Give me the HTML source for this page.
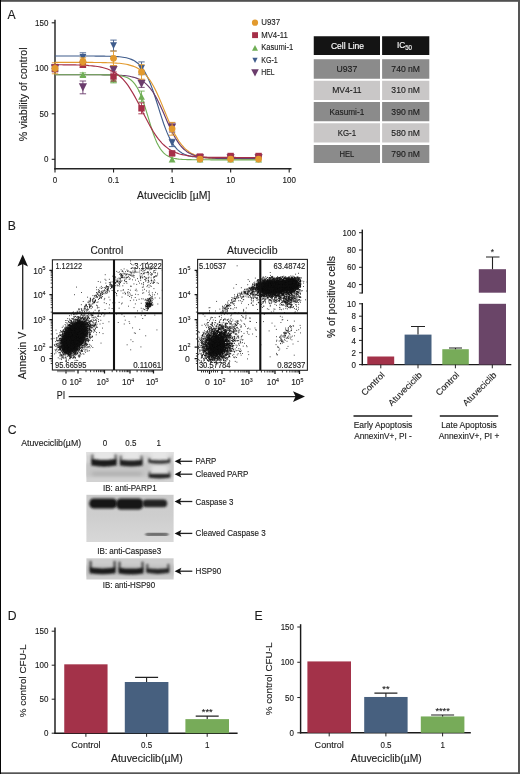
<!DOCTYPE html>
<html><head><meta charset="utf-8"><title>Figure</title>
<style>html,body{margin:0;padding:0;background:#fff;}body{width:520px;height:774px;overflow:hidden;font-family:"Liberation Sans",sans-serif;}svg{display:block;will-change:transform}svg text{stroke:#1c1c1c;stroke-width:0.13px}svg text.wh{stroke:#fff;stroke-width:0.15px}</style>
</head><body>
<svg width="520" height="774" viewBox="0 0 520 774" font-family="'Liberation Sans', sans-serif">
<rect x="0" y="0" width="520" height="774" fill="#fff"/>
<text x="7.6" y="19" font-size="12.2" fill="#1c1c1c">A</text>
<line x1="55.0" y1="19.8" x2="55.0" y2="169.4" stroke="#242424" stroke-width="1.45"/>
<line x1="54.3" y1="168.7" x2="291.5" y2="168.7" stroke="#242424" stroke-width="1.45"/>
<line x1="51.7" y1="22.80000000000001" x2="55.0" y2="22.80000000000001" stroke="#222" stroke-width="1.1"/>
<text x="48.4" y="25.900000000000013" font-size="8.6" text-anchor="end" textLength="13.34" lengthAdjust="spacingAndGlyphs" fill="#1c1c1c">150</text>
<line x1="51.7" y1="68.30000000000001" x2="55.0" y2="68.30000000000001" stroke="#222" stroke-width="1.1"/>
<text x="48.4" y="71.4" font-size="8.6" text-anchor="end" textLength="13.34" lengthAdjust="spacingAndGlyphs" fill="#1c1c1c">100</text>
<line x1="51.7" y1="113.80000000000001" x2="55.0" y2="113.80000000000001" stroke="#222" stroke-width="1.1"/>
<text x="48.4" y="116.9" font-size="8.6" text-anchor="end" textLength="8.90" lengthAdjust="spacingAndGlyphs" fill="#1c1c1c">50</text>
<line x1="51.7" y1="159.3" x2="55.0" y2="159.3" stroke="#222" stroke-width="1.1"/>
<text x="48.4" y="162.4" font-size="8.6" text-anchor="end" textLength="4.45" lengthAdjust="spacingAndGlyphs" fill="#1c1c1c">0</text>
<line x1="55.0" y1="168.7" x2="55.0" y2="172.6" stroke="#222" stroke-width="1.1"/>
<text x="55.0" y="183.2" font-size="8.6" text-anchor="middle" textLength="4.45" lengthAdjust="spacingAndGlyphs" fill="#1c1c1c">0</text>
<line x1="113.55" y1="168.7" x2="113.55" y2="172.6" stroke="#222" stroke-width="1.1"/>
<text x="113.55" y="183.2" font-size="8.6" text-anchor="middle" textLength="11.12" lengthAdjust="spacingAndGlyphs" fill="#1c1c1c">0.1</text>
<line x1="172.1" y1="168.7" x2="172.1" y2="172.6" stroke="#222" stroke-width="1.1"/>
<text x="172.1" y="183.2" font-size="8.6" text-anchor="middle" textLength="4.45" lengthAdjust="spacingAndGlyphs" fill="#1c1c1c">1</text>
<line x1="230.64999999999998" y1="168.7" x2="230.64999999999998" y2="172.6" stroke="#222" stroke-width="1.1"/>
<text x="230.64999999999998" y="183.2" font-size="8.6" text-anchor="middle" textLength="8.90" lengthAdjust="spacingAndGlyphs" fill="#1c1c1c">10</text>
<line x1="289.2" y1="168.7" x2="289.2" y2="172.6" stroke="#222" stroke-width="1.1"/>
<text x="289.2" y="183.2" font-size="8.6" text-anchor="middle" textLength="13.34" lengthAdjust="spacingAndGlyphs" fill="#1c1c1c">100</text>
<text x="26.6" y="94.3" font-size="10.4" text-anchor="middle" transform="rotate(-90 26.6 94.3)" textLength="93.83" lengthAdjust="spacingAndGlyphs" fill="#1c1c1c">% viability of control</text>
<text x="173.7" y="198.7" font-size="10.6" text-anchor="middle" textLength="73.35" lengthAdjust="spacingAndGlyphs" fill="#1c1c1c">Atuveciclib [µM]</text>
<path d="M55.0,56.0 L56.7,56.0 L58.4,56.0 L60.1,56.0 L61.8,56.0 L63.5,56.0 L65.2,56.0 L66.9,56.0 L68.6,56.0 L70.3,56.0 L72.0,56.0 L73.7,56.0 L75.4,56.0 L77.1,56.0 L78.8,56.0 L80.4,56.0 L82.1,56.0 L83.8,56.0 L85.5,56.0 L87.2,56.0 L88.9,56.0 L90.6,56.0 L92.3,56.0 L94.0,56.0 L95.7,56.1 L97.4,56.1 L99.1,56.1 L100.8,56.1 L102.5,56.1 L104.2,56.1 L105.9,56.2 L107.6,56.2 L109.3,56.2 L111.0,56.3 L112.7,56.3 L114.4,56.4 L116.1,56.5 L117.8,56.6 L119.5,56.8 L121.2,57.0 L122.9,57.2 L124.6,57.5 L126.3,57.8 L128.0,58.2 L129.6,58.7 L131.3,59.4 L133.0,60.1 L134.7,61.0 L136.4,62.2 L138.1,63.5 L139.8,65.1 L141.5,67.1 L143.2,69.4 L144.9,72.1 L146.6,75.2 L148.3,78.7 L150.0,82.7 L151.7,87.1 L153.4,91.9 L155.1,97.0 L156.8,102.3 L158.5,107.7 L160.2,113.2 L161.9,118.4 L163.6,123.5 L165.3,128.1 L167.0,132.4 L168.7,136.3 L170.4,139.7 L172.1,142.7 L173.8,145.3 L175.5,147.4 L177.2,149.3 L178.8,150.8 L180.5,152.1 L182.2,153.2 L183.9,154.1 L185.6,154.8 L187.3,155.4 L189.0,155.9 L190.7,156.3 L192.4,156.6 L194.1,156.8 L195.8,157.0 L197.5,157.2 L199.2,157.3 L200.9,157.5 L202.6,157.6 L204.3,157.6 L206.0,157.7 L207.7,157.7 L209.4,157.8 L211.1,157.8 L212.8,157.8 L214.5,157.8 L216.2,157.9 L217.9,157.9 L219.6,157.9 L221.3,157.9 L223.0,157.9 L224.7,157.9 L226.4,157.9 L228.0,157.9 L229.7,157.9 L231.4,157.9 L233.1,157.9 L234.8,157.9 L236.5,157.9 L238.2,157.9 L239.9,157.9 L241.6,157.9 L243.3,157.9 L245.0,157.9 L246.7,157.9 L248.4,157.9 L250.1,157.9 L251.8,157.9 L253.5,157.9 L255.2,157.9 L256.9,157.9 L258.6,157.9" fill="none" stroke="#3F5C8C" stroke-width="1.15"/>
<path d="M55.0,62.4 L56.7,62.4 L58.4,62.4 L60.1,62.4 L61.8,62.4 L63.5,62.4 L65.2,62.4 L66.9,62.4 L68.6,62.4 L70.3,62.4 L72.0,62.4 L73.7,62.4 L75.4,62.4 L77.1,62.4 L78.8,62.4 L80.4,62.4 L82.1,62.4 L83.8,62.4 L85.5,62.4 L87.2,62.4 L88.9,62.4 L90.6,62.4 L92.3,62.4 L94.0,62.5 L95.7,62.5 L97.4,62.5 L99.1,62.5 L100.8,62.5 L102.5,62.6 L104.2,62.6 L105.9,62.6 L107.6,62.7 L109.3,62.7 L111.0,62.8 L112.7,62.9 L114.4,63.0 L116.1,63.1 L117.8,63.2 L119.5,63.3 L121.2,63.5 L122.9,63.7 L124.6,64.0 L126.3,64.3 L128.0,64.6 L129.6,65.1 L131.3,65.6 L133.0,66.1 L134.7,66.8 L136.4,67.6 L138.1,68.5 L139.8,69.6 L141.5,70.8 L143.2,72.3 L144.9,73.9 L146.6,75.8 L148.3,78.0 L150.0,80.4 L151.7,83.0 L153.4,86.0 L155.1,89.2 L156.8,92.7 L158.5,96.4 L160.2,100.4 L161.9,104.4 L163.6,108.6 L165.3,112.8 L167.0,116.9 L168.7,121.0 L170.4,124.9 L172.1,128.6 L173.8,132.1 L175.5,135.4 L177.2,138.3 L178.8,141.0 L180.5,143.4 L182.2,145.5 L183.9,147.4 L185.6,149.1 L187.3,150.5 L189.0,151.8 L190.7,152.9 L192.4,153.8 L194.1,154.6 L195.8,155.3 L197.5,155.8 L199.2,156.3 L200.9,156.8 L202.6,157.1 L204.3,157.4 L206.0,157.7 L207.7,157.9 L209.4,158.1 L211.1,158.2 L212.8,158.3 L214.5,158.5 L216.2,158.5 L217.9,158.6 L219.6,158.7 L221.3,158.7 L223.0,158.8 L224.7,158.8 L226.4,158.9 L228.0,158.9 L229.7,158.9 L231.4,158.9 L233.1,158.9 L234.8,159.0 L236.5,159.0 L238.2,159.0 L239.9,159.0 L241.6,159.0 L243.3,159.0 L245.0,159.0 L246.7,159.0 L248.4,159.0 L250.1,159.0 L251.8,159.0 L253.5,159.0 L255.2,159.0 L256.9,159.0 L258.6,159.0" fill="none" stroke="#E29A2E" stroke-width="1.15"/>
<path d="M55.0,74.7 L56.7,74.7 L58.4,74.7 L60.1,74.7 L61.8,74.7 L63.5,74.7 L65.2,74.7 L66.9,74.7 L68.6,74.7 L70.3,74.7 L72.0,74.7 L73.7,74.7 L75.4,74.7 L77.1,74.7 L78.8,74.7 L80.4,74.7 L82.1,74.7 L83.8,74.7 L85.5,74.7 L87.2,74.7 L88.9,74.7 L90.6,74.7 L92.3,74.7 L94.0,74.7 L95.7,74.7 L97.4,74.7 L99.1,74.7 L100.8,74.7 L102.5,74.8 L104.2,74.8 L105.9,74.8 L107.6,74.8 L109.3,74.8 L111.0,74.9 L112.7,74.9 L114.4,75.0 L116.1,75.0 L117.8,75.1 L119.5,75.2 L121.2,75.3 L122.9,75.5 L124.6,75.6 L126.3,75.8 L128.0,76.0 L129.6,76.3 L131.3,76.7 L133.0,77.1 L134.7,77.5 L136.4,78.1 L138.1,78.8 L139.8,79.5 L141.5,80.5 L143.2,81.6 L144.9,82.9 L146.6,84.3 L148.3,86.1 L150.0,88.0 L151.7,90.3 L153.4,92.8 L155.1,95.6 L156.8,98.6 L158.5,101.9 L160.2,105.5 L161.9,109.2 L163.6,113.1 L165.3,117.0 L167.0,120.9 L168.7,124.7 L170.4,128.4 L172.1,131.9 L173.8,135.2 L175.5,138.2 L177.2,140.9 L178.8,143.4 L180.5,145.6 L182.2,147.5 L183.9,149.2 L185.6,150.6 L187.3,151.9 L189.0,152.9 L190.7,153.8 L192.4,154.6 L194.1,155.3 L195.8,155.8 L197.5,156.3 L199.2,156.7 L200.9,157.0 L202.6,157.2 L204.3,157.5 L206.0,157.7 L207.7,157.8 L209.4,157.9 L211.1,158.0 L212.8,158.1 L214.5,158.2 L216.2,158.3 L217.9,158.3 L219.6,158.4 L221.3,158.4 L223.0,158.4 L224.7,158.5 L226.4,158.5 L228.0,158.5 L229.7,158.5 L231.4,158.5 L233.1,158.5 L234.8,158.5 L236.5,158.5 L238.2,158.5 L239.9,158.5 L241.6,158.6 L243.3,158.6 L245.0,158.6 L246.7,158.6 L248.4,158.6 L250.1,158.6 L251.8,158.6 L253.5,158.6 L255.2,158.6 L256.9,158.6 L258.6,158.6" fill="none" stroke="#6B3C6C" stroke-width="1.15"/>
<path d="M55.0,74.7 L56.7,74.7 L58.4,74.7 L60.1,74.7 L61.8,74.7 L63.5,74.7 L65.2,74.7 L66.9,74.7 L68.6,74.7 L70.3,74.7 L72.0,74.7 L73.7,74.7 L75.4,74.7 L77.1,74.7 L78.8,74.7 L80.4,74.7 L82.1,74.7 L83.8,74.7 L85.5,74.7 L87.2,74.7 L88.9,74.7 L90.6,74.7 L92.3,74.7 L94.0,74.7 L95.7,74.7 L97.4,74.7 L99.1,74.7 L100.8,74.7 L102.5,74.7 L104.2,74.8 L105.9,74.8 L107.6,74.8 L109.3,74.9 L111.0,74.9 L112.7,75.0 L114.4,75.1 L116.1,75.2 L117.8,75.4 L119.5,75.6 L121.2,75.9 L122.9,76.2 L124.6,76.7 L126.3,77.3 L128.0,78.1 L129.6,79.1 L131.3,80.3 L133.0,81.9 L134.7,83.9 L136.4,86.3 L138.1,89.2 L139.8,92.7 L141.5,96.8 L143.2,101.5 L144.9,106.6 L146.6,112.1 L148.3,117.7 L150.0,123.4 L151.7,128.8 L153.4,133.8 L155.1,138.4 L156.8,142.4 L158.5,145.8 L160.2,148.6 L161.9,151.0 L163.6,152.8 L165.3,154.4 L167.0,155.6 L168.7,156.5 L170.4,157.2 L172.1,157.8 L173.8,158.3 L175.5,158.6 L177.2,158.9 L178.8,159.1 L180.5,159.2 L182.2,159.4 L183.9,159.5 L185.6,159.5 L187.3,159.6 L189.0,159.6 L190.7,159.6 L192.4,159.7 L194.1,159.7 L195.8,159.7 L197.5,159.7 L199.2,159.7 L200.9,159.7 L202.6,159.7 L204.3,159.7 L206.0,159.7 L207.7,159.7 L209.4,159.7 L211.1,159.8 L212.8,159.8 L214.5,159.8 L216.2,159.8 L217.9,159.8 L219.6,159.8 L221.3,159.8 L223.0,159.8 L224.7,159.8 L226.4,159.8 L228.0,159.8 L229.7,159.8 L231.4,159.8 L233.1,159.8 L234.8,159.8 L236.5,159.8 L238.2,159.8 L239.9,159.8 L241.6,159.8 L243.3,159.8 L245.0,159.8 L246.7,159.8 L248.4,159.8 L250.1,159.8 L251.8,159.8 L253.5,159.8 L255.2,159.8 L256.9,159.8 L258.6,159.8" fill="none" stroke="#6FAE55" stroke-width="1.15"/>
<path d="M55.0,64.7 L56.7,64.7 L58.4,64.7 L60.1,64.7 L61.8,64.7 L63.5,64.8 L65.2,64.8 L66.9,64.8 L68.6,64.8 L70.3,64.8 L72.0,64.9 L73.7,64.9 L75.4,64.9 L77.1,65.0 L78.8,65.0 L80.4,65.1 L82.1,65.2 L83.8,65.2 L85.5,65.3 L87.2,65.4 L88.9,65.6 L90.6,65.7 L92.3,65.9 L94.0,66.1 L95.7,66.3 L97.4,66.5 L99.1,66.8 L100.8,67.1 L102.5,67.5 L104.2,68.0 L105.9,68.5 L107.6,69.0 L109.3,69.7 L111.0,70.4 L112.7,71.3 L114.4,72.3 L116.1,73.3 L117.8,74.6 L119.5,76.0 L121.2,77.5 L122.9,79.2 L124.6,81.1 L126.3,83.2 L128.0,85.4 L129.6,87.9 L131.3,90.6 L133.0,93.4 L134.7,96.4 L136.4,99.5 L138.1,102.8 L139.8,106.1 L141.5,109.5 L143.2,112.9 L144.9,116.3 L146.6,119.6 L148.3,122.8 L150.0,126.0 L151.7,128.9 L153.4,131.8 L155.1,134.4 L156.8,136.8 L158.5,139.1 L160.2,141.2 L161.9,143.1 L163.6,144.8 L165.3,146.3 L167.0,147.6 L168.7,148.9 L170.4,149.9 L172.1,150.9 L173.8,151.7 L175.5,152.5 L177.2,153.1 L178.8,153.7 L180.5,154.2 L182.2,154.6 L183.9,155.0 L185.6,155.3 L187.3,155.6 L189.0,155.9 L190.7,156.1 L192.4,156.3 L194.1,156.4 L195.8,156.6 L197.5,156.7 L199.2,156.8 L200.9,156.9 L202.6,157.0 L204.3,157.0 L206.0,157.1 L207.7,157.2 L209.4,157.2 L211.1,157.2 L212.8,157.3 L214.5,157.3 L216.2,157.3 L217.9,157.3 L219.6,157.4 L221.3,157.4 L223.0,157.4 L224.7,157.4 L226.4,157.4 L228.0,157.4 L229.7,157.4 L231.4,157.4 L233.1,157.4 L234.8,157.4 L236.5,157.5 L238.2,157.5 L239.9,157.5 L241.6,157.5 L243.3,157.5 L245.0,157.5 L246.7,157.5 L248.4,157.5 L250.1,157.5 L251.8,157.5 L253.5,157.5 L255.2,157.5 L256.9,157.5 L258.6,157.5" fill="none" stroke="#A52F48" stroke-width="1.15"/>
<path d="M55.0,65.6V71.0M51.8,65.6h6.4M51.8,71.0h6.4" stroke="#6B3C6C" stroke-width="0.9" fill="none"/>
<path d="M55.0,72.4L59.1,64.2L50.9,64.2Z" fill="#6B3C6C"/>
<path d="M82.9,81.0V93.8M79.7,81.0h6.4M79.7,93.8h6.4" stroke="#6B3C6C" stroke-width="0.9" fill="none"/>
<path d="M82.9,91.5L87.0,83.3L78.8,83.3Z" fill="#6B3C6C"/>
<path d="M113.5,65.6V74.7M110.3,65.6h6.4M110.3,74.7h6.4" stroke="#6B3C6C" stroke-width="0.9" fill="none"/>
<path d="M113.5,74.2L117.6,66.0L109.5,66.0Z" fill="#6B3C6C"/>
<path d="M141.5,80.1V87.4M138.3,80.1h6.4M138.3,87.4h6.4" stroke="#6B3C6C" stroke-width="0.9" fill="none"/>
<path d="M141.5,87.9L145.6,79.7L137.4,79.7Z" fill="#6B3C6C"/>
<path d="M172.1,122.9V132.0M168.9,122.9h6.4M168.9,132.0h6.4" stroke="#6B3C6C" stroke-width="0.9" fill="none"/>
<path d="M172.1,131.6L176.2,123.4L168.0,123.4Z" fill="#6B3C6C"/>
<path d="M200.0,162.5L204.1,154.3L195.9,154.3Z" fill="#6B3C6C"/>
<path d="M230.6,162.5L234.7,154.3L226.5,154.3Z" fill="#6B3C6C"/>
<path d="M258.6,162.5L262.7,154.3L254.5,154.3Z" fill="#6B3C6C"/>
<path d="M55.0,65.6V71.0M51.8,65.6h6.4M51.8,71.0h6.4" stroke="#3F5C8C" stroke-width="0.9" fill="none"/>
<path d="M55.0,71.7L58.4,64.9L51.6,64.9Z" fill="#3F5C8C"/>
<path d="M82.9,52.8V61.9M79.7,52.8h6.4M79.7,61.9h6.4" stroke="#3F5C8C" stroke-width="0.9" fill="none"/>
<path d="M82.9,60.8L86.3,54.0L79.5,54.0Z" fill="#3F5C8C"/>
<path d="M113.5,40.1V51.0M110.3,40.1h6.4M110.3,51.0h6.4" stroke="#3F5C8C" stroke-width="0.9" fill="none"/>
<path d="M113.5,49.0L117.0,42.2L110.1,42.2Z" fill="#3F5C8C"/>
<path d="M141.5,61.9V74.7M138.3,61.9h6.4M138.3,74.7h6.4" stroke="#3F5C8C" stroke-width="0.9" fill="none"/>
<path d="M141.5,71.7L144.9,64.9L138.1,64.9Z" fill="#3F5C8C"/>
<path d="M172.1,139.3V146.6M168.9,139.3h6.4M168.9,146.6h6.4" stroke="#3F5C8C" stroke-width="0.9" fill="none"/>
<path d="M172.1,146.3L175.5,139.5L168.7,139.5Z" fill="#3F5C8C"/>
<path d="M200.0,161.8L203.4,155.0L196.6,155.0Z" fill="#3F5C8C"/>
<path d="M230.6,160.9L234.0,154.1L227.2,154.1Z" fill="#3F5C8C"/>
<path d="M258.6,160.9L262.0,154.1L255.2,154.1Z" fill="#3F5C8C"/>
<path d="M55.0,66.5V70.1M51.8,66.5h6.4M51.8,70.1h6.4" stroke="#6FAE55" stroke-width="0.9" fill="none"/>
<path d="M55.0,65.1L58.4,71.5L51.6,71.5Z" fill="#6FAE55"/>
<path d="M82.9,72.9V76.5M79.7,72.9h6.4M79.7,76.5h6.4" stroke="#6FAE55" stroke-width="0.9" fill="none"/>
<path d="M82.9,71.4L86.3,77.9L79.5,77.9Z" fill="#6FAE55"/>
<path d="M113.5,75.6V82.9M110.3,75.6h6.4M110.3,82.9h6.4" stroke="#6FAE55" stroke-width="0.9" fill="none"/>
<path d="M113.5,76.0L117.0,82.5L110.1,82.5Z" fill="#6FAE55"/>
<path d="M141.5,91.1V102.0M138.3,91.1h6.4M138.3,102.0h6.4" stroke="#6FAE55" stroke-width="0.9" fill="none"/>
<path d="M141.5,93.3L144.9,99.7L138.1,99.7Z" fill="#6FAE55"/>
<path d="M172.1,156.1L175.5,162.5L168.7,162.5Z" fill="#6FAE55"/>
<path d="M200.0,156.1L203.4,162.5L196.6,162.5Z" fill="#6FAE55"/>
<path d="M230.6,156.1L234.0,162.5L227.2,162.5Z" fill="#6FAE55"/>
<path d="M258.6,156.1L262.0,162.5L255.2,162.5Z" fill="#6FAE55"/>
<path d="M55.0,64.7V71.9M51.8,64.7h6.4M51.8,71.9h6.4" stroke="#A52F48" stroke-width="0.9" fill="none"/>
<rect x="51.8" y="65.1" width="6.4" height="6.4" fill="#A52F48"/>
<path d="M82.9,61.9V67.4M79.7,61.9h6.4M79.7,67.4h6.4" stroke="#A52F48" stroke-width="0.9" fill="none"/>
<rect x="79.7" y="61.5" width="6.4" height="6.4" fill="#A52F48"/>
<path d="M113.5,71.9V81.0M110.3,71.9h6.4M110.3,81.0h6.4" stroke="#A52F48" stroke-width="0.9" fill="none"/>
<rect x="110.3" y="73.3" width="6.4" height="6.4" fill="#A52F48"/>
<path d="M141.5,102.9V113.8M138.3,102.9h6.4M138.3,113.8h6.4" stroke="#A52F48" stroke-width="0.9" fill="none"/>
<rect x="138.3" y="105.1" width="6.4" height="6.4" fill="#A52F48"/>
<path d="M172.1,151.6V155.2M168.9,151.6h6.4M168.9,155.2h6.4" stroke="#A52F48" stroke-width="0.9" fill="none"/>
<rect x="168.9" y="150.2" width="6.4" height="6.4" fill="#A52F48"/>
<rect x="196.8" y="153.4" width="6.4" height="6.4" fill="#A52F48"/>
<rect x="227.4" y="152.8" width="6.4" height="6.4" fill="#A52F48"/>
<rect x="255.4" y="152.8" width="6.4" height="6.4" fill="#A52F48"/>
<path d="M55.0,62.8V73.8M51.8,62.8h6.4M51.8,73.8h6.4" stroke="#E29A2E" stroke-width="0.9" fill="none"/>
<circle cx="55.0" cy="68.3" r="3.4" fill="#E29A2E"/>
<path d="M82.9,57.8V65.1M79.7,57.8h6.4M79.7,65.1h6.4" stroke="#E29A2E" stroke-width="0.9" fill="none"/>
<circle cx="82.9" cy="61.5" r="3.4" fill="#E29A2E"/>
<path d="M113.5,51.0V65.6M110.3,51.0h6.4M110.3,65.6h6.4" stroke="#E29A2E" stroke-width="0.9" fill="none"/>
<circle cx="113.5" cy="58.3" r="3.4" fill="#E29A2E"/>
<path d="M141.5,64.7V79.2M138.3,64.7h6.4M138.3,79.2h6.4" stroke="#E29A2E" stroke-width="0.9" fill="none"/>
<circle cx="141.5" cy="71.9" r="3.4" fill="#E29A2E"/>
<path d="M172.1,122.4V135.2M168.9,122.4h6.4M168.9,135.2h6.4" stroke="#E29A2E" stroke-width="0.9" fill="none"/>
<circle cx="172.1" cy="128.8" r="3.4" fill="#E29A2E"/>
<circle cx="200.0" cy="159.1" r="3.4" fill="#E29A2E"/>
<circle cx="230.6" cy="159.1" r="3.4" fill="#E29A2E"/>
<circle cx="258.6" cy="159.1" r="3.4" fill="#E29A2E"/>
<circle cx="255.0" cy="22.7" r="3.1" fill="#E29A2E"/>
<text x="261.2" y="25.4" font-size="8.5" textLength="18.88" lengthAdjust="spacingAndGlyphs" fill="#1c1c1c">U937</text>
<rect x="252.1" y="32.2" width="5.9" height="5.9" fill="#A52F48"/>
<text x="261.2" y="38" font-size="8.5" textLength="26.58" lengthAdjust="spacingAndGlyphs" fill="#1c1c1c">MV4-11</text>
<path d="M255.0,45.0L258.0,50.8L252.0,50.8Z" fill="#6FAE55"/>
<text x="261.2" y="50.3" font-size="8.5" textLength="31.98" lengthAdjust="spacingAndGlyphs" fill="#1c1c1c">Kasumi-1</text>
<path d="M255.0,63.1L257.6,57.7L252.4,57.7Z" fill="#3F5C8C"/>
<text x="261.2" y="63.1" font-size="8.5" textLength="16.58" lengthAdjust="spacingAndGlyphs" fill="#1c1c1c">KG-1</text>
<path d="M255.0,76.6L258.8,69.2L251.2,69.2Z" fill="#6B3C6C"/>
<text x="261.2" y="75.4" font-size="8.5" textLength="13.38" lengthAdjust="spacingAndGlyphs" fill="#1c1c1c">HEL</text>
<rect x="313.75" y="36.25" width="66.25" height="18.75" fill="#141414"/>
<rect x="382.10" y="36.25" width="47.20" height="18.75" fill="#141414"/>
<text x="347.475" y="48.725" font-size="8.8" text-anchor="middle" textLength="33.20" lengthAdjust="spacingAndGlyphs" fill="#fff" class="wh">Cell Line</text>
<text x="404.40000000000003" y="47.825" font-size="8.8" text-anchor="middle" fill="#fff" class="wh" textLength="15" lengthAdjust="spacingAndGlyphs">IC<tspan font-size="6.5" dy="2.6">50</tspan></text>
<rect x="313.75" y="59.25" width="66.25" height="19.50" fill="#8B8B8B"/>
<rect x="382.10" y="59.25" width="47.20" height="19.50" fill="#8B8B8B"/>
<text x="346.875" y="72.1" font-size="8.8" text-anchor="middle" textLength="20.70" lengthAdjust="spacingAndGlyphs" fill="#1c1c1c">U937</text>
<text x="405.70000000000005" y="72.1" font-size="8.8" text-anchor="middle" textLength="28.70" lengthAdjust="spacingAndGlyphs" fill="#1c1c1c">740 nM</text>
<rect x="313.75" y="80.75" width="66.25" height="19.25" fill="#C9C7C7"/>
<rect x="382.10" y="80.75" width="47.20" height="19.25" fill="#C9C7C7"/>
<text x="346.875" y="93.475" font-size="8.8" text-anchor="middle" textLength="29.40" lengthAdjust="spacingAndGlyphs" fill="#1c1c1c">MV4-11</text>
<text x="405.70000000000005" y="93.475" font-size="8.8" text-anchor="middle" textLength="28.70" lengthAdjust="spacingAndGlyphs" fill="#1c1c1c">310 nM</text>
<rect x="313.75" y="102.00" width="66.25" height="19.25" fill="#8B8B8B"/>
<rect x="382.10" y="102.00" width="47.20" height="19.25" fill="#8B8B8B"/>
<text x="346.875" y="114.725" font-size="8.8" text-anchor="middle" textLength="34.70" lengthAdjust="spacingAndGlyphs" fill="#1c1c1c">Kasumi-1</text>
<text x="405.70000000000005" y="114.725" font-size="8.8" text-anchor="middle" textLength="28.70" lengthAdjust="spacingAndGlyphs" fill="#1c1c1c">390 nM</text>
<rect x="313.75" y="123.25" width="66.25" height="19.25" fill="#C9C7C7"/>
<rect x="382.10" y="123.25" width="47.20" height="19.25" fill="#C9C7C7"/>
<text x="346.875" y="135.975" font-size="8.8" text-anchor="middle" textLength="18.40" lengthAdjust="spacingAndGlyphs" fill="#1c1c1c">KG-1</text>
<text x="405.70000000000005" y="135.975" font-size="8.8" text-anchor="middle" textLength="28.70" lengthAdjust="spacingAndGlyphs" fill="#1c1c1c">580 nM</text>
<rect x="313.75" y="145.00" width="66.25" height="18.00" fill="#8B8B8B"/>
<rect x="382.10" y="145.00" width="47.20" height="18.00" fill="#8B8B8B"/>
<text x="346.875" y="157.1" font-size="8.8" text-anchor="middle" textLength="14.90" lengthAdjust="spacingAndGlyphs" fill="#1c1c1c">HEL</text>
<text x="405.70000000000005" y="157.1" font-size="8.8" text-anchor="middle" textLength="28.70" lengthAdjust="spacingAndGlyphs" fill="#1c1c1c">790 nM</text>
<text x="7.8" y="229.5" font-size="12.2" fill="#1c1c1c">B</text>
<filter id="blb" x="-30%" y="-30%" width="160%" height="160%"><feGaussianBlur stdDeviation="0.9"/></filter>
<clipPath id="c52"><rect x="52.4" y="259.8" width="109.9" height="110.19999999999999"/></clipPath>
<g clip-path="url(#c52)">
<ellipse cx="73.7" cy="337.4" rx="10.2" ry="18.6" transform="rotate(32 73.7 337.4)" fill="#161616" opacity="1" filter="url(#blb)"/>
<ellipse cx="148.5" cy="303.5" rx="1.6" ry="2.6" transform="rotate(20 148.5 303.5)" fill="#161616" opacity="0.75" filter="url(#blb)"/>
<path d="M74.9,340.9h.85M71.2,338.2h.85M68.1,344.2h.85M81.4,329.6h.85M80.2,329.7h.85M76.7,334.7h.85M69.5,353.3h.85M78.7,334.7h.85M57.0,345.8h.85M67.1,343.1h.85M75.1,334.7h.85M73.4,331.2h.85M77.2,336.0h.85M78.6,347.7h.85M82.3,336.4h.85M67.2,340.1h.85M71.6,339.8h.85M78.2,332.9h.85M67.0,338.1h.85M77.0,345.1h.85M70.9,344.5h.85M68.9,329.4h.85M80.2,340.8h.85M62.1,352.6h.85M69.4,335.7h.85M76.0,333.1h.85M70.4,351.6h.85M81.7,334.7h.85M82.8,326.8h.85M68.2,332.5h.85M74.0,330.5h.85M65.5,337.2h.85M66.4,343.5h.85M70.6,320.9h.85M67.6,349.8h.85M83.8,327.4h.85M72.1,332.2h.85M72.8,349.2h.85M80.1,328.9h.85M77.1,336.6h.85M84.8,326.3h.85M79.0,334.7h.85M72.0,353.7h.85M81.1,331.2h.85M60.9,351.3h.85M69.4,325.1h.85M77.7,341.8h.85M74.8,352.6h.85M75.9,332.4h.85M78.5,336.6h.85M79.8,339.7h.85M68.5,341.4h.85M79.2,329.0h.85M73.9,347.2h.85M79.1,324.2h.85M66.2,348.0h.85M71.6,337.6h.85M76.0,322.9h.85M74.1,323.4h.85M72.8,345.5h.85M83.6,330.8h.85M76.2,334.9h.85M77.3,337.8h.85M74.2,339.5h.85M76.7,332.7h.85M80.3,332.8h.85M85.5,322.1h.85M69.9,339.6h.85M78.1,340.1h.85M73.9,341.2h.85M70.9,314.9h.85M69.3,347.1h.85M76.9,334.8h.85M74.7,342.7h.85M72.7,333.5h.85M87.7,318.8h.85M70.5,341.5h.85M72.4,338.9h.85M57.8,357.8h.85M73.3,325.7h.85M78.0,340.7h.85M85.2,334.8h.85M63.6,350.0h.85M75.0,341.9h.85M66.6,320.5h.85M72.4,324.2h.85M70.2,327.4h.85M80.4,339.4h.85M74.0,339.1h.85M78.5,331.3h.85M80.6,342.6h.85M77.7,328.0h.85M82.2,311.8h.85M77.1,329.1h.85M77.8,338.3h.85M78.0,337.4h.85M58.9,345.1h.85M72.3,329.5h.85M61.6,341.2h.85M83.7,329.3h.85M76.8,322.6h.85M68.4,333.9h.85M85.2,335.8h.85M76.7,349.1h.85M77.9,328.8h.85M70.6,357.4h.85M70.5,336.3h.85M77.8,335.3h.85M76.5,322.2h.85M86.6,332.6h.85M80.3,325.1h.85M74.9,346.3h.85M75.0,336.7h.85M79.7,325.0h.85M60.4,354.7h.85M68.4,354.7h.85M72.5,332.9h.85M77.7,339.8h.85M80.5,340.6h.85M78.4,340.9h.85M89.0,330.1h.85M74.6,345.3h.85M59.2,349.2h.85M69.0,356.3h.85M67.5,347.2h.85M72.7,338.8h.85M71.9,342.8h.85M83.0,323.0h.85M81.2,336.0h.85M66.8,335.2h.85M76.1,345.0h.85M62.7,348.8h.85M82.6,331.5h.85M77.7,339.6h.85M69.0,332.5h.85M62.9,348.0h.85M75.8,328.2h.85M65.6,342.3h.85M65.5,349.3h.85M69.6,347.9h.85M63.5,357.3h.85M61.3,336.7h.85M76.1,330.6h.85M58.4,352.7h.85M73.1,333.6h.85M81.3,333.2h.85M78.7,332.9h.85M83.6,328.5h.85M66.2,327.5h.85M84.5,334.0h.85M70.1,338.3h.85M75.2,316.5h.85M87.7,340.7h.85M72.4,346.8h.85M82.7,321.7h.85M80.9,335.5h.85M68.8,344.3h.85M79.2,337.4h.85M72.7,337.0h.85M67.0,344.4h.85M78.8,330.4h.85M65.5,341.7h.85M92.6,319.2h.85M64.7,324.5h.85M79.2,333.7h.85M84.3,325.0h.85M75.9,339.4h.85M68.9,356.0h.85M72.1,332.6h.85M89.1,332.0h.85M63.6,346.6h.85M76.1,335.5h.85M67.2,337.6h.85M89.4,323.3h.85M61.4,342.9h.85M87.1,326.5h.85M86.8,325.0h.85M70.6,345.1h.85M59.4,352.5h.85M76.0,339.3h.85M69.5,342.8h.85M77.9,334.7h.85M78.0,332.8h.85M75.9,342.3h.85M70.1,334.5h.85M70.6,342.3h.85M74.0,338.6h.85M74.6,337.8h.85M67.1,334.6h.85M80.9,337.0h.85M75.1,333.2h.85M71.5,330.8h.85M64.5,352.8h.85M72.6,347.0h.85M55.9,338.2h.85M76.1,350.4h.85M65.4,336.3h.85M72.4,345.0h.85M77.1,333.8h.85M84.6,327.4h.85M76.5,339.2h.85M86.7,326.9h.85M73.8,325.8h.85M76.5,340.7h.85M77.4,342.9h.85M81.1,335.2h.85M84.8,346.6h.85M79.0,326.7h.85M86.6,344.3h.85M76.2,342.7h.85M78.8,329.4h.85M68.8,347.3h.85M81.0,337.8h.85M77.9,331.1h.85M80.7,332.0h.85M75.1,335.8h.85M75.8,341.3h.85M65.5,343.9h.85M66.9,332.9h.85M62.1,334.9h.85M73.1,344.5h.85M76.4,332.6h.85M65.9,335.0h.85M85.5,324.1h.85M75.1,325.9h.85M64.2,333.4h.85M82.2,333.8h.85M64.0,352.4h.85M68.6,327.0h.85M59.6,348.8h.85M64.0,338.2h.85M75.1,337.8h.85M80.3,334.3h.85M86.9,328.6h.85M64.8,346.4h.85M63.4,342.6h.85M73.4,338.0h.85M68.7,328.6h.85M67.5,347.2h.85M71.3,338.0h.85M69.9,335.6h.85M79.0,332.7h.85M70.2,336.0h.85M60.0,330.6h.85M69.0,345.3h.85M67.2,350.0h.85M68.0,332.0h.85M71.0,338.4h.85M79.0,335.4h.85M69.6,335.1h.85M72.8,338.3h.85M78.9,332.3h.85M63.7,339.1h.85M68.4,338.1h.85M67.7,345.9h.85M71.8,341.6h.85M74.5,331.9h.85M84.0,317.6h.85M79.9,328.8h.85M68.1,321.3h.85M71.2,344.1h.85M87.9,339.4h.85M81.5,338.5h.85M82.2,333.9h.85M75.6,332.7h.85M71.2,330.0h.85M74.9,324.8h.85M85.1,341.6h.85M72.8,339.2h.85M79.8,328.0h.85M71.0,344.6h.85M80.1,334.7h.85M78.2,348.7h.85M82.3,323.9h.85M73.1,333.9h.85M77.6,323.8h.85M74.9,330.4h.85M73.7,345.0h.85M80.5,326.5h.85M74.2,345.2h.85M75.0,338.6h.85M86.8,328.4h.85M82.0,348.3h.85M77.5,339.6h.85M70.3,342.4h.85M73.5,356.7h.85M74.9,322.7h.85M58.5,344.6h.85M77.5,326.5h.85M72.0,336.9h.85M68.0,335.0h.85M67.1,332.8h.85M74.9,338.8h.85M75.1,332.8h.85M70.0,345.1h.85M78.8,345.9h.85M77.1,330.8h.85M68.1,339.0h.85M67.4,343.8h.85M77.7,336.5h.85M86.6,338.9h.85M70.3,343.0h.85M79.0,309.2h.85M72.0,342.0h.85M76.5,337.3h.85M74.3,340.3h.85M77.7,339.2h.85M60.1,349.9h.85M68.9,334.3h.85M71.5,347.6h.85M73.5,344.4h.85M79.0,332.2h.85M75.9,332.9h.85M66.6,348.6h.85M73.6,332.1h.85M76.9,340.3h.85M72.4,346.3h.85M80.5,320.6h.85M73.8,335.7h.85M83.1,325.8h.85M75.0,328.0h.85M73.7,337.4h.85M71.7,355.9h.85M70.0,324.9h.85M76.9,330.9h.85M77.8,334.8h.85M65.2,348.7h.85M78.6,323.6h.85M62.2,341.5h.85M69.2,348.1h.85M84.4,324.9h.85M85.6,342.0h.85M68.0,339.5h.85M79.1,334.7h.85M63.1,342.0h.85M76.4,335.7h.85M66.3,347.2h.85M73.3,343.0h.85M72.8,338.0h.85M77.0,343.3h.85M79.1,325.0h.85M74.5,328.2h.85M77.7,338.9h.85M79.6,324.0h.85M74.4,338.5h.85M66.3,349.4h.85M72.2,343.8h.85M58.7,340.5h.85M75.2,337.8h.85M75.3,344.4h.85M69.5,337.7h.85M68.8,328.8h.85M70.3,342.7h.85M77.3,330.0h.85M72.2,332.9h.85M83.2,339.8h.85M81.6,349.9h.85M70.6,342.5h.85M79.5,338.9h.85M57.6,341.0h.85M80.6,334.8h.85M89.4,340.1h.85M76.0,336.4h.85M80.2,330.9h.85M76.3,320.2h.85M55.6,330.1h.85M76.1,329.6h.85M88.7,336.2h.85M72.6,336.6h.85M67.3,338.8h.85M73.7,344.3h.85M74.3,337.2h.85M77.3,341.4h.85M75.6,332.9h.85M76.4,331.5h.85M74.9,350.9h.85M71.6,330.7h.85M80.9,329.6h.85M73.6,354.7h.85M79.7,337.3h.85M74.1,335.3h.85M70.6,352.7h.85M72.6,336.2h.85M75.9,334.7h.85M75.4,330.8h.85M63.5,331.2h.85M74.9,342.7h.85M78.8,325.5h.85M80.7,343.0h.85M75.6,342.1h.85M82.4,323.9h.85M76.6,325.3h.85M74.5,335.4h.85M79.7,339.7h.85M82.7,316.1h.85M73.3,343.4h.85M70.8,347.3h.85M75.4,331.9h.85M69.1,328.4h.85M70.3,326.6h.85M67.7,341.3h.85M75.9,343.1h.85M72.3,335.5h.85M84.0,337.6h.85M75.6,338.3h.85M81.3,328.1h.85M79.2,355.0h.85M75.5,313.6h.85M75.6,338.9h.85M81.8,331.5h.85M67.4,336.4h.85M79.2,339.5h.85M63.4,343.0h.85M64.5,331.7h.85M70.4,338.1h.85M72.7,331.6h.85M67.5,343.2h.85M70.4,335.7h.85M77.4,339.4h.85M87.9,332.8h.85M67.9,342.4h.85M70.0,343.0h.85M70.0,329.1h.85M76.0,333.5h.85M66.0,352.9h.85M70.9,322.1h.85M78.9,331.4h.85M78.3,334.8h.85M79.3,326.1h.85M76.3,329.0h.85M73.6,329.0h.85M81.5,343.3h.85M75.3,333.2h.85M64.3,344.2h.85M79.2,338.5h.85M78.4,335.4h.85M80.0,341.6h.85M69.2,338.8h.85M78.6,330.3h.85M69.7,337.8h.85M75.5,341.2h.85M69.8,330.9h.85M76.8,334.4h.85M72.4,347.7h.85M70.8,338.6h.85M84.1,334.8h.85M72.4,344.1h.85M80.4,351.2h.85M77.0,344.8h.85M74.4,344.9h.85M72.9,311.9h.85M74.0,342.3h.85M70.2,336.1h.85M85.0,320.2h.85M69.6,353.1h.85M70.6,354.6h.85M71.6,342.4h.85M80.7,327.5h.85M58.7,343.5h.85M83.3,330.0h.85M73.8,346.4h.85M79.4,335.2h.85M61.0,354.6h.85M81.8,332.2h.85M66.6,322.9h.85M77.0,337.4h.85M82.1,313.9h.85M72.3,340.1h.85M76.2,328.8h.85M75.8,325.7h.85M72.6,333.6h.85M71.3,334.0h.85M71.0,353.4h.85M72.7,333.2h.85M79.5,338.6h.85M68.4,344.8h.85M79.0,334.5h.85M62.1,333.7h.85M81.6,328.3h.85M72.5,336.4h.85M73.1,333.9h.85M65.1,343.4h.85M67.9,340.3h.85M71.0,348.5h.85M70.3,349.8h.85M70.4,346.5h.85M81.7,326.8h.85M70.4,343.3h.85M66.3,331.0h.85M71.5,342.7h.85M71.8,341.3h.85M81.1,333.7h.85M81.2,331.7h.85M72.3,339.6h.85M70.9,338.6h.85M64.7,333.6h.85M72.0,339.9h.85M68.8,345.1h.85M75.6,332.7h.85M71.9,312.8h.85M64.1,333.5h.85M91.3,337.3h.85M61.8,357.8h.85M75.0,332.2h.85M65.9,326.2h.85M79.9,331.5h.85M71.1,335.4h.85M74.7,330.7h.85M72.5,334.0h.85M62.3,355.3h.85M78.4,337.9h.85M69.2,344.3h.85M77.6,332.8h.85M89.5,333.2h.85M60.1,338.9h.85M85.4,334.9h.85M82.3,332.3h.85M67.3,340.2h.85M73.9,327.4h.85M59.9,348.9h.85M95.5,322.9h.85M66.9,340.7h.85M71.4,333.2h.85M80.0,326.5h.85M74.5,349.9h.85M71.9,342.7h.85M72.2,336.5h.85M72.1,332.6h.85M54.0,345.6h.85M63.8,345.3h.85M73.9,337.6h.85M77.2,333.2h.85M66.4,341.6h.85M62.3,353.9h.85M78.8,335.0h.85M72.4,337.8h.85M78.6,329.8h.85M80.3,333.1h.85M81.1,339.5h.85M69.2,340.8h.85M65.9,341.4h.85M90.0,330.0h.85M76.6,338.8h.85M83.6,330.2h.85M73.9,323.8h.85M72.7,343.8h.85M81.5,326.0h.85M67.8,343.2h.85M66.4,340.1h.85M78.4,323.3h.85M84.2,343.6h.85M81.4,328.8h.85M72.7,343.4h.85M84.9,326.1h.85M80.6,327.4h.85M75.4,332.5h.85M82.1,337.7h.85M66.3,348.6h.85M72.3,333.7h.85M76.0,342.1h.85M86.9,323.0h.85M68.1,330.1h.85M83.9,322.0h.85M68.3,334.3h.85M68.3,334.5h.85M76.4,338.1h.85M75.3,337.9h.85M76.3,348.4h.85M61.9,337.2h.85M69.2,336.5h.85M67.0,344.4h.85M69.7,331.4h.85M79.9,342.6h.85M76.5,331.3h.85M73.9,335.9h.85M77.0,339.9h.85M61.9,330.9h.85M69.5,334.8h.85M74.2,330.2h.85M84.9,342.6h.85M63.2,342.4h.85M55.3,341.6h.85M66.1,353.5h.85M61.7,336.9h.85M69.3,351.1h.85M68.2,342.5h.85M81.9,338.7h.85M88.5,324.7h.85M75.4,336.7h.85M89.7,327.0h.85M74.4,341.2h.85M75.5,335.1h.85M65.0,337.4h.85M63.8,337.0h.85M82.5,329.0h.85M74.4,351.2h.85M69.2,324.5h.85M86.9,324.9h.85M78.3,317.0h.85M78.5,334.3h.85M75.6,336.2h.85M72.0,324.4h.85M60.9,343.2h.85M68.1,340.0h.85M76.9,335.1h.85M70.7,335.0h.85M76.1,343.7h.85M78.1,331.4h.85M79.6,344.5h.85M73.9,344.0h.85M78.3,327.2h.85M72.7,327.3h.85M79.8,329.7h.85M69.0,352.1h.85M75.4,348.3h.85M69.6,342.3h.85M73.6,334.0h.85M72.5,333.6h.85M77.2,331.9h.85M61.8,327.4h.85M79.8,328.0h.85M65.3,351.9h.85M81.2,336.7h.85M75.7,350.6h.85M84.4,345.7h.85M76.3,340.5h.85M66.7,336.9h.85M83.6,331.2h.85M85.6,327.4h.85M63.0,337.0h.85M67.3,340.5h.85M72.5,345.6h.85M74.2,333.9h.85M74.0,335.5h.85M78.4,337.8h.85M75.4,327.5h.85M73.0,353.7h.85M79.6,339.7h.85M64.0,349.6h.85M67.1,332.8h.85M74.6,343.6h.85M86.8,333.3h.85M62.8,340.1h.85M80.9,335.9h.85M68.6,331.9h.85M81.5,333.4h.85M74.3,331.4h.85M79.1,337.2h.85M62.2,336.3h.85M77.7,336.1h.85M78.1,339.8h.85M70.5,341.8h.85M75.0,341.5h.85M80.6,323.7h.85M91.4,325.3h.85M80.6,332.7h.85M81.9,322.5h.85M68.2,335.0h.85M82.6,337.5h.85M78.5,334.3h.85M73.6,339.4h.85M71.6,351.9h.85M66.5,337.3h.85M66.1,340.9h.85M83.1,333.5h.85M71.4,351.0h.85M75.5,328.4h.85M62.8,347.1h.85M72.2,343.4h.85M62.4,334.2h.85M67.7,330.9h.85M72.6,326.4h.85M66.3,340.3h.85M77.2,345.5h.85M80.9,332.2h.85M68.1,330.1h.85M68.6,339.9h.85M71.3,346.7h.85M66.7,341.2h.85M58.8,339.6h.85M83.1,336.5h.85M70.0,333.0h.85M61.0,359.6h.85M81.3,328.4h.85M85.5,334.2h.85M77.4,326.9h.85M82.8,331.1h.85M64.1,348.5h.85M66.1,348.4h.85M71.6,329.5h.85M69.6,357.7h.85M82.7,338.6h.85M72.2,351.1h.85M93.8,326.5h.85M74.0,339.8h.85M77.8,341.5h.85M79.4,329.2h.85M70.5,350.4h.85M74.4,343.0h.85M82.8,340.0h.85M77.4,326.8h.85M83.9,339.7h.85M73.2,342.9h.85M85.8,331.4h.85M70.1,329.2h.85M68.6,348.2h.85M87.8,341.7h.85M74.9,347.6h.85M69.7,326.1h.85M70.5,344.4h.85M70.6,340.8h.85M72.3,331.1h.85M73.1,331.7h.85M73.6,343.3h.85M72.3,342.8h.85M82.0,324.5h.85M76.6,340.7h.85M77.1,343.5h.85M70.3,349.5h.85M67.4,339.1h.85M78.7,320.5h.85M85.8,325.1h.85M76.5,322.7h.85M86.8,332.0h.85M72.6,337.9h.85M87.0,318.0h.85M68.7,338.8h.85M77.6,334.7h.85M82.9,341.0h.85M74.4,341.3h.85M76.4,322.6h.85M87.7,334.4h.85M61.8,345.0h.85M59.8,340.2h.85M67.3,328.1h.85M83.2,337.6h.85M64.2,349.4h.85M67.8,355.1h.85M68.8,342.5h.85M76.7,338.5h.85M72.1,340.1h.85M71.6,342.0h.85M68.2,346.9h.85M61.7,351.4h.85M83.8,322.1h.85M68.7,348.2h.85M61.1,340.2h.85M73.6,345.4h.85M75.3,333.9h.85M64.0,341.6h.85M81.8,327.2h.85M59.0,338.7h.85M78.7,355.7h.85M67.7,346.3h.85M74.1,335.1h.85M65.9,335.5h.85M76.5,350.8h.85M74.0,345.9h.85M64.0,350.1h.85M80.0,338.3h.85M71.0,348.1h.85M72.2,332.0h.85M71.9,330.8h.85M69.7,343.7h.85M59.6,358.8h.85M61.8,341.0h.85M75.3,343.0h.85M77.8,344.3h.85M61.7,342.7h.85M83.5,326.0h.85M74.6,327.2h.85M79.1,331.6h.85M77.2,332.1h.85M76.8,325.7h.85M61.9,340.7h.85M76.1,325.8h.85M64.1,342.9h.85M65.5,337.1h.85M69.4,337.8h.85M66.5,338.9h.85M71.8,335.6h.85M75.6,337.1h.85M65.1,328.1h.85M67.3,339.3h.85M70.2,326.4h.85M68.8,342.2h.85M76.8,343.0h.85M76.2,343.7h.85M57.8,343.7h.85M82.0,328.8h.85M76.8,333.7h.85M70.5,329.8h.85M76.0,328.1h.85M79.2,329.6h.85M57.8,349.4h.85M78.8,327.8h.85M73.0,341.2h.85M69.1,339.1h.85M75.0,336.9h.85M81.7,325.2h.85M91.8,327.5h.85M87.5,326.6h.85M75.1,336.7h.85M69.6,336.3h.85M70.4,335.9h.85M84.6,325.7h.85M62.5,335.2h.85M71.6,336.5h.85M62.9,342.7h.85M65.2,357.1h.85M85.7,345.5h.85M72.9,337.1h.85M81.7,326.1h.85M72.9,334.8h.85M77.9,346.6h.85M87.0,334.3h.85M72.2,340.2h.85M74.0,347.3h.85M69.5,350.2h.85M86.0,332.7h.85M74.2,348.1h.85M66.6,340.8h.85M72.6,351.4h.85M79.3,322.3h.85M68.4,342.4h.85M91.2,320.1h.85M62.5,336.3h.85M76.1,346.2h.85M81.9,321.5h.85M67.9,341.4h.85M68.6,355.2h.85M73.4,349.2h.85M59.2,347.3h.85M71.6,332.7h.85M77.8,331.0h.85M70.8,348.6h.85M69.0,324.8h.85M85.4,324.1h.85M68.8,325.7h.85M68.5,342.1h.85M72.3,324.3h.85M59.7,338.4h.85M74.2,340.3h.85M62.5,349.1h.85M83.9,337.9h.85M75.7,331.0h.85M63.4,344.0h.85M71.2,343.1h.85M81.5,342.6h.85M70.2,331.8h.85M86.1,327.7h.85M70.9,334.3h.85M59.5,349.3h.85M74.6,327.6h.85M68.1,348.5h.85M77.9,337.1h.85M83.8,336.2h.85M74.2,347.0h.85M72.1,347.3h.85M75.9,336.6h.85M78.6,329.5h.85M83.6,330.9h.85M71.8,334.5h.85M67.5,341.8h.85M72.7,338.9h.85M91.8,315.2h.85M73.6,328.5h.85M68.7,342.1h.85M69.8,332.7h.85M79.2,322.6h.85M68.1,321.7h.85M75.1,338.2h.85M77.6,337.5h.85M76.0,335.5h.85M60.9,350.4h.85M65.0,358.0h.85M74.4,334.2h.85M66.9,342.2h.85M91.3,327.6h.85M79.6,341.6h.85M56.6,344.4h.85M67.2,338.6h.85M71.9,342.4h.85M85.9,311.0h.85M75.4,337.7h.85M78.0,340.3h.85M76.8,319.3h.85M73.4,335.2h.85M68.3,329.9h.85M53.9,344.6h.85M77.4,333.6h.85M62.9,329.7h.85M68.3,338.1h.85M62.3,346.0h.85M79.9,333.3h.85M76.1,339.0h.85M71.1,342.4h.85M76.6,338.6h.85M72.8,337.4h.85M70.1,336.5h.85M87.5,320.8h.85M86.8,340.6h.85M73.5,321.4h.85M81.3,334.2h.85M89.5,326.0h.85M72.1,327.6h.85M70.7,345.1h.85M71.5,330.2h.85M70.0,339.2h.85M75.7,337.8h.85M66.5,335.9h.85M87.6,332.0h.85M78.1,341.2h.85M79.2,335.7h.85M72.6,331.2h.85M81.5,335.7h.85M78.6,350.4h.85M93.0,325.9h.85M87.3,323.5h.85M69.2,338.2h.85M70.3,344.2h.85M76.8,339.6h.85M74.6,360.4h.85M85.1,318.9h.85M79.5,333.3h.85M74.2,334.5h.85M69.3,335.8h.85M74.6,335.8h.85M71.4,332.2h.85M74.2,337.1h.85M71.8,329.3h.85M80.6,336.8h.85M75.1,331.4h.85M70.2,340.6h.85M84.8,336.0h.85M70.0,336.7h.85M76.7,334.9h.85M65.7,342.4h.85M76.5,340.1h.85M63.0,343.9h.85M70.5,329.6h.85M76.0,337.5h.85M68.4,335.2h.85M71.9,336.8h.85M71.5,332.1h.85M71.3,323.5h.85M72.9,338.7h.85M75.8,327.7h.85M73.9,331.2h.85M85.8,336.5h.85M73.9,341.8h.85M73.8,347.7h.85M80.1,327.7h.85M70.0,347.6h.85M84.8,331.3h.85M69.2,325.3h.85M77.1,347.0h.85M73.0,350.5h.85M86.9,324.4h.85M77.9,327.3h.85M67.1,346.9h.85M72.6,338.8h.85M76.6,331.3h.85M76.8,337.0h.85M82.5,342.8h.85M76.4,334.0h.85M69.8,337.1h.85M81.3,326.9h.85M65.7,344.3h.85M71.0,337.1h.85M73.7,325.1h.85M77.0,333.8h.85M68.1,346.9h.85M75.7,339.5h.85M73.0,341.8h.85M60.3,347.5h.85M82.7,334.1h.85M70.9,335.6h.85M69.3,322.4h.85M73.0,345.7h.85M72.2,329.0h.85M71.2,356.8h.85M70.3,333.4h.85M78.4,339.5h.85M66.0,361.5h.85M67.6,325.2h.85M69.2,325.8h.85M81.4,329.3h.85M82.2,317.3h.85M78.8,340.4h.85M67.2,340.4h.85M71.6,340.1h.85M70.7,347.5h.85M76.9,333.1h.85M80.8,322.6h.85M77.8,325.2h.85M68.4,325.5h.85M74.0,335.2h.85M68.4,339.5h.85M68.6,338.0h.85M59.9,353.2h.85M68.5,340.2h.85M67.8,345.4h.85M76.6,330.2h.85M77.8,345.3h.85M83.1,332.2h.85M78.1,327.0h.85M78.4,341.6h.85M70.4,341.4h.85M77.5,335.4h.85M77.1,342.4h.85M76.3,340.9h.85M82.3,330.6h.85M72.0,327.9h.85M64.3,346.0h.85M83.3,337.9h.85M69.1,348.1h.85M66.0,342.0h.85M75.7,341.6h.85M80.5,339.1h.85M73.1,347.9h.85M78.8,330.0h.85M73.5,331.8h.85M66.4,344.9h.85M84.3,351.1h.85M79.2,346.1h.85M76.3,336.6h.85M73.8,329.0h.85M80.2,331.0h.85M69.0,351.3h.85M78.7,334.2h.85M79.8,323.3h.85M79.9,335.4h.85M75.0,348.1h.85M60.3,345.1h.85M71.3,329.9h.85M65.4,333.4h.85M68.8,333.4h.85M68.2,330.0h.85M74.8,332.9h.85M73.8,336.6h.85M68.2,332.3h.85M61.0,358.1h.85M66.9,343.5h.85M66.5,328.0h.85M67.1,341.6h.85M70.0,346.8h.85M69.2,336.0h.85M72.7,347.6h.85M73.3,344.3h.85M67.1,328.1h.85M68.4,346.0h.85M79.2,336.9h.85M82.8,333.9h.85M70.9,339.7h.85M75.7,329.8h.85M71.6,324.1h.85M76.3,331.5h.85M68.6,356.1h.85M75.5,334.9h.85M66.2,344.6h.85M77.5,322.7h.85M67.1,346.6h.85M67.5,337.8h.85M74.5,347.2h.85M75.8,354.7h.85M65.9,338.4h.85M80.4,332.6h.85M72.1,347.9h.85M60.2,349.4h.85M78.3,327.5h.85M69.7,349.3h.85M78.3,329.8h.85M63.1,350.8h.85M79.6,336.2h.85M81.9,321.6h.85M71.2,341.1h.85M75.4,324.8h.85M67.3,318.6h.85M74.6,328.9h.85M79.4,335.6h.85M67.4,346.6h.85M77.8,337.1h.85M64.4,341.9h.85M76.2,360.3h.85M71.8,338.2h.85M70.7,352.1h.85M77.9,345.9h.85M78.2,330.5h.85M72.2,328.1h.85M69.4,338.2h.85M67.5,347.6h.85M79.9,342.7h.85M67.0,343.3h.85M77.8,335.1h.85M71.7,335.7h.85M78.0,334.4h.85M63.3,351.4h.85M61.3,344.9h.85M74.8,336.3h.85M70.2,333.8h.85M68.5,336.2h.85M79.0,336.3h.85M88.6,326.9h.85M67.6,342.4h.85M70.5,345.8h.85M87.1,323.4h.85M56.8,351.3h.85M69.7,349.2h.85M75.2,338.2h.85M78.8,320.5h.85M78.9,350.0h.85M71.8,332.2h.85M56.3,349.1h.85M61.8,357.2h.85M78.7,339.9h.85M69.8,336.4h.85M79.1,348.9h.85M65.7,352.0h.85M76.9,338.9h.85M74.1,342.0h.85M77.2,330.3h.85M70.6,340.4h.85M68.0,344.5h.85M73.3,340.4h.85M86.7,330.4h.85M74.4,342.7h.85M78.9,337.2h.85M75.2,337.9h.85M67.7,338.7h.85M84.4,334.1h.85M79.2,333.3h.85M73.0,333.8h.85M68.0,353.6h.85M72.2,334.0h.85M75.0,348.9h.85M73.1,357.1h.85M88.3,339.2h.85M70.1,343.0h.85M72.0,341.8h.85M69.2,336.8h.85M75.5,326.3h.85M73.9,343.0h.85M69.0,340.3h.85M73.8,333.3h.85M67.0,347.0h.85M80.8,344.1h.85M72.9,349.0h.85M68.2,342.6h.85M73.4,340.7h.85M86.5,335.5h.85M76.9,346.4h.85M82.7,331.7h.85M74.3,346.1h.85M74.9,339.2h.85M75.6,341.4h.85M84.8,331.7h.85M77.5,341.9h.85M76.7,322.8h.85M74.9,321.5h.85M79.4,334.7h.85M82.6,326.2h.85M67.6,338.8h.85M71.1,349.7h.85M69.2,337.1h.85M72.8,330.7h.85M69.4,339.5h.85M89.1,328.3h.85M65.5,333.9h.85M75.5,335.3h.85M78.2,336.2h.85M76.6,342.6h.85M79.0,331.2h.85M69.5,339.1h.85M72.1,328.5h.85M69.4,336.4h.85M69.7,350.3h.85M73.8,337.6h.85M71.1,325.8h.85M74.8,338.7h.85M72.8,327.4h.85M78.4,332.2h.85M86.0,329.8h.85M86.8,339.2h.85M71.8,336.1h.85M67.6,337.3h.85M64.7,332.0h.85M75.4,339.2h.85M77.1,328.3h.85M77.7,324.2h.85M64.2,332.8h.85M66.2,341.1h.85M83.6,327.1h.85M70.8,347.5h.85M75.1,332.8h.85M72.5,336.2h.85M62.9,336.4h.85M79.3,341.7h.85M79.5,325.2h.85M69.1,342.6h.85M79.8,331.3h.85M72.6,342.9h.85M75.2,340.4h.85M65.0,336.2h.85M77.6,339.0h.85M67.9,345.7h.85M76.4,329.3h.85M80.0,348.3h.85M82.6,333.8h.85M76.7,349.4h.85M63.3,348.8h.85M83.6,335.3h.85M66.2,342.7h.85M65.9,330.2h.85M79.5,333.9h.85M74.1,342.4h.85M79.0,332.1h.85M83.3,337.6h.85M72.2,341.5h.85M76.0,344.4h.85M74.0,341.9h.85M74.8,336.4h.85M81.8,323.6h.85M84.5,328.6h.85M79.5,326.5h.85M81.8,332.2h.85M72.0,342.9h.85M73.0,338.2h.85M76.8,325.1h.85M57.6,345.4h.85M68.6,339.0h.85M76.5,338.8h.85M83.8,324.5h.85M72.7,331.6h.85M82.8,336.7h.85M71.4,321.3h.85M85.4,334.9h.85M71.0,326.6h.85M75.0,341.4h.85M72.1,331.8h.85M73.9,347.0h.85M73.9,351.8h.85M75.3,338.0h.85M64.6,345.9h.85M70.4,327.8h.85M77.4,317.2h.85M68.1,346.9h.85M79.5,335.7h.85M71.1,339.6h.85M70.0,337.5h.85M65.7,360.0h.85M75.7,335.8h.85M71.9,342.9h.85M73.4,337.2h.85M71.3,323.8h.85M70.2,332.3h.85M79.1,344.0h.85M68.1,345.4h.85M75.3,344.6h.85M61.4,340.1h.85M74.7,332.3h.85M77.2,342.9h.85M67.8,343.1h.85M76.4,337.3h.85M76.0,344.2h.85M82.8,318.8h.85M73.2,316.8h.85M79.0,325.4h.85M72.9,335.3h.85M64.9,338.6h.85M77.8,344.0h.85M77.7,327.5h.85M68.0,339.4h.85M76.2,351.7h.85M77.5,332.5h.85M66.8,338.2h.85M83.7,329.3h.85M73.7,347.5h.85M71.4,347.7h.85M67.3,343.6h.85M78.2,334.7h.85M74.9,327.1h.85M87.6,328.9h.85M75.9,338.7h.85M69.3,342.9h.85M67.8,347.8h.85M80.9,339.6h.85M82.1,332.3h.85M71.0,339.5h.85M73.2,340.6h.85M68.0,354.4h.85M63.9,348.0h.85M71.6,335.7h.85M81.4,324.2h.85M86.7,328.5h.85M73.2,342.3h.85M78.6,326.3h.85M71.7,335.0h.85M72.5,335.8h.85M78.8,339.5h.85M81.1,326.9h.85M78.7,338.2h.85M67.6,336.5h.85M74.9,326.0h.85M73.9,327.4h.85M77.9,320.2h.85M84.7,335.0h.85M75.9,349.0h.85M61.8,338.6h.85M80.5,333.7h.85M61.3,331.7h.85M72.1,336.9h.85M70.6,339.4h.85M62.6,349.5h.85M89.5,327.8h.85M68.8,338.1h.85M80.6,337.3h.85M72.0,328.4h.85M75.2,336.4h.85M86.2,329.6h.85M81.9,336.7h.85M78.9,344.7h.85M73.5,341.7h.85M74.1,327.6h.85M62.4,337.7h.85M74.3,335.9h.85M74.5,341.2h.85M63.5,353.6h.85M73.0,335.9h.85M85.6,336.2h.85M67.4,338.1h.85M71.3,342.2h.85M72.7,330.3h.85M74.0,326.7h.85M79.7,332.1h.85M85.9,339.9h.85M71.8,338.9h.85M80.0,336.1h.85M68.6,348.4h.85M73.1,344.8h.85M80.7,326.9h.85M74.1,338.6h.85M77.3,333.4h.85M68.6,338.3h.85M78.5,342.1h.85M79.4,341.9h.85M59.3,355.9h.85M75.1,335.1h.85M62.7,348.2h.85M74.0,324.0h.85M64.0,341.8h.85M74.1,343.4h.85M67.4,326.9h.85M78.2,324.3h.85M78.6,346.6h.85M67.8,334.4h.85M67.4,340.2h.85M67.4,344.2h.85M79.6,331.5h.85M79.8,355.9h.85M69.5,345.3h.85M77.4,339.2h.85M74.3,341.1h.85M84.4,321.3h.85M70.1,346.6h.85M68.2,342.5h.85M76.2,336.8h.85M76.3,341.9h.85M66.9,335.1h.85M76.4,329.5h.85M76.7,326.1h.85M78.0,333.8h.85M54.0,353.9h.85M74.8,350.0h.85M68.8,354.5h.85M81.3,330.3h.85M74.8,330.7h.85M74.8,338.0h.85M79.1,336.1h.85M69.6,336.9h.85M73.0,342.8h.85M60.1,346.6h.85M69.3,338.9h.85M60.4,331.8h.85M71.0,339.2h.85M68.5,325.7h.85M74.5,341.0h.85M81.6,336.9h.85M74.1,326.1h.85M75.3,331.4h.85M76.9,347.9h.85M66.9,339.7h.85M67.9,338.0h.85M80.4,330.6h.85M82.5,327.6h.85M75.6,345.1h.85M68.5,341.1h.85M73.2,338.7h.85M76.8,326.3h.85M75.4,334.5h.85M62.7,343.9h.85M74.6,340.2h.85M77.5,336.2h.85M72.0,335.6h.85M71.3,331.1h.85M65.8,346.8h.85M64.5,346.9h.85M67.6,341.5h.85M69.9,335.4h.85M63.9,335.7h.85M70.5,333.7h.85M62.8,326.1h.85M71.0,344.2h.85M60.3,355.2h.85M74.7,336.9h.85M67.6,349.6h.85M70.1,333.4h.85M77.2,331.4h.85M71.8,335.9h.85M76.9,333.3h.85M81.4,329.8h.85M69.8,341.5h.85M76.6,329.1h.85M78.1,335.8h.85M62.2,332.0h.85M75.4,336.9h.85M71.0,334.1h.85M79.1,327.5h.85M67.5,340.1h.85M70.5,331.4h.85M78.1,350.8h.85M85.0,330.1h.85M83.2,328.4h.85M71.1,353.9h.85M82.1,329.1h.85M70.0,356.1h.85M78.2,325.2h.85M78.0,338.5h.85M78.4,341.1h.85M77.4,338.7h.85M67.4,332.4h.85M83.5,354.2h.85M81.2,338.9h.85M87.2,333.3h.85M73.8,331.3h.85M65.1,331.6h.85M77.1,341.4h.85M64.2,354.8h.85M83.9,334.7h.85M66.3,342.7h.85M59.9,349.0h.85M85.9,339.1h.85M74.6,350.2h.85M73.6,332.5h.85M72.9,312.9h.85M74.5,338.5h.85M92.5,325.8h.85M85.5,320.0h.85M84.9,333.6h.85M78.0,334.3h.85M71.0,337.6h.85M76.8,352.5h.85M62.0,334.8h.85M74.9,335.1h.85M83.0,341.2h.85M72.1,337.4h.85M70.0,343.1h.85M72.6,341.3h.85M90.9,314.0h.85M78.5,349.6h.85M81.8,332.9h.85M81.1,334.1h.85M83.6,336.1h.85M85.0,333.3h.85M71.3,341.2h.85M74.7,345.8h.85M75.7,329.4h.85M88.8,340.3h.85M74.7,324.4h.85M76.3,339.9h.85M75.4,338.7h.85M81.1,329.0h.85M71.7,348.0h.85M73.8,338.4h.85M64.6,337.7h.85M66.1,346.1h.85M56.0,337.8h.85M74.1,324.9h.85M72.7,344.5h.85M68.2,360.1h.85M73.1,345.2h.85M72.9,342.0h.85M74.3,336.5h.85M58.0,347.4h.85M80.1,341.7h.85M73.6,343.1h.85M76.8,337.4h.85M71.7,325.2h.85M74.3,334.6h.85M68.3,337.3h.85M65.2,340.5h.85M80.0,353.2h.85M82.2,324.0h.85M72.9,328.7h.85M81.2,340.4h.85M69.0,334.7h.85M68.0,336.3h.85M65.9,347.6h.85M68.1,338.1h.85M65.2,341.6h.85M81.4,339.5h.85M83.1,345.4h.85M67.1,350.8h.85M67.4,345.9h.85M76.9,338.1h.85M76.8,326.8h.85M66.8,346.5h.85M72.0,333.0h.85M86.0,335.2h.85M68.5,349.5h.85M69.9,323.8h.85M73.8,335.0h.85M72.9,352.3h.85M72.6,334.2h.85M79.0,335.7h.85M80.3,332.9h.85M70.4,330.7h.85M72.3,341.0h.85M67.1,337.2h.85M66.0,352.3h.85M71.3,335.4h.85M67.6,338.0h.85M69.7,342.9h.85M73.8,344.3h.85M73.7,338.8h.85M81.7,337.8h.85M77.8,333.2h.85M69.3,336.3h.85M75.3,342.0h.85M73.1,334.4h.85M60.2,343.3h.85M80.1,337.7h.85M69.3,330.4h.85M73.8,339.6h.85M70.9,345.5h.85M69.0,336.5h.85M71.5,349.4h.85M71.4,331.9h.85M72.9,347.8h.85M75.3,331.7h.85M80.3,324.0h.85M73.7,348.7h.85M74.5,339.8h.85M69.4,334.1h.85M67.1,346.1h.85M76.0,323.4h.85M81.5,327.3h.85M69.6,346.8h.85M72.4,330.3h.85M65.0,355.0h.85M70.4,347.3h.85M63.8,351.9h.85M63.0,339.4h.85M73.4,339.7h.85M65.6,338.3h.85M66.8,330.6h.85M78.7,334.5h.85M86.1,326.7h.85M76.8,335.3h.85M67.8,333.3h.85M83.4,327.4h.85M67.1,336.2h.85M83.5,327.2h.85M71.1,348.5h.85M83.0,322.4h.85M73.8,333.0h.85M75.7,345.3h.85M89.4,313.5h.85M76.9,340.6h.85M75.7,341.8h.85M73.2,327.9h.85M68.2,345.5h.85M79.1,331.6h.85M73.5,323.6h.85M73.3,331.6h.85M75.8,337.4h.85M68.0,344.2h.85M69.3,347.2h.85M67.4,342.5h.85M71.9,333.7h.85M76.5,326.5h.85M79.3,331.5h.85M67.7,344.8h.85M68.0,342.8h.85M80.9,344.7h.85M79.0,345.1h.85M70.0,330.0h.85M65.6,357.3h.85M67.4,354.9h.85M80.6,330.4h.85M71.6,338.2h.85M73.7,334.4h.85M69.5,340.4h.85M76.7,326.4h.85M70.4,331.0h.85M64.0,338.9h.85M76.0,340.8h.85M73.0,333.5h.85M75.2,331.5h.85M76.9,335.2h.85M65.0,326.0h.85M71.0,349.7h.85M83.6,344.6h.85M70.1,337.5h.85M83.6,327.2h.85M85.4,324.0h.85M76.1,341.0h.85M67.9,342.2h.85M70.1,341.0h.85M75.4,329.8h.85M73.1,333.4h.85M65.4,322.5h.85M73.6,339.4h.85M73.2,348.6h.85M80.7,339.3h.85M81.4,331.6h.85M68.1,335.3h.85M70.6,337.7h.85M72.9,334.0h.85M81.3,308.9h.85M77.4,326.8h.85M76.9,341.8h.85M68.2,333.8h.85M74.9,333.5h.85M64.7,353.9h.85M65.3,343.4h.85M77.5,334.4h.85M82.3,345.8h.85M73.0,332.3h.85M74.4,335.1h.85M55.9,349.9h.85M76.5,354.0h.85M71.6,337.9h.85M75.6,344.5h.85M81.8,342.0h.85M85.2,335.9h.85M74.9,339.3h.85M70.9,340.2h.85M62.7,349.1h.85M66.2,342.8h.85M80.9,328.6h.85M83.7,330.2h.85M82.9,333.0h.85M74.5,344.3h.85M69.8,338.3h.85M89.5,334.2h.85M77.0,349.9h.85M74.0,328.4h.85M76.8,336.2h.85M74.0,333.4h.85M67.7,347.4h.85M81.6,332.9h.85M82.0,335.3h.85M68.8,344.9h.85M80.0,337.5h.85M76.9,337.6h.85M84.0,342.3h.85M63.1,354.2h.85M86.9,318.8h.85M65.5,351.9h.85M63.7,346.5h.85M82.7,340.5h.85M79.1,335.6h.85M79.7,330.0h.85M69.2,343.7h.85M74.2,333.9h.85M68.9,341.5h.85M61.8,346.0h.85M71.7,337.0h.85M80.4,341.0h.85M75.1,334.9h.85M63.2,343.3h.85M71.6,331.9h.85M71.0,330.9h.85M74.1,336.0h.85M76.8,328.5h.85M73.1,340.9h.85M81.8,341.7h.85M70.1,337.8h.85M74.4,341.1h.85M78.1,337.5h.85M78.4,355.1h.85M82.6,322.9h.85M68.7,347.1h.85M65.6,327.7h.85M67.1,333.0h.85M82.3,337.7h.85M71.9,325.0h.85M84.6,329.2h.85M74.3,341.5h.85M79.6,324.6h.85M71.2,335.8h.85M69.6,322.2h.85M76.3,323.5h.85M70.9,325.5h.85M66.5,342.9h.85M70.4,326.2h.85M73.8,330.8h.85M78.4,326.8h.85M75.4,333.0h.85M80.8,322.4h.85M82.7,343.2h.85M77.3,338.7h.85M71.1,343.6h.85M63.3,355.2h.85M63.8,338.0h.85M72.2,351.5h.85M68.9,329.7h.85M79.4,321.3h.85M73.1,340.9h.85M60.9,341.5h.85M75.6,346.5h.85M71.2,325.4h.85M79.8,328.1h.85M76.5,333.6h.85M71.2,331.2h.85M66.2,342.3h.85M74.8,341.9h.85M75.2,351.3h.85M68.0,340.5h.85M79.2,333.1h.85M67.3,336.9h.85M61.7,340.5h.85M84.3,331.5h.85M85.1,324.2h.85M78.9,336.9h.85M77.2,329.2h.85M85.4,340.7h.85M59.2,346.4h.85M72.6,346.9h.85M78.0,327.1h.85M76.8,332.0h.85M72.8,333.4h.85M73.6,337.5h.85M89.5,334.9h.85M67.4,352.9h.85M78.2,340.1h.85M82.5,331.3h.85M73.4,328.3h.85M73.2,355.3h.85M75.3,325.2h.85M83.1,329.2h.85M66.0,358.9h.85M74.3,348.3h.85M67.1,340.5h.85M65.3,348.7h.85M75.7,327.5h.85M74.6,357.9h.85M85.9,325.0h.85M65.7,338.0h.85M68.4,351.6h.85M75.3,324.2h.85M72.5,336.5h.85M74.9,340.7h.85M81.0,319.2h.85M82.9,333.8h.85M71.7,339.1h.85M72.2,350.8h.85M68.2,339.6h.85M70.2,334.3h.85M67.4,344.5h.85M80.1,325.2h.85M69.6,329.0h.85M72.7,357.6h.85M64.8,336.0h.85M76.1,339.9h.85M61.4,348.2h.85M70.8,332.6h.85M82.1,333.9h.85M74.0,332.6h.85M70.7,335.8h.85M74.6,339.2h.85M76.8,342.4h.85M83.9,315.6h.85M79.2,337.0h.85M75.8,331.6h.85M76.1,343.9h.85M79.2,333.9h.85M72.8,345.4h.85M76.8,330.6h.85M86.9,338.5h.85M67.5,353.6h.85M61.8,342.5h.85M75.2,340.7h.85M68.7,333.6h.85M64.2,346.9h.85M70.1,334.8h.85M74.5,354.0h.85M69.0,343.4h.85M68.4,339.9h.85M72.6,336.1h.85M71.4,329.1h.85M75.5,354.5h.85M77.0,340.1h.85M82.1,329.7h.85M66.8,332.5h.85M70.5,352.6h.85M79.7,333.7h.85M55.9,344.1h.85M63.2,342.1h.85M69.9,333.1h.85M78.7,323.2h.85M75.0,344.2h.85M71.3,332.1h.85M86.7,336.4h.85M66.7,346.2h.85M59.6,340.1h.85M80.1,334.4h.85M80.5,330.9h.85M63.8,353.0h.85M65.1,339.1h.85M71.9,348.2h.85M81.4,345.3h.85M67.3,328.1h.85M83.9,333.9h.85M68.4,333.6h.85M76.4,319.7h.85M64.6,332.5h.85M59.8,342.2h.85M84.6,332.2h.85M65.6,336.6h.85M75.3,338.9h.85M61.0,345.9h.85M76.6,340.1h.85M76.2,338.0h.85M56.2,339.9h.85M71.1,332.2h.85M71.4,337.2h.85M72.6,331.3h.85M81.0,326.0h.85M79.3,335.0h.85M80.8,330.3h.85M62.3,349.2h.85M85.1,324.0h.85M78.7,334.2h.85M67.5,340.4h.85M76.0,345.8h.85M83.9,339.6h.85M85.0,338.9h.85M70.6,330.3h.85M83.9,324.6h.85M80.7,328.5h.85M73.0,340.4h.85M62.7,342.7h.85M67.0,342.8h.85M66.6,347.7h.85M84.7,340.8h.85M82.7,322.6h.85M77.1,329.7h.85M75.6,334.1h.85M71.5,341.8h.85M68.5,350.3h.85M67.3,336.4h.85M74.6,341.8h.85M72.7,344.1h.85M83.9,337.3h.85M67.9,345.6h.85M83.3,337.6h.85M78.6,337.4h.85M63.8,347.2h.85M80.7,323.3h.85M81.1,318.0h.85M65.0,334.8h.85M78.2,333.0h.85M84.6,321.8h.85M66.0,335.2h.85M77.8,340.7h.85M83.2,335.0h.85M77.9,330.3h.85M77.6,333.0h.85M75.2,352.9h.85M70.7,331.2h.85M77.1,335.1h.85M85.5,333.6h.85M77.0,322.3h.85M65.9,352.9h.85M77.1,335.7h.85M66.1,344.8h.85M78.3,337.9h.85M86.1,320.7h.85M59.7,335.2h.85M78.5,328.3h.85M68.6,335.3h.85M69.0,326.2h.85M74.9,336.8h.85M81.4,338.7h.85M73.7,338.4h.85M70.8,325.9h.85M72.7,339.8h.85M74.8,327.3h.85M79.6,332.0h.85M59.4,344.8h.85M67.3,349.2h.85M78.2,337.8h.85M75.3,329.1h.85M83.0,331.2h.85M78.4,334.9h.85M69.1,348.7h.85M63.0,342.1h.85M72.7,340.5h.85M72.0,336.8h.85M69.7,345.9h.85M63.4,339.1h.85M81.1,340.8h.85M66.8,337.4h.85M88.8,331.3h.85M71.3,339.0h.85M88.8,344.3h.85M79.2,339.2h.85M67.4,328.4h.85M62.5,342.5h.85M76.5,334.1h.85M81.5,322.1h.85M75.7,335.0h.85M85.5,343.0h.85M82.2,339.4h.85M77.4,325.1h.85M75.4,330.7h.85M75.1,336.9h.85M71.7,335.7h.85M80.4,324.0h.85M85.3,336.6h.85M81.8,335.3h.85M85.9,329.4h.85M75.7,319.3h.85M83.8,321.7h.85M62.0,349.4h.85M66.7,348.4h.85M61.6,346.3h.85M76.0,335.4h.85M68.7,343.0h.85M73.7,338.3h.85M72.7,336.7h.85M70.6,325.5h.85M72.0,341.7h.85M69.2,338.9h.85M72.6,341.4h.85M79.2,326.7h.85M74.1,340.5h.85M63.4,333.5h.85M73.4,334.0h.85M73.9,343.8h.85M71.3,335.3h.85M54.7,349.7h.85M73.3,336.8h.85M77.1,334.4h.85M65.4,337.4h.85M67.6,345.7h.85M71.6,348.8h.85M58.6,342.7h.85M64.4,333.6h.85M77.3,321.3h.85M72.4,337.0h.85M61.3,338.7h.85M68.5,354.9h.85M89.2,335.5h.85M69.1,350.7h.85M77.7,339.9h.85M74.6,343.6h.85M81.2,331.9h.85M80.3,325.1h.85M78.2,322.8h.85M69.1,315.7h.85M70.1,334.8h.85M78.7,340.3h.85M77.9,331.8h.85M75.4,319.2h.85M76.9,348.3h.85M65.6,328.5h.85M69.9,331.0h.85M86.7,328.8h.85M77.2,345.5h.85M74.0,346.7h.85M76.1,332.3h.85M65.3,347.9h.85M59.6,354.1h.85M70.3,355.8h.85M57.4,337.9h.85M78.5,333.7h.85M81.3,347.7h.85M78.0,331.3h.85M56.5,333.7h.85M80.8,336.3h.85M64.1,337.9h.85M65.6,332.7h.85M77.5,339.5h.85M82.7,325.9h.85M78.4,337.9h.85M79.3,325.1h.85M63.9,344.8h.85M63.2,344.8h.85M74.8,339.3h.85M74.9,336.2h.85M74.0,341.4h.85M81.9,332.4h.85M80.0,324.4h.85M80.6,344.4h.85M76.8,336.9h.85M76.7,342.9h.85M67.0,337.6h.85M71.4,336.5h.85M76.2,329.5h.85M73.4,335.7h.85M72.5,332.7h.85M72.6,324.2h.85M68.5,338.3h.85M77.3,332.2h.85M74.7,332.4h.85M64.9,339.8h.85M69.6,338.4h.85M76.9,336.1h.85M78.2,329.1h.85M65.0,340.2h.85M75.8,337.9h.85M84.5,322.1h.85M91.5,328.7h.85M74.3,349.3h.85M85.9,332.1h.85M78.3,340.2h.85M71.0,341.0h.85M82.4,342.4h.85M77.3,341.9h.85M70.8,334.7h.85M78.2,337.3h.85M73.2,344.9h.85M66.0,340.4h.85M73.8,334.8h.85M61.1,340.4h.85M75.1,337.8h.85M72.4,341.6h.85M68.0,350.8h.85M77.2,334.8h.85M71.1,342.5h.85M79.5,339.4h.85M76.4,335.8h.85M74.3,345.7h.85M77.4,326.4h.85M78.5,333.1h.85M67.5,333.9h.85M73.8,317.6h.85M73.5,333.7h.85M77.6,326.8h.85M76.9,338.8h.85M73.6,332.1h.85M79.1,333.0h.85M76.3,327.8h.85M71.7,336.5h.85M70.8,344.8h.85M82.6,338.2h.85M74.0,341.1h.85M79.0,327.8h.85M74.8,337.2h.85M65.7,339.9h.85M80.2,328.8h.85M67.5,334.2h.85M79.9,339.8h.85M63.8,343.9h.85M86.1,332.6h.85M79.0,323.2h.85M73.3,330.3h.85M74.7,332.0h.85M81.1,339.7h.85M74.4,333.9h.85M75.3,337.6h.85M72.2,342.0h.85M84.2,337.1h.85M57.9,350.3h.85M71.7,349.8h.85M86.9,318.3h.85M79.8,339.7h.85M60.7,356.3h.85M69.0,339.9h.85M72.7,332.9h.85M79.3,328.4h.85M87.7,341.7h.85M75.9,343.6h.85M75.5,347.6h.85M79.3,330.0h.85M86.3,334.1h.85M80.7,326.3h.85M78.7,341.0h.85M63.6,347.3h.85M78.9,335.1h.85M91.4,327.6h.85M77.5,336.0h.85M66.3,347.3h.85M74.0,334.5h.85M77.0,338.6h.85M66.4,343.2h.85M70.3,354.8h.85M60.5,340.7h.85M76.6,330.5h.85M76.9,328.5h.85M87.7,322.4h.85M75.1,336.4h.85M76.6,341.3h.85M81.8,320.1h.85M71.2,347.7h.85M72.1,324.4h.85M65.7,339.9h.85M79.0,334.3h.85M64.9,339.8h.85M67.6,325.8h.85M76.3,331.7h.85M88.0,324.9h.85M69.6,341.1h.85M69.0,337.4h.85M78.7,339.5h.85M65.2,348.6h.85M84.7,327.6h.85M66.0,341.4h.85M62.0,339.4h.85M79.8,328.4h.85M63.6,338.6h.85M69.5,338.9h.85M80.2,322.3h.85M79.4,339.5h.85M76.3,331.5h.85M69.5,358.7h.85M74.7,331.3h.85M68.9,335.2h.85M62.4,340.1h.85M78.7,334.8h.85M78.3,338.2h.85M77.0,333.4h.85M72.2,346.0h.85M82.6,329.7h.85M77.8,326.0h.85M74.8,348.7h.85M72.0,342.6h.85M73.0,338.9h.85M69.9,337.9h.85M73.9,357.0h.85M65.8,330.1h.85M64.1,341.2h.85M58.3,335.7h.85M84.3,337.5h.85M76.1,341.4h.85M71.0,328.9h.85M72.0,322.8h.85M69.3,340.8h.85M80.6,327.7h.85M69.4,335.9h.85M74.4,336.7h.85M83.9,335.6h.85M77.5,331.5h.85M80.5,343.2h.85M74.7,335.7h.85M90.0,327.7h.85M76.1,332.5h.85M75.6,345.4h.85M76.0,343.7h.85M70.4,343.8h.85M76.5,334.5h.85M76.7,336.6h.85M63.1,342.9h.85M81.5,343.7h.85M68.9,335.6h.85M70.7,342.6h.85M77.0,326.3h.85M77.4,333.4h.85M67.7,337.4h.85M69.7,336.4h.85M68.3,328.0h.85M82.9,330.6h.85M83.6,337.1h.85M68.8,327.6h.85M76.1,338.2h.85M65.2,339.4h.85M78.3,335.4h.85M70.6,339.9h.85M68.7,339.6h.85M78.5,340.9h.85M64.3,349.0h.85M83.2,325.5h.85M78.4,338.5h.85M63.3,341.7h.85M58.9,346.1h.85M79.0,337.8h.85M68.6,338.6h.85M78.6,335.9h.85M66.2,329.8h.85M59.4,334.3h.85M71.1,332.9h.85M77.5,346.8h.85M82.5,328.3h.85M76.0,335.6h.85M70.7,341.8h.85M79.1,319.8h.85M71.3,343.0h.85M82.0,332.7h.85M68.5,344.5h.85M66.8,335.8h.85M72.0,335.3h.85M80.3,331.3h.85M70.4,343.6h.85M69.1,338.3h.85M76.3,344.2h.85M63.9,335.6h.85M73.7,345.7h.85M79.5,317.4h.85M70.5,339.1h.85M68.8,349.5h.85M74.8,338.5h.85M83.5,319.0h.85M81.5,333.5h.85M68.0,340.6h.85M84.7,327.2h.85M69.5,333.0h.85M80.6,331.9h.85M91.4,324.3h.85M79.0,331.8h.85M71.6,335.2h.85M76.4,335.6h.85M82.0,335.3h.85M72.8,333.3h.85M84.9,335.5h.85M71.7,345.0h.85M79.0,334.6h.85M75.9,333.1h.85M81.1,343.0h.85M75.8,319.7h.85M63.4,358.4h.85M68.1,341.1h.85M67.6,350.8h.85M71.0,336.2h.85M89.4,337.3h.85M86.4,329.1h.85M74.8,342.4h.85M79.0,340.9h.85M76.5,332.6h.85M73.2,330.9h.85M84.6,335.4h.85M74.6,341.7h.85M70.0,353.0h.85M73.4,327.5h.85M82.9,324.0h.85M59.0,346.9h.85M76.8,329.7h.85M72.0,324.2h.85M77.8,340.9h.85M73.6,344.6h.85M73.6,341.1h.85M85.7,341.2h.85M71.3,349.2h.85M75.0,323.8h.85M84.9,343.3h.85M65.3,320.5h.85M64.8,334.2h.85M71.9,332.8h.85M67.2,339.3h.85M73.1,333.7h.85M68.3,343.7h.85M71.8,331.7h.85M71.6,323.8h.85M74.0,333.0h.85M78.5,323.1h.85M64.4,338.6h.85M86.4,323.5h.85M66.9,344.8h.85M76.1,349.2h.85M66.5,328.2h.85M79.0,338.3h.85M76.0,338.6h.85M74.2,338.8h.85M71.6,333.6h.85M76.3,335.1h.85M70.5,335.6h.85M70.0,345.9h.85M66.7,323.9h.85M77.4,345.4h.85M75.0,328.1h.85M75.9,323.9h.85M78.9,349.1h.85M70.7,340.1h.85M61.1,347.3h.85M67.4,346.1h.85M69.7,354.7h.85M69.3,338.3h.85M74.1,344.4h.85M79.4,324.1h.85M89.1,329.3h.85M81.8,327.6h.85M69.6,350.9h.85M72.7,341.1h.85M63.3,351.2h.85M70.6,332.8h.85M83.0,339.8h.85M71.8,333.5h.85M75.5,312.4h.85M71.2,345.7h.85M60.3,335.3h.85M78.9,337.7h.85M76.7,347.8h.85M81.8,336.8h.85M66.3,349.3h.85M91.0,330.6h.85M80.3,327.0h.85M71.8,334.0h.85M76.0,326.7h.85M64.9,330.4h.85M74.7,354.3h.85M75.1,337.5h.85M62.9,354.4h.85M77.0,316.7h.85M61.4,355.5h.85M70.2,340.9h.85M61.3,343.2h.85M70.7,348.9h.85M77.4,340.1h.85M71.2,347.5h.85M72.0,341.0h.85M78.5,330.1h.85M64.4,335.2h.85M77.8,339.1h.85M70.4,342.1h.85M58.9,347.4h.85M81.8,337.9h.85M64.5,334.9h.85M64.7,335.8h.85M81.4,345.1h.85M74.6,334.5h.85M77.1,328.0h.85M76.4,335.3h.85M69.2,329.5h.85M81.4,334.3h.85M76.3,348.7h.85M77.1,339.1h.85M80.7,335.5h.85M67.9,340.6h.85M78.5,336.1h.85M78.2,333.7h.85M76.6,344.4h.85M81.1,336.7h.85M65.9,360.4h.85M62.7,357.2h.85M71.1,342.9h.85M70.0,340.2h.85M76.4,336.8h.85M58.0,336.2h.85M72.5,345.1h.85M71.6,345.2h.85M67.6,337.5h.85M87.4,332.9h.85M73.1,338.0h.85M72.3,325.8h.85M74.8,347.5h.85M76.0,328.7h.85M71.6,344.5h.85M64.5,347.0h.85M61.1,331.9h.85M80.3,334.8h.85M72.4,324.6h.85M63.6,345.1h.85M77.0,353.7h.85M67.5,344.2h.85M77.0,337.0h.85M75.9,322.5h.85M78.9,330.7h.85M68.7,347.1h.85M74.4,353.3h.85M74.9,346.1h.85M77.4,325.1h.85M69.9,344.9h.85M72.8,348.3h.85M71.1,333.7h.85M73.8,344.9h.85M74.5,353.9h.85M69.0,343.0h.85M76.8,349.5h.85M84.1,334.5h.85M77.5,332.3h.85M85.4,325.7h.85M78.7,335.5h.85M78.8,332.2h.85M65.4,333.9h.85M78.0,317.0h.85M59.6,352.5h.85M89.3,325.4h.85M72.0,342.9h.85M64.3,331.6h.85M73.5,340.8h.85M74.0,324.3h.85M55.0,350.8h.85M75.8,334.9h.85M75.3,336.5h.85M65.5,336.2h.85M77.9,334.8h.85M82.6,336.3h.85M56.5,340.3h.85M75.0,358.0h.85M71.1,345.8h.85M77.2,339.6h.85M87.5,309.9h.85M70.1,336.9h.85M77.5,336.9h.85M75.2,349.0h.85M81.7,329.4h.85M72.1,337.5h.85M68.6,352.5h.85M66.5,343.7h.85M74.4,326.5h.85M75.2,344.0h.85M79.9,320.3h.85M76.2,326.5h.85M78.1,335.6h.85M72.9,349.5h.85M83.1,323.0h.85M69.6,331.7h.85M83.1,323.1h.85M71.0,349.9h.85M63.2,347.0h.85M69.6,358.6h.85M81.9,317.6h.85M67.8,340.9h.85M73.6,343.5h.85M76.4,322.6h.85M67.5,328.4h.85M81.1,324.8h.85M77.5,347.5h.85M79.8,342.2h.85M87.1,333.6h.85M70.0,343.9h.85M74.7,333.8h.85M78.1,322.9h.85M85.3,333.3h.85M59.4,350.2h.85M66.7,343.0h.85M74.9,333.6h.85M72.0,335.3h.85M75.7,339.4h.85M73.8,329.0h.85M69.6,336.0h.85M66.1,334.5h.85M81.8,331.6h.85M69.9,336.3h.85M68.3,339.0h.85M73.8,354.6h.85M84.5,307.1h.85M70.7,348.4h.85M69.4,327.8h.85M66.7,354.4h.85M70.5,357.6h.85M71.7,341.5h.85M71.1,335.7h.85M71.7,337.6h.85M79.6,327.0h.85M71.1,336.0h.85M67.1,340.2h.85M82.6,342.7h.85M80.5,329.0h.85M87.0,326.9h.85M74.1,335.1h.85M69.5,346.9h.85M64.7,335.1h.85M76.5,353.4h.85M77.2,337.1h.85M72.6,334.3h.85M81.3,336.8h.85M74.7,341.3h.85M76.7,327.6h.85M71.1,333.7h.85M75.1,331.3h.85M75.9,325.8h.85M80.8,322.8h.85M65.3,341.4h.85M73.1,329.4h.85M89.0,326.6h.85M69.7,328.9h.85M70.2,335.3h.85M66.7,353.2h.85M82.3,318.0h.85M84.0,334.6h.85M67.3,344.0h.85M77.4,336.5h.85M69.1,347.2h.85M77.8,341.0h.85M63.1,348.5h.85M69.8,340.4h.85M74.5,329.6h.85M84.2,313.1h.85M82.9,333.6h.85M77.7,328.9h.85M68.4,343.2h.85M77.7,332.3h.85M79.5,334.3h.85M64.9,341.6h.85M78.7,324.2h.85M74.7,355.6h.85M65.2,341.2h.85M73.3,326.1h.85M74.4,347.4h.85M81.6,351.3h.85M87.0,344.5h.85M74.7,336.4h.85M69.5,341.8h.85M71.2,341.3h.85M71.6,327.3h.85M59.2,338.5h.85M81.0,325.0h.85M73.5,337.2h.85M80.4,330.2h.85M77.3,330.0h.85M72.9,338.1h.85M69.6,355.5h.85M61.1,347.1h.85M77.4,332.1h.85M86.0,335.8h.85M89.7,326.4h.85M82.4,345.2h.85M69.0,344.1h.85M77.8,328.6h.85M71.5,337.2h.85M69.0,319.0h.85M85.2,330.2h.85M76.1,339.5h.85M74.2,348.4h.85M84.8,309.9h.85M80.6,325.9h.85M69.8,338.6h.85M66.9,335.1h.85M74.9,353.2h.85M76.3,339.1h.85M77.6,336.2h.85M61.6,346.8h.85M81.7,335.2h.85M65.3,344.8h.85M71.5,347.8h.85M75.7,334.6h.85M72.2,343.6h.85M70.4,334.8h.85M72.3,332.6h.85M81.6,331.5h.85M73.1,344.6h.85M70.8,334.7h.85M61.3,339.7h.85M69.8,347.4h.85M76.9,325.7h.85M76.2,337.0h.85M79.8,332.3h.85M83.6,329.7h.85M71.8,344.6h.85M61.2,355.6h.85M76.7,338.9h.85M76.2,342.2h.85M76.5,324.2h.85M72.3,342.4h.85M77.0,333.8h.85M72.4,327.1h.85M83.2,334.5h.85M81.4,329.6h.85M74.5,340.4h.85M65.9,333.2h.85M70.6,342.1h.85M66.8,338.7h.85M70.9,338.1h.85M73.9,336.6h.85M79.4,338.9h.85M76.4,337.4h.85M53.6,338.4h.85M75.0,342.5h.85M69.1,338.2h.85M71.8,349.9h.85M72.3,342.3h.85M82.0,329.8h.85M84.5,318.8h.85M81.9,331.7h.85M70.7,342.7h.85M66.1,338.8h.85M71.6,332.6h.85M78.7,321.6h.85M71.5,342.0h.85M71.4,341.6h.85M64.0,338.0h.85M55.5,352.9h.85M83.6,326.4h.85M72.4,334.7h.85M74.5,339.4h.85M63.0,346.1h.85M75.3,348.2h.85M74.0,349.3h.85M84.4,349.1h.85M73.6,338.0h.85M84.8,329.0h.85M73.5,326.6h.85M87.5,333.1h.85M71.0,336.7h.85M73.1,349.1h.85M75.3,335.0h.85M75.3,352.1h.85M78.1,330.2h.85M76.7,322.6h.85M73.5,327.2h.85M79.6,325.1h.85M78.0,326.2h.85M81.2,337.5h.85M69.7,344.9h.85M73.6,346.6h.85M69.0,341.1h.85M78.3,342.4h.85M68.4,345.6h.85M69.5,338.3h.85M69.1,343.2h.85M67.4,331.1h.85M69.4,331.9h.85M84.7,343.9h.85M68.6,344.9h.85M77.2,342.3h.85M62.9,335.8h.85M66.5,350.8h.85M80.1,338.4h.85M74.3,343.6h.85M74.6,349.7h.85M70.2,335.9h.85M83.0,341.0h.85M63.6,340.4h.85M63.2,342.1h.85M75.2,338.7h.85M73.9,339.2h.85M78.4,326.9h.85M56.6,340.6h.85M71.8,333.3h.85M74.5,340.5h.85M68.7,328.9h.85M69.3,345.2h.85M78.5,341.9h.85M61.5,335.2h.85M71.9,323.0h.85M70.8,346.3h.85M80.3,353.2h.85M77.5,337.0h.85M82.1,347.4h.85M73.1,330.8h.85M72.1,322.2h.85M72.2,342.9h.85M69.9,333.3h.85M88.7,328.9h.85M70.9,345.9h.85M68.6,341.1h.85M79.4,329.7h.85M73.7,338.5h.85M73.7,350.4h.85M76.2,347.2h.85M69.3,339.6h.85M82.2,325.9h.85M68.0,340.9h.85M85.7,338.0h.85M75.0,331.2h.85M65.0,344.3h.85M74.4,339.0h.85M76.6,346.4h.85M65.6,342.9h.85M78.6,334.7h.85M76.4,343.3h.85M74.5,353.5h.85M94.1,325.5h.85M83.7,342.2h.85M80.4,340.8h.85M73.7,339.5h.85M68.1,327.9h.85M80.9,344.1h.85M80.0,330.8h.85M81.4,339.8h.85M66.5,329.0h.85M67.6,344.0h.85M72.4,334.8h.85M81.2,343.1h.85M81.4,331.5h.85M74.2,337.4h.85M76.8,335.1h.85M73.9,345.4h.85M69.5,343.8h.85M66.5,336.8h.85M76.5,332.2h.85M67.6,346.4h.85M73.7,352.6h.85M85.8,339.0h.85M74.3,344.0h.85M64.9,342.6h.85M75.3,339.2h.85M77.2,329.1h.85M83.9,331.3h.85M68.6,343.8h.85M77.3,349.7h.85M75.2,344.3h.85M77.2,329.2h.85M73.0,342.2h.85M63.9,339.8h.85M70.6,346.1h.85M83.1,341.0h.85M67.0,353.5h.85M73.5,350.0h.85M77.9,332.1h.85M79.4,324.4h.85M66.2,338.4h.85M71.1,342.9h.85M83.2,335.7h.85M69.0,337.3h.85M70.1,338.7h.85M69.6,339.9h.85M69.2,344.1h.85M70.4,340.9h.85M67.6,348.8h.85M79.7,334.6h.85M65.7,338.3h.85M61.8,344.3h.85M69.1,341.5h.85M68.1,353.5h.85M62.9,347.6h.85M74.1,345.5h.85M81.3,321.6h.85M70.6,338.3h.85M72.0,338.4h.85M81.0,314.4h.85M69.5,335.9h.85M73.1,332.9h.85M71.6,329.5h.85M85.3,321.1h.85M68.3,353.5h.85M66.0,337.7h.85M73.6,332.3h.85M74.9,329.8h.85M79.0,330.5h.85M76.3,334.9h.85M70.3,339.1h.85M79.4,335.8h.85M82.3,347.1h.85M76.9,320.5h.85M78.9,328.4h.85M71.3,333.1h.85M78.2,321.7h.85M70.0,335.8h.85M89.3,325.6h.85M65.1,346.5h.85M73.6,333.1h.85M67.0,337.0h.85M69.9,332.1h.85M89.2,337.7h.85M79.9,344.7h.85M72.5,332.4h.85M67.6,337.2h.85M77.7,338.4h.85M77.1,329.1h.85M67.5,346.6h.85M83.4,324.8h.85M63.8,331.7h.85M74.2,342.3h.85M75.4,348.8h.85M66.9,339.3h.85M70.5,341.6h.85M76.1,327.7h.85M64.6,351.2h.85M83.6,337.6h.85M75.2,350.5h.85M79.3,333.3h.85M65.9,340.8h.85M73.4,347.6h.85M79.9,338.7h.85M82.9,322.9h.85M82.5,343.3h.85M65.3,346.4h.85M70.2,339.1h.85M70.6,333.7h.85M73.2,324.1h.85M61.9,338.9h.85M69.6,350.1h.85M76.0,331.7h.85M80.9,332.4h.85M70.8,341.8h.85M85.0,340.2h.85M73.4,341.9h.85M82.2,336.5h.85M80.9,337.1h.85M67.3,345.0h.85M64.0,352.5h.85M86.5,319.5h.85M75.5,337.4h.85M68.4,332.3h.85M69.6,342.3h.85M70.7,333.5h.85M69.9,336.0h.85M64.2,345.9h.85M73.7,346.1h.85M83.1,328.4h.85M70.2,337.4h.85M63.6,348.2h.85M86.9,328.3h.85M73.8,334.8h.85M75.8,338.5h.85M75.8,338.6h.85M70.2,343.6h.85M77.1,343.2h.85M73.7,350.9h.85M71.1,336.5h.85M74.5,337.5h.85M74.6,340.4h.85M63.1,337.0h.85M77.2,331.7h.85M83.9,325.2h.85M69.7,356.8h.85M73.0,344.3h.85M89.9,322.9h.85M68.0,345.7h.85M69.0,352.0h.85M71.9,329.9h.85M80.4,336.4h.85M74.7,329.0h.85M65.2,339.6h.85M68.9,348.5h.85M80.1,340.8h.85M73.7,334.2h.85M73.9,353.1h.85M74.5,335.9h.85M64.0,342.2h.85M72.5,329.5h.85M79.6,334.5h.85M64.5,335.7h.85M82.4,338.1h.85M63.9,340.2h.85M79.9,329.1h.85M76.4,345.8h.85M74.6,340.8h.85M68.4,338.3h.85M71.0,333.1h.85M62.6,349.8h.85M85.0,330.7h.85M89.2,323.0h.85M83.0,325.3h.85M73.8,342.1h.85M72.5,347.0h.85M72.8,341.6h.85M69.0,343.7h.85M77.7,329.0h.85M71.8,343.5h.85M77.3,329.8h.85M60.9,342.1h.85M72.1,351.0h.85M75.6,339.4h.85M80.5,329.7h.85M73.9,332.1h.85M68.8,351.9h.85M76.0,339.7h.85M67.9,345.3h.85M79.9,319.0h.85M80.4,340.3h.85M73.3,339.5h.85M66.9,356.4h.85M77.6,344.5h.85M71.7,337.0h.85M74.9,333.2h.85M78.4,345.8h.85M79.2,329.9h.85M81.6,333.3h.85M76.9,332.9h.85M76.1,337.9h.85M78.3,333.9h.85M70.8,341.5h.85M71.6,330.9h.85M77.3,339.6h.85M73.4,335.2h.85M71.5,336.1h.85M77.0,328.5h.85M60.1,347.0h.85M76.3,335.6h.85M65.5,337.3h.85M69.3,336.1h.85M70.6,342.5h.85M71.5,344.3h.85M68.1,341.8h.85M79.4,343.3h.85M85.9,327.6h.85M70.3,343.2h.85M82.0,332.4h.85M65.6,350.0h.85M73.6,345.3h.85M74.6,330.8h.85M83.2,319.7h.85M85.1,317.6h.85M82.1,343.4h.85M69.1,340.2h.85M81.0,325.6h.85M70.5,330.0h.85M87.2,326.0h.85M78.8,336.5h.85M69.3,339.9h.85M67.8,350.8h.85M83.9,330.0h.85M81.6,332.1h.85M63.4,340.9h.85M77.8,332.8h.85M77.5,328.8h.85M71.5,345.6h.85M63.7,337.1h.85M66.9,339.7h.85M65.9,344.6h.85M89.2,336.5h.85M80.5,322.5h.85M79.2,328.1h.85M72.8,332.3h.85M65.9,333.2h.85M79.2,321.1h.85M74.1,331.1h.85M69.9,331.9h.85M76.2,342.9h.85M68.0,327.2h.85M72.1,326.9h.85M77.6,336.6h.85M69.3,341.5h.85M74.5,340.4h.85M84.5,334.0h.85M84.5,340.4h.85M77.2,349.8h.85M76.1,341.6h.85M73.6,338.6h.85M71.1,345.7h.85M84.5,321.8h.85M73.8,337.5h.85M76.5,331.2h.85M74.8,338.0h.85M84.6,329.8h.85M65.8,343.9h.85M77.8,339.6h.85M77.7,329.1h.85M83.6,320.1h.85M87.2,330.3h.85M82.6,325.3h.85M69.8,328.5h.85M62.4,349.7h.85M82.2,334.7h.85M78.1,341.1h.85M83.6,337.1h.85M62.3,347.6h.85M64.5,342.0h.85M77.8,321.7h.85M68.0,342.8h.85M76.2,329.1h.85M80.0,333.1h.85M60.1,335.7h.85M63.7,341.1h.85M78.7,322.4h.85M70.3,346.9h.85M69.9,334.3h.85M83.4,331.3h.85M71.8,333.0h.85M60.3,338.5h.85M77.5,335.4h.85M69.5,344.7h.85M85.0,308.3h.85M68.2,352.5h.85M69.5,339.3h.85M76.4,332.1h.85M81.1,330.9h.85M80.1,328.5h.85M69.3,358.2h.85M70.2,353.7h.85M68.8,331.4h.85M78.2,339.3h.85M69.0,345.5h.85M65.7,340.3h.85M76.6,345.8h.85M77.1,331.8h.85M74.0,338.3h.85M76.1,335.6h.85M69.5,353.5h.85M57.9,336.8h.85M71.9,328.4h.85M72.7,338.2h.85M73.4,343.5h.85M71.3,338.7h.85M67.9,344.1h.85M68.9,345.6h.85M85.0,329.7h.85M69.8,330.1h.85M83.2,331.8h.85M73.9,314.7h.85M72.4,336.3h.85M74.3,325.7h.85M82.4,346.9h.85M69.8,323.8h.85M80.1,341.0h.85M73.5,343.9h.85M67.7,332.4h.85M75.9,345.5h.85M77.0,326.2h.85M76.2,326.4h.85M75.0,335.3h.85M69.1,348.1h.85M59.5,332.6h.85M65.9,341.5h.85M65.3,341.2h.85M59.3,335.8h.85M78.6,330.5h.85M73.9,334.6h.85M73.0,336.1h.85M61.6,341.7h.85M78.8,339.6h.85M82.3,340.0h.85M65.9,347.4h.85M76.4,345.7h.85M79.9,322.4h.85M76.4,330.8h.85M68.4,344.9h.85M75.7,350.0h.85M82.1,336.0h.85M64.6,327.6h.85M78.2,331.2h.85M62.5,356.5h.85M86.6,334.1h.85M72.3,347.7h.85M74.7,334.2h.85M74.8,341.1h.85M79.7,334.6h.85M65.8,336.8h.85M86.2,330.5h.85M70.9,341.7h.85M69.8,325.9h.85M87.3,340.2h.85M72.0,333.2h.85M84.0,321.1h.85M72.9,334.4h.85M66.6,330.8h.85M60.8,343.3h.85M77.9,329.9h.85M70.3,322.4h.85M77.5,346.2h.85M61.4,338.3h.85M68.6,342.2h.85M79.7,341.1h.85M87.5,331.2h.85M74.4,331.3h.85M64.6,337.0h.85M85.8,330.8h.85M70.2,334.1h.85M79.4,333.3h.85M69.3,332.8h.85M72.4,333.8h.85M80.2,333.2h.85M74.0,332.6h.85M84.9,327.4h.85M83.9,329.6h.85M78.9,333.2h.85M60.2,340.6h.85M72.0,346.5h.85M79.1,330.6h.85M82.6,341.8h.85M63.7,335.4h.85M64.7,348.6h.85M80.6,333.9h.85M76.4,341.4h.85M70.3,335.6h.85M75.4,342.4h.85M73.4,326.6h.85M69.5,345.5h.85M79.0,317.2h.85M69.5,348.4h.85M73.5,331.5h.85M75.9,338.9h.85M65.1,351.0h.85M81.0,335.2h.85M79.2,327.9h.85M72.8,352.5h.85M74.7,329.4h.85M83.6,332.1h.85M62.4,331.7h.85M68.0,338.9h.85M69.3,343.7h.85M70.2,346.9h.85M77.7,319.0h.85M76.5,327.6h.85M75.9,332.6h.85M76.9,325.1h.85M73.9,329.3h.85M74.9,335.5h.85M72.0,324.2h.85M73.5,351.9h.85M83.4,339.1h.85M69.7,346.0h.85M84.8,337.6h.85M71.5,336.4h.85M76.9,331.4h.85M73.6,345.4h.85M59.8,349.4h.85M78.2,325.1h.85M73.9,340.9h.85M81.7,330.0h.85M66.5,343.3h.85M78.4,328.7h.85M74.7,344.8h.85M89.3,334.5h.85M65.3,343.8h.85M72.0,343.8h.85M76.5,344.2h.85M65.0,361.2h.85M69.4,341.6h.85M77.5,333.4h.85M75.7,349.5h.85M74.4,331.4h.85M69.8,332.5h.85M66.4,346.1h.85M76.1,334.7h.85M63.7,339.5h.85M72.8,355.0h.85M72.0,332.1h.85M82.1,329.5h.85M69.0,338.8h.85M80.9,329.3h.85M83.5,325.5h.85M68.2,340.2h.85M71.5,343.6h.85M77.8,337.0h.85M71.2,330.8h.85M68.5,336.2h.85M70.2,329.8h.85M67.0,339.4h.85M69.6,341.4h.85M80.1,324.7h.85M65.4,347.7h.85M80.0,333.0h.85M84.0,341.1h.85M79.7,328.9h.85M73.7,323.9h.85M69.0,336.2h.85M82.0,340.5h.85M78.6,345.7h.85M75.3,349.4h.85M61.6,348.2h.85M78.3,329.2h.85M74.5,336.1h.85M73.9,335.4h.85M67.7,344.1h.85M70.2,333.9h.85M84.1,338.7h.85M63.3,348.6h.85M72.5,339.5h.85M71.0,334.5h.85M73.7,337.6h.85M80.4,342.4h.85M67.7,332.1h.85M68.8,351.2h.85M69.3,338.2h.85M65.8,347.0h.85M70.2,336.1h.85M76.1,342.6h.85M80.1,332.7h.85M66.8,334.8h.85M84.4,335.5h.85M85.3,330.6h.85M76.9,336.2h.85M79.4,341.0h.85M82.3,345.5h.85M76.1,330.3h.85M66.5,332.7h.85M68.9,342.2h.85M82.1,315.8h.85M78.6,330.3h.85M75.2,341.4h.85M68.4,355.6h.85M84.6,323.0h.85M74.2,338.2h.85M74.8,330.7h.85M76.7,337.8h.85M73.9,341.1h.85M78.7,336.7h.85M66.5,343.5h.85M77.2,344.0h.85M67.5,330.6h.85M76.4,352.8h.85M69.6,331.0h.85M70.0,344.8h.85M88.2,330.7h.85M70.7,339.3h.85M78.7,319.5h.85M83.0,326.0h.85M80.1,340.2h.85M72.4,331.1h.85M66.4,349.3h.85M82.5,337.2h.85M89.2,334.9h.85M82.9,327.5h.85M81.2,332.1h.85M70.0,341.2h.85M73.8,331.7h.85M55.7,344.3h.85M82.5,331.9h.85M69.4,328.8h.85M79.8,324.3h.85M77.3,360.5h.85M77.0,327.5h.85M95.0,325.1h.85M67.4,324.9h.85M70.9,337.8h.85M78.3,329.6h.85M68.5,324.3h.85M79.1,348.0h.85M69.8,354.4h.85M97.1,313.3h.85M72.2,355.1h.85M79.7,344.7h.85M85.7,323.3h.85M95.1,320.2h.85M66.0,335.8h.85M92.1,307.2h.85M78.0,330.1h.85M62.4,333.1h.85M73.7,336.0h.85M80.0,322.4h.85M57.1,347.0h.85M76.7,336.5h.85M78.8,325.7h.85M80.5,329.9h.85M88.2,316.9h.85M80.0,335.9h.85M79.4,318.1h.85M70.2,338.8h.85M83.9,323.7h.85M109.0,304.8h.85M100.4,320.3h.85M74.1,319.3h.85M89.8,320.6h.85M66.6,347.9h.85M87.1,331.2h.85M73.8,330.9h.85M76.9,323.6h.85M79.4,339.1h.85M66.6,351.9h.85M65.5,347.7h.85M80.7,327.2h.85M83.1,325.7h.85M76.8,339.3h.85M74.5,338.1h.85M80.1,321.5h.85M77.8,318.0h.85M63.5,329.9h.85M80.8,347.5h.85M85.8,336.7h.85M58.2,346.2h.85M84.0,333.6h.85M72.0,318.9h.85M79.0,329.3h.85M79.3,335.8h.85M63.3,330.7h.85M58.7,340.1h.85M64.6,348.4h.85M81.4,318.0h.85M62.8,338.2h.85M70.3,339.1h.85M71.0,347.3h.85M69.5,350.1h.85M75.1,345.4h.85M71.3,346.3h.85M78.4,330.0h.85M89.2,318.4h.85M72.8,347.4h.85M65.9,341.4h.85M76.7,335.7h.85M78.3,309.3h.85M80.2,342.6h.85M76.2,338.1h.85M80.0,313.5h.85M80.5,338.0h.85M68.9,346.5h.85M87.9,340.9h.85M76.6,314.2h.85M88.9,327.9h.85M87.1,317.1h.85M72.1,341.6h.85M91.2,321.2h.85M93.3,320.3h.85M64.9,336.9h.85M80.8,308.8h.85M70.9,337.4h.85M65.1,342.2h.85M89.7,345.2h.85M71.9,333.4h.85M82.0,337.7h.85M66.8,341.9h.85M89.7,334.2h.85M79.2,357.1h.85M80.6,324.5h.85M70.6,337.8h.85M70.7,351.2h.85M66.5,338.3h.85M80.2,330.0h.85M69.6,340.2h.85M79.7,346.1h.85M78.9,321.2h.85M83.4,341.4h.85M83.9,345.8h.85M82.9,333.2h.85M81.6,333.9h.85M82.4,332.2h.85M76.9,344.3h.85M69.7,329.8h.85M68.6,346.5h.85M92.4,347.5h.85M62.2,350.2h.85M74.2,343.8h.85M96.0,327.0h.85M75.0,351.1h.85M67.9,349.3h.85M80.5,335.9h.85M77.3,349.3h.85M74.9,335.6h.85M67.1,333.2h.85M83.1,328.8h.85M90.1,338.2h.85M67.1,343.0h.85M80.7,338.6h.85M79.7,340.9h.85M68.6,322.5h.85M70.8,336.2h.85M81.1,329.4h.85M82.5,341.1h.85M72.8,323.3h.85M72.1,343.8h.85M87.5,316.0h.85M75.8,338.0h.85M81.0,326.3h.85M75.3,330.0h.85M66.5,337.4h.85M77.3,325.6h.85M82.2,330.9h.85M60.7,340.0h.85M79.0,340.2h.85M104.4,314.7h.85M88.3,322.2h.85M75.7,341.4h.85M79.3,337.6h.85M61.0,341.2h.85M70.3,341.7h.85M76.1,329.7h.85M82.3,334.2h.85M65.9,346.9h.85M60.2,349.2h.85M78.2,322.2h.85M93.0,317.3h.85M83.0,326.0h.85M88.7,330.5h.85M73.2,331.6h.85M82.8,349.2h.85M71.3,335.0h.85M59.9,335.2h.85M73.6,341.7h.85M67.2,336.9h.85M81.4,332.6h.85M74.0,341.0h.85M73.1,349.1h.85M65.8,344.1h.85M74.0,331.7h.85M79.2,356.3h.85M76.8,311.2h.85M68.9,328.2h.85M70.1,326.0h.85M83.2,331.1h.85M96.0,322.0h.85M77.6,344.0h.85M71.3,339.4h.85M76.8,339.8h.85M67.0,326.9h.85M74.5,344.9h.85M93.6,330.2h.85M76.3,343.5h.85M77.1,324.6h.85M66.8,334.6h.85M76.2,317.3h.85M66.4,343.3h.85M85.7,347.6h.85M72.6,328.5h.85M82.1,330.3h.85M77.3,331.7h.85M72.1,325.0h.85M63.6,346.0h.85M71.1,349.8h.85M98.0,319.7h.85M81.0,331.7h.85M62.4,336.7h.85M70.9,322.7h.85M77.0,331.2h.85M81.6,327.2h.85M72.8,331.3h.85M87.2,332.1h.85M80.2,316.0h.85M72.4,348.0h.85M87.4,351.0h.85M68.8,325.0h.85M80.6,347.7h.85M74.3,356.8h.85M65.9,335.3h.85M93.0,312.2h.85M66.5,332.8h.85M75.3,329.3h.85M77.2,350.1h.85M73.6,326.4h.85M86.6,319.0h.85M80.3,330.3h.85M88.3,325.1h.85M77.1,341.8h.85M73.3,339.8h.85M81.9,312.9h.85M65.1,344.3h.85M79.4,346.0h.85M85.1,316.1h.85M74.8,331.4h.85M84.7,330.7h.85M85.9,330.3h.85M89.5,313.6h.85M79.8,326.7h.85M77.1,335.5h.85M77.2,337.1h.85M68.0,343.4h.85M63.8,336.4h.85M67.0,340.4h.85M65.0,329.8h.85M66.7,332.8h.85M70.3,344.6h.85M85.8,324.4h.85M69.1,338.3h.85M76.2,313.6h.85M75.3,316.3h.85M70.9,342.0h.85M83.8,344.6h.85M79.0,329.5h.85M83.1,325.0h.85M76.0,348.5h.85M94.8,324.6h.85M77.8,355.9h.85M76.9,342.8h.85M99.0,332.6h.85M56.8,347.8h.85M87.6,324.5h.85M77.8,329.5h.85M76.9,336.1h.85M79.8,325.8h.85M66.4,343.0h.85M86.7,310.9h.85M86.3,344.1h.85M84.4,324.3h.85M79.6,326.0h.85M74.5,349.1h.85M86.2,340.5h.85M71.2,336.2h.85M77.0,330.5h.85M67.7,334.4h.85M79.4,333.7h.85M89.6,315.3h.85M90.7,308.6h.85M68.3,342.8h.85M65.0,330.4h.85M74.7,325.0h.85M92.0,336.6h.85M86.4,322.5h.85M70.0,339.3h.85M79.9,322.4h.85M84.6,334.8h.85M64.9,342.1h.85M79.0,330.2h.85M71.4,334.0h.85M86.2,343.8h.85M76.4,313.4h.85M76.4,334.9h.85M67.5,328.6h.85M75.4,337.0h.85M72.1,343.7h.85M78.6,335.6h.85M71.4,334.8h.85M83.5,337.7h.85M82.0,325.0h.85M78.3,344.6h.85M85.0,333.1h.85M68.2,334.2h.85M73.2,330.3h.85M89.6,326.4h.85M92.1,325.3h.85M66.6,336.3h.85M89.2,329.0h.85M69.0,329.3h.85M65.2,352.5h.85M65.0,340.9h.85M85.3,334.8h.85M85.4,320.9h.85M76.7,341.5h.85M59.3,341.9h.85M85.1,341.6h.85M83.4,324.1h.85M80.9,322.4h.85M83.0,336.0h.85M78.2,330.8h.85M78.9,344.1h.85M66.5,329.2h.85M82.3,317.5h.85M78.6,330.8h.85M85.2,324.8h.85M86.3,322.8h.85M68.9,337.7h.85M75.6,324.4h.85M81.3,324.0h.85M63.0,341.1h.85M85.0,344.3h.85M81.6,326.8h.85M79.9,353.1h.85M73.3,338.0h.85M80.2,345.4h.85M74.1,331.1h.85M70.9,328.6h.85M66.3,345.6h.85M84.3,308.8h.85M64.9,329.6h.85M78.1,334.1h.85M73.2,321.2h.85M66.9,338.6h.85M87.4,347.6h.85M73.7,337.0h.85M76.3,343.9h.85M102.5,312.6h.85M81.0,313.9h.85M83.9,323.8h.85M91.6,326.2h.85M70.5,320.6h.85M73.5,331.4h.85M79.2,330.4h.85M74.0,316.7h.85M69.3,342.6h.85M75.6,329.8h.85M75.6,335.6h.85M83.0,323.3h.85M78.1,330.2h.85M71.1,331.8h.85M77.2,343.2h.85M78.1,331.0h.85M73.0,341.2h.85M84.7,322.1h.85M65.5,333.8h.85M70.7,329.9h.85M69.5,354.3h.85M81.0,350.8h.85M66.7,330.3h.85M71.2,350.0h.85M80.0,331.6h.85M76.9,339.2h.85M90.5,320.6h.85M65.8,330.6h.85M88.4,337.1h.85M73.0,322.5h.85M84.8,338.7h.85M73.5,344.0h.85M94.8,329.2h.85M82.7,334.1h.85M72.6,338.7h.85M79.6,344.7h.85M61.4,345.8h.85M58.0,347.5h.85M75.5,335.4h.85M88.1,314.8h.85M80.3,332.8h.85M86.4,338.7h.85M77.5,334.2h.85M74.6,336.2h.85M81.1,340.0h.85M76.1,335.1h.85M79.7,338.8h.85M77.5,344.2h.85M75.2,344.2h.85M91.9,315.4h.85M67.7,330.7h.85M81.4,327.1h.85M78.6,322.3h.85M90.5,337.3h.85M76.7,329.2h.85M65.3,349.0h.85M84.3,330.5h.85M60.5,342.5h.85M61.7,341.0h.85M75.0,339.1h.85M91.7,315.1h.85M76.9,312.1h.85M92.4,321.9h.85M83.9,333.9h.85M91.9,336.8h.85M71.3,318.7h.85M82.9,341.7h.85M68.8,335.8h.85M74.7,340.1h.85M73.2,330.3h.85M83.4,331.9h.85M61.6,340.0h.85M71.4,331.8h.85M70.0,340.9h.85M79.2,337.2h.85M84.7,328.0h.85M78.4,318.7h.85M82.5,330.1h.85M63.2,343.3h.85M79.4,330.5h.85M62.3,346.1h.85M92.6,322.3h.85M84.3,340.1h.85M67.4,344.0h.85M81.0,323.2h.85M70.3,349.6h.85M69.1,327.8h.85M64.6,332.0h.85M91.8,303.9h.85M71.6,331.4h.85M65.0,343.7h.85M87.8,340.5h.85M87.3,338.8h.85M67.6,346.8h.85M62.6,332.8h.85M103.3,293.7h.85M72.8,329.0h.85M64.7,336.6h.85M81.1,322.2h.85M75.5,337.4h.85M67.3,349.3h.85M76.9,338.8h.85M72.7,339.3h.85M85.4,333.7h.85M76.0,346.7h.85M66.6,344.8h.85M77.4,334.2h.85M79.7,341.1h.85M79.2,349.3h.85M79.8,329.3h.85M83.2,336.3h.85M72.8,346.3h.85M82.4,322.5h.85M62.4,339.5h.85M74.0,326.8h.85M98.4,310.8h.85M63.5,347.8h.85M91.6,321.5h.85M73.8,350.6h.85M85.2,349.9h.85M74.8,343.6h.85M77.2,326.9h.85M81.3,341.8h.85M79.0,329.4h.85M89.6,337.9h.85M85.7,327.0h.85M68.6,324.5h.85M73.6,331.4h.85M77.6,324.4h.85M72.6,325.5h.85M78.1,322.1h.85M78.8,337.9h.85M73.0,338.5h.85M94.6,331.4h.85M86.5,331.9h.85M72.4,340.5h.85M87.8,347.1h.85M66.7,331.9h.85M55.6,346.1h.85M83.4,319.2h.85M94.7,316.8h.85M82.4,333.7h.85M87.3,330.5h.85M64.5,343.1h.85M71.8,341.4h.85M66.1,332.3h.85M80.9,350.4h.85M86.9,308.3h.85M78.3,330.7h.85M73.2,347.3h.85M85.1,343.1h.85M77.2,328.7h.85M77.8,322.7h.85M86.6,328.5h.85M82.6,334.9h.85M76.6,333.3h.85M71.0,337.5h.85M69.1,330.3h.85M78.6,326.6h.85M76.5,327.1h.85M79.5,331.1h.85M85.3,327.4h.85M81.8,324.2h.85M73.5,334.4h.85M64.9,348.0h.85M88.7,326.7h.85M70.7,345.5h.85M73.1,320.9h.85M80.2,332.7h.85M82.9,328.0h.85M88.7,311.8h.85M93.2,326.8h.85M69.2,329.0h.85M86.0,320.1h.85M82.5,331.5h.85M89.1,329.2h.85M55.8,344.1h.85M76.7,333.5h.85M80.8,326.0h.85M86.4,345.9h.85M93.3,325.3h.85M78.9,320.3h.85M74.4,335.6h.85M61.7,343.0h.85M69.4,327.9h.85M82.6,331.2h.85M71.6,336.1h.85M83.1,330.6h.85M71.0,325.7h.85M68.2,340.4h.85M74.6,346.4h.85M69.3,337.3h.85M66.8,341.4h.85M64.8,353.2h.85M85.8,322.8h.85M78.9,346.3h.85M73.1,325.2h.85M67.3,338.5h.85M82.5,340.8h.85M69.1,342.0h.85M69.2,328.6h.85M75.5,342.8h.85M73.0,314.6h.85M79.3,326.1h.85M89.4,323.8h.85M92.8,315.1h.85M67.4,335.6h.85M67.6,352.9h.85M84.5,333.0h.85M69.2,324.6h.85M70.8,338.3h.85M81.4,336.6h.85M88.3,320.9h.85M67.5,349.0h.85M80.5,342.3h.85M81.2,321.4h.85M83.0,324.9h.85M87.2,336.0h.85M66.1,347.1h.85M83.0,315.0h.85M78.0,333.3h.85M64.3,333.7h.85M64.2,338.1h.85M85.5,324.4h.85M73.8,322.2h.85M80.3,330.2h.85M79.4,320.5h.85M90.1,332.3h.85M84.0,311.5h.85M57.9,340.7h.85M86.6,327.2h.85M73.0,327.5h.85M95.0,328.5h.85M74.5,334.9h.85M87.9,324.4h.85M83.6,318.7h.85M76.1,329.9h.85M69.2,339.8h.85M76.3,340.3h.85M73.5,338.6h.85M61.8,338.4h.85M80.8,315.3h.85M95.4,319.5h.85M72.4,339.6h.85M70.5,334.3h.85M84.6,320.9h.85M78.9,321.6h.85M78.1,348.3h.85M66.7,333.2h.85M80.5,341.4h.85M69.9,333.6h.85M86.4,332.4h.85M72.0,335.8h.85M88.9,350.7h.85M84.5,344.7h.85M76.8,338.4h.85M74.0,333.0h.85M64.1,333.4h.85M64.8,351.8h.85M70.0,341.5h.85M71.1,334.7h.85M81.0,351.0h.85M63.8,344.7h.85M66.3,333.1h.85M73.2,349.1h.85M83.6,325.5h.85M105.9,303.6h.85M80.3,318.1h.85M94.1,330.7h.85M83.4,347.0h.85M62.4,338.7h.85M70.3,331.9h.85M73.9,323.3h.85M81.6,339.9h.85M75.3,339.2h.85M77.5,318.4h.85M66.0,349.0h.85M76.1,330.8h.85M75.2,350.7h.85M64.9,346.4h.85M79.6,338.6h.85M67.1,336.2h.85M86.2,309.6h.85M80.9,325.7h.85M71.5,339.9h.85M75.4,339.1h.85M70.3,330.0h.85M86.5,349.3h.85M93.8,317.9h.85M75.5,331.1h.85M83.7,318.0h.85M73.3,346.8h.85M63.2,341.9h.85M77.2,312.3h.85M75.7,336.2h.85M68.8,325.8h.85M71.7,336.0h.85M96.6,318.6h.85M74.9,346.9h.85M80.0,327.4h.85M72.0,336.4h.85M59.7,348.8h.85M91.5,331.2h.85M87.8,313.3h.85M65.8,332.4h.85M72.0,318.9h.85M60.7,341.4h.85M83.7,334.3h.85M79.2,352.7h.85M71.8,329.6h.85M78.2,331.1h.85M84.1,327.5h.85M99.7,316.5h.85M75.3,345.3h.85M75.5,322.4h.85M64.8,339.5h.85M81.2,342.7h.85M71.6,341.3h.85M87.0,331.3h.85M71.8,327.0h.85M98.0,315.0h.85M95.9,327.3h.85M89.0,321.6h.85M83.0,332.6h.85M68.7,354.7h.85M70.5,347.3h.85M71.9,349.0h.85M86.7,351.0h.85M80.1,335.1h.85M66.7,343.4h.85M73.4,334.3h.85M66.9,335.8h.85M79.2,325.1h.85M71.4,345.3h.85M68.2,342.9h.85M66.0,336.4h.85M68.9,333.8h.85M67.9,350.0h.85M64.5,331.8h.85M73.6,340.0h.85M81.1,331.9h.85M81.1,334.8h.85M66.9,336.8h.85M77.9,326.5h.85M79.5,337.7h.85M90.2,330.1h.85M68.0,340.7h.85M71.3,322.7h.85M69.4,351.1h.85M65.2,337.5h.85M85.0,328.6h.85M80.8,323.6h.85M71.3,336.5h.85M74.4,345.4h.85M69.1,343.0h.85M79.7,335.8h.85M65.1,335.1h.85M90.8,305.0h.85M78.4,308.9h.85M75.3,332.9h.85M102.6,323.4h.85M77.1,320.0h.85M64.8,340.3h.85M73.1,341.6h.85M68.0,342.3h.85M95.7,325.3h.85M80.4,344.5h.85M84.4,346.8h.85M87.0,337.2h.85M67.0,342.8h.85M87.0,326.4h.85M80.7,335.7h.85M81.0,349.3h.85M85.4,339.6h.85M79.2,330.9h.85M66.1,333.3h.85M86.8,328.9h.85M80.6,323.2h.85M65.5,344.0h.85M73.1,338.2h.85M77.8,320.4h.85M75.9,343.1h.85M95.8,334.8h.85M74.6,325.6h.85M62.8,342.6h.85M77.7,335.2h.85M71.4,332.9h.85M73.7,336.5h.85M80.7,328.9h.85M62.3,338.5h.85M86.6,318.6h.85M74.1,336.7h.85M82.5,321.4h.85M75.6,332.0h.85M74.1,324.3h.85M83.3,337.2h.85M88.5,324.9h.85M87.3,338.5h.85M89.4,333.4h.85M59.7,343.0h.85M80.2,325.2h.85M66.6,335.4h.85M80.1,313.8h.85M68.1,327.7h.85M87.6,346.5h.85M91.6,306.7h.85M77.5,352.7h.85M71.9,326.5h.85M71.0,355.3h.85M63.6,338.1h.85M75.8,332.2h.85M84.9,323.3h.85M94.8,322.7h.85M96.1,320.7h.85M79.4,336.5h.85M66.5,327.9h.85M70.9,350.6h.85M65.3,348.3h.85M69.1,347.0h.85M71.3,334.9h.85M68.5,328.5h.85M75.5,339.6h.85M88.0,326.7h.85M78.7,312.9h.85M90.2,334.4h.85M72.1,325.8h.85M75.6,328.4h.85M77.0,346.3h.85M67.6,331.9h.85M82.1,350.6h.85M73.1,346.8h.85M84.0,338.0h.85M67.8,333.7h.85M64.5,337.2h.85M96.9,308.0h.85M80.6,343.7h.85M79.7,327.0h.85M82.1,329.4h.85M94.2,329.9h.85M73.0,338.0h.85M81.5,342.1h.85M83.3,334.1h.85M78.8,322.5h.85M84.9,339.4h.85M87.6,328.5h.85M71.3,336.3h.85M67.4,342.8h.85M66.6,329.3h.85M80.1,319.1h.85M81.2,334.8h.85M85.6,326.3h.85M80.4,342.4h.85M76.9,321.2h.85M64.6,328.1h.85M82.0,343.7h.85M74.1,347.3h.85M62.2,349.6h.85M93.2,332.2h.85M83.7,333.3h.85M98.3,311.1h.85M77.7,335.3h.85M72.2,331.9h.85M74.8,334.5h.85M84.9,330.6h.85M86.7,326.9h.85M76.4,351.2h.85M75.1,329.0h.85M83.6,310.2h.85M63.6,345.1h.85M83.6,333.8h.85M80.5,336.6h.85M66.6,339.7h.85M68.7,327.6h.85M74.8,331.1h.85M74.9,323.2h.85M68.2,338.0h.85M66.9,334.4h.85M65.6,331.8h.85M83.8,332.0h.85M74.4,334.2h.85M63.1,340.1h.85M68.6,333.3h.85M67.6,348.0h.85M73.1,333.3h.85M69.1,343.2h.85M67.8,340.3h.85M81.4,336.0h.85M77.9,324.2h.85M78.1,317.0h.85M82.1,342.3h.85M94.7,310.2h.85M70.7,337.0h.85M65.4,347.1h.85M67.9,336.1h.85M80.2,318.8h.85M93.7,320.5h.85M77.1,325.5h.85M76.1,330.8h.85M74.6,327.8h.85M70.5,323.2h.85M83.5,319.7h.85M65.3,329.9h.85M72.2,348.5h.85M69.8,342.5h.85M86.3,345.1h.85M74.6,319.7h.85M65.1,335.0h.85M60.9,346.6h.85M84.4,323.4h.85M80.0,327.1h.85M72.9,339.7h.85M86.5,344.0h.85M91.7,317.5h.85M88.9,346.5h.85M74.3,346.8h.85M82.6,320.2h.85M71.2,335.3h.85M81.9,326.5h.85M94.2,324.1h.85M91.0,346.2h.85M69.6,335.5h.85M68.6,333.5h.85M72.0,339.0h.85M73.1,318.6h.85M60.3,346.3h.85M76.0,340.0h.85M78.6,349.7h.85M70.3,339.5h.85M83.0,339.3h.85M78.1,331.8h.85M72.5,341.3h.85M76.6,329.1h.85M78.6,345.6h.85M86.1,319.6h.85M89.6,347.8h.85M78.4,343.5h.85M79.1,347.3h.85M78.1,318.1h.85M102.6,333.6h.85M66.7,332.0h.85M75.3,330.2h.85M57.9,346.1h.85M68.4,325.7h.85M86.6,325.4h.85M82.6,342.8h.85M72.6,347.6h.85M63.3,347.7h.85M77.3,325.8h.85M78.6,338.9h.85M95.0,324.5h.85M77.6,328.9h.85M74.8,357.6h.85M82.0,325.5h.85M82.9,328.8h.85M74.1,336.9h.85M82.3,340.3h.85M70.3,335.3h.85M84.4,330.8h.85M80.6,331.5h.85M93.5,324.2h.85M76.0,331.8h.85M69.5,319.8h.85M67.4,337.3h.85M74.6,331.4h.85M98.8,312.2h.85M92.1,340.4h.85M73.7,333.5h.85M89.9,325.5h.85M89.9,330.4h.85M68.9,335.8h.85M70.7,342.9h.85M77.0,319.8h.85M63.5,334.7h.85M95.6,317.4h.85M70.0,327.3h.85M63.9,342.9h.85M68.3,329.0h.85M81.1,342.6h.85M76.3,335.2h.85M70.3,333.4h.85M64.6,349.1h.85M64.5,343.3h.85M62.9,351.2h.85M77.5,321.7h.85M69.0,324.9h.85M83.2,331.2h.85M77.9,342.8h.85M69.2,344.3h.85M88.3,317.1h.85M73.9,351.7h.85M78.0,328.1h.85M72.9,357.3h.85M72.7,328.1h.85M93.1,329.2h.85M72.0,345.8h.85M65.3,353.8h.85M81.0,309.7h.85M72.2,331.5h.85M75.4,336.3h.85M83.0,335.8h.85M85.8,334.1h.85M89.9,329.0h.85M72.9,343.8h.85M67.7,335.2h.85M92.2,315.7h.85M78.4,340.7h.85M70.8,334.7h.85M84.9,318.1h.85M72.4,338.0h.85M80.1,342.0h.85M79.5,328.6h.85M71.5,337.7h.85M86.6,315.9h.85M71.1,321.2h.85M82.2,334.5h.85M87.1,323.0h.85M81.9,330.2h.85M96.0,332.6h.85M72.2,329.2h.85M79.4,328.2h.85M85.1,331.6h.85M74.1,331.4h.85M70.4,326.3h.85M72.3,328.2h.85M79.7,330.7h.85M66.7,331.9h.85M71.9,331.4h.85M78.7,339.4h.85M75.1,319.3h.85M90.9,331.1h.85M85.8,324.3h.85M85.3,343.4h.85M64.0,331.6h.85M78.0,335.2h.85M60.4,340.4h.85M91.3,314.7h.85M78.0,324.2h.85M63.0,350.0h.85M81.8,318.0h.85M73.6,337.9h.85M65.8,344.4h.85M76.7,344.4h.85M82.0,337.1h.85M87.5,329.5h.85M74.3,341.8h.85M84.0,319.0h.85M66.7,337.4h.85M88.5,328.0h.85M59.8,338.1h.85M59.1,348.4h.85M108.5,321.8h.85M62.1,344.9h.85M79.3,335.0h.85M62.4,333.0h.85M68.4,336.2h.85M92.8,323.1h.85M87.3,320.3h.85M71.9,338.8h.85M69.7,352.4h.85M75.8,330.7h.85M96.6,324.2h.85M80.1,324.2h.85M80.0,335.9h.85M83.4,337.4h.85M69.1,352.2h.85M83.8,323.6h.85M80.1,329.6h.85M74.1,331.0h.85M79.7,344.3h.85M73.3,337.5h.85M90.6,326.7h.85M74.1,340.1h.85M68.7,346.0h.85M78.0,331.6h.85M79.0,334.8h.85M73.2,331.9h.85M66.8,343.9h.85M86.4,317.1h.85M67.8,339.6h.85M69.5,349.4h.85M73.6,349.2h.85M85.9,327.9h.85M83.0,323.6h.85M71.2,321.4h.85M72.9,352.4h.85M87.0,336.2h.85M81.1,328.2h.85M84.0,334.1h.85M74.1,334.3h.85M76.1,330.2h.85M89.3,306.3h.85M56.3,345.1h.85M81.1,322.1h.85M75.5,332.3h.85M69.0,325.6h.85M72.8,331.5h.85M87.6,326.2h.85M60.2,343.8h.85M87.1,334.1h.85M80.5,326.2h.85M65.7,336.2h.85M71.1,348.1h.85M79.4,333.2h.85M78.3,339.0h.85M78.1,324.1h.85M77.2,321.0h.85M81.2,310.7h.85M66.9,333.1h.85M83.8,340.2h.85M80.6,350.5h.85M88.7,321.7h.85M76.5,345.0h.85M82.7,324.6h.85M90.5,305.7h.85M64.1,347.9h.85M90.3,336.2h.85M81.2,318.6h.85M64.8,334.4h.85M86.5,330.4h.85M81.6,329.7h.85M82.5,323.9h.85M86.0,330.9h.85M88.7,323.4h.85M80.5,337.1h.85M88.9,318.4h.85M64.0,343.4h.85M74.9,336.8h.85M75.7,347.3h.85M77.3,353.6h.85M70.6,320.4h.85M66.5,348.1h.85M75.1,330.1h.85M76.7,335.4h.85M67.2,347.3h.85M89.2,307.9h.85M71.8,348.5h.85M92.3,325.1h.85M70.3,341.2h.85M75.9,331.8h.85M85.2,335.4h.85M79.8,329.0h.85M84.9,344.9h.85M78.2,356.8h.85M81.8,327.4h.85M80.9,350.9h.85M90.5,325.9h.85M80.9,304.7h.85M74.5,332.4h.85M70.4,343.0h.85M82.9,331.4h.85M66.5,330.5h.85M83.6,331.6h.85M97.7,316.3h.85M68.8,329.6h.85M92.7,302.7h.85M81.7,336.0h.85M87.6,335.3h.85M63.4,342.9h.85M69.5,327.6h.85M79.2,347.5h.85M77.3,331.2h.85M71.5,341.2h.85M68.8,330.5h.85M74.0,320.8h.85M83.6,319.6h.85M72.6,327.9h.85M98.1,321.5h.85M97.5,316.1h.85M82.5,317.6h.85M83.1,318.9h.85M66.9,329.4h.85M78.5,336.0h.85M68.4,330.6h.85M88.2,329.1h.85M79.7,339.3h.85M77.4,319.9h.85M70.1,347.9h.85M71.1,346.1h.85M81.0,346.8h.85M76.5,335.3h.85M60.3,335.4h.85M68.8,333.0h.85M97.1,327.3h.85M71.7,344.4h.85M73.7,348.4h.85M68.1,343.4h.85M89.1,323.0h.85M63.7,331.7h.85M70.4,357.5h.85M80.0,329.5h.85M86.4,321.9h.85M69.2,342.3h.85M74.8,335.9h.85M98.9,310.3h.85M76.2,330.8h.85M64.1,337.8h.85M94.1,325.4h.85M80.5,354.5h.85M69.6,330.2h.85M87.5,324.3h.85M60.0,347.9h.85M76.6,348.3h.85M68.8,331.6h.85M74.4,348.1h.85M79.7,339.8h.85M72.1,351.5h.85M102.0,328.1h.85M62.5,352.5h.85M74.7,337.7h.85M73.0,349.5h.85M103.5,316.0h.85M64.4,342.8h.85M82.2,327.5h.85M77.1,348.8h.85M86.0,333.8h.85M82.0,342.5h.85M65.0,335.0h.85M66.9,328.7h.85M90.0,324.5h.85M80.1,324.0h.85M75.3,327.7h.85M74.5,335.3h.85M73.5,325.3h.85M68.6,348.8h.85M74.7,342.8h.85M63.5,334.6h.85M83.1,328.0h.85M79.3,325.4h.85M80.5,344.5h.85M79.3,329.0h.85M80.0,336.7h.85M71.1,344.6h.85M77.8,333.2h.85M84.1,330.3h.85M86.0,330.8h.85M74.6,352.0h.85M93.4,303.0h.85M69.7,351.8h.85M89.1,329.4h.85M79.2,311.9h.85M81.4,332.9h.85M80.0,317.2h.85M73.4,333.0h.85M73.3,336.1h.85M75.7,335.7h.85M66.0,339.6h.85M78.5,351.7h.85M81.8,324.0h.85M100.6,343.1h.85M70.7,347.7h.85M79.9,348.2h.85M83.6,322.2h.85M75.5,324.7h.85M86.7,315.6h.85M85.3,306.0h.85M66.6,344.7h.85M85.5,321.9h.85M75.5,335.3h.85M82.1,325.5h.85M76.3,332.9h.85M75.0,353.2h.85M61.8,336.7h.85M72.2,339.9h.85M73.0,319.4h.85M66.5,349.7h.85M71.8,325.8h.85M67.6,348.2h.85M64.4,329.3h.85M77.7,351.3h.85M73.6,351.3h.85M72.5,358.5h.85M84.4,314.5h.85M74.0,345.3h.85M69.0,351.1h.85M86.9,322.8h.85M77.1,330.7h.85M78.5,320.3h.85M88.1,317.4h.85M62.8,331.2h.85M73.5,340.9h.85M75.5,314.1h.85M70.3,333.3h.85M66.0,348.1h.85M74.8,347.2h.85M77.6,327.8h.85M70.6,329.2h.85M62.6,343.2h.85M69.9,331.8h.85M66.9,335.7h.85M70.3,327.3h.85M75.9,335.6h.85M78.6,321.1h.85M57.2,340.8h.85M77.7,323.9h.85M82.9,323.8h.85M75.0,346.0h.85M74.8,344.7h.85M104.6,309.5h.85M70.4,325.9h.85M67.3,337.8h.85M73.5,348.0h.85M81.3,336.7h.85M75.2,320.5h.85M67.6,351.8h.85M76.3,335.0h.85M75.3,348.5h.85M86.5,334.7h.85M77.0,342.0h.85M69.2,331.4h.85M64.6,328.5h.85M75.2,337.8h.85M74.5,322.7h.85M60.4,346.3h.85M97.2,307.0h.85M65.3,340.3h.85M82.4,310.4h.85M74.1,335.9h.85M65.2,339.8h.85M94.6,327.1h.85M77.6,341.2h.85M79.8,330.4h.85M81.9,341.9h.85M78.6,327.8h.85M79.4,341.7h.85M66.3,338.3h.85M70.2,335.8h.85M87.8,322.8h.85M71.6,333.6h.85M89.5,321.5h.85M97.7,316.3h.85M70.4,334.9h.85M74.4,338.9h.85M84.8,328.5h.85M78.6,311.0h.85M67.0,328.3h.85M63.6,343.6h.85M64.3,337.8h.85M70.4,356.7h.85M78.9,342.8h.85M76.2,345.5h.85M73.5,342.9h.85M75.5,353.0h.85M85.4,335.0h.85M81.2,343.8h.85M73.1,332.0h.85M70.7,342.3h.85M60.9,339.6h.85M80.9,336.8h.85M78.4,342.0h.85M80.3,312.0h.85M71.6,327.9h.85M71.5,342.9h.85M85.5,328.2h.85M91.8,336.0h.85M79.3,343.9h.85M90.0,321.4h.85M63.2,331.0h.85M79.7,339.0h.85M72.3,337.0h.85M83.4,316.2h.85M68.2,345.5h.85M88.1,325.4h.85M73.0,332.0h.85M90.8,325.5h.85M76.5,325.5h.85M63.4,347.8h.85M82.6,340.5h.85M63.2,347.3h.85M91.1,315.9h.85M72.2,341.9h.85M75.5,322.0h.85M64.6,328.8h.85M84.1,327.2h.85M88.8,332.4h.85M77.3,335.6h.85M81.6,332.7h.85M65.3,345.4h.85M74.5,336.8h.85M68.7,342.6h.85M78.9,332.7h.85M85.2,332.2h.85M85.9,333.2h.85M90.8,332.0h.85M76.7,325.4h.85M101.0,314.6h.85M89.9,324.6h.85M68.8,329.4h.85M76.8,328.6h.85M80.6,312.8h.85M69.6,349.1h.85M75.1,325.2h.85M77.0,336.2h.85M80.0,335.6h.85M79.4,324.9h.85M66.3,334.8h.85M85.1,329.4h.85M85.1,352.3h.85M77.1,336.8h.85M76.6,330.5h.85M70.0,325.7h.85M83.7,347.6h.85M80.0,323.5h.85M61.6,334.6h.85M73.4,335.5h.85M60.8,335.0h.85M79.3,335.2h.85M87.7,324.8h.85M95.0,323.7h.85M68.2,331.5h.85M84.9,334.6h.85M55.5,346.4h.85M77.5,325.0h.85M88.4,320.0h.85M62.9,335.1h.85M69.6,320.7h.85M57.0,343.4h.85M99.6,324.0h.85M71.4,335.7h.85M88.7,332.9h.85M82.6,353.7h.85M80.8,342.3h.85M82.2,351.5h.85M65.9,331.6h.85M134.7,268.1h.85M112.8,285.7h.85M119.1,284.4h.85M98.3,295.3h.85M125.0,271.7h.85M116.7,284.9h.85M119.3,286.0h.85M89.3,307.0h.85M94.7,295.5h.85M99.0,296.1h.85M121.5,280.7h.85M110.3,282.2h.85M120.6,281.5h.85M117.2,281.2h.85M108.5,290.6h.85M89.9,301.6h.85M133.7,275.6h.85M116.8,285.8h.85M109.7,283.9h.85M109.5,284.5h.85M94.7,300.3h.85M85.9,305.3h.85M106.7,289.4h.85M122.4,276.1h.85M107.5,288.9h.85M124.6,273.5h.85M102.0,294.5h.85M109.8,282.8h.85M129.8,275.1h.85M89.0,307.3h.85M92.1,301.0h.85M89.7,304.9h.85M110.2,284.0h.85M98.5,295.7h.85M121.5,275.3h.85M108.3,287.4h.85M96.0,287.3h.85M85.8,304.8h.85M110.8,284.7h.85M111.4,287.8h.85M117.4,280.3h.85M120.1,273.8h.85M122.7,277.6h.85M118.6,278.0h.85M124.7,281.5h.85M118.4,282.9h.85M119.7,279.9h.85M113.8,280.9h.85M128.8,277.7h.85M93.0,302.1h.85M85.5,304.3h.85M104.8,287.7h.85M119.8,281.9h.85M87.9,309.3h.85M90.3,300.1h.85M120.9,276.7h.85M134.8,270.8h.85M132.6,267.9h.85M96.3,292.5h.85M92.2,301.2h.85M110.8,285.1h.85M103.8,287.6h.85M119.8,278.5h.85M87.1,306.5h.85M121.8,277.5h.85M83.9,308.1h.85M89.3,305.1h.85M127.1,271.4h.85M100.9,292.3h.85M97.2,297.0h.85M93.4,298.3h.85M111.3,287.5h.85M112.4,287.1h.85M110.4,286.0h.85M133.6,277.3h.85M87.8,302.3h.85M100.9,286.4h.85M101.7,294.1h.85M122.2,270.8h.85M101.9,294.2h.85M113.4,283.5h.85M99.6,287.9h.85M107.5,286.8h.85M113.2,285.9h.85M100.0,296.0h.85M117.7,272.4h.85M108.9,291.7h.85M96.9,293.6h.85M107.9,289.2h.85M114.2,280.0h.85M114.2,274.4h.85M83.7,308.9h.85M88.6,304.3h.85M112.1,286.7h.85M106.7,289.6h.85M115.8,280.1h.85M133.7,272.9h.85M96.9,297.0h.85M131.8,276.1h.85M114.5,285.2h.85M109.5,285.9h.85M110.0,288.6h.85M120.9,277.5h.85M119.4,283.0h.85M120.0,282.5h.85M125.5,279.1h.85M99.4,291.8h.85M104.7,290.9h.85M130.8,274.1h.85M104.0,290.1h.85M119.0,284.0h.85M99.8,294.4h.85M127.6,270.6h.85M115.0,283.2h.85M120.0,274.0h.85M93.4,298.6h.85M114.1,286.4h.85M106.4,293.5h.85M119.0,271.9h.85M112.3,285.1h.85M126.5,270.0h.85M114.2,288.4h.85M121.5,273.6h.85M126.6,277.0h.85M95.6,295.0h.85M116.2,281.2h.85M94.3,302.4h.85M106.7,288.2h.85M94.1,302.7h.85M86.8,307.0h.85M112.9,288.2h.85M116.6,281.8h.85M100.7,295.6h.85M99.1,298.5h.85M98.2,291.3h.85M127.2,277.5h.85M122.5,271.6h.85M106.6,286.7h.85M99.2,292.4h.85M92.5,295.6h.85M119.1,281.6h.85M124.0,280.5h.85M114.7,279.9h.85M85.8,306.0h.85M108.9,282.5h.85M93.7,301.7h.85M128.8,279.4h.85M101.9,287.7h.85M107.0,289.3h.85M106.9,286.5h.85M124.2,280.0h.85M94.1,302.5h.85M95.4,297.2h.85M119.0,274.3h.85M94.1,301.9h.85M88.8,301.5h.85M131.8,267.8h.85M121.6,275.7h.85M87.6,302.2h.85M111.7,281.9h.85M127.6,274.3h.85M131.1,264.3h.85M130.3,271.8h.85M105.8,287.2h.85M122.4,285.8h.85M94.6,301.6h.85M96.1,295.3h.85M102.7,290.5h.85M131.3,273.1h.85M95.0,300.5h.85M112.4,276.2h.85M131.2,268.3h.85M106.4,291.4h.85M119.9,280.1h.85M113.7,283.0h.85M89.5,302.9h.85M120.5,278.0h.85M125.8,277.8h.85M130.4,275.4h.85M113.6,285.3h.85M106.6,286.9h.85M115.1,276.9h.85M105.0,292.7h.85M104.6,293.7h.85M105.7,286.4h.85M90.4,306.3h.85M88.6,304.2h.85M133.7,268.6h.85M97.8,294.2h.85M105.5,280.3h.85M115.3,277.9h.85M106.0,285.6h.85M134.4,272.1h.85M114.4,286.9h.85M129.8,278.8h.85M97.0,294.4h.85M113.4,282.7h.85M122.5,275.0h.85M96.3,292.8h.85M95.1,299.9h.85M111.0,285.0h.85M116.7,282.1h.85M90.2,299.0h.85M95.9,295.9h.85M123.7,268.9h.85M117.8,285.7h.85M110.9,285.9h.85M120.2,275.9h.85M134.5,269.4h.85M132.6,272.6h.85M94.5,301.1h.85M92.5,303.8h.85M84.9,305.8h.85M118.5,283.1h.85M99.5,298.2h.85M101.0,297.1h.85M101.4,291.2h.85M107.9,286.7h.85M126.0,274.8h.85M89.5,306.8h.85M107.9,288.4h.85M94.1,296.2h.85M92.2,299.8h.85M123.3,273.1h.85M107.0,289.8h.85M115.3,282.9h.85M102.4,293.1h.85M119.5,278.6h.85M128.1,276.4h.85M89.8,299.0h.85M89.0,305.0h.85M121.4,277.4h.85M89.6,306.6h.85M102.2,292.5h.85M131.4,275.8h.85M123.8,277.9h.85M84.3,306.3h.85M95.2,300.8h.85M94.5,295.7h.85M107.2,292.1h.85M102.0,296.6h.85M111.2,286.8h.85M121.9,277.7h.85M113.3,286.9h.85M111.2,287.6h.85M112.0,285.7h.85M106.6,292.4h.85M108.9,279.3h.85M114.0,281.6h.85M130.8,272.4h.85M121.0,274.7h.85M90.0,300.4h.85M125.9,274.4h.85M129.8,272.7h.85M101.1,288.4h.85M99.7,297.5h.85M96.0,296.7h.85M88.7,300.7h.85M96.6,297.2h.85M90.1,299.0h.85M115.3,282.3h.85M86.1,305.0h.85M99.9,293.7h.85M97.8,292.2h.85M100.2,294.0h.85M100.7,297.5h.85M116.9,281.3h.85M111.3,286.5h.85M117.0,281.4h.85M125.0,275.0h.85M92.4,299.2h.85M100.8,293.7h.85M132.7,275.0h.85M130.2,263.4h.85M106.7,290.9h.85M98.9,290.5h.85M92.7,300.0h.85M114.8,282.7h.85M107.3,290.5h.85M126.2,281.6h.85M120.7,275.4h.85M87.2,309.8h.85M133.8,271.1h.85M126.6,273.7h.85M130.7,268.5h.85M99.9,295.7h.85M98.8,298.4h.85M101.1,298.3h.85M102.9,291.7h.85M114.7,285.6h.85M84.3,306.9h.85M111.7,290.5h.85M134.9,263.5h.85M128.5,274.7h.85M105.1,288.5h.85M93.6,298.1h.85M132.4,271.1h.85M104.3,290.1h.85M105.4,283.1h.85M96.3,289.7h.85M149.5,299.5h.85M149.7,306.6h.85M145.8,303.1h.85M146.5,304.3h.85M146.7,303.5h.85M149.3,303.6h.85M147.5,305.1h.85M149.7,304.5h.85M149.0,306.1h.85M149.5,299.8h.85M146.9,306.2h.85M145.7,308.4h.85M146.9,307.0h.85M149.0,305.0h.85M149.3,303.5h.85M148.9,303.9h.85M148.4,307.3h.85M151.8,300.4h.85M147.7,307.8h.85M148.0,308.8h.85M147.5,303.9h.85M147.3,305.6h.85M146.9,303.0h.85M149.0,303.5h.85M149.0,302.0h.85M152.4,305.0h.85M150.1,300.8h.85M148.0,308.0h.85M144.6,300.2h.85M149.0,304.3h.85M148.7,303.5h.85M150.7,304.9h.85M148.4,302.2h.85M151.8,305.5h.85M146.7,305.8h.85M149.1,302.7h.85M151.1,303.5h.85M150.4,300.4h.85M148.4,303.4h.85M149.9,304.8h.85M145.4,306.6h.85M146.4,304.3h.85M149.7,306.5h.85M147.0,310.6h.85M146.7,307.3h.85M146.2,304.6h.85M147.0,308.0h.85M141.7,311.0h.85M149.9,305.4h.85M150.0,297.9h.85M147.1,305.7h.85M150.6,302.7h.85M148.3,306.7h.85M150.4,304.3h.85M147.7,304.6h.85M145.3,305.2h.85M150.0,303.2h.85M150.2,300.4h.85M146.4,304.3h.85M146.0,306.5h.85M149.0,302.6h.85M145.8,310.3h.85M146.4,303.7h.85M149.4,303.9h.85M145.1,305.8h.85M148.6,304.7h.85M150.8,305.2h.85M146.9,302.5h.85M148.2,300.8h.85M149.4,301.5h.85M148.1,299.3h.85M150.0,301.6h.85M148.7,306.7h.85M151.5,297.0h.85M147.4,305.7h.85M150.3,299.8h.85M149.0,298.7h.85M147.2,298.7h.85M147.8,303.8h.85M150.0,305.7h.85M148.4,305.5h.85M151.9,298.5h.85M146.8,304.3h.85M147.0,309.7h.85M151.3,301.6h.85M152.4,304.1h.85M145.4,299.8h.85M148.9,306.6h.85M149.5,305.2h.85M150.0,295.4h.85M150.8,296.9h.85M147.1,308.0h.85M148.5,300.5h.85M148.7,298.3h.85M149.8,304.7h.85M147.3,303.8h.85M149.6,304.0h.85M152.7,299.2h.85M150.5,297.9h.85M146.6,308.5h.85M146.4,304.1h.85M147.8,305.0h.85M150.1,303.9h.85M149.4,307.0h.85M149.8,303.8h.85M147.8,299.0h.85M149.0,298.3h.85M150.8,303.0h.85M146.8,299.8h.85M150.6,303.7h.85M148.2,303.8h.85M151.4,304.3h.85M146.3,304.6h.85M146.4,306.5h.85M148.8,304.4h.85M145.5,302.7h.85M147.9,308.6h.85M147.0,300.5h.85M145.4,299.2h.85M152.0,296.9h.85M147.6,308.8h.85M147.7,303.3h.85M147.7,304.5h.85M146.9,303.3h.85M148.8,305.6h.85M146.8,301.1h.85M150.6,305.9h.85M152.1,302.4h.85M145.3,306.9h.85M142.8,308.8h.85M146.3,304.0h.85M146.1,306.3h.85M149.7,304.6h.85M146.1,300.7h.85M149.6,298.8h.85M147.4,306.5h.85M145.7,303.9h.85M149.2,298.5h.85M148.8,305.6h.85M151.2,298.8h.85M148.3,306.5h.85M150.4,300.4h.85M148.4,301.3h.85M145.6,302.7h.85M145.8,305.0h.85M151.0,304.4h.85M143.8,309.5h.85M147.3,306.2h.85M148.5,299.5h.85M149.7,306.6h.85M150.2,272.4h.85M142.5,269.2h.85M143.0,273.4h.85M147.8,280.1h.85M139.3,272.0h.85M150.7,280.4h.85M151.0,273.8h.85M142.2,277.2h.85M150.6,269.5h.85M152.2,294.9h.85M151.0,280.3h.85M145.3,264.0h.85M148.5,281.8h.85M150.4,274.4h.85M148.5,284.9h.85M151.2,268.7h.85M154.2,270.6h.85M154.4,280.8h.85M141.0,273.5h.85M148.6,277.1h.85M155.1,272.7h.85M143.9,273.7h.85M152.6,280.8h.85M142.3,277.9h.85M154.1,282.5h.85M147.6,282.5h.85M145.9,278.2h.85M147.9,280.7h.85M153.3,270.8h.85M140.0,277.5h.85M147.1,285.4h.85M155.0,292.4h.85M147.8,274.8h.85M143.1,284.8h.85M151.1,280.2h.85M150.7,277.9h.85M135.4,271.4h.85M154.6,276.6h.85M147.8,278.6h.85M139.6,275.9h.85M144.3,270.5h.85M154.0,265.2h.85M152.8,266.7h.85M155.4,270.1h.85M147.9,272.2h.85M141.7,269.3h.85M151.9,292.8h.85M142.8,273.9h.85M141.3,276.9h.85M148.2,280.9h.85M152.0,274.1h.85M150.8,275.6h.85M142.8,270.2h.85M142.9,286.9h.85M143.8,276.8h.85M142.5,271.7h.85M139.5,270.1h.85M148.1,268.3h.85M139.9,277.8h.85M143.6,263.3h.85M132.6,264.9h.85M157.9,283.4h.85M147.2,262.5h.85M150.7,268.0h.85M147.8,277.5h.85M139.0,283.1h.85M151.4,274.1h.85M139.7,273.9h.85M147.6,269.0h.85M145.3,269.7h.85M153.4,276.9h.85M139.9,265.4h.85M152.9,282.8h.85M147.4,272.5h.85M153.1,281.9h.85M148.4,273.7h.85M143.9,272.3h.85M147.9,272.2h.85M149.3,269.9h.85M142.8,284.0h.85M154.0,276.9h.85M153.9,279.6h.85M152.3,267.4h.85M154.4,272.7h.85M153.0,272.1h.85M155.6,275.9h.85M135.6,272.5h.85M145.9,267.4h.85M145.3,281.2h.85M153.9,277.0h.85M146.7,272.7h.85M141.7,275.1h.85M144.3,279.5h.85M140.1,276.6h.85M153.1,277.8h.85M147.1,271.8h.85M145.6,272.6h.85M152.4,283.3h.85M161.8,270.2h.85M150.2,283.5h.85M145.4,277.4h.85M146.6,286.6h.85M137.5,272.2h.85M144.2,276.6h.85M150.9,282.0h.85M141.0,270.6h.85M145.8,278.6h.85M143.3,292.8h.85M129.3,274.7h.85M116.0,293.9h.85M123.8,316.3h.85M140.3,280.3h.85M153.5,288.6h.85M154.4,315.1h.85M146.0,290.9h.85M123.9,274.0h.85M140.8,303.3h.85M127.1,292.7h.85M125.1,293.6h.85M129.9,290.2h.85M120.7,269.8h.85M136.3,284.4h.85M121.7,271.4h.85M159.3,298.1h.85M129.9,300.6h.85M121.6,297.1h.85M156.3,276.1h.85M124.8,294.0h.85M144.4,309.7h.85M142.8,298.9h.85M129.3,323.4h.85M141.0,283.8h.85M139.3,329.4h.85M134.9,290.3h.85M129.1,296.5h.85M142.3,290.1h.85M135.1,333.3h.85M132.1,279.8h.85M122.2,276.1h.85M148.5,267.0h.85M157.2,273.2h.85M133.6,307.6h.85M149.8,285.8h.85M117.2,291.0h.85M132.9,276.0h.85M130.8,286.3h.85M116.1,293.5h.85M126.5,283.3h.85M140.9,315.2h.85M148.5,292.4h.85M118.4,281.3h.85M135.2,294.3h.85M120.6,290.8h.85M148.8,291.0h.85M155.4,275.8h.85M100.2,282.1h.85M127.6,295.5h.85M156.5,329.9h.85M135.1,280.1h.85M141.9,287.3h.85M154.2,294.8h.85M146.5,268.2h.85M138.7,299.3h.85M145.1,279.2h.85M148.4,300.9h.85M143.2,282.5h.85M134.8,297.5h.85M134.8,316.9h.85M131.1,297.8h.85M130.7,295.7h.85M136.5,290.9h.85M133.3,300.0h.85M142.0,293.2h.85M130.2,286.2h.85M112.4,302.8h.85M140.8,308.3h.85M157.4,304.0h.85M129.8,294.1h.85M127.6,294.0h.85M136.1,300.2h.85M137.0,310.9h.85M122.6,293.2h.85M140.2,278.6h.85M125.9,277.8h.85M118.7,308.2h.85M109.0,312.5h.85M128.6,271.6h.85M127.8,289.5h.85M157.0,293.9h.85M121.5,314.6h.85M122.6,290.2h.85M153.0,283.0h.85M145.5,280.4h.85M149.0,294.1h.85M118.7,302.4h.85M131.7,295.4h.85M121.5,276.0h.85M124.4,277.1h.85M111.7,308.5h.85M115.1,292.4h.85M135.8,289.2h.85M108.5,297.2h.85M141.3,298.8h.85M144.7,315.3h.85M127.6,291.8h.85M144.1,289.3h.85M124.4,292.3h.85M125.7,281.8h.85M148.6,287.3h.85M157.2,274.9h.85M137.1,278.6h.85M137.7,294.6h.85M123.7,283.4h.85M113.1,272.1h.85M117.4,278.9h.85M128.1,306.2h.85M116.4,295.7h.85M133.5,283.9h.85M121.0,274.5h.85M144.6,315.6h.85M148.6,294.9h.85M117.8,322.5h.85M162.1,290.8h.85M108.7,308.1h.85M154.7,297.9h.85M116.3,271.4h.85M109.6,299.9h.85M121.8,303.0h.85M150.8,286.4h.85M130.1,260.9h.85M138.1,281.3h.85M161.8,290.3h.85M156.7,282.8h.85M145.3,335.8h.85M133.9,332.9h.85M130.3,349.8h.85M130.5,339.8h.85M126.7,344.8h.85M132.2,327.9h.85M132.5,341.6h.85M128.7,321.6h.85M124.8,320.2h.85M142.3,318.5h.85M140.5,346.9h.85M123.8,324.0h.85M103.8,302.7h.85M96.6,302.5h.85M103.8,299.7h.85M117.6,290.6h.85M134.9,303.9h.85M121.1,303.9h.85M82.8,301.5h.85M96.0,305.2h.85M76.1,287.1h.85M98.5,307.6h.85M104.7,292.1h.85M98.2,289.7h.85M114.4,302.8h.85M104.6,279.3h.85M89.9,298.1h.85M104.8,274.7h.85M81.0,292.5h.85M128.9,292.7h.85M97.6,301.9h.85M97.8,281.5h.85M123.1,289.8h.85M90.2,314.0h.85M101.4,291.8h.85M98.1,299.5h.85M104.3,298.4h.85M96.8,305.7h.85M87.2,297.2h.85M74.0,294.7h.85M98.6,292.3h.85M116.1,314.0h.85" stroke="#111" stroke-width="0.85" fill="none"/>
</g>
<rect x="52.4" y="259.8" width="109.9" height="110.19999999999999" fill="none" stroke="#222" stroke-width="1.1"/>
<line x1="114" y1="259.8" x2="114" y2="370" stroke="#111" stroke-width="2.1"/>
<line x1="52.4" y1="313.3" x2="162.3" y2="313.3" stroke="#111" stroke-width="1.9"/>
<text x="106.8" y="253.8" font-size="10.4" text-anchor="middle" textLength="32.83" lengthAdjust="spacingAndGlyphs" fill="#1c1c1c">Control</text>
<text x="55.4" y="269.2" font-size="8.2" textLength="26.66" lengthAdjust="spacingAndGlyphs" fill="#1c1c1c">1.12122</text>
<text x="161.8" y="269.2" font-size="8.2" text-anchor="end" textLength="27.66" lengthAdjust="spacingAndGlyphs" fill="#1c1c1c">3.10222</text>
<text x="55.0" y="367.8" font-size="8.2" textLength="31.36" lengthAdjust="spacingAndGlyphs" fill="#1c1c1c">95.66595</text>
<text x="161.3" y="367.8" font-size="8.2" text-anchor="end" textLength="28.16" lengthAdjust="spacingAndGlyphs" fill="#1c1c1c">0.11061</text>
<path d="M52.4,270.3h-3M52.4,294.7h-3M52.4,319.6h-3M52.4,347.2h-3M52.4,358.5h-3M78,370v3.6M104.5,370v3.6M130,370v3.6M153.5,370v3.6M66,370v3.6" stroke="#1a1a1a" stroke-width="1.25" fill="none"/>
<path d="M52.4,287.4h-1.7M52.4,283.1h-1.7M52.4,280.0h-1.7M52.4,277.6h-1.7M52.4,275.7h-1.7M52.4,274.1h-1.7M52.4,272.7h-1.7M52.4,271.4h-1.7M52.4,312.1h-1.7M52.4,307.7h-1.7M52.4,304.6h-1.7M52.4,302.2h-1.7M52.4,300.2h-1.7M52.4,298.6h-1.7M52.4,297.1h-1.7M52.4,295.8h-1.7M52.4,338.9h-1.7M52.4,334.0h-1.7M52.4,330.6h-1.7M52.4,327.9h-1.7M52.4,325.7h-1.7M52.4,323.9h-1.7M52.4,322.3h-1.7M52.4,320.9h-1.7M52.4,361.0h-1.7M52.4,363.5h-1.7M52.4,356.0h-1.7M52.4,353.5h-1.7M86.0,370v2.2M90.6,370v2.2M94.0,370v2.2M96.5,370v2.2M98.6,370v2.2M100.4,370v2.2M101.9,370v2.2M103.3,370v2.2M112.2,370v2.2M116.7,370v2.2M119.9,370v2.2M122.3,370v2.2M124.3,370v2.2M126.1,370v2.2M127.5,370v2.2M128.8,370v2.2M137.1,370v2.2M141.2,370v2.2M144.1,370v2.2M146.4,370v2.2M148.3,370v2.2M149.9,370v2.2M151.2,370v2.2M152.4,370v2.2M58.0,370v2.2M60.0,370v2.2M62.0,370v2.2M64.0,370v2.2M68.0,370v2.2M70.0,370v2.2M72.0,370v2.2M74.0,370v2.2" stroke="#1a1a1a" stroke-width="0.85" fill="none"/>
<text x="33.3" y="273.6" font-size="8.6" text-anchor="start" fill="#1c1c1c" textLength="12.2" lengthAdjust="spacingAndGlyphs">10<tspan font-size="5.5" dy="-3.4">5</tspan></text>
<text x="33.3" y="298.0" font-size="8.6" text-anchor="start" fill="#1c1c1c" textLength="12.2" lengthAdjust="spacingAndGlyphs">10<tspan font-size="5.5" dy="-3.4">4</tspan></text>
<text x="33.3" y="322.90000000000003" font-size="8.6" text-anchor="start" fill="#1c1c1c" textLength="12.2" lengthAdjust="spacingAndGlyphs">10<tspan font-size="5.5" dy="-3.4">3</tspan></text>
<text x="33.3" y="350.5" font-size="8.6" text-anchor="start" fill="#1c1c1c" textLength="12.2" lengthAdjust="spacingAndGlyphs">10<tspan font-size="5.5" dy="-3.4">2</tspan></text>
<text x="45.2" y="362" font-size="8.6" text-anchor="end" fill="#1c1c1c">0</text>
<text x="69.6" y="385" font-size="8.6" text-anchor="start" fill="#1c1c1c" textLength="12.2" lengthAdjust="spacingAndGlyphs">10<tspan font-size="5.5" dy="-3.4">2</tspan></text>
<text x="96.6" y="385" font-size="8.6" text-anchor="start" fill="#1c1c1c" textLength="12.2" lengthAdjust="spacingAndGlyphs">10<tspan font-size="5.5" dy="-3.4">3</tspan></text>
<text x="122.1" y="385" font-size="8.6" text-anchor="start" fill="#1c1c1c" textLength="12.2" lengthAdjust="spacingAndGlyphs">10<tspan font-size="5.5" dy="-3.4">4</tspan></text>
<text x="145.9" y="385" font-size="8.6" text-anchor="start" fill="#1c1c1c" textLength="12.2" lengthAdjust="spacingAndGlyphs">10<tspan font-size="5.5" dy="-3.4">5</tspan></text>
<text x="64.3" y="385" font-size="8.6" text-anchor="middle" fill="#1c1c1c">0</text>
<clipPath id="c197"><rect x="197.6" y="259.4" width="109.79999999999998" height="110.90000000000003"/></clipPath>
<g clip-path="url(#c197)">
<ellipse cx="216.3" cy="345.6" rx="7.6" ry="9.6" transform="rotate(25 216.3 345.6)" fill="#161616" opacity="0.95" filter="url(#blb)"/>
<ellipse cx="271.5" cy="287.2" rx="13.6" ry="7.4" transform="rotate(-4 271.5 287.2)" fill="#161616" opacity="0.97" filter="url(#blb)"/>
<ellipse cx="284" cy="286" rx="8" ry="6.6" transform="rotate(0 284 286)" fill="#161616" opacity="0.92" filter="url(#blb)"/>
<ellipse cx="291.3" cy="284.4" rx="7.4" ry="6.4" transform="rotate(-8 291.3 284.4)" fill="#161616" opacity="0.94" filter="url(#blb)"/>
<path d="M220.5,343.6h.85M227.6,346.8h.85M205.3,346.7h.85M213.1,341.4h.85M216.0,345.9h.85M220.0,354.3h.85M226.5,351.0h.85M223.5,346.2h.85M211.4,345.5h.85M209.3,346.7h.85M218.7,342.2h.85M203.5,348.9h.85M202.6,346.5h.85M204.3,347.5h.85M211.9,336.8h.85M213.6,349.2h.85M219.0,346.1h.85M222.8,341.3h.85M222.6,351.2h.85M213.4,340.5h.85M214.5,330.8h.85M225.4,345.1h.85M218.8,345.3h.85M220.7,346.1h.85M217.2,343.5h.85M207.5,334.7h.85M215.4,342.5h.85M224.8,331.5h.85M218.0,351.8h.85M208.0,344.7h.85M218.4,348.6h.85M226.6,339.3h.85M216.2,343.0h.85M224.2,347.0h.85M222.8,349.3h.85M213.5,351.0h.85M223.2,341.4h.85M214.0,342.3h.85M207.6,357.2h.85M211.0,350.3h.85M217.2,331.4h.85M219.1,338.9h.85M213.2,353.6h.85M211.9,336.4h.85M210.1,352.7h.85M215.3,338.2h.85M220.5,343.3h.85M219.0,346.3h.85M219.5,335.3h.85M211.1,339.8h.85M213.3,350.2h.85M215.1,337.3h.85M217.1,357.9h.85M209.2,320.7h.85M213.4,353.3h.85M212.4,339.0h.85M224.0,345.7h.85M219.7,349.2h.85M211.3,341.7h.85M210.6,348.0h.85M227.7,338.6h.85M207.9,339.1h.85M212.3,347.6h.85M209.6,359.2h.85M209.5,339.4h.85M212.2,347.0h.85M226.5,333.5h.85M219.5,339.8h.85M217.4,357.1h.85M202.7,344.8h.85M216.8,338.9h.85M219.4,346.6h.85M218.0,348.0h.85M218.8,334.9h.85M215.2,347.8h.85M216.2,339.4h.85M212.6,342.7h.85M219.3,347.2h.85M212.5,350.6h.85M207.2,353.9h.85M219.7,346.1h.85M212.2,352.4h.85M215.0,352.8h.85M219.8,344.5h.85M207.2,342.8h.85M206.5,345.6h.85M213.7,349.9h.85M216.2,335.6h.85M214.9,351.3h.85M217.1,359.2h.85M225.3,340.7h.85M220.3,348.0h.85M220.8,350.3h.85M209.3,347.7h.85M214.9,341.2h.85M213.5,338.0h.85M211.4,340.5h.85M228.6,351.8h.85M205.4,349.6h.85M209.6,356.2h.85M219.1,332.2h.85M218.4,337.9h.85M226.0,355.3h.85M209.1,332.3h.85M215.4,353.4h.85M217.2,339.9h.85M220.5,344.4h.85M221.0,350.5h.85M217.9,353.4h.85M220.6,339.1h.85M215.0,347.6h.85M199.7,349.9h.85M213.5,337.2h.85M217.8,342.7h.85M205.1,355.4h.85M218.2,348.4h.85M209.1,341.2h.85M215.1,349.3h.85M209.4,353.1h.85M202.0,343.3h.85M227.3,335.2h.85M220.3,351.1h.85M221.8,356.9h.85M215.9,348.3h.85M214.9,349.6h.85M217.6,342.9h.85M218.0,353.2h.85M218.2,341.2h.85M215.5,335.6h.85M219.7,335.5h.85M218.8,333.1h.85M216.7,347.6h.85M228.5,341.3h.85M210.5,346.5h.85M226.2,343.1h.85M216.7,339.2h.85M220.4,336.0h.85M220.5,345.7h.85M201.1,343.1h.85M221.3,345.6h.85M221.0,343.5h.85M223.0,346.9h.85M225.5,348.5h.85M221.2,347.0h.85M216.2,350.0h.85M218.6,342.5h.85M221.8,334.2h.85M222.2,338.1h.85M214.7,334.9h.85M220.8,350.5h.85M215.9,352.2h.85M219.4,341.6h.85M221.0,343.5h.85M217.9,348.0h.85M211.9,347.7h.85M210.4,356.3h.85M210.8,357.5h.85M210.6,340.7h.85M218.3,345.5h.85M209.8,345.2h.85M218.4,347.1h.85M230.8,343.9h.85M211.7,360.3h.85M214.0,340.3h.85M229.7,348.6h.85M224.7,348.1h.85M217.3,336.3h.85M211.1,329.3h.85M211.5,344.7h.85M217.4,343.9h.85M216.7,335.3h.85M212.7,326.6h.85M232.8,351.0h.85M219.7,347.6h.85M234.2,357.7h.85M217.2,337.8h.85M211.1,359.5h.85M206.7,334.3h.85M218.0,350.2h.85M203.1,352.9h.85M224.4,345.4h.85M216.3,335.0h.85M207.6,336.7h.85M214.6,357.3h.85M209.0,345.3h.85M208.7,358.0h.85M211.9,323.6h.85M219.4,355.8h.85M206.2,357.3h.85M223.2,347.8h.85M226.8,350.7h.85M215.5,345.1h.85M219.9,343.0h.85M205.7,353.4h.85M217.5,347.8h.85M208.0,352.0h.85M215.8,351.5h.85M218.4,350.0h.85M212.2,339.9h.85M208.0,343.9h.85M221.5,346.7h.85M202.5,347.4h.85M216.3,340.7h.85M218.9,346.7h.85M223.1,345.0h.85M201.7,342.4h.85M212.9,347.9h.85M217.3,349.2h.85M223.1,350.6h.85M214.1,349.7h.85M227.7,353.6h.85M207.2,349.3h.85M219.6,350.1h.85M215.3,344.6h.85M199.1,350.0h.85M214.2,346.1h.85M224.4,333.5h.85M223.5,344.8h.85M206.0,348.3h.85M223.9,352.0h.85M216.2,336.4h.85M217.6,356.8h.85M213.5,334.2h.85M217.1,331.4h.85M217.6,339.2h.85M211.6,345.9h.85M222.3,341.9h.85M217.4,338.6h.85M226.2,357.3h.85M221.0,332.2h.85M221.3,357.7h.85M217.1,344.4h.85M221.3,340.0h.85M228.5,349.9h.85M213.7,360.7h.85M213.4,352.6h.85M217.3,347.2h.85M221.7,327.1h.85M223.1,340.4h.85M214.3,341.6h.85M220.1,341.3h.85M226.2,337.0h.85M224.3,335.6h.85M213.3,342.3h.85M232.8,330.7h.85M214.4,343.5h.85M226.3,344.8h.85M223.7,344.0h.85M219.3,344.3h.85M212.7,354.8h.85M216.0,344.6h.85M217.3,347.8h.85M213.2,348.9h.85M225.6,361.2h.85M206.1,348.4h.85M212.0,348.0h.85M198.1,346.3h.85M228.0,336.0h.85M218.3,349.5h.85M202.8,348.8h.85M220.9,344.3h.85M213.9,350.2h.85M220.9,337.9h.85M220.4,345.5h.85M201.5,356.9h.85M213.4,355.2h.85M202.9,344.6h.85M218.2,338.1h.85M231.7,343.5h.85M203.0,353.8h.85M228.4,341.2h.85M219.8,343.3h.85M222.6,341.9h.85M216.4,356.6h.85M217.3,336.8h.85M210.2,350.6h.85M217.4,351.0h.85M219.1,339.6h.85M204.7,342.5h.85M208.9,345.6h.85M216.5,350.2h.85M237.7,353.7h.85M210.1,350.2h.85M210.8,352.9h.85M221.3,350.1h.85M215.4,339.0h.85M215.1,350.8h.85M217.1,340.9h.85M215.9,346.4h.85M214.2,354.0h.85M218.6,341.1h.85M212.4,353.6h.85M217.8,346.9h.85M219.8,350.6h.85M224.9,339.5h.85M224.3,346.9h.85M215.2,345.1h.85M211.5,355.8h.85M214.8,333.6h.85M211.5,336.0h.85M228.1,348.1h.85M209.5,341.7h.85M216.4,342.7h.85M216.0,337.9h.85M207.5,356.7h.85M224.4,343.7h.85M217.4,343.3h.85M217.5,339.6h.85M216.1,349.2h.85M217.1,335.8h.85M214.2,339.8h.85M214.8,351.1h.85M206.7,352.7h.85M208.7,352.4h.85M226.9,358.4h.85M218.8,341.0h.85M197.7,348.6h.85M214.1,340.3h.85M217.6,336.4h.85M208.1,353.1h.85M202.7,352.6h.85M215.6,338.5h.85M215.4,338.6h.85M212.3,345.5h.85M210.6,347.5h.85M221.1,334.1h.85M227.2,339.1h.85M215.0,345.6h.85M215.4,349.1h.85M217.9,341.8h.85M207.8,348.7h.85M231.9,337.6h.85M208.3,352.7h.85M219.6,347.2h.85M217.3,346.8h.85M224.2,345.7h.85M218.2,357.9h.85M220.9,343.5h.85M209.8,355.8h.85M219.1,348.9h.85M222.7,342.1h.85M219.2,358.3h.85M221.9,347.3h.85M212.2,343.5h.85M229.2,327.7h.85M216.2,338.4h.85M222.0,349.9h.85M228.0,346.7h.85M214.2,333.5h.85M217.7,359.8h.85M216.9,340.1h.85M212.0,345.9h.85M221.5,331.6h.85M216.8,358.0h.85M218.1,346.9h.85M214.7,348.0h.85M212.9,360.7h.85M211.7,349.3h.85M224.8,346.4h.85M208.1,360.9h.85M224.0,344.0h.85M215.0,352.9h.85M223.0,344.9h.85M213.1,349.4h.85M221.1,352.2h.85M217.5,336.1h.85M217.1,346.9h.85M212.5,351.7h.85M223.7,341.0h.85M210.2,348.6h.85M207.4,342.3h.85M218.0,343.4h.85M210.3,354.6h.85M212.4,349.5h.85M221.1,355.5h.85M217.3,354.5h.85M225.3,347.7h.85M216.1,345.8h.85M205.7,339.8h.85M223.4,327.0h.85M208.7,344.7h.85M225.1,350.7h.85M216.2,352.1h.85M225.3,340.2h.85M204.9,343.7h.85M221.0,343.9h.85M212.7,346.6h.85M213.3,328.2h.85M211.1,347.5h.85M206.9,355.1h.85M220.6,354.6h.85M202.4,354.6h.85M208.4,339.3h.85M205.8,358.6h.85M206.6,351.7h.85M218.3,347.8h.85M212.5,349.4h.85M217.9,339.7h.85M215.5,338.4h.85M225.3,345.1h.85M213.3,346.9h.85M218.4,347.8h.85M212.4,354.4h.85M222.4,353.5h.85M214.0,359.9h.85M211.0,345.7h.85M215.4,343.7h.85M217.8,345.7h.85M218.2,335.4h.85M206.8,325.8h.85M229.5,335.1h.85M222.8,334.3h.85M211.5,340.6h.85M214.4,332.4h.85M213.6,351.3h.85M219.0,344.5h.85M210.3,353.1h.85M224.7,344.9h.85M221.3,340.8h.85M212.3,345.9h.85M214.0,348.9h.85M215.3,340.1h.85M217.8,327.5h.85M218.0,338.8h.85M213.7,345.4h.85M219.9,333.2h.85M218.9,341.6h.85M222.2,341.4h.85M217.9,331.2h.85M223.1,355.9h.85M221.1,336.1h.85M216.8,348.2h.85M216.5,333.7h.85M221.0,334.5h.85M212.8,347.0h.85M208.6,353.7h.85M214.6,352.6h.85M219.0,340.1h.85M219.3,345.1h.85M225.1,335.0h.85M221.4,333.6h.85M213.9,341.1h.85M213.5,338.7h.85M214.4,340.2h.85M222.0,351.2h.85M221.3,346.4h.85M205.0,342.2h.85M220.4,334.0h.85M219.4,352.7h.85M208.2,351.8h.85M216.4,335.1h.85M218.5,336.2h.85M216.0,347.1h.85M220.7,351.9h.85M220.5,337.4h.85M221.5,342.3h.85M213.2,328.7h.85M225.0,340.2h.85M215.3,347.7h.85M222.1,351.2h.85M215.8,355.4h.85M224.0,337.4h.85M212.1,347.7h.85M203.2,358.4h.85M214.8,334.8h.85M209.3,356.9h.85M213.8,357.6h.85M218.7,354.3h.85M207.9,342.5h.85M210.0,349.4h.85M220.4,354.9h.85M214.9,353.8h.85M217.6,351.3h.85M202.6,351.8h.85M226.2,345.3h.85M209.8,354.8h.85M209.3,346.7h.85M220.0,338.3h.85M210.3,355.1h.85M217.0,333.6h.85M209.9,347.0h.85M213.8,342.7h.85M214.7,336.6h.85M213.9,357.4h.85M218.7,343.9h.85M211.8,348.5h.85M239.1,351.3h.85M212.6,350.9h.85M217.9,350.2h.85M219.5,346.8h.85M220.4,332.6h.85M217.5,348.5h.85M221.6,328.9h.85M228.9,336.0h.85M215.2,353.7h.85M221.2,335.7h.85M229.1,349.9h.85M229.7,348.4h.85M222.5,356.3h.85M200.9,342.7h.85M210.8,350.3h.85M220.5,347.7h.85M221.7,341.6h.85M223.8,355.6h.85M220.7,336.6h.85M214.1,349.5h.85M211.7,345.2h.85M212.6,343.7h.85M214.9,338.9h.85M219.8,342.6h.85M219.9,345.5h.85M227.3,359.7h.85M218.1,352.4h.85M214.0,344.1h.85M228.6,335.4h.85M218.6,348.9h.85M227.6,344.4h.85M218.9,337.4h.85M208.9,344.2h.85M222.1,345.7h.85M218.7,350.0h.85M214.2,343.2h.85M218.4,357.3h.85M228.2,328.0h.85M206.8,350.6h.85M220.9,345.2h.85M208.0,327.7h.85M223.7,332.0h.85M219.0,345.3h.85M213.5,347.2h.85M210.2,332.9h.85M219.1,347.7h.85M209.7,357.1h.85M223.8,334.9h.85M222.8,341.9h.85M219.1,344.6h.85M212.4,350.8h.85M215.8,328.4h.85M208.6,343.2h.85M210.1,347.2h.85M213.5,355.1h.85M216.1,353.7h.85M208.1,325.1h.85M203.9,341.0h.85M218.0,347.2h.85M223.9,346.9h.85M207.1,339.6h.85M216.2,331.6h.85M217.9,346.9h.85M213.8,352.1h.85M212.0,329.7h.85M208.0,356.5h.85M208.5,343.2h.85M210.2,338.9h.85M218.0,340.9h.85M209.3,340.6h.85M218.3,348.2h.85M204.3,355.5h.85M231.1,343.4h.85M218.2,340.2h.85M210.3,352.3h.85M218.0,348.3h.85M229.6,353.7h.85M208.5,329.6h.85M212.3,354.0h.85M222.1,339.1h.85M224.4,336.8h.85M229.8,328.4h.85M226.7,345.9h.85M211.7,347.1h.85M214.3,353.5h.85M223.2,344.5h.85M224.9,336.2h.85M219.2,335.4h.85M217.2,354.4h.85M227.5,341.3h.85M213.1,345.2h.85M217.1,348.9h.85M215.1,345.1h.85M215.6,342.6h.85M214.1,341.2h.85M209.2,355.9h.85M218.3,329.0h.85M227.2,342.0h.85M215.9,350.0h.85M222.8,334.3h.85M206.1,358.5h.85M214.4,351.1h.85M215.0,342.0h.85M210.6,345.4h.85M219.5,341.5h.85M214.7,341.3h.85M216.3,340.8h.85M216.5,342.6h.85M207.8,347.3h.85M202.0,355.5h.85M236.6,350.5h.85M206.0,355.3h.85M236.8,354.9h.85M208.9,343.7h.85M229.8,347.7h.85M214.0,332.9h.85M212.4,344.3h.85M210.6,335.7h.85M218.7,343.5h.85M220.8,342.2h.85M206.7,339.3h.85M209.8,345.1h.85M216.8,340.7h.85M223.2,347.1h.85M225.7,350.6h.85M210.7,335.0h.85M221.3,352.9h.85M221.5,352.2h.85M213.7,349.1h.85M210.8,333.3h.85M214.0,343.4h.85M226.8,348.6h.85M210.2,337.9h.85M217.1,336.8h.85M223.6,347.1h.85M220.8,350.1h.85M211.7,341.5h.85M207.4,343.9h.85M221.4,336.9h.85M213.3,335.0h.85M212.4,335.7h.85M217.2,343.1h.85M216.0,350.4h.85M211.4,342.6h.85M206.2,347.2h.85M221.9,335.4h.85M219.1,349.8h.85M206.6,348.5h.85M226.7,346.8h.85M218.3,343.4h.85M213.4,328.1h.85M220.6,319.5h.85M208.3,342.1h.85M210.7,353.6h.85M219.3,324.5h.85M215.7,350.5h.85M211.3,352.1h.85M206.5,333.2h.85M213.6,346.7h.85M213.9,348.7h.85M207.5,357.4h.85M208.5,346.3h.85M232.3,341.2h.85M214.1,336.9h.85M224.1,336.0h.85M217.0,352.9h.85M217.6,351.0h.85M226.2,341.5h.85M211.9,352.7h.85M209.2,341.9h.85M221.8,344.0h.85M208.3,354.0h.85M205.1,350.0h.85M220.6,356.8h.85M211.7,349.1h.85M225.7,340.6h.85M209.1,329.1h.85M208.8,334.8h.85M211.7,348.8h.85M225.7,354.8h.85M222.5,349.6h.85M215.3,346.4h.85M220.6,342.6h.85M208.0,336.8h.85M219.9,342.3h.85M218.1,340.6h.85M210.2,338.6h.85M213.2,333.5h.85M227.0,337.5h.85M214.4,344.9h.85M217.2,338.6h.85M213.8,354.8h.85M209.4,353.0h.85M227.2,334.0h.85M214.3,348.4h.85M214.0,350.0h.85M215.2,357.8h.85M212.8,343.4h.85M229.5,356.9h.85M212.0,347.2h.85M211.4,348.2h.85M224.8,337.3h.85M219.9,343.1h.85M198.3,347.1h.85M225.7,335.9h.85M218.7,344.3h.85M217.1,343.8h.85M202.4,341.1h.85M218.5,341.1h.85M221.5,338.8h.85M218.8,349.0h.85M214.4,342.6h.85M212.5,346.8h.85M212.7,346.2h.85M236.7,345.8h.85M222.4,349.1h.85M213.8,348.3h.85M205.8,347.0h.85M210.4,350.1h.85M214.9,343.1h.85M210.0,353.1h.85M216.4,331.6h.85M222.4,347.5h.85M210.2,349.6h.85M233.5,327.0h.85M215.4,349.6h.85M217.5,344.9h.85M216.2,340.9h.85M203.0,359.1h.85M208.9,340.4h.85M223.9,351.7h.85M213.3,341.7h.85M222.9,347.0h.85M203.1,354.5h.85M211.5,348.9h.85M212.6,344.3h.85M217.2,344.6h.85M208.6,352.2h.85M213.7,355.2h.85M221.0,345.0h.85M210.2,350.3h.85M212.7,358.1h.85M222.6,338.4h.85M219.8,341.2h.85M223.0,345.0h.85M232.4,341.3h.85M220.2,349.4h.85M221.8,339.9h.85M209.9,339.8h.85M214.9,334.7h.85M209.1,347.7h.85M212.6,338.4h.85M221.2,343.3h.85M214.7,343.5h.85M226.0,344.3h.85M208.6,345.8h.85M209.1,347.3h.85M214.6,346.5h.85M211.0,350.1h.85M198.1,354.4h.85M214.1,353.4h.85M208.7,334.0h.85M225.9,347.6h.85M220.6,349.8h.85M212.0,340.4h.85M216.2,336.2h.85M215.2,341.5h.85M216.4,347.2h.85M211.1,330.8h.85M213.0,353.8h.85M218.6,337.5h.85M218.7,348.0h.85M216.5,331.1h.85M209.1,356.3h.85M211.3,336.0h.85M225.6,339.4h.85M214.1,337.1h.85M215.6,356.6h.85M221.2,345.1h.85M226.0,339.6h.85M215.3,347.2h.85M222.2,343.9h.85M212.7,345.2h.85M218.9,355.2h.85M214.2,341.1h.85M208.9,353.3h.85M209.3,353.5h.85M217.4,350.6h.85M202.2,347.8h.85M206.2,346.0h.85M217.7,339.2h.85M205.4,355.2h.85M216.0,345.3h.85M209.2,358.5h.85M223.0,345.7h.85M219.4,336.7h.85M209.6,353.8h.85M213.2,337.9h.85M215.1,333.3h.85M217.2,355.8h.85M217.8,346.8h.85M215.4,347.5h.85M225.3,354.7h.85M217.8,340.0h.85M222.8,344.0h.85M215.5,349.6h.85M213.7,342.2h.85M212.5,350.4h.85M212.9,346.3h.85M210.0,359.8h.85M219.0,340.5h.85M227.2,334.8h.85M211.2,346.0h.85M215.9,340.5h.85M211.4,357.5h.85M214.0,346.8h.85M219.5,341.2h.85M219.0,328.2h.85M217.7,346.8h.85M211.8,347.1h.85M213.9,328.3h.85M207.3,337.9h.85M206.4,337.5h.85M218.8,356.9h.85M222.4,334.1h.85M210.7,340.4h.85M207.4,344.3h.85M215.5,345.7h.85M221.3,346.4h.85M201.3,344.0h.85M205.0,350.5h.85M212.5,346.8h.85M224.0,349.2h.85M210.2,342.1h.85M210.2,345.1h.85M218.8,348.5h.85M216.4,355.5h.85M231.2,336.1h.85M222.4,333.4h.85M223.2,360.6h.85M217.4,346.2h.85M209.6,345.3h.85M210.4,336.9h.85M214.7,356.9h.85M210.2,345.7h.85M226.2,345.3h.85M214.5,346.9h.85M223.6,343.6h.85M223.8,339.4h.85M217.1,351.6h.85M206.5,340.6h.85M223.9,337.6h.85M220.6,334.9h.85M218.4,339.6h.85M222.1,346.4h.85M220.0,346.4h.85M223.2,348.7h.85M209.0,335.9h.85M224.6,334.1h.85M210.9,347.3h.85M223.7,330.7h.85M221.5,343.0h.85M224.3,354.3h.85M219.1,327.6h.85M210.8,332.4h.85M215.5,347.9h.85M219.8,346.3h.85M219.8,343.2h.85M217.6,347.0h.85M225.7,354.6h.85M223.6,348.1h.85M215.8,344.0h.85M208.3,343.1h.85M225.8,331.0h.85M214.1,343.0h.85M218.8,334.9h.85M211.6,347.1h.85M223.4,334.6h.85M212.1,344.6h.85M222.4,336.5h.85M220.3,350.0h.85M213.6,336.1h.85M226.5,339.6h.85M207.9,343.4h.85M218.1,336.2h.85M214.0,345.9h.85M220.2,349.4h.85M215.6,354.7h.85M226.3,339.5h.85M220.3,340.6h.85M215.0,346.3h.85M222.9,356.1h.85M210.1,343.3h.85M227.8,343.1h.85M215.5,342.3h.85M216.2,355.1h.85M211.7,345.2h.85M211.0,337.3h.85M205.0,333.3h.85M206.1,345.9h.85M220.1,349.1h.85M219.6,358.3h.85M211.3,348.9h.85M215.6,335.9h.85M220.1,333.9h.85M210.5,343.3h.85M219.9,336.6h.85M209.3,346.2h.85M213.6,349.5h.85M218.4,352.5h.85M212.7,343.8h.85M226.0,345.6h.85M211.3,361.3h.85M220.8,337.6h.85M210.4,335.0h.85M219.5,353.3h.85M216.4,346.0h.85M220.6,341.5h.85M215.1,340.5h.85M222.8,350.8h.85M206.5,344.9h.85M220.2,350.0h.85M223.3,332.4h.85M217.7,351.2h.85M224.1,346.0h.85M222.4,343.3h.85M220.5,342.5h.85M212.3,351.3h.85M229.4,337.0h.85M221.9,339.1h.85M218.0,346.8h.85M221.4,350.4h.85M211.0,345.3h.85M219.7,360.9h.85M208.9,348.3h.85M227.9,346.9h.85M216.8,339.3h.85M213.6,338.8h.85M215.7,347.0h.85M220.9,347.0h.85M228.9,346.1h.85M217.6,338.3h.85M212.4,340.9h.85M212.4,348.6h.85M215.9,335.9h.85M205.4,353.7h.85M211.3,353.2h.85M208.8,344.1h.85M211.4,349.7h.85M221.2,343.8h.85M219.4,334.8h.85M219.0,340.6h.85M209.1,351.2h.85M222.9,328.8h.85M226.6,335.3h.85M221.0,332.5h.85M217.9,337.4h.85M206.1,349.9h.85M208.8,337.6h.85M212.7,340.0h.85M209.9,338.8h.85M218.0,338.2h.85M203.2,352.2h.85M207.4,340.2h.85M220.3,343.9h.85M222.1,353.4h.85M223.1,335.4h.85M220.6,342.9h.85M223.0,350.3h.85M200.4,342.2h.85M219.0,345.9h.85M213.0,336.1h.85M216.5,332.8h.85M222.7,342.3h.85M223.4,346.6h.85M226.4,353.9h.85M215.7,340.3h.85M225.2,326.2h.85M219.0,360.3h.85M218.4,332.3h.85M219.5,355.0h.85M211.2,342.0h.85M215.2,348.6h.85M228.6,342.0h.85M223.0,353.4h.85M215.4,357.7h.85M218.5,347.1h.85M211.0,346.2h.85M223.8,345.8h.85M209.3,361.0h.85M209.0,345.0h.85M214.9,355.9h.85M222.0,342.6h.85M201.2,355.2h.85M212.0,348.2h.85M220.2,331.2h.85M222.5,346.6h.85M224.2,333.9h.85M228.6,347.5h.85M205.0,343.1h.85M212.2,349.5h.85M222.6,336.3h.85M221.1,336.5h.85M213.3,343.1h.85M215.2,355.1h.85M220.9,343.8h.85M212.3,347.6h.85M221.2,343.8h.85M218.2,328.3h.85M224.8,340.1h.85M216.4,347.1h.85M224.9,349.3h.85M226.8,327.5h.85M221.0,349.2h.85M217.1,340.9h.85M223.9,341.8h.85M220.0,350.0h.85M201.7,357.6h.85M216.3,347.5h.85M219.9,359.3h.85M216.1,348.0h.85M220.6,347.2h.85M218.7,351.0h.85M205.3,346.9h.85M219.1,341.6h.85M208.4,333.4h.85M213.2,342.4h.85M213.6,345.2h.85M211.4,345.8h.85M210.1,333.0h.85M212.8,357.8h.85M218.9,328.4h.85M206.8,348.3h.85M220.1,355.5h.85M223.9,342.4h.85M218.9,343.0h.85M209.0,346.5h.85M232.6,347.0h.85M222.4,350.9h.85M214.3,350.0h.85M221.7,332.5h.85M215.4,338.8h.85M215.8,328.1h.85M217.0,340.2h.85M219.2,344.4h.85M225.8,337.8h.85M222.1,338.3h.85M220.5,356.1h.85M224.4,335.1h.85M217.8,338.6h.85M217.2,357.8h.85M224.9,355.2h.85M218.7,339.9h.85M215.0,349.6h.85M210.9,351.2h.85M220.1,332.6h.85M222.1,331.4h.85M212.6,339.5h.85M212.9,345.9h.85M222.8,360.0h.85M218.0,340.4h.85M213.0,352.9h.85M207.4,349.9h.85M228.1,352.0h.85M213.8,358.9h.85M198.1,341.1h.85M210.9,354.7h.85M212.4,342.5h.85M225.5,333.6h.85M205.0,345.1h.85M213.2,341.9h.85M213.9,334.8h.85M217.8,335.1h.85M215.6,342.8h.85M225.1,343.5h.85M209.5,346.4h.85M228.2,333.8h.85M228.3,333.7h.85M226.2,348.3h.85M211.8,348.6h.85M219.0,349.6h.85M212.6,350.6h.85M212.3,350.4h.85M226.5,339.8h.85M230.2,353.3h.85M216.7,351.2h.85M202.2,342.5h.85M219.5,356.8h.85M217.6,346.6h.85M220.8,336.0h.85M210.8,347.9h.85M216.4,353.2h.85M217.8,349.7h.85M208.9,354.6h.85M225.4,331.1h.85M222.8,348.9h.85M226.1,347.0h.85M216.9,355.4h.85M216.7,354.4h.85M233.4,331.3h.85M215.9,352.3h.85M213.9,339.7h.85M211.2,340.4h.85M224.9,340.4h.85M219.8,348.0h.85M223.5,327.3h.85M212.0,359.4h.85M210.4,346.2h.85M225.2,341.1h.85M227.8,345.0h.85M211.9,348.4h.85M202.4,334.7h.85M216.0,346.7h.85M214.5,352.5h.85M216.4,335.7h.85M217.4,340.5h.85M216.5,346.5h.85M224.5,335.5h.85M219.6,340.5h.85M216.9,345.4h.85M205.9,344.6h.85M231.9,339.1h.85M211.2,328.7h.85M211.5,337.9h.85M212.8,345.0h.85M209.9,347.5h.85M219.2,350.6h.85M227.1,335.8h.85M215.5,344.7h.85M215.5,346.7h.85M213.3,349.0h.85M218.0,338.3h.85M212.9,350.6h.85M216.2,344.2h.85M219.5,348.8h.85M210.5,342.7h.85M214.2,339.0h.85M223.7,341.6h.85M219.8,342.4h.85M210.7,354.3h.85M220.5,345.9h.85M211.7,352.8h.85M212.2,356.7h.85M217.4,344.8h.85M226.2,335.0h.85M212.4,344.9h.85M219.4,350.4h.85M216.6,337.1h.85M213.5,344.7h.85M219.8,340.6h.85M208.9,347.9h.85M212.8,331.9h.85M220.2,328.9h.85M222.5,340.3h.85M225.7,342.0h.85M214.7,348.4h.85M222.9,339.4h.85M209.5,348.6h.85M213.0,356.3h.85M205.7,344.8h.85M216.3,350.0h.85M215.7,343.1h.85M220.7,345.6h.85M207.6,351.6h.85M223.9,339.9h.85M207.5,353.4h.85M225.6,336.5h.85M221.7,348.9h.85M229.1,338.8h.85M204.2,351.8h.85M214.4,348.7h.85M216.6,348.3h.85M227.7,337.2h.85M219.7,337.8h.85M224.6,334.2h.85M217.1,343.2h.85M221.4,347.6h.85M223.0,328.0h.85M218.2,356.3h.85M211.8,340.8h.85M219.7,338.0h.85M198.7,345.2h.85M215.2,353.4h.85M218.4,355.2h.85M225.7,329.8h.85M216.7,343.2h.85M219.5,338.8h.85M228.0,341.3h.85M213.8,336.3h.85M217.2,339.5h.85M223.0,345.4h.85M215.3,350.5h.85M216.6,332.1h.85M219.9,348.4h.85M221.4,349.5h.85M204.4,348.5h.85M216.9,341.9h.85M222.9,345.3h.85M218.0,336.4h.85M204.0,342.8h.85M214.4,352.9h.85M208.7,339.5h.85M218.8,339.2h.85M218.1,336.1h.85M213.4,335.0h.85M205.4,356.5h.85M221.1,341.0h.85M210.8,359.3h.85M228.2,344.6h.85M222.0,340.7h.85M213.1,357.7h.85M208.0,358.7h.85M209.6,345.2h.85M212.1,352.2h.85M214.7,339.1h.85M221.5,344.7h.85M227.2,350.3h.85M211.2,345.4h.85M216.0,361.9h.85M217.7,339.6h.85M216.7,342.4h.85M219.3,338.6h.85M216.7,343.2h.85M200.7,345.7h.85M211.2,337.8h.85M221.4,343.8h.85M218.6,329.3h.85M222.3,346.5h.85M210.7,348.4h.85M229.6,347.3h.85M225.5,339.7h.85M216.8,353.9h.85M213.1,333.4h.85M215.3,344.5h.85M208.7,335.7h.85M218.8,339.9h.85M203.5,341.4h.85M206.2,358.9h.85M221.0,341.4h.85M209.3,335.1h.85M224.7,347.2h.85M214.8,358.2h.85M217.0,351.9h.85M207.5,340.1h.85M220.0,356.2h.85M223.0,349.2h.85M222.6,345.0h.85M216.3,348.6h.85M220.2,350.2h.85M220.7,352.2h.85M214.9,330.3h.85M218.9,347.8h.85M229.0,335.1h.85M206.9,339.9h.85M215.9,337.4h.85M219.3,344.7h.85M217.6,358.3h.85M222.8,339.9h.85M220.4,341.6h.85M208.7,354.0h.85M217.3,338.2h.85M218.6,345.9h.85M218.1,345.1h.85M218.0,341.5h.85M211.1,352.5h.85M215.8,336.3h.85M219.7,342.4h.85M211.9,343.2h.85M219.5,352.2h.85M215.7,351.7h.85M217.9,344.8h.85M212.0,325.3h.85M218.9,337.6h.85M211.6,345.4h.85M216.8,344.9h.85M222.5,356.1h.85M213.1,350.2h.85M212.9,354.8h.85M223.7,345.3h.85M216.9,336.6h.85M221.3,333.0h.85M231.3,338.2h.85M208.9,345.2h.85M226.3,344.9h.85M223.9,345.1h.85M223.4,343.1h.85M219.2,334.6h.85M210.8,355.2h.85M206.9,347.8h.85M219.8,348.2h.85M201.5,354.6h.85M214.1,336.9h.85M222.7,351.5h.85M222.2,337.8h.85M202.9,334.0h.85M220.4,342.0h.85M212.6,355.8h.85M217.3,341.5h.85M224.0,341.6h.85M215.1,344.1h.85M218.7,356.8h.85M216.2,350.1h.85M226.0,335.9h.85M211.5,354.2h.85M204.6,346.0h.85M216.9,352.5h.85M216.3,342.1h.85M210.4,340.8h.85M212.8,350.3h.85M217.3,338.4h.85M217.7,347.2h.85M214.3,331.0h.85M219.2,341.7h.85M217.5,346.3h.85M209.7,359.7h.85M208.6,343.6h.85M218.6,338.6h.85M219.5,349.6h.85M209.2,350.0h.85M224.1,341.4h.85M220.7,329.1h.85M203.0,351.9h.85M212.9,354.2h.85M211.7,345.1h.85M209.0,350.7h.85M221.8,350.9h.85M226.2,344.1h.85M223.4,341.1h.85M222.9,337.7h.85M228.0,336.8h.85M223.8,332.4h.85M227.9,357.4h.85M218.3,348.5h.85M211.1,346.1h.85M211.5,339.0h.85M223.7,350.0h.85M221.4,346.4h.85M220.7,341.4h.85M220.2,346.0h.85M216.3,353.7h.85M208.4,351.0h.85M206.8,345.9h.85M211.8,360.5h.85M221.8,343.2h.85M224.9,329.4h.85M214.7,337.7h.85M212.3,337.0h.85M217.6,328.2h.85M219.1,350.1h.85M214.2,352.6h.85M220.6,338.4h.85M216.7,337.0h.85M206.1,335.1h.85M217.8,332.3h.85M213.5,351.5h.85M218.2,330.8h.85M214.2,344.4h.85M205.8,348.6h.85M222.3,342.7h.85M215.0,351.3h.85M220.0,342.9h.85M216.0,346.5h.85M211.3,340.3h.85M220.3,348.3h.85M221.8,352.7h.85M209.3,344.0h.85M207.7,343.8h.85M209.4,336.5h.85M215.1,344.4h.85M217.7,348.5h.85M214.2,341.6h.85M216.6,338.0h.85M226.9,342.1h.85M222.8,344.8h.85M214.9,356.4h.85M210.2,355.6h.85M203.6,333.0h.85M209.3,348.9h.85M213.2,352.1h.85M212.0,337.5h.85M203.7,344.9h.85M202.1,344.8h.85M213.8,357.4h.85M214.7,336.6h.85M213.1,340.6h.85M229.8,341.9h.85M203.0,360.9h.85M211.4,348.6h.85M230.5,337.9h.85M219.9,347.0h.85M209.2,356.1h.85M214.5,346.9h.85M208.5,338.9h.85M224.8,358.4h.85M210.7,358.0h.85M221.6,341.1h.85M207.4,340.5h.85M205.9,344.5h.85M225.0,331.7h.85M219.9,340.4h.85M221.6,351.1h.85M222.9,340.4h.85M222.5,342.9h.85M217.8,348.4h.85M215.2,343.9h.85M230.6,346.1h.85M217.5,363.8h.85M221.6,351.5h.85M211.8,352.2h.85M219.4,337.5h.85M210.7,339.5h.85M221.8,358.0h.85M216.4,343.8h.85M205.8,352.6h.85M212.5,352.6h.85M212.5,344.4h.85M214.6,350.4h.85M212.4,332.9h.85M217.8,358.6h.85M209.1,354.6h.85M227.0,349.1h.85M222.1,348.6h.85M212.2,342.0h.85M205.4,338.4h.85M227.5,343.1h.85M220.2,348.8h.85M221.0,356.8h.85M209.6,347.8h.85M203.7,346.1h.85M229.9,345.5h.85M210.3,355.1h.85M214.6,340.4h.85M212.8,357.5h.85M220.3,338.1h.85M211.0,352.2h.85M209.4,359.2h.85M226.7,339.2h.85M218.5,347.0h.85M215.3,349.3h.85M215.2,350.0h.85M215.6,349.5h.85M218.6,340.1h.85M214.7,356.0h.85M212.7,345.7h.85M213.5,338.9h.85M222.6,339.8h.85M210.0,348.4h.85M210.8,343.7h.85M206.8,332.3h.85M214.8,343.2h.85M216.1,354.9h.85M217.2,349.9h.85M213.2,347.6h.85M223.5,343.9h.85M219.6,337.8h.85M219.5,333.5h.85M201.1,350.2h.85M206.5,353.5h.85M212.1,359.1h.85M216.2,344.9h.85M216.5,343.2h.85M213.6,346.2h.85M210.1,341.9h.85M229.4,339.9h.85M229.3,350.9h.85M218.1,354.7h.85M214.2,358.6h.85M219.4,353.3h.85M222.1,346.9h.85M221.3,342.1h.85M224.4,351.4h.85M220.3,343.9h.85M219.7,334.0h.85M228.4,335.3h.85M208.4,340.8h.85M218.7,335.5h.85M217.3,344.8h.85M223.2,339.9h.85M206.4,356.8h.85M218.5,343.1h.85M222.2,340.9h.85M217.8,331.4h.85M222.9,336.6h.85M221.2,344.8h.85M219.2,349.5h.85M219.7,348.6h.85M220.4,353.8h.85M207.4,354.6h.85M217.5,346.2h.85M211.3,349.9h.85M223.1,346.1h.85M218.0,334.5h.85M214.3,344.8h.85M208.6,355.1h.85M212.6,333.4h.85M231.6,326.9h.85M223.3,333.0h.85M218.5,332.0h.85M224.9,337.9h.85M223.2,341.4h.85M222.0,342.6h.85M222.8,337.6h.85M220.9,341.7h.85M211.9,341.8h.85M204.5,355.6h.85M203.8,350.3h.85M216.8,339.3h.85M238.3,344.1h.85M216.3,338.3h.85M216.5,341.8h.85M229.1,348.6h.85M229.0,336.9h.85M227.4,347.8h.85M224.2,341.5h.85M208.9,352.1h.85M215.7,343.3h.85M203.2,343.7h.85M213.2,350.3h.85M211.3,340.1h.85M226.2,350.9h.85M205.8,338.8h.85M215.7,346.5h.85M221.8,336.4h.85M222.9,336.0h.85M228.0,340.2h.85M222.7,334.4h.85M240.8,350.8h.85M213.3,354.6h.85M214.0,339.8h.85M218.3,338.7h.85M220.1,339.9h.85M219.1,354.7h.85M228.4,332.9h.85M207.5,338.5h.85M217.3,342.7h.85M202.8,345.8h.85M223.4,344.5h.85M231.7,346.0h.85M211.9,359.9h.85M224.4,349.1h.85M210.8,342.8h.85M218.6,346.7h.85M209.4,348.4h.85M222.2,345.5h.85M218.3,348.1h.85M212.7,347.9h.85M222.5,346.3h.85M221.1,333.2h.85M229.1,347.1h.85M217.2,338.1h.85M209.7,338.4h.85M204.9,358.4h.85M206.3,346.8h.85M217.3,336.4h.85M217.1,344.7h.85M209.0,343.5h.85M211.7,325.8h.85M220.2,347.2h.85M215.1,346.3h.85M218.8,343.5h.85M221.4,350.4h.85M226.7,345.4h.85M205.4,339.2h.85M207.9,355.8h.85M208.6,337.5h.85M221.6,352.5h.85M213.5,340.8h.85M216.7,346.2h.85M213.2,347.3h.85M215.5,350.3h.85M230.0,337.5h.85M225.4,360.3h.85M208.0,342.2h.85M212.2,356.3h.85M213.5,341.7h.85M212.4,350.3h.85M221.1,345.0h.85M204.7,334.7h.85M215.9,350.1h.85M222.2,344.5h.85M220.3,360.1h.85M211.2,353.2h.85M212.1,347.2h.85M218.4,352.9h.85M221.1,340.3h.85M208.5,352.6h.85M218.5,346.6h.85M213.0,348.4h.85M225.6,326.3h.85M201.4,340.7h.85M223.1,354.9h.85M212.5,335.8h.85M220.0,339.9h.85M218.2,352.9h.85M212.6,348.7h.85M217.7,345.5h.85M216.6,349.0h.85M217.5,345.6h.85M214.1,340.6h.85M211.4,354.8h.85M222.4,337.1h.85M212.9,341.5h.85M205.5,350.0h.85M211.2,350.7h.85M210.5,355.9h.85M214.8,358.2h.85M206.3,340.6h.85M215.9,349.7h.85M222.1,344.4h.85M214.4,347.2h.85M218.7,348.2h.85M213.2,349.6h.85M214.9,343.1h.85M220.5,356.5h.85M212.9,339.1h.85M218.6,328.9h.85M211.4,350.4h.85M226.7,345.2h.85M224.1,336.7h.85M220.4,346.4h.85M209.8,348.9h.85M219.3,341.8h.85M211.4,340.7h.85M209.0,339.5h.85M219.6,338.4h.85M211.6,348.5h.85M243.6,333.4h.85M221.8,353.8h.85M213.1,369.0h.85M217.9,345.6h.85M205.7,348.5h.85M214.7,342.2h.85M224.1,344.3h.85M219.1,347.3h.85M218.3,344.4h.85M216.0,349.4h.85M218.3,342.2h.85M206.6,344.5h.85M221.7,356.9h.85M221.5,338.6h.85M216.5,342.6h.85M224.2,342.7h.85M217.3,347.7h.85M210.6,334.0h.85M210.0,350.3h.85M210.0,352.3h.85M211.3,350.1h.85M211.3,338.5h.85M224.6,348.0h.85M210.1,340.5h.85M221.0,352.5h.85M212.0,345.3h.85M215.0,337.6h.85M216.2,354.7h.85M212.8,343.2h.85M224.3,344.7h.85M220.6,337.6h.85M220.8,343.1h.85M220.9,360.1h.85M211.0,348.3h.85M208.2,348.4h.85M220.1,337.2h.85M204.1,344.4h.85M216.7,343.7h.85M212.4,352.2h.85M214.0,359.9h.85M215.2,355.1h.85M204.7,338.7h.85M209.0,351.4h.85M222.5,341.0h.85M228.1,345.0h.85M212.6,345.8h.85M204.3,355.8h.85M213.5,338.8h.85M218.9,353.9h.85M210.5,331.1h.85M217.9,341.7h.85M217.5,337.7h.85M224.1,349.7h.85M216.8,350.4h.85M217.9,340.3h.85M222.3,340.2h.85M209.5,334.6h.85M214.7,353.3h.85M228.5,340.5h.85M212.2,343.0h.85M201.7,347.7h.85M218.1,350.2h.85M207.8,341.7h.85M216.4,345.9h.85M222.2,354.3h.85M224.2,344.9h.85M211.2,341.8h.85M226.3,340.3h.85M206.9,345.7h.85M215.9,337.7h.85M212.1,353.1h.85M214.0,339.1h.85M222.2,347.5h.85M210.0,335.6h.85M228.9,344.7h.85M219.0,338.3h.85M208.7,338.3h.85M211.5,347.9h.85M223.3,330.3h.85M222.8,356.5h.85M211.1,331.9h.85M206.1,342.0h.85M206.9,331.6h.85M216.6,329.0h.85M225.0,358.1h.85M220.2,342.2h.85M213.6,336.3h.85M217.7,338.1h.85M219.5,342.0h.85M213.7,331.8h.85M215.5,356.7h.85M227.4,329.7h.85M219.7,348.0h.85M212.9,353.9h.85M211.5,357.3h.85M228.5,344.4h.85M220.1,351.1h.85M214.9,332.7h.85M204.9,342.1h.85M216.0,352.5h.85M208.0,358.7h.85M227.0,343.7h.85M201.2,343.3h.85M216.4,353.9h.85M220.4,347.1h.85M219.2,349.0h.85M207.6,349.4h.85M205.9,341.6h.85M219.1,335.6h.85M208.2,349.7h.85M213.9,352.3h.85M220.2,350.0h.85M212.2,353.1h.85M208.8,354.6h.85M220.2,335.1h.85M219.0,338.6h.85M207.8,350.5h.85M214.7,354.0h.85M234.0,351.3h.85M226.8,335.5h.85M213.8,352.3h.85M226.9,357.8h.85M220.7,353.3h.85M216.3,356.7h.85M209.7,352.5h.85M217.8,344.2h.85M215.9,345.3h.85M212.9,350.9h.85M210.8,343.1h.85M219.3,341.5h.85M221.4,353.9h.85M203.6,344.1h.85M218.4,335.1h.85M223.8,335.8h.85M219.9,354.4h.85M223.2,344.3h.85M225.5,349.0h.85M217.6,337.6h.85M211.2,355.7h.85M211.0,342.0h.85M224.4,350.5h.85M221.3,351.5h.85M207.7,349.1h.85M218.5,338.0h.85M223.0,346.3h.85M214.7,330.2h.85M219.6,341.6h.85M227.2,348.9h.85M212.2,345.2h.85M206.4,336.1h.85M212.5,340.1h.85M213.2,340.8h.85M216.7,340.8h.85M217.1,351.6h.85M209.7,335.5h.85M210.6,353.6h.85M222.8,351.4h.85M224.4,335.1h.85M218.2,336.5h.85M213.6,355.6h.85M220.0,362.0h.85M223.9,346.4h.85M205.0,345.3h.85M218.5,347.9h.85M212.8,345.3h.85M215.6,344.0h.85M213.5,331.7h.85M208.5,360.6h.85M208.5,339.1h.85M218.8,346.6h.85M219.3,343.6h.85M205.6,346.6h.85M217.5,337.4h.85M220.8,359.0h.85M202.7,332.3h.85M225.8,327.2h.85M216.6,359.2h.85M224.6,346.1h.85M206.8,340.6h.85M213.4,345.2h.85M216.3,342.6h.85M211.2,337.9h.85M211.6,347.6h.85M207.9,337.6h.85M230.1,351.5h.85M216.4,360.7h.85M222.4,347.1h.85M218.1,345.5h.85M220.2,343.8h.85M211.6,353.3h.85M230.6,336.0h.85M208.1,348.6h.85M221.9,349.2h.85M216.0,337.0h.85M217.8,360.2h.85M225.2,336.4h.85M221.6,342.4h.85M228.8,335.0h.85M214.5,331.8h.85M214.6,348.8h.85M207.3,360.2h.85M215.9,345.1h.85M223.6,326.6h.85M215.0,346.2h.85M207.0,343.8h.85M220.2,337.2h.85M217.8,342.7h.85M204.6,346.4h.85M218.5,348.6h.85M220.2,348.0h.85M212.0,350.0h.85M216.3,343.8h.85M225.2,347.8h.85M215.7,348.5h.85M217.3,351.3h.85M212.8,341.6h.85M206.1,349.1h.85M216.3,347.6h.85M214.1,348.4h.85M230.4,350.5h.85M233.7,343.0h.85M218.1,344.8h.85M225.0,332.3h.85M215.6,339.1h.85M219.0,351.1h.85M210.5,347.7h.85M213.1,356.6h.85M219.2,347.3h.85M206.3,348.0h.85M220.1,337.4h.85M212.3,336.5h.85M223.1,345.7h.85M231.0,340.5h.85M204.0,355.2h.85M210.0,346.8h.85M211.0,344.5h.85M211.2,355.5h.85M212.3,342.2h.85M208.9,341.5h.85M213.3,346.6h.85M214.4,348.2h.85M204.4,350.6h.85M217.8,353.1h.85M207.8,349.4h.85M221.4,330.3h.85M209.9,345.5h.85M224.3,336.1h.85M226.4,347.6h.85M202.6,349.2h.85M222.5,338.4h.85M219.2,351.0h.85M227.3,351.1h.85M214.2,355.2h.85M224.7,340.6h.85M212.8,346.7h.85M218.9,350.2h.85M214.2,347.7h.85M219.1,337.6h.85M216.4,343.1h.85M203.5,339.1h.85M215.3,352.9h.85M210.6,348.1h.85M229.7,351.0h.85M208.3,348.0h.85M213.0,359.3h.85M211.3,343.3h.85M220.6,350.8h.85M221.8,338.9h.85M226.0,339.7h.85M219.4,350.6h.85M221.3,346.2h.85M229.6,349.0h.85M214.2,355.2h.85M226.1,359.2h.85M212.5,347.9h.85M216.0,345.2h.85M221.7,332.9h.85M223.3,346.3h.85M215.8,331.8h.85M209.6,339.4h.85M226.2,345.5h.85M212.9,348.2h.85M222.8,337.9h.85M216.3,338.2h.85M213.1,346.5h.85M212.9,330.0h.85M223.6,353.1h.85M209.7,342.7h.85M215.8,342.9h.85M218.8,347.4h.85M210.3,335.5h.85M225.7,347.8h.85M211.3,354.5h.85M216.3,355.3h.85M211.5,350.4h.85M217.6,349.4h.85M203.8,350.8h.85M224.8,347.5h.85M217.0,349.9h.85M217.8,343.6h.85M213.0,343.9h.85M222.5,350.2h.85M225.2,345.5h.85M214.6,350.7h.85M206.5,346.2h.85M217.6,338.0h.85M208.8,339.6h.85M214.7,346.7h.85M220.9,350.8h.85M218.6,342.3h.85M214.5,342.4h.85M212.3,349.5h.85M211.9,352.0h.85M222.5,349.1h.85M229.0,354.9h.85M215.3,349.3h.85M212.6,343.8h.85M205.8,340.9h.85M216.6,335.7h.85M205.6,340.5h.85M210.7,337.7h.85M214.7,332.7h.85M217.7,352.3h.85M209.0,330.7h.85M208.9,337.9h.85M218.9,350.2h.85M223.8,352.1h.85M214.9,350.8h.85M228.8,341.0h.85M220.5,345.1h.85M214.8,347.5h.85M216.6,350.4h.85M213.2,336.5h.85M212.7,353.7h.85M224.3,331.6h.85M216.5,344.2h.85M206.5,355.2h.85M209.0,328.7h.85M215.2,329.2h.85M238.4,337.9h.85M220.4,334.2h.85M215.0,339.5h.85M216.0,349.0h.85M208.9,344.5h.85M219.1,349.0h.85M215.8,351.7h.85M212.3,355.1h.85M216.9,355.6h.85M216.4,354.4h.85M210.7,359.9h.85M215.1,335.2h.85M211.4,342.5h.85M222.3,343.9h.85M227.9,340.7h.85M216.3,334.0h.85M219.8,345.9h.85M209.2,340.3h.85M238.0,337.8h.85M201.1,337.7h.85M221.2,331.8h.85M217.6,326.2h.85M222.7,343.7h.85M209.5,354.6h.85M221.8,343.6h.85M202.1,335.3h.85M212.5,329.7h.85M223.0,345.0h.85M203.7,347.9h.85M214.5,342.1h.85M214.7,345.4h.85M217.7,347.0h.85M214.3,348.9h.85M209.2,346.9h.85M212.5,340.5h.85M217.9,341.4h.85M223.3,339.2h.85M209.4,359.5h.85M219.1,340.9h.85M222.8,348.0h.85M210.5,336.7h.85M222.5,347.4h.85M209.2,340.6h.85M222.4,341.4h.85M221.1,337.6h.85M221.7,346.8h.85M222.7,357.8h.85M218.9,343.0h.85M223.4,342.0h.85M211.2,343.9h.85M224.8,341.4h.85M213.8,340.8h.85M210.9,341.9h.85M220.7,325.5h.85M228.8,343.5h.85M210.2,349.9h.85M207.4,360.6h.85M212.8,355.1h.85M215.6,346.9h.85M213.6,343.7h.85M216.2,344.3h.85M212.0,349.5h.85M206.7,345.8h.85M205.1,340.3h.85M217.8,341.4h.85M223.6,347.3h.85M216.8,337.3h.85M224.4,346.1h.85M218.0,347.4h.85M211.5,339.4h.85M214.9,342.2h.85M217.9,348.3h.85M213.1,338.1h.85M214.2,346.5h.85M215.3,353.1h.85M211.4,344.8h.85M218.9,338.3h.85M211.8,353.3h.85M217.4,347.4h.85M227.0,330.7h.85M220.0,334.5h.85M220.7,343.3h.85M217.3,346.7h.85M218.8,350.4h.85M223.4,356.5h.85M218.0,347.2h.85M207.1,339.8h.85M212.4,339.8h.85M214.4,342.7h.85M206.3,343.0h.85M208.6,353.0h.85M214.1,353.5h.85M212.9,355.8h.85M213.6,339.3h.85M211.0,351.1h.85M227.1,343.5h.85M223.9,330.2h.85M219.4,341.4h.85M209.8,342.5h.85M221.7,350.9h.85M217.2,333.8h.85M219.0,346.3h.85M205.0,341.5h.85M211.5,340.4h.85M211.6,345.6h.85M229.6,353.8h.85M209.6,329.2h.85M208.1,354.9h.85M218.6,352.2h.85M217.1,332.1h.85M216.9,340.7h.85M217.1,330.6h.85M215.3,339.4h.85M213.2,344.7h.85M216.0,346.4h.85M215.8,350.4h.85M216.8,356.8h.85M202.0,346.9h.85M216.9,338.4h.85M219.9,351.6h.85M227.7,350.9h.85M209.2,338.3h.85M210.6,347.0h.85M225.3,352.0h.85M235.4,330.7h.85M221.0,343.6h.85M203.7,338.0h.85M232.6,340.9h.85M214.3,348.9h.85M212.7,349.8h.85M206.6,348.3h.85M208.7,331.3h.85M212.9,334.8h.85M203.4,341.6h.85M212.4,337.9h.85M219.0,324.9h.85M221.0,345.3h.85M208.1,349.9h.85M216.0,354.4h.85M223.2,346.0h.85M205.9,353.0h.85M213.2,344.9h.85M223.9,346.2h.85M211.9,342.1h.85M211.8,343.6h.85M225.1,355.1h.85M229.3,345.5h.85M215.1,346.6h.85M213.4,355.0h.85M222.8,342.0h.85M213.0,353.9h.85M216.5,337.4h.85M215.6,338.9h.85M212.8,343.7h.85M206.3,353.5h.85M215.1,343.3h.85M212.8,343.7h.85M218.1,338.5h.85M214.7,341.2h.85M220.0,335.7h.85M230.8,348.3h.85M208.4,337.9h.85M215.9,350.9h.85M203.1,350.6h.85M206.5,341.8h.85M222.4,338.7h.85M222.4,350.9h.85M206.9,346.8h.85M219.4,338.9h.85M221.6,349.8h.85M219.6,348.0h.85M223.8,346.9h.85M215.3,340.0h.85M219.1,333.6h.85M214.5,329.4h.85M203.1,338.7h.85M225.9,345.3h.85M217.7,349.4h.85M224.0,350.8h.85M219.5,343.8h.85M210.9,333.2h.85M219.3,340.7h.85M220.7,336.1h.85M217.9,340.8h.85M210.0,350.9h.85M207.8,342.9h.85M213.3,344.3h.85M220.9,331.6h.85M217.2,344.6h.85M209.0,335.8h.85M208.2,348.7h.85M221.9,337.7h.85M218.0,353.0h.85M222.1,357.8h.85M217.2,348.4h.85M227.6,350.6h.85M212.5,351.8h.85M211.3,324.3h.85M216.3,349.5h.85M218.2,348.0h.85M213.4,333.9h.85M221.9,353.5h.85M206.9,324.0h.85M224.0,344.1h.85M208.9,347.6h.85M211.3,352.7h.85M216.7,355.3h.85M217.1,351.6h.85M216.3,358.8h.85M224.1,343.1h.85M230.8,349.7h.85M219.8,338.5h.85M219.5,332.8h.85M226.5,348.6h.85M214.7,348.5h.85M218.2,343.9h.85M221.5,349.7h.85M221.2,328.8h.85M208.7,354.4h.85M204.2,351.6h.85M219.1,355.5h.85M221.0,346.1h.85M222.0,348.8h.85M222.7,351.7h.85M220.5,339.5h.85M204.9,352.6h.85M211.0,340.5h.85M214.8,346.0h.85M216.8,333.5h.85M214.0,343.0h.85M216.4,351.8h.85M211.1,334.4h.85M234.5,340.7h.85M219.9,345.5h.85M210.5,351.5h.85M216.8,342.8h.85M215.7,333.0h.85M218.6,348.4h.85M214.6,345.0h.85M218.3,347.1h.85M212.5,337.0h.85M206.6,348.5h.85M206.8,337.0h.85M221.2,326.2h.85M223.8,360.9h.85M219.2,346.6h.85M214.2,345.8h.85M211.5,325.1h.85M212.8,341.3h.85M214.8,347.5h.85M213.9,360.0h.85M220.3,345.3h.85M218.7,351.5h.85M219.3,350.6h.85M224.5,337.3h.85M212.0,355.6h.85M224.4,357.9h.85M209.4,340.3h.85M219.1,359.7h.85M215.4,353.4h.85M214.4,347.1h.85M214.9,348.3h.85M216.5,331.3h.85M220.9,342.8h.85M207.6,346.9h.85M216.8,353.1h.85M222.9,346.9h.85M218.2,342.9h.85M217.8,345.7h.85M220.4,346.7h.85M219.8,354.3h.85M221.2,333.4h.85M211.3,337.9h.85M208.2,340.5h.85M219.9,338.2h.85M226.6,340.6h.85M218.7,352.6h.85M234.5,340.3h.85M219.2,347.4h.85M218.0,351.5h.85M226.9,344.9h.85M216.2,346.4h.85M217.0,341.2h.85M210.2,324.4h.85M207.7,356.0h.85M218.8,340.3h.85M208.8,338.0h.85M221.5,342.4h.85M226.6,335.8h.85M210.0,347.5h.85M209.7,351.9h.85M223.4,349.3h.85M222.3,333.6h.85M217.4,340.5h.85M215.2,355.8h.85M204.5,345.9h.85M222.3,355.2h.85M220.5,357.1h.85M211.4,354.7h.85M215.7,340.5h.85M213.2,352.1h.85M225.8,335.1h.85M220.4,345.3h.85M228.1,340.4h.85M210.3,344.7h.85M213.5,352.4h.85M215.4,347.3h.85M228.9,356.4h.85M222.4,354.0h.85M208.9,349.1h.85M206.1,350.5h.85M206.1,354.6h.85M219.6,348.8h.85M213.0,359.1h.85M215.9,346.0h.85M225.3,343.5h.85M222.7,350.6h.85M211.2,342.2h.85M223.8,344.1h.85M217.0,343.4h.85M219.5,348.8h.85M212.1,358.9h.85M209.0,353.0h.85M224.3,347.1h.85M210.9,342.7h.85M227.3,326.6h.85M210.4,348.8h.85M232.3,343.5h.85M208.9,340.8h.85M219.8,339.2h.85M216.2,348.7h.85M213.6,354.0h.85M224.5,345.9h.85M219.4,329.1h.85M213.0,340.3h.85M223.5,347.4h.85M216.8,339.7h.85M227.6,334.7h.85M221.0,336.6h.85M220.0,335.2h.85M219.5,339.0h.85M207.3,341.0h.85M223.0,339.7h.85M214.7,349.8h.85M222.1,342.6h.85M224.1,357.7h.85M221.0,337.3h.85M218.7,344.5h.85M223.9,352.2h.85M211.0,348.6h.85M206.3,342.5h.85M212.9,334.5h.85M227.0,336.8h.85M219.7,329.0h.85M212.7,346.1h.85M213.8,337.0h.85M201.7,341.2h.85M217.7,345.4h.85M218.2,328.5h.85M223.0,339.7h.85M212.9,335.8h.85M220.6,338.6h.85M234.0,340.6h.85M211.6,349.1h.85M211.7,329.5h.85M209.5,364.1h.85M226.4,346.9h.85M218.6,339.7h.85M203.7,344.3h.85M214.6,339.7h.85M217.0,348.8h.85M209.0,359.8h.85M226.0,355.2h.85M222.6,349.1h.85M203.7,348.0h.85M217.3,337.7h.85M218.1,357.9h.85M207.9,336.7h.85M227.4,352.4h.85M208.7,340.6h.85M221.8,355.1h.85M225.6,336.1h.85M216.2,358.5h.85M210.6,349.8h.85M221.1,351.8h.85M221.6,343.0h.85M211.8,347.0h.85M216.4,335.6h.85M218.7,348.8h.85M221.7,349.2h.85M222.1,342.8h.85M221.1,326.7h.85M215.9,326.2h.85M198.8,344.0h.85M209.3,347.9h.85M226.3,343.5h.85M221.2,326.6h.85M218.9,336.8h.85M203.5,342.3h.85M213.8,336.1h.85M214.6,338.5h.85M212.3,338.9h.85M228.6,347.3h.85M209.4,338.6h.85M214.5,351.3h.85M211.7,335.7h.85M203.5,347.3h.85M224.2,333.0h.85M214.8,341.5h.85M226.4,332.6h.85M223.4,349.3h.85M216.7,340.0h.85M215.2,347.8h.85M212.6,331.0h.85M214.7,359.3h.85M228.8,341.4h.85M209.3,336.7h.85M220.2,339.6h.85M203.2,348.1h.85M211.5,356.7h.85M214.1,355.7h.85M219.7,348.1h.85M213.8,336.1h.85M219.6,350.0h.85M220.3,352.7h.85M223.9,343.3h.85M219.1,351.8h.85M217.0,347.3h.85M215.1,338.9h.85M201.8,338.7h.85M217.7,352.0h.85M199.8,347.1h.85M209.6,354.9h.85M221.9,341.7h.85M213.9,356.7h.85M218.8,357.2h.85M213.8,340.5h.85M214.3,348.4h.85M221.4,352.7h.85M213.9,341.3h.85M209.5,337.9h.85M214.9,343.1h.85M214.0,349.2h.85M208.2,339.3h.85M235.6,350.8h.85M215.4,337.6h.85M227.6,347.2h.85M222.7,357.7h.85M226.7,353.1h.85M219.9,354.1h.85M222.0,352.9h.85M221.4,339.6h.85M219.9,354.2h.85M211.0,339.3h.85M217.2,340.6h.85M209.9,343.2h.85M222.3,346.1h.85M218.4,353.5h.85M210.8,358.7h.85M211.4,340.5h.85M208.9,340.3h.85M225.1,332.7h.85M214.3,334.6h.85M208.2,361.2h.85M219.9,335.0h.85M222.7,337.9h.85M223.9,345.8h.85M211.8,348.2h.85M222.8,338.5h.85M207.9,346.0h.85M201.6,325.3h.85M218.5,338.1h.85M214.5,355.6h.85M231.8,348.2h.85M202.0,335.9h.85M217.8,354.0h.85M214.3,348.5h.85M224.8,349.8h.85M216.5,342.4h.85M220.3,352.6h.85M216.5,351.3h.85M222.3,344.3h.85M220.6,340.3h.85M227.7,333.3h.85M208.3,347.9h.85M222.1,353.9h.85M222.2,357.4h.85M214.1,340.4h.85M212.4,351.9h.85M218.4,339.6h.85M219.7,340.5h.85M217.8,334.2h.85M209.0,342.9h.85M209.2,344.6h.85M210.0,355.2h.85M204.9,334.0h.85M203.6,350.2h.85M221.0,344.2h.85M216.2,342.3h.85M214.9,351.1h.85M212.1,350.6h.85M216.1,341.6h.85M207.0,330.5h.85M217.2,359.2h.85M211.6,347.8h.85M214.1,348.9h.85M218.0,347.3h.85M230.6,343.9h.85M208.7,359.7h.85M214.7,352.0h.85M213.4,352.4h.85M217.0,343.1h.85M221.1,345.4h.85M212.6,352.4h.85M225.4,340.5h.85M214.4,335.9h.85M220.1,352.6h.85M218.1,346.0h.85M220.7,350.2h.85M210.8,341.1h.85M215.4,341.6h.85M218.9,348.6h.85M213.3,342.5h.85M209.8,352.1h.85M208.6,342.7h.85M228.4,356.1h.85M214.6,349.8h.85M210.3,352.9h.85M218.1,343.9h.85M211.0,357.1h.85M219.7,355.1h.85M225.6,350.4h.85M210.4,339.3h.85M216.4,337.2h.85M216.5,346.2h.85M219.2,357.5h.85M210.5,341.2h.85M214.6,356.0h.85M222.7,337.8h.85M214.8,341.8h.85M223.2,339.1h.85M210.0,349.0h.85M216.3,363.5h.85M225.3,323.9h.85M222.4,344.3h.85M228.6,352.7h.85M207.9,349.9h.85M227.1,336.5h.85M218.1,339.6h.85M217.0,345.9h.85M214.0,340.5h.85M230.3,342.9h.85M208.8,346.2h.85M231.7,351.3h.85M221.4,355.7h.85M209.5,347.8h.85M218.8,337.1h.85M220.5,347.5h.85M221.4,337.9h.85M217.3,332.4h.85M218.8,350.8h.85M207.9,335.7h.85M219.5,349.3h.85M226.7,351.4h.85M212.4,356.8h.85M203.9,346.6h.85M215.2,346.7h.85M211.2,346.3h.85M212.8,336.3h.85M205.9,345.6h.85M211.2,332.9h.85M216.4,330.6h.85M226.0,350.1h.85M220.9,356.4h.85M209.3,353.0h.85M220.2,342.3h.85M219.4,343.8h.85M211.7,329.7h.85M219.4,352.5h.85M207.4,353.5h.85M232.5,331.9h.85M218.5,341.9h.85M210.5,343.9h.85M207.6,348.6h.85M213.0,354.5h.85M212.1,339.6h.85M208.8,340.5h.85M215.7,341.7h.85M217.3,346.3h.85M221.9,336.7h.85M215.2,350.2h.85M220.9,344.0h.85M214.9,335.6h.85M216.3,355.4h.85M215.4,354.4h.85M232.8,329.7h.85M206.6,353.2h.85M216.0,341.7h.85M220.2,341.0h.85M220.9,344.5h.85M218.2,359.4h.85M206.4,352.7h.85M215.5,341.3h.85M199.3,347.5h.85M211.3,338.0h.85M216.7,348.5h.85M218.7,346.8h.85M226.2,335.6h.85M212.8,352.2h.85M210.5,344.4h.85M216.2,339.5h.85M221.1,345.4h.85M219.6,328.8h.85M231.8,346.2h.85M223.5,334.9h.85M215.0,350.9h.85M211.9,348.4h.85M209.0,356.6h.85M215.8,362.1h.85M215.7,340.4h.85M217.3,345.3h.85M217.4,347.8h.85M218.6,347.8h.85M214.2,351.2h.85M217.1,331.1h.85M219.5,353.6h.85M218.4,343.4h.85M214.6,342.8h.85M217.8,350.4h.85M221.0,345.8h.85M231.5,348.4h.85M225.3,348.6h.85M230.6,350.5h.85M215.1,336.2h.85M218.3,332.4h.85M215.3,335.9h.85M218.6,343.1h.85M208.2,329.1h.85M215.9,338.5h.85M206.3,339.6h.85M211.3,346.1h.85M221.0,339.7h.85M223.0,349.6h.85M219.0,352.0h.85M218.6,348.2h.85M224.1,351.3h.85M227.3,354.0h.85M214.2,337.3h.85M223.2,352.2h.85M214.1,331.4h.85M220.9,345.8h.85M228.5,330.3h.85M221.5,349.3h.85M211.7,342.3h.85M215.1,344.9h.85M216.4,347.0h.85M213.1,340.5h.85M209.3,336.0h.85M221.8,341.9h.85M209.0,338.1h.85M216.2,349.4h.85M222.7,344.1h.85M211.7,356.2h.85M213.2,334.3h.85M209.8,352.6h.85M214.2,346.4h.85M222.5,337.2h.85M215.1,361.1h.85M222.1,347.0h.85M225.0,349.4h.85M214.2,342.9h.85M218.3,356.4h.85M205.7,341.3h.85M227.3,343.0h.85M229.3,345.5h.85M216.3,334.5h.85M222.7,344.1h.85M220.5,359.8h.85M223.4,344.1h.85M218.8,353.9h.85M214.7,344.8h.85M218.9,346.0h.85M211.7,356.1h.85M208.2,338.2h.85M237.9,340.5h.85M219.0,340.5h.85M206.6,349.6h.85M218.0,356.6h.85M215.0,352.1h.85M220.7,351.0h.85M226.5,338.8h.85M225.4,343.6h.85M217.2,330.7h.85M213.7,341.6h.85M215.6,344.4h.85M221.5,346.5h.85M224.1,346.4h.85M224.4,352.3h.85M224.7,329.5h.85M219.2,348.3h.85M210.3,335.7h.85M206.1,336.0h.85M214.6,353.6h.85M210.6,339.8h.85M224.7,348.6h.85M214.7,358.7h.85M212.9,332.5h.85M223.5,338.1h.85M215.9,347.6h.85M216.9,345.7h.85M211.7,344.7h.85M230.1,343.7h.85M224.7,350.7h.85M206.5,347.3h.85M220.4,341.5h.85M212.5,339.4h.85M221.6,351.1h.85M223.7,334.7h.85M202.2,335.2h.85M222.6,353.7h.85M218.2,329.5h.85M209.9,353.5h.85M212.6,348.6h.85M217.6,354.1h.85M209.8,339.5h.85M220.0,341.9h.85M214.1,353.1h.85M213.5,341.0h.85M214.5,343.2h.85M201.6,356.2h.85M211.5,348.4h.85M228.3,347.0h.85M229.2,353.3h.85M216.0,348.8h.85M205.8,342.3h.85M215.3,345.4h.85M218.6,353.5h.85M216.3,341.7h.85M215.7,352.6h.85M209.0,348.8h.85M220.9,351.7h.85M214.9,347.0h.85M219.3,349.5h.85M221.3,349.0h.85M221.4,349.0h.85M211.3,345.5h.85M216.9,342.0h.85M224.0,352.8h.85M210.4,346.8h.85M224.4,352.0h.85M219.4,358.3h.85M216.1,340.8h.85M211.3,345.9h.85M204.5,357.3h.85M202.4,351.0h.85M218.9,350.4h.85M211.7,351.3h.85M213.0,350.5h.85M225.4,346.2h.85M221.0,342.4h.85M225.7,337.9h.85M221.8,343.8h.85M213.2,336.9h.85M214.4,352.2h.85M209.2,357.5h.85M217.6,349.0h.85M227.0,344.5h.85M226.6,347.4h.85M217.2,351.3h.85M210.5,344.1h.85M223.4,346.7h.85M216.1,348.5h.85M219.2,337.5h.85M217.5,348.8h.85M220.7,343.8h.85M223.5,338.3h.85M202.9,349.7h.85M226.6,351.2h.85M214.2,344.3h.85M220.9,345.4h.85M213.1,333.4h.85M220.4,340.9h.85M226.0,343.1h.85M215.0,364.2h.85M213.6,340.1h.85M222.7,349.7h.85M217.1,358.9h.85M230.0,345.2h.85M210.2,350.0h.85M218.3,337.9h.85M202.2,335.6h.85M225.1,304.4h.85M210.9,361.6h.85M217.9,330.8h.85M214.9,333.0h.85M216.8,336.2h.85M217.6,356.3h.85M220.6,341.4h.85M204.5,349.8h.85M213.2,340.3h.85M223.4,337.8h.85M217.1,342.5h.85M231.8,343.2h.85M219.1,358.5h.85M234.0,336.7h.85M217.4,348.3h.85M226.9,310.7h.85M225.1,330.8h.85M235.0,324.6h.85M222.2,328.4h.85M229.1,356.5h.85M205.6,351.3h.85M208.2,336.0h.85M215.6,326.9h.85M218.7,339.2h.85M207.8,357.6h.85M229.2,334.3h.85M242.5,339.6h.85M224.7,332.3h.85M224.3,346.4h.85M201.7,347.7h.85M234.2,352.2h.85M213.1,354.5h.85M220.2,353.1h.85M222.9,337.3h.85M225.7,330.1h.85M221.8,344.3h.85M220.1,327.8h.85M210.4,341.4h.85M228.2,337.7h.85M211.4,330.9h.85M201.9,340.8h.85M203.1,350.9h.85M226.6,341.2h.85M236.0,347.4h.85M215.2,322.7h.85M226.1,337.5h.85M217.0,333.2h.85M232.8,326.7h.85M200.9,335.9h.85M207.1,335.2h.85M227.6,348.0h.85M235.3,334.1h.85M207.2,338.3h.85M219.8,343.7h.85M216.6,340.8h.85M209.8,330.6h.85M219.4,322.6h.85M214.1,334.4h.85M226.8,323.4h.85M209.6,348.6h.85M217.5,324.1h.85M205.2,351.5h.85M202.7,314.6h.85M246.1,345.7h.85M226.3,348.9h.85M204.1,330.8h.85M221.6,349.6h.85M208.6,351.0h.85M217.9,350.6h.85M241.3,315.5h.85M214.4,341.6h.85M230.5,340.7h.85M224.8,341.0h.85M211.9,331.6h.85M233.7,338.4h.85M199.5,338.3h.85M216.7,348.7h.85M233.7,327.6h.85M222.7,342.0h.85M204.7,354.9h.85M227.0,344.1h.85M240.4,343.0h.85M211.0,345.7h.85M220.5,349.0h.85M238.2,321.1h.85M214.0,333.6h.85M231.0,351.0h.85M223.0,329.2h.85M214.9,332.7h.85M224.2,333.4h.85M236.9,340.7h.85M221.9,352.5h.85M219.5,333.1h.85M232.6,346.1h.85M229.5,345.6h.85M233.4,345.5h.85M216.4,340.4h.85M206.8,319.8h.85M228.4,356.3h.85M229.1,360.8h.85M229.6,320.7h.85M217.2,351.6h.85M242.0,342.6h.85M227.2,320.2h.85M223.3,328.6h.85M233.0,332.5h.85M231.5,325.1h.85M216.7,324.1h.85M216.3,354.6h.85M228.3,345.5h.85M234.4,312.5h.85M201.7,346.9h.85M224.6,355.0h.85M221.0,335.0h.85M224.5,332.7h.85M222.3,338.1h.85M215.6,360.6h.85M240.0,353.3h.85M216.2,336.0h.85M215.8,334.4h.85M216.9,338.9h.85M215.5,331.4h.85M216.0,339.4h.85M211.5,350.9h.85M232.0,338.1h.85M221.9,336.8h.85M225.9,328.9h.85M211.7,322.6h.85M204.2,349.0h.85M227.6,327.0h.85M215.1,328.9h.85M248.5,334.4h.85M214.9,336.4h.85M220.4,336.5h.85M204.0,324.2h.85M203.4,336.4h.85M226.5,311.1h.85M220.0,347.4h.85M219.6,345.7h.85M222.8,326.7h.85M223.6,334.3h.85M211.6,356.7h.85M219.7,358.9h.85M221.7,341.8h.85M221.8,324.6h.85M225.4,358.5h.85M229.9,335.7h.85M207.3,347.0h.85M219.7,347.8h.85M214.5,345.0h.85M232.0,348.5h.85M216.4,347.7h.85M243.3,310.6h.85M217.4,324.1h.85M207.6,349.2h.85M241.1,303.2h.85M228.1,322.0h.85M230.3,345.6h.85M210.2,346.6h.85M204.8,348.0h.85M224.5,325.9h.85M216.4,355.9h.85M222.1,337.3h.85M240.3,320.0h.85M219.9,319.9h.85M230.1,349.4h.85M234.2,338.2h.85M205.3,354.9h.85M246.7,331.5h.85M238.6,330.6h.85M208.6,307.8h.85M227.6,344.6h.85M222.8,320.7h.85M235.9,333.9h.85M228.9,356.4h.85M238.6,332.1h.85M218.6,347.4h.85M233.8,351.5h.85M234.4,307.7h.85M241.3,321.0h.85M208.4,343.3h.85M236.3,325.4h.85M212.9,346.5h.85M215.9,343.9h.85M230.4,315.8h.85M232.5,340.8h.85M233.1,313.4h.85M214.4,341.1h.85M209.4,354.3h.85M211.6,347.6h.85M227.9,343.5h.85M240.7,355.2h.85M227.5,340.0h.85M224.0,333.9h.85M230.0,330.5h.85M204.1,352.0h.85M220.0,313.3h.85M236.7,321.3h.85M232.9,345.4h.85M218.4,334.7h.85M215.7,358.0h.85M213.4,333.1h.85M237.9,332.8h.85M242.1,316.9h.85M210.3,354.8h.85M234.3,337.4h.85M212.6,358.2h.85M229.5,335.2h.85M202.2,355.6h.85M217.4,340.1h.85M225.1,327.4h.85M217.8,329.6h.85M229.0,347.8h.85M215.4,345.9h.85M235.0,341.1h.85M212.9,346.4h.85M219.6,333.7h.85M217.6,336.8h.85M221.3,330.1h.85M204.8,336.8h.85M201.2,339.3h.85M227.2,348.2h.85M201.8,349.3h.85M217.2,351.8h.85M214.9,341.5h.85M209.6,349.2h.85M210.5,339.0h.85M236.7,327.3h.85M221.3,343.9h.85M245.5,318.1h.85M215.2,346.0h.85M234.1,330.1h.85M218.5,343.9h.85M207.6,350.7h.85M214.6,343.2h.85M232.5,324.9h.85M230.4,326.9h.85M214.4,345.5h.85M241.3,336.5h.85M231.9,346.4h.85M221.1,349.8h.85M220.1,356.6h.85M220.5,350.7h.85M221.3,362.9h.85M232.4,320.0h.85M212.9,333.2h.85M206.6,333.1h.85M225.9,331.5h.85M230.4,326.9h.85M211.4,337.4h.85M224.7,332.1h.85M227.7,328.6h.85M215.1,337.4h.85M215.3,345.9h.85M212.1,330.2h.85M249.5,317.8h.85M224.8,323.2h.85M212.4,358.9h.85M214.6,347.0h.85M234.8,321.3h.85M225.6,320.0h.85M200.8,358.2h.85M222.2,348.7h.85M208.0,322.5h.85M206.7,349.9h.85M208.4,344.2h.85M218.4,344.8h.85M199.3,351.2h.85M221.7,358.0h.85M206.5,332.6h.85M231.9,340.4h.85M224.5,335.3h.85M238.5,343.3h.85M234.0,338.8h.85M227.2,354.4h.85M216.6,350.1h.85M198.9,360.3h.85M219.6,325.3h.85M198.4,331.6h.85M206.4,335.6h.85M216.7,336.3h.85M211.3,345.7h.85M216.4,344.7h.85M226.9,350.2h.85M209.1,312.2h.85M230.2,323.5h.85M215.8,330.3h.85M230.0,336.8h.85M206.0,339.3h.85M228.2,337.0h.85M213.4,355.1h.85M223.3,319.5h.85M206.3,339.6h.85M216.8,331.0h.85M239.6,324.7h.85M215.0,339.6h.85M225.7,326.0h.85M217.5,345.0h.85M240.8,337.0h.85M207.1,336.1h.85M210.7,349.1h.85M204.5,316.2h.85M229.0,335.2h.85M209.9,328.3h.85M216.8,335.5h.85M216.6,354.2h.85M232.5,327.0h.85M233.1,339.6h.85M217.0,336.8h.85M228.2,319.2h.85M220.2,345.3h.85M208.8,338.5h.85M229.5,327.4h.85M209.4,343.9h.85M231.8,338.3h.85M231.1,344.7h.85M232.7,349.8h.85M218.8,322.4h.85M221.9,342.8h.85M212.1,333.7h.85M223.7,334.0h.85M224.2,349.8h.85M221.3,341.2h.85M226.6,327.7h.85M219.7,339.0h.85M222.8,325.5h.85M217.7,330.8h.85M229.7,345.5h.85M217.2,351.3h.85M222.6,340.2h.85M225.3,334.3h.85M238.9,345.4h.85M205.7,340.4h.85M229.7,333.8h.85M232.4,313.7h.85M222.1,328.2h.85M211.3,341.2h.85M205.8,342.6h.85M216.2,342.1h.85M227.2,344.0h.85M211.8,348.9h.85M219.4,354.2h.85M209.6,347.3h.85M222.1,354.8h.85M200.8,345.6h.85M214.1,341.6h.85M221.4,356.6h.85M198.9,332.6h.85M208.1,333.5h.85M210.8,343.6h.85M209.3,346.7h.85M221.8,347.7h.85M236.1,307.8h.85M225.3,351.5h.85M240.9,325.9h.85M233.4,354.4h.85M230.5,346.0h.85M205.9,337.8h.85M224.6,319.5h.85M212.5,351.7h.85M217.7,353.8h.85M219.3,337.4h.85M227.1,354.7h.85M240.9,331.6h.85M234.7,349.0h.85M219.4,329.6h.85M200.9,353.3h.85M226.9,323.7h.85M224.0,313.8h.85M224.8,331.9h.85M211.5,357.0h.85M214.6,342.1h.85M213.5,345.8h.85M229.4,361.2h.85M218.4,345.3h.85M227.6,351.0h.85M233.0,339.6h.85M208.5,357.2h.85M224.1,345.1h.85M215.7,347.7h.85M209.1,348.0h.85M219.2,332.6h.85M212.0,347.8h.85M226.3,338.7h.85M206.8,349.7h.85M202.4,346.0h.85M249.9,321.5h.85M223.8,330.3h.85M239.7,340.0h.85M236.3,330.8h.85M233.5,336.8h.85M226.1,338.2h.85M203.3,333.5h.85M255.9,336.6h.85M229.6,338.7h.85M226.1,344.6h.85M218.2,340.8h.85M211.9,322.4h.85M228.9,322.2h.85M229.6,337.6h.85M247.0,333.0h.85M201.5,347.8h.85M208.5,327.8h.85M224.4,332.3h.85M220.2,353.5h.85M206.3,345.3h.85M226.8,345.4h.85M215.6,339.8h.85M218.7,335.5h.85M232.9,341.5h.85M224.8,341.5h.85M224.7,355.8h.85M220.0,332.5h.85M212.8,336.1h.85M218.8,347.0h.85M221.8,329.7h.85M216.2,356.5h.85M199.8,350.9h.85M248.3,354.6h.85M236.8,320.6h.85M200.7,361.0h.85M224.9,339.7h.85M213.1,332.2h.85M232.2,355.3h.85M212.1,343.7h.85M204.7,349.3h.85M232.9,329.5h.85M212.5,343.5h.85M222.1,327.9h.85M210.5,347.0h.85M218.9,353.8h.85M227.7,346.7h.85M234.8,361.4h.85M222.7,333.0h.85M205.8,324.0h.85M234.7,356.8h.85M210.9,327.6h.85M209.5,359.5h.85M223.4,332.2h.85M234.0,326.0h.85M243.6,323.6h.85M216.2,301.4h.85M232.3,337.0h.85M237.1,327.8h.85M225.6,338.0h.85M225.9,341.7h.85M220.6,312.8h.85M204.3,336.1h.85M216.9,348.5h.85M224.3,340.8h.85M229.4,335.1h.85M215.9,343.2h.85M207.1,349.2h.85M221.8,343.9h.85M206.7,331.6h.85M222.9,345.7h.85M217.2,336.8h.85M213.9,351.5h.85M223.4,340.6h.85M226.1,352.2h.85M204.1,360.2h.85M227.7,343.7h.85M220.7,346.4h.85M227.2,349.6h.85M218.8,350.3h.85M209.8,327.2h.85M224.9,324.2h.85M204.7,348.8h.85M223.6,328.7h.85M218.7,326.3h.85M208.0,327.1h.85M227.3,351.7h.85M216.5,347.4h.85M221.2,345.8h.85M208.0,338.4h.85M213.9,342.4h.85M209.4,350.9h.85M207.3,348.2h.85M223.9,338.6h.85M220.7,345.8h.85M236.8,324.2h.85M219.7,338.8h.85M227.3,341.0h.85M231.2,333.2h.85M213.4,346.6h.85M223.5,357.2h.85M200.9,338.1h.85M210.8,337.9h.85M222.1,339.5h.85M200.1,340.4h.85M206.3,336.4h.85M219.1,343.9h.85M217.2,346.0h.85M228.8,355.3h.85M219.1,321.1h.85M222.8,332.8h.85M208.2,332.2h.85M214.6,344.4h.85M197.8,331.9h.85M217.7,337.0h.85M209.2,335.3h.85M213.9,352.3h.85M220.0,351.2h.85M210.6,356.0h.85M226.9,339.3h.85M204.8,343.9h.85M210.2,353.8h.85M226.1,351.3h.85M226.7,352.5h.85M224.7,350.0h.85M229.6,332.1h.85M211.7,357.1h.85M217.9,337.5h.85M222.5,347.7h.85M227.2,319.8h.85M225.6,325.2h.85M213.7,342.1h.85M212.8,336.7h.85M212.2,346.1h.85M210.8,350.6h.85M221.0,325.1h.85M214.6,334.4h.85M209.2,353.3h.85M224.2,350.2h.85M225.5,334.2h.85M224.0,356.3h.85M202.0,350.4h.85M228.1,335.8h.85M222.3,333.2h.85M234.0,340.5h.85M218.9,324.5h.85M213.8,353.4h.85M223.9,334.4h.85M206.9,359.8h.85M215.0,339.9h.85M210.8,317.3h.85M215.0,336.4h.85M221.2,333.0h.85M234.6,323.9h.85M201.8,337.0h.85M216.2,343.7h.85M234.7,326.6h.85M213.3,333.7h.85M213.1,333.1h.85M210.6,358.7h.85M204.8,337.8h.85M237.7,336.3h.85M209.8,326.4h.85M204.4,344.1h.85M247.1,358.9h.85M225.5,330.8h.85M201.1,341.6h.85M214.1,349.9h.85M220.7,346.7h.85M214.4,328.6h.85M225.9,332.3h.85M231.1,323.1h.85M215.0,344.1h.85M233.0,331.1h.85M236.5,334.8h.85M239.5,351.5h.85M216.4,340.5h.85M219.2,322.1h.85M229.2,343.6h.85M215.9,362.8h.85M232.7,309.1h.85M198.3,347.2h.85M237.8,328.8h.85M219.0,329.3h.85M218.7,329.4h.85M217.8,330.3h.85M205.0,351.6h.85M224.9,338.4h.85M221.5,352.2h.85M222.7,333.5h.85M215.1,338.5h.85M225.1,336.5h.85M223.1,320.4h.85M207.5,353.4h.85M214.5,341.6h.85M203.9,365.9h.85M235.8,324.9h.85M233.9,331.1h.85M224.3,340.3h.85M231.6,331.8h.85M224.0,333.3h.85M215.6,350.7h.85M220.1,348.4h.85M241.8,335.7h.85M214.2,330.1h.85M206.8,337.8h.85M222.7,336.3h.85M206.2,327.6h.85M234.8,328.5h.85M216.9,337.7h.85M201.3,357.4h.85M209.2,339.8h.85M211.9,317.5h.85M226.8,343.5h.85M214.4,322.7h.85M229.9,324.1h.85M219.6,345.3h.85M229.2,329.5h.85M218.1,345.3h.85M238.4,348.6h.85M212.4,334.5h.85M247.0,328.7h.85M224.5,318.6h.85M203.7,338.3h.85M228.6,349.6h.85M227.7,330.4h.85M225.2,340.6h.85M210.1,335.3h.85M226.4,357.7h.85M202.7,343.4h.85M221.7,331.9h.85M217.8,344.8h.85M205.6,331.6h.85M229.2,331.2h.85M240.6,326.6h.85M211.2,343.7h.85M220.5,328.0h.85M229.3,330.4h.85M231.1,351.1h.85M225.2,360.8h.85M233.1,357.1h.85M225.4,324.2h.85M237.9,323.4h.85M219.5,333.7h.85M216.0,338.0h.85M223.0,348.4h.85M236.3,338.6h.85M229.4,326.4h.85M224.2,330.2h.85M229.5,337.4h.85M216.8,330.9h.85M223.0,363.0h.85M208.3,344.7h.85M220.1,333.3h.85M234.0,343.5h.85M207.4,357.1h.85M214.1,324.8h.85M237.5,340.8h.85M223.9,342.3h.85M225.0,349.0h.85M215.6,345.4h.85M208.6,342.7h.85M229.2,327.0h.85M215.2,320.5h.85M202.8,347.3h.85M245.1,326.2h.85M235.4,312.9h.85M227.9,335.4h.85M222.3,346.2h.85M223.4,343.0h.85M224.5,360.8h.85M219.9,324.4h.85M219.8,330.9h.85M203.2,346.5h.85M245.9,308.0h.85M228.8,348.3h.85M213.8,330.0h.85M255.3,329.7h.85M220.1,326.0h.85M220.3,341.1h.85M215.7,336.3h.85M215.2,340.7h.85M231.6,328.4h.85M223.1,334.5h.85M217.8,326.1h.85M205.9,348.5h.85M212.0,340.5h.85M230.2,345.7h.85M200.2,340.2h.85M224.3,345.0h.85M239.4,329.8h.85M221.5,338.6h.85M210.6,362.7h.85M226.0,330.8h.85M220.6,345.5h.85M227.7,338.1h.85M211.7,326.0h.85M202.4,335.8h.85M246.6,346.7h.85M212.2,347.6h.85M216.6,332.8h.85M235.9,322.6h.85M255.8,330.2h.85M218.2,329.9h.85M229.1,323.8h.85M211.5,347.3h.85M223.3,322.7h.85M224.8,347.5h.85M224.4,348.2h.85M226.5,323.5h.85M200.8,345.4h.85M234.9,329.3h.85M217.5,336.6h.85M225.3,325.3h.85M245.4,312.2h.85M222.0,336.9h.85M227.6,349.0h.85M227.8,354.5h.85M220.4,353.5h.85M209.8,348.9h.85M220.3,327.0h.85M224.4,334.0h.85M237.8,331.1h.85M220.5,336.0h.85M223.1,358.1h.85M208.2,334.8h.85M198.5,337.2h.85M209.0,346.6h.85M228.9,342.7h.85M212.8,320.0h.85M220.3,348.7h.85M222.5,336.1h.85M218.5,352.7h.85M217.1,339.3h.85M217.0,339.7h.85M230.7,343.2h.85M215.4,335.3h.85M217.5,340.3h.85M229.7,339.1h.85M240.5,327.4h.85M198.8,353.2h.85M211.3,355.4h.85M243.0,317.2h.85M225.5,354.3h.85M218.7,328.3h.85M222.8,359.2h.85M210.0,319.1h.85M217.6,351.4h.85M208.1,354.6h.85M199.3,339.4h.85M211.1,342.4h.85M208.8,326.6h.85M219.0,335.0h.85M219.0,347.4h.85M236.0,325.5h.85M229.2,331.1h.85M216.1,347.5h.85M209.9,360.0h.85M229.9,333.6h.85M204.6,340.1h.85M211.0,346.4h.85M213.7,349.6h.85M216.5,345.9h.85M219.0,340.1h.85M218.8,332.6h.85M228.2,332.4h.85M219.3,340.7h.85M228.3,328.3h.85M233.7,323.9h.85M221.6,337.4h.85M225.6,339.6h.85M220.3,351.7h.85M245.6,315.3h.85M214.4,334.0h.85M206.7,343.5h.85M216.5,333.1h.85M229.9,320.0h.85M204.9,344.4h.85M217.5,340.3h.85M221.9,325.6h.85M229.6,342.2h.85M203.7,332.8h.85M229.4,343.7h.85M222.9,335.9h.85M208.8,335.0h.85M217.8,344.7h.85M212.9,334.2h.85M249.5,321.3h.85M232.9,333.0h.85M207.1,337.4h.85M216.8,360.5h.85M232.7,349.0h.85M219.2,331.8h.85M221.9,326.5h.85M221.1,346.3h.85M223.0,340.1h.85M229.2,344.0h.85M231.0,314.9h.85M221.7,342.6h.85M209.0,345.6h.85M221.7,337.4h.85M224.5,329.9h.85M202.5,338.7h.85M207.0,360.2h.85M219.0,334.3h.85M209.1,310.7h.85M215.8,326.0h.85M214.7,342.5h.85M210.8,346.7h.85M240.2,351.5h.85M224.9,344.5h.85M219.2,325.5h.85M220.4,332.5h.85M222.6,326.9h.85M221.7,323.0h.85M221.9,350.4h.85M234.8,334.2h.85M244.3,324.5h.85M226.5,345.9h.85M218.5,354.1h.85M221.7,334.9h.85M221.4,354.4h.85M201.0,361.1h.85M204.7,353.5h.85M209.3,340.0h.85M216.4,348.6h.85M249.6,329.1h.85M214.5,339.7h.85M218.2,328.4h.85M214.2,362.3h.85M227.6,353.8h.85M211.1,327.7h.85M225.7,339.9h.85M209.4,331.3h.85M240.1,342.2h.85M224.7,332.9h.85M231.5,342.9h.85M224.7,353.6h.85M223.1,338.7h.85M225.6,337.3h.85M223.5,359.6h.85M213.2,343.9h.85M223.5,333.4h.85M215.7,339.0h.85M219.7,329.5h.85M215.0,350.9h.85M236.1,327.8h.85M203.4,339.6h.85M230.4,334.1h.85M223.8,344.5h.85M228.4,336.8h.85M218.9,316.3h.85M209.7,344.1h.85M225.7,338.8h.85M224.4,330.1h.85M225.1,329.7h.85M230.2,335.3h.85M218.9,316.7h.85M205.7,345.7h.85M215.3,351.5h.85M225.0,327.5h.85M235.5,333.8h.85M219.5,350.6h.85M228.0,321.5h.85M226.7,340.8h.85M223.5,334.2h.85M213.2,335.4h.85M248.2,328.1h.85M211.7,336.5h.85M235.6,345.1h.85M213.5,334.7h.85M229.6,331.4h.85M211.0,347.5h.85M212.3,331.6h.85M231.9,344.7h.85M238.2,336.1h.85M225.3,331.4h.85M234.3,340.8h.85M224.0,342.8h.85M214.4,347.0h.85M207.2,338.9h.85M240.2,349.1h.85M201.5,355.7h.85M215.6,333.5h.85M227.6,343.4h.85M205.0,357.2h.85M229.1,337.1h.85M236.8,321.4h.85M225.9,323.1h.85M207.9,346.7h.85M222.9,350.2h.85M226.3,332.0h.85M213.2,350.7h.85M213.3,342.3h.85M247.7,351.7h.85M243.0,311.1h.85M235.5,313.4h.85M243.2,309.4h.85M204.0,360.1h.85M239.9,341.7h.85M241.9,340.1h.85M209.6,328.8h.85M214.3,333.0h.85M210.5,318.0h.85M202.4,343.7h.85M228.8,345.1h.85M207.1,335.4h.85M214.3,344.7h.85M230.7,328.1h.85M209.5,307.6h.85M252.2,334.0h.85M236.5,362.2h.85M213.9,362.7h.85M204.0,350.5h.85M225.9,335.9h.85M220.9,335.7h.85M204.8,343.3h.85M202.6,334.7h.85M222.7,344.3h.85M226.1,353.6h.85M228.9,343.4h.85M213.9,351.1h.85M201.7,356.8h.85M238.5,350.4h.85M219.7,334.3h.85M229.7,329.2h.85M221.0,340.8h.85M240.8,339.1h.85M208.5,356.2h.85M216.0,345.3h.85M238.4,312.6h.85M208.6,339.6h.85M254.6,328.0h.85M230.7,330.3h.85M225.1,357.0h.85M219.6,344.2h.85M219.6,343.0h.85M205.9,349.8h.85M217.6,341.6h.85M224.3,351.2h.85M197.9,359.6h.85M211.0,337.3h.85M230.8,324.1h.85M233.6,331.3h.85M225.2,349.1h.85M197.7,348.6h.85M214.6,343.5h.85M235.4,329.9h.85M232.1,345.8h.85M230.5,346.5h.85M244.1,343.3h.85M224.6,324.9h.85M233.9,340.1h.85M242.8,346.2h.85M219.1,334.3h.85M236.5,337.3h.85M223.8,343.4h.85M223.1,340.1h.85M219.9,333.5h.85M229.1,334.1h.85M237.2,322.7h.85M211.2,331.2h.85M237.5,313.7h.85M213.3,343.9h.85M219.1,339.3h.85M230.7,318.3h.85M214.4,339.8h.85M212.2,323.2h.85M225.6,326.7h.85M214.0,358.9h.85M214.8,335.7h.85M199.9,353.9h.85M225.8,331.2h.85M222.5,352.2h.85M220.7,340.0h.85M201.5,341.0h.85M218.1,346.8h.85M218.6,346.4h.85M215.7,341.3h.85M222.1,342.6h.85M214.5,339.4h.85M237.2,336.3h.85M235.4,331.7h.85M224.7,335.7h.85M221.1,327.6h.85M221.1,343.3h.85M208.7,333.9h.85M215.7,338.4h.85M219.0,350.8h.85M229.6,328.6h.85M208.4,351.5h.85M209.8,335.5h.85M215.5,347.5h.85M218.0,349.1h.85M213.5,358.3h.85M214.6,348.4h.85M215.8,336.6h.85M214.7,317.6h.85M226.3,341.7h.85M217.0,342.2h.85M209.4,352.3h.85M216.4,334.4h.85M216.8,337.5h.85M210.1,350.7h.85M219.6,353.9h.85M223.6,357.1h.85M219.1,340.0h.85M216.5,350.6h.85M198.6,341.9h.85M207.0,322.5h.85M225.2,324.1h.85M235.0,324.0h.85M222.3,312.9h.85M217.7,346.4h.85M215.2,346.5h.85M223.2,345.7h.85M215.0,311.0h.85M215.9,326.0h.85M222.1,312.8h.85M216.2,352.3h.85M223.3,346.0h.85M216.7,331.1h.85M216.7,341.6h.85M214.7,341.7h.85M213.6,348.3h.85M212.0,329.6h.85M210.0,360.8h.85M222.8,326.9h.85M214.1,338.7h.85M222.3,335.0h.85M208.7,341.4h.85M226.1,337.2h.85M218.8,347.1h.85M205.2,325.7h.85M216.2,347.8h.85M233.4,328.2h.85M215.5,359.0h.85M223.4,348.0h.85M210.1,361.2h.85M231.6,328.2h.85M220.1,337.3h.85M213.2,331.5h.85M236.3,331.0h.85M227.2,328.7h.85M234.3,336.4h.85M249.6,318.4h.85M206.7,343.4h.85M230.8,333.2h.85M224.6,334.1h.85M213.5,349.8h.85M208.9,357.8h.85M244.9,318.8h.85M205.3,344.2h.85M245.5,316.9h.85M219.4,349.1h.85M208.4,337.1h.85M224.6,341.3h.85M221.1,317.8h.85M230.5,321.9h.85M209.7,368.1h.85M232.3,331.9h.85M219.8,325.1h.85M211.3,324.2h.85M237.0,323.6h.85M224.5,334.8h.85M226.6,334.0h.85M208.6,348.1h.85M220.9,344.0h.85M226.6,305.0h.85M234.7,313.6h.85M215.1,344.1h.85M230.4,308.7h.85M220.4,347.3h.85M230.9,331.4h.85M228.1,344.4h.85M223.1,360.3h.85M218.1,347.6h.85M206.7,346.5h.85M232.7,332.1h.85M224.1,346.8h.85M212.2,349.1h.85M219.9,312.4h.85M223.0,330.5h.85M235.1,325.2h.85M209.7,345.6h.85M233.1,349.4h.85M216.4,335.6h.85M222.6,349.4h.85M230.4,353.8h.85M228.6,330.7h.85M218.0,336.6h.85M231.4,321.5h.85M211.7,328.5h.85M219.2,343.2h.85M219.3,341.0h.85M233.9,332.9h.85M222.1,327.4h.85M215.1,345.6h.85M222.6,336.1h.85M229.5,346.0h.85M207.5,334.6h.85M236.4,340.7h.85M206.9,356.8h.85M228.5,329.2h.85M223.1,350.7h.85M204.2,358.9h.85M213.3,346.7h.85M209.9,355.1h.85M234.0,328.5h.85M204.3,351.3h.85M201.5,339.5h.85M230.0,334.5h.85M229.4,350.7h.85M221.5,328.2h.85M218.9,338.5h.85M229.7,347.8h.85M223.4,319.7h.85M224.6,308.0h.85M236.1,357.5h.85M234.8,339.1h.85M276.3,286.1h.85M285.6,288.9h.85M266.9,288.7h.85M292.6,292.1h.85M263.0,295.2h.85M271.8,284.9h.85M276.6,278.5h.85M264.3,286.4h.85M258.2,286.1h.85M284.8,289.4h.85M260.9,287.1h.85M270.8,290.3h.85M273.4,285.6h.85M254.1,285.6h.85M273.2,289.2h.85M265.5,282.9h.85M264.8,294.3h.85M293.8,283.7h.85M267.6,293.5h.85M282.5,289.5h.85M270.0,284.7h.85M286.2,284.3h.85M261.5,289.6h.85M260.4,288.3h.85M279.7,285.3h.85M280.5,288.0h.85M288.2,279.8h.85M277.4,288.3h.85M278.9,282.6h.85M275.8,282.3h.85M280.0,283.0h.85M276.9,284.3h.85M271.1,285.9h.85M272.1,295.8h.85M266.7,287.5h.85M283.6,288.0h.85M251.1,290.6h.85M271.0,289.8h.85M274.1,281.1h.85M266.6,285.3h.85M257.5,291.4h.85M271.8,284.2h.85M272.8,290.4h.85M279.9,281.1h.85M282.1,282.3h.85M271.8,286.0h.85M276.4,286.7h.85M275.3,294.8h.85M263.8,287.8h.85M282.8,288.7h.85M271.2,289.1h.85M262.3,281.2h.85M268.0,287.8h.85M270.5,289.7h.85M269.1,284.9h.85M278.3,282.1h.85M272.9,292.1h.85M260.1,289.2h.85M282.1,294.5h.85M283.0,284.6h.85M278.2,279.1h.85M283.5,284.2h.85M268.3,288.1h.85M277.4,282.0h.85M268.4,290.0h.85M291.8,291.0h.85M267.5,289.4h.85M267.4,290.4h.85M272.2,286.6h.85M287.2,284.9h.85M266.4,287.5h.85M266.2,278.4h.85M273.7,283.7h.85M262.8,288.8h.85M273.7,286.2h.85M257.1,280.2h.85M277.7,293.8h.85M246.6,296.9h.85M282.5,287.6h.85M259.0,297.1h.85M263.1,281.2h.85M270.8,291.4h.85M269.3,279.9h.85M269.9,283.7h.85M274.8,291.9h.85M282.2,294.6h.85M273.9,294.5h.85M271.9,297.2h.85M264.8,286.0h.85M270.9,278.2h.85M258.1,286.6h.85M274.2,289.3h.85M276.9,283.2h.85M258.9,295.1h.85M282.7,291.3h.85M261.3,296.5h.85M271.3,286.7h.85M264.2,288.3h.85M270.6,285.7h.85M273.9,287.9h.85M270.2,288.5h.85M277.7,281.3h.85M273.0,286.7h.85M258.9,282.2h.85M273.0,296.1h.85M262.8,296.2h.85M273.5,286.0h.85M265.0,289.6h.85M265.9,294.7h.85M271.9,291.1h.85M268.6,283.2h.85M276.2,292.1h.85M274.0,281.3h.85M268.4,289.7h.85M262.3,289.7h.85M268.5,283.3h.85M281.9,277.2h.85M295.6,287.0h.85M264.8,290.2h.85M272.7,295.4h.85M268.2,285.8h.85M276.1,287.3h.85M271.6,290.9h.85M285.7,287.0h.85M270.5,284.3h.85M270.9,292.1h.85M268.9,291.3h.85M279.0,284.9h.85M266.0,283.2h.85M271.4,286.4h.85M291.4,281.3h.85M279.5,281.7h.85M276.4,285.6h.85M275.8,296.1h.85M271.5,288.0h.85M300.1,280.9h.85M260.7,287.2h.85M279.6,288.2h.85M273.2,283.8h.85M264.3,285.5h.85M265.1,289.5h.85M274.1,289.1h.85M280.6,285.8h.85M275.6,278.0h.85M272.4,291.5h.85M265.0,291.5h.85M280.7,288.2h.85M275.2,290.6h.85M280.2,289.8h.85M258.2,283.3h.85M263.6,284.7h.85M270.9,285.8h.85M260.0,284.5h.85M274.1,278.2h.85M283.7,289.0h.85M276.0,280.5h.85M264.8,290.3h.85M287.0,289.8h.85M271.6,287.0h.85M283.2,287.7h.85M279.9,288.0h.85M265.6,296.1h.85M263.0,286.6h.85M276.6,284.9h.85M271.1,285.2h.85M266.1,286.6h.85M290.1,297.8h.85M288.3,285.6h.85M281.9,286.2h.85M266.1,281.5h.85M283.8,296.6h.85M257.4,279.8h.85M271.4,289.6h.85M277.6,287.8h.85M277.4,287.2h.85M257.9,292.4h.85M273.4,278.6h.85M261.2,286.5h.85M271.3,285.2h.85M272.8,284.9h.85M284.2,281.1h.85M268.7,289.2h.85M258.4,285.3h.85M269.0,290.8h.85M290.4,295.0h.85M270.1,288.6h.85M277.5,292.1h.85M261.3,290.4h.85M285.7,284.2h.85M272.4,294.0h.85M269.1,277.5h.85M286.9,288.9h.85M280.3,285.3h.85M277.1,279.1h.85M289.4,283.9h.85M262.3,295.1h.85M266.5,288.8h.85M254.9,289.8h.85M279.3,293.9h.85M275.9,287.7h.85M272.0,289.0h.85M288.8,292.4h.85M259.3,283.7h.85M275.5,288.9h.85M271.7,289.2h.85M255.0,288.0h.85M275.9,283.3h.85M270.7,291.8h.85M269.6,287.9h.85M258.0,288.4h.85M275.8,286.5h.85M275.9,285.0h.85M273.5,289.7h.85M272.2,282.7h.85M272.5,286.1h.85M260.0,286.0h.85M279.8,286.6h.85M277.6,290.8h.85M268.4,289.7h.85M264.2,293.2h.85M258.1,283.2h.85M259.5,287.9h.85M277.5,277.3h.85M262.0,291.9h.85M275.2,288.1h.85M284.5,278.2h.85M274.6,291.5h.85M265.0,283.7h.85M280.7,288.5h.85M273.0,293.5h.85M269.4,287.8h.85M257.1,288.7h.85M267.4,283.9h.85M289.9,287.4h.85M263.9,281.5h.85M283.2,287.2h.85M269.2,290.9h.85M260.3,300.0h.85M266.0,293.2h.85M274.7,290.3h.85M268.5,286.4h.85M274.9,293.2h.85M271.2,284.4h.85M267.2,281.4h.85M274.1,283.1h.85M286.3,279.6h.85M256.0,294.3h.85M274.4,282.2h.85M267.8,286.1h.85M283.4,289.5h.85M266.9,285.6h.85M274.7,286.7h.85M266.9,293.8h.85M273.1,284.7h.85M275.5,293.2h.85M276.7,277.5h.85M268.4,293.7h.85M265.2,290.8h.85M267.1,291.5h.85M260.7,288.8h.85M274.6,282.7h.85M278.8,277.5h.85M276.3,282.3h.85M262.3,288.7h.85M272.6,284.1h.85M276.1,289.8h.85M266.0,286.3h.85M266.9,281.1h.85M281.7,285.6h.85M269.5,289.9h.85M268.8,285.4h.85M262.0,290.6h.85M268.5,286.5h.85M280.9,282.4h.85M279.1,286.5h.85M287.0,288.9h.85M271.2,289.8h.85M267.8,289.3h.85M271.7,283.6h.85M279.6,290.5h.85M277.3,286.5h.85M267.8,286.6h.85M270.2,295.7h.85M283.6,290.0h.85M285.6,286.8h.85M262.5,277.2h.85M262.9,290.4h.85M261.1,294.5h.85M264.5,283.9h.85M277.5,288.1h.85M286.4,287.6h.85M278.1,281.1h.85M276.2,279.1h.85M282.1,285.3h.85M259.4,283.7h.85M280.9,281.2h.85M291.8,295.5h.85M284.9,285.1h.85M274.6,292.3h.85M264.9,291.1h.85M258.9,287.3h.85M278.5,286.6h.85M262.6,291.6h.85M280.2,283.7h.85M266.9,283.5h.85M284.8,287.7h.85M274.7,282.9h.85M270.6,286.3h.85M278.3,283.7h.85M274.6,286.7h.85M271.6,293.6h.85M273.4,279.7h.85M268.7,293.8h.85M285.3,285.4h.85M270.9,277.5h.85M273.5,287.7h.85M284.7,290.9h.85M279.4,291.9h.85M263.1,290.2h.85M287.2,284.1h.85M274.8,292.4h.85M282.3,289.3h.85M261.4,295.0h.85M260.7,290.1h.85M258.3,284.1h.85M267.7,287.3h.85M267.0,283.2h.85M287.7,286.4h.85M283.3,283.0h.85M276.1,280.2h.85M256.9,287.3h.85M269.4,295.4h.85M282.2,284.8h.85M269.7,290.9h.85M261.2,278.8h.85M271.4,288.1h.85M286.2,288.9h.85M270.4,294.6h.85M266.7,295.4h.85M273.2,294.7h.85M265.5,286.2h.85M270.3,285.4h.85M273.3,288.8h.85M261.0,282.7h.85M274.4,283.0h.85M265.7,288.8h.85M279.4,284.9h.85M279.4,290.7h.85M279.8,286.2h.85M270.4,286.1h.85M278.0,285.6h.85M273.1,293.7h.85M275.3,297.9h.85M272.7,289.3h.85M280.2,281.8h.85M280.1,279.8h.85M265.2,288.9h.85M276.3,288.4h.85M274.0,290.7h.85M267.3,286.7h.85M273.0,291.8h.85M263.1,286.2h.85M273.1,286.4h.85M276.5,290.8h.85M281.1,292.5h.85M281.9,289.4h.85M272.7,286.6h.85M279.7,292.5h.85M292.9,290.0h.85M273.9,285.0h.85M278.5,286.4h.85M275.6,284.7h.85M270.5,283.4h.85M257.8,281.3h.85M278.3,294.1h.85M258.6,288.7h.85M266.3,293.3h.85M277.5,280.8h.85M260.8,296.0h.85M261.0,287.7h.85M267.3,290.5h.85M277.5,286.4h.85M267.9,290.8h.85M286.9,284.4h.85M268.8,285.6h.85M270.6,283.0h.85M278.9,292.8h.85M261.3,280.8h.85M260.8,284.9h.85M271.2,287.7h.85M271.4,288.8h.85M267.4,284.6h.85M269.6,288.5h.85M266.3,286.5h.85M274.6,283.3h.85M260.9,291.1h.85M281.6,287.4h.85M272.0,284.3h.85M285.3,276.5h.85M284.6,283.5h.85M269.1,288.6h.85M255.0,287.9h.85M267.7,287.5h.85M276.7,280.5h.85M267.4,280.5h.85M272.9,280.3h.85M275.6,284.4h.85M281.1,292.0h.85M278.2,288.6h.85M263.3,288.3h.85M275.0,288.3h.85M287.8,286.9h.85M272.5,281.6h.85M285.5,287.4h.85M282.8,285.9h.85M254.8,295.2h.85M280.2,282.8h.85M270.8,288.0h.85M276.7,284.6h.85M272.4,287.5h.85M281.9,285.1h.85M269.3,285.8h.85M278.2,281.6h.85M271.7,289.6h.85M272.2,297.8h.85M273.8,292.0h.85M283.8,289.2h.85M268.3,281.6h.85M284.4,289.9h.85M269.6,293.6h.85M274.6,288.6h.85M263.9,287.8h.85M275.2,282.8h.85M286.4,284.2h.85M273.6,278.4h.85M269.9,289.3h.85M262.5,288.7h.85M267.8,290.8h.85M278.7,284.1h.85M258.7,299.9h.85M262.7,291.0h.85M256.2,289.0h.85M274.1,288.0h.85M268.0,285.8h.85M278.8,284.5h.85M262.8,289.7h.85M275.1,289.2h.85M256.6,287.5h.85M258.2,295.5h.85M275.2,278.6h.85M261.3,287.5h.85M291.6,294.8h.85M274.9,279.5h.85M274.5,287.1h.85M253.6,285.0h.85M260.4,287.1h.85M270.4,289.2h.85M265.6,289.8h.85M268.4,286.8h.85M278.8,285.2h.85M270.8,291.2h.85M280.0,290.3h.85M281.1,282.9h.85M272.7,282.2h.85M265.7,292.4h.85M272.7,281.5h.85M266.5,284.1h.85M289.7,286.4h.85M257.2,284.2h.85M273.7,290.2h.85M280.4,281.5h.85M282.9,282.1h.85M279.5,283.2h.85M261.5,292.3h.85M283.9,288.3h.85M261.7,282.1h.85M273.0,288.4h.85M274.9,284.2h.85M273.8,280.2h.85M270.0,288.4h.85M269.3,282.5h.85M268.1,285.2h.85M253.2,294.5h.85M265.0,289.3h.85M268.3,283.8h.85M279.2,290.7h.85M291.3,287.1h.85M273.0,289.2h.85M286.4,289.2h.85M269.9,286.1h.85M253.3,289.6h.85M271.6,281.5h.85M263.9,282.7h.85M265.5,281.2h.85M290.4,285.1h.85M272.6,289.4h.85M273.2,287.8h.85M270.7,286.6h.85M267.9,285.6h.85M277.7,280.5h.85M267.8,292.9h.85M280.9,287.7h.85M283.1,294.9h.85M267.4,296.7h.85M269.4,291.4h.85M280.2,282.7h.85M270.3,287.9h.85M283.2,290.5h.85M297.0,286.8h.85M266.8,294.9h.85M288.4,282.3h.85M276.3,288.2h.85M274.4,289.8h.85M279.0,296.2h.85M276.3,289.2h.85M263.4,288.7h.85M263.9,295.2h.85M278.7,286.7h.85M280.4,281.2h.85M280.2,276.9h.85M278.5,278.3h.85M256.3,287.4h.85M270.4,282.9h.85M260.2,290.2h.85M271.4,281.5h.85M265.2,289.9h.85M276.2,287.2h.85M272.8,284.3h.85M272.6,286.1h.85M282.8,288.0h.85M266.9,288.4h.85M262.7,280.3h.85M273.4,289.1h.85M271.4,288.1h.85M280.8,281.8h.85M289.8,291.5h.85M263.3,293.5h.85M262.6,285.1h.85M280.3,291.8h.85M275.4,284.5h.85M280.9,279.8h.85M268.1,289.7h.85M268.1,285.7h.85M280.0,285.2h.85M259.2,287.3h.85M270.8,279.8h.85M257.1,287.2h.85M260.5,288.6h.85M267.0,280.4h.85M271.7,293.6h.85M273.1,291.3h.85M257.0,293.1h.85M269.5,288.3h.85M278.7,290.2h.85M270.9,283.4h.85M275.4,287.2h.85M273.3,282.8h.85M278.4,291.7h.85M266.9,286.3h.85M277.5,293.7h.85M275.9,284.1h.85M283.7,285.3h.85M255.1,289.5h.85M273.7,287.7h.85M276.9,283.1h.85M276.0,283.6h.85M261.4,286.9h.85M281.5,287.7h.85M268.2,288.3h.85M253.9,285.2h.85M274.1,289.6h.85M256.8,292.5h.85M268.9,279.0h.85M277.7,286.3h.85M264.8,279.2h.85M269.1,288.2h.85M280.1,282.0h.85M267.4,280.4h.85M267.0,293.3h.85M276.2,295.5h.85M276.9,296.1h.85M276.5,291.6h.85M270.3,280.6h.85M272.5,287.8h.85M275.5,289.7h.85M273.7,288.2h.85M277.3,290.4h.85M264.1,286.5h.85M259.5,288.9h.85M262.7,294.7h.85M268.3,285.8h.85M274.6,287.2h.85M270.6,288.7h.85M292.0,287.7h.85M278.0,290.4h.85M288.6,286.6h.85M271.8,292.5h.85M267.5,285.9h.85M273.4,277.3h.85M256.7,287.0h.85M261.0,286.5h.85M275.2,284.3h.85M267.1,288.3h.85M266.7,291.6h.85M264.1,281.0h.85M276.0,288.2h.85M268.9,293.8h.85M273.8,281.8h.85M278.3,284.0h.85M250.7,289.6h.85M276.9,283.3h.85M271.3,298.3h.85M260.9,281.9h.85M284.8,281.6h.85M269.7,288.0h.85M278.4,291.2h.85M277.0,285.6h.85M272.5,287.5h.85M282.1,289.0h.85M283.4,286.7h.85M265.0,283.9h.85M282.0,291.4h.85M268.6,285.8h.85M268.6,285.0h.85M266.5,284.5h.85M278.5,288.8h.85M258.9,286.9h.85M278.2,284.2h.85M264.2,295.7h.85M263.7,293.4h.85M289.6,288.6h.85M264.0,292.7h.85M284.2,287.2h.85M280.9,288.2h.85M267.8,283.0h.85M280.9,284.5h.85M286.6,284.7h.85M286.2,284.0h.85M274.7,291.6h.85M260.3,299.5h.85M268.7,290.2h.85M276.9,287.8h.85M257.3,295.5h.85M274.5,283.5h.85M279.2,282.2h.85M267.2,286.3h.85M263.4,285.9h.85M269.7,293.6h.85M262.3,278.0h.85M269.8,281.4h.85M266.7,279.9h.85M266.8,293.3h.85M277.2,287.6h.85M274.3,290.4h.85M271.1,276.5h.85M295.5,281.8h.85M272.3,290.7h.85M274.7,288.6h.85M269.7,291.2h.85M271.8,284.0h.85M283.3,295.0h.85M289.2,283.8h.85M275.7,290.8h.85M279.6,290.7h.85M284.0,288.7h.85M252.3,288.9h.85M278.6,291.8h.85M280.8,282.9h.85M267.6,285.5h.85M272.5,286.7h.85M281.2,286.3h.85M269.7,291.8h.85M270.2,281.4h.85M266.9,285.3h.85M283.7,285.8h.85M271.7,280.0h.85M285.9,288.8h.85M271.3,296.1h.85M293.1,281.8h.85M270.3,282.7h.85M271.6,287.7h.85M268.8,292.0h.85M256.6,287.5h.85M245.5,293.8h.85M272.6,282.9h.85M259.3,296.3h.85M287.2,289.0h.85M261.7,286.2h.85M257.4,291.2h.85M256.8,293.3h.85M277.5,278.5h.85M275.5,281.0h.85M281.3,289.8h.85M265.3,285.8h.85M272.5,294.9h.85M269.9,293.2h.85M256.3,298.4h.85M276.5,282.4h.85M269.5,287.0h.85M263.2,287.4h.85M286.0,282.3h.85M258.2,291.6h.85M256.3,288.9h.85M270.1,278.4h.85M273.4,285.3h.85M265.4,290.4h.85M290.6,290.4h.85M281.7,286.0h.85M268.6,280.8h.85M268.6,290.1h.85M262.7,286.6h.85M269.2,283.2h.85M278.7,290.2h.85M263.1,281.7h.85M270.5,288.4h.85M278.9,284.2h.85M263.5,288.8h.85M280.2,289.3h.85M272.7,278.7h.85M295.4,288.7h.85M264.7,282.8h.85M264.1,294.0h.85M265.3,292.7h.85M260.3,290.3h.85M261.6,285.7h.85M277.4,287.9h.85M281.0,287.6h.85M282.9,288.6h.85M266.8,291.0h.85M275.7,293.8h.85M271.6,284.2h.85M277.1,280.1h.85M256.5,287.3h.85M275.3,287.8h.85M285.9,291.4h.85M285.5,284.4h.85M289.0,291.3h.85M272.5,280.9h.85M287.0,287.4h.85M270.4,292.1h.85M270.6,282.2h.85M261.7,292.2h.85M283.8,288.4h.85M278.2,292.4h.85M268.1,288.6h.85M284.3,286.7h.85M264.5,284.5h.85M260.3,286.2h.85M252.5,284.1h.85M280.5,288.5h.85M275.8,278.9h.85M271.0,296.7h.85M277.4,282.4h.85M266.4,286.1h.85M268.4,296.7h.85M265.6,287.3h.85M275.9,290.9h.85M273.7,288.7h.85M264.7,283.1h.85M260.9,283.9h.85M275.2,282.9h.85M278.4,284.3h.85M255.7,288.0h.85M273.1,279.3h.85M272.3,286.3h.85M269.5,285.8h.85M261.6,294.7h.85M276.7,278.5h.85M287.3,290.8h.85M261.4,287.1h.85M266.1,291.6h.85M278.3,281.3h.85M269.8,288.7h.85M273.3,290.5h.85M280.6,291.3h.85M280.7,286.9h.85M273.9,279.8h.85M274.7,291.4h.85M282.3,290.3h.85M270.4,289.0h.85M279.2,296.5h.85M284.2,288.4h.85M271.1,285.0h.85M269.0,283.6h.85M271.8,291.2h.85M282.1,287.4h.85M262.2,291.6h.85M279.5,280.2h.85M273.2,288.9h.85M288.1,293.2h.85M252.0,292.0h.85M276.7,287.4h.85M273.8,284.0h.85M270.2,286.4h.85M269.7,287.9h.85M252.6,288.7h.85M277.2,286.9h.85M257.0,285.6h.85M286.7,286.1h.85M270.2,288.4h.85M270.7,284.6h.85M266.1,290.4h.85M274.4,295.1h.85M277.2,284.1h.85M276.2,290.4h.85M257.1,293.8h.85M259.7,285.6h.85M269.5,294.1h.85M286.5,287.3h.85M290.9,280.5h.85M256.5,288.1h.85M275.1,293.0h.85M276.6,293.2h.85M276.9,281.9h.85M283.2,294.1h.85M280.7,278.3h.85M263.2,277.1h.85M279.9,287.1h.85M285.4,281.2h.85M265.5,288.7h.85M265.3,288.9h.85M268.7,287.2h.85M265.0,284.4h.85M264.2,283.8h.85M282.7,280.4h.85M269.9,287.6h.85M275.9,285.2h.85M279.0,291.4h.85M261.8,297.1h.85M274.3,292.7h.85M250.1,293.5h.85M265.9,282.8h.85M275.2,288.5h.85M277.2,285.1h.85M275.5,293.0h.85M278.5,282.0h.85M257.5,281.9h.85M257.8,283.1h.85M274.3,292.3h.85M272.8,287.8h.85M259.8,283.4h.85M266.5,289.5h.85M276.6,281.1h.85M283.2,284.6h.85M263.5,289.3h.85M254.2,284.8h.85M271.6,286.0h.85M274.5,294.5h.85M285.2,289.9h.85M280.0,282.8h.85M271.4,282.7h.85M277.1,281.5h.85M281.7,283.6h.85M258.4,290.8h.85M279.1,292.4h.85M270.4,292.0h.85M281.4,288.9h.85M272.3,279.7h.85M266.9,291.0h.85M256.7,289.7h.85M274.3,292.7h.85M273.5,285.9h.85M264.9,286.4h.85M262.5,288.7h.85M253.0,288.1h.85M273.9,284.6h.85M273.6,289.0h.85M272.0,282.4h.85M282.3,277.1h.85M270.0,286.9h.85M262.4,293.7h.85M273.0,286.2h.85M287.5,283.9h.85M275.5,284.9h.85M261.8,289.3h.85M271.3,289.4h.85M278.1,283.2h.85M271.4,292.0h.85M258.2,285.1h.85M258.5,289.8h.85M283.1,289.2h.85M292.1,283.4h.85M281.0,291.1h.85M257.1,289.5h.85M274.0,286.1h.85M283.4,287.2h.85M279.0,287.9h.85M267.0,287.7h.85M281.8,284.4h.85M282.4,279.4h.85M260.3,296.3h.85M283.3,287.2h.85M274.2,295.8h.85M279.9,291.9h.85M268.9,282.7h.85M278.3,280.2h.85M285.7,286.5h.85M270.2,277.4h.85M275.0,285.7h.85M267.8,283.8h.85M283.3,287.0h.85M284.5,286.4h.85M288.0,284.2h.85M260.5,281.5h.85M269.4,284.2h.85M280.5,289.0h.85M276.5,281.7h.85M286.8,280.4h.85M277.7,284.8h.85M286.0,283.4h.85M271.9,291.2h.85M267.5,293.2h.85M268.6,285.8h.85M270.3,290.8h.85M291.1,279.9h.85M265.2,287.2h.85M266.2,286.8h.85M278.4,284.9h.85M264.2,278.9h.85M264.4,288.5h.85M262.7,283.1h.85M288.4,279.3h.85M283.2,293.8h.85M272.1,276.4h.85M291.2,285.3h.85M271.4,288.1h.85M278.7,290.6h.85M264.3,281.7h.85M276.5,282.7h.85M270.5,279.9h.85M274.7,290.3h.85M269.5,285.2h.85M278.7,290.7h.85M262.1,295.5h.85M259.5,288.9h.85M256.8,286.3h.85M276.3,287.5h.85M263.7,281.6h.85M283.3,284.6h.85M276.1,290.4h.85M282.1,280.7h.85M275.6,287.0h.85M277.7,289.8h.85M267.1,285.6h.85M273.0,290.8h.85M262.2,285.8h.85M279.7,290.4h.85M271.7,287.4h.85M269.3,282.5h.85M262.5,295.0h.85M270.5,287.9h.85M264.2,289.7h.85M270.8,295.3h.85M274.6,284.8h.85M299.7,281.2h.85M267.1,293.0h.85M249.5,288.7h.85M271.0,283.9h.85M269.8,272.5h.85M272.3,287.5h.85M266.0,288.7h.85M274.9,281.7h.85M269.6,285.8h.85M268.7,296.2h.85M267.4,298.0h.85M269.6,285.7h.85M287.1,285.1h.85M281.4,283.5h.85M269.3,288.9h.85M286.8,292.0h.85M271.0,281.9h.85M274.3,284.7h.85M276.4,280.3h.85M262.3,288.5h.85M251.3,300.7h.85M283.6,287.0h.85M270.3,290.6h.85M287.1,282.6h.85M272.0,298.0h.85M280.2,288.5h.85M255.9,290.6h.85M257.5,299.6h.85M262.3,290.1h.85M291.6,291.5h.85M270.0,294.4h.85M271.5,281.5h.85M273.2,296.5h.85M284.8,285.9h.85M258.0,292.4h.85M261.8,290.1h.85M278.1,285.6h.85M271.7,287.5h.85M259.6,294.2h.85M285.2,284.4h.85M294.6,281.0h.85M252.4,293.9h.85M274.6,287.1h.85M254.6,293.0h.85M253.5,282.8h.85M279.8,284.0h.85M270.9,281.1h.85M269.3,283.1h.85M284.3,282.4h.85M255.6,289.0h.85M265.5,281.3h.85M281.8,288.7h.85M276.3,282.6h.85M279.2,289.1h.85M268.6,286.9h.85M277.0,290.4h.85M284.8,289.4h.85M263.4,296.5h.85M255.8,288.0h.85M257.9,279.9h.85M268.4,290.4h.85M285.1,285.0h.85M267.4,289.7h.85M271.3,281.2h.85M272.1,283.5h.85M266.4,290.2h.85M265.0,292.6h.85M271.5,286.4h.85M272.7,283.4h.85M263.6,286.2h.85M282.4,293.8h.85M268.4,279.2h.85M263.2,284.0h.85M276.2,291.0h.85M277.1,282.6h.85M272.3,281.9h.85M273.0,287.8h.85M269.0,291.7h.85M261.7,296.1h.85M266.4,284.1h.85M262.3,298.9h.85M271.0,283.6h.85M277.6,287.0h.85M268.5,282.1h.85M290.8,284.1h.85M266.6,284.9h.85M268.0,291.5h.85M267.7,284.7h.85M273.5,284.0h.85M268.1,295.0h.85M271.6,296.6h.85M281.0,289.9h.85M275.6,295.4h.85M267.7,292.2h.85M290.3,293.3h.85M272.9,288.2h.85M263.2,288.6h.85M268.2,288.9h.85M278.8,284.1h.85M283.1,285.7h.85M260.0,290.0h.85M280.8,294.3h.85M276.7,288.4h.85M263.0,284.8h.85M278.4,280.4h.85M277.9,278.8h.85M278.0,292.0h.85M258.3,288.0h.85M269.2,283.4h.85M287.4,283.7h.85M267.4,281.5h.85M281.4,282.8h.85M282.2,285.4h.85M267.5,284.9h.85M269.0,280.9h.85M268.6,289.8h.85M283.0,294.5h.85M255.3,294.6h.85M251.1,287.8h.85M279.2,287.8h.85M275.4,285.2h.85M263.1,289.5h.85M279.3,285.1h.85M281.2,286.5h.85M264.5,299.4h.85M269.2,299.9h.85M259.9,287.7h.85M271.4,289.8h.85M270.2,291.2h.85M271.6,282.7h.85M275.7,281.9h.85M273.0,289.5h.85M266.2,283.5h.85M284.0,289.0h.85M277.7,282.6h.85M270.6,289.8h.85M275.7,285.0h.85M261.2,284.2h.85M262.1,284.0h.85M267.9,292.2h.85M282.2,288.6h.85M291.5,279.5h.85M273.8,290.2h.85M289.5,281.6h.85M264.6,283.3h.85M273.5,287.4h.85M262.5,291.4h.85M263.2,282.7h.85M261.3,283.3h.85M250.7,293.1h.85M291.0,297.0h.85M268.6,290.6h.85M257.9,284.7h.85M282.8,286.1h.85M285.7,281.9h.85M257.7,289.3h.85M277.0,286.6h.85M269.5,292.3h.85M292.9,285.1h.85M264.8,291.0h.85M266.1,288.7h.85M267.0,287.5h.85M265.9,293.7h.85M289.0,294.4h.85M270.2,280.9h.85M278.4,285.5h.85M263.4,286.6h.85M280.1,290.5h.85M276.2,288.0h.85M280.6,288.2h.85M274.4,287.6h.85M252.5,286.5h.85M284.2,281.6h.85M256.8,291.0h.85M263.4,286.2h.85M287.3,290.2h.85M261.8,288.8h.85M276.3,292.8h.85M275.6,285.2h.85M266.0,293.2h.85M268.3,287.7h.85M268.8,287.2h.85M273.8,287.2h.85M284.0,282.9h.85M252.6,289.4h.85M256.9,282.0h.85M283.3,284.8h.85M284.3,283.0h.85M293.0,284.9h.85M256.1,286.3h.85M268.6,284.1h.85M264.7,282.9h.85M259.3,284.5h.85M271.1,288.6h.85M263.7,282.7h.85M282.5,284.5h.85M287.7,294.0h.85M274.1,287.4h.85M270.5,278.2h.85M283.6,282.5h.85M283.0,279.1h.85M275.9,289.6h.85M261.0,295.1h.85M269.2,288.9h.85M265.0,290.6h.85M258.6,280.6h.85M259.7,286.0h.85M263.8,286.5h.85M253.5,297.1h.85M283.3,280.5h.85M270.5,288.7h.85M257.0,287.2h.85M300.2,281.2h.85M256.4,290.9h.85M272.3,289.9h.85M288.8,286.9h.85M266.2,284.8h.85M267.6,286.5h.85M287.0,289.3h.85M266.5,288.6h.85M268.6,280.9h.85M260.8,285.1h.85M280.8,288.1h.85M249.1,281.3h.85M268.4,281.3h.85M282.2,288.4h.85M266.6,288.4h.85M269.9,288.4h.85M282.6,288.5h.85M262.5,280.4h.85M271.0,290.4h.85M273.3,290.7h.85M271.8,286.5h.85M275.2,290.3h.85M268.9,293.5h.85M272.5,287.8h.85M269.8,283.5h.85M276.4,291.4h.85M279.5,287.1h.85M285.8,278.0h.85M262.5,288.3h.85M270.0,286.3h.85M257.7,292.2h.85M262.0,282.9h.85M281.7,281.4h.85M276.3,291.1h.85M258.0,289.1h.85M273.5,290.0h.85M264.5,283.5h.85M282.0,287.1h.85M265.6,289.8h.85M276.8,293.8h.85M263.0,291.5h.85M265.0,290.1h.85M259.2,285.0h.85M274.9,282.9h.85M293.6,286.7h.85M261.9,292.7h.85M251.0,302.9h.85M271.6,290.6h.85M270.7,283.7h.85M262.9,291.8h.85M266.8,280.2h.85M270.1,279.3h.85M268.5,289.3h.85M279.4,284.1h.85M277.0,288.4h.85M256.8,294.8h.85M268.1,295.1h.85M279.0,289.6h.85M267.9,289.3h.85M258.0,290.1h.85M290.9,291.1h.85M257.7,286.1h.85M275.9,292.5h.85M250.8,299.7h.85M266.5,290.0h.85M261.2,284.8h.85M276.7,292.7h.85M273.7,291.6h.85M269.1,296.4h.85M257.2,280.3h.85M270.8,287.7h.85M270.4,286.8h.85M265.0,284.6h.85M274.2,291.4h.85M254.4,288.0h.85M267.8,284.2h.85M271.4,282.8h.85M268.9,293.4h.85M281.5,283.0h.85M278.1,287.4h.85M274.0,280.9h.85M277.5,280.0h.85M260.4,292.9h.85M288.7,289.3h.85M262.6,282.8h.85M291.8,285.3h.85M272.4,291.0h.85M280.3,288.0h.85M276.1,295.6h.85M282.8,285.2h.85M275.4,284.9h.85M275.1,291.3h.85M289.6,287.8h.85M272.2,285.7h.85M272.6,286.4h.85M278.4,288.4h.85M263.4,288.2h.85M278.8,282.4h.85M267.5,282.4h.85M286.1,281.4h.85M275.6,283.8h.85M257.0,289.0h.85M271.9,291.9h.85M276.6,281.8h.85M274.4,289.4h.85M265.1,288.4h.85M280.3,286.5h.85M268.6,292.8h.85M262.3,288.4h.85M276.8,291.0h.85M271.8,277.2h.85M287.6,288.0h.85M253.9,288.4h.85M253.8,291.7h.85M286.2,287.2h.85M268.5,283.0h.85M268.6,290.5h.85M263.7,293.0h.85M273.2,285.4h.85M270.5,286.4h.85M278.2,293.4h.85M279.9,286.3h.85M262.5,287.4h.85M279.2,282.0h.85M279.1,287.6h.85M267.4,285.6h.85M264.8,286.9h.85M267.2,281.4h.85M288.9,280.9h.85M278.6,286.2h.85M277.0,276.7h.85M274.3,292.5h.85M272.2,277.2h.85M281.7,279.7h.85M276.0,289.7h.85M263.9,280.0h.85M266.9,287.2h.85M270.6,289.8h.85M267.2,297.5h.85M263.9,295.9h.85M282.4,288.7h.85M281.2,291.3h.85M265.0,289.8h.85M274.5,294.7h.85M279.9,286.7h.85M252.7,292.0h.85M284.8,283.3h.85M273.5,286.9h.85M274.5,284.6h.85M270.0,275.4h.85M280.7,283.9h.85M255.7,286.4h.85M268.9,285.6h.85M281.7,290.7h.85M276.5,289.7h.85M278.4,289.7h.85M263.5,281.9h.85M281.6,289.8h.85M282.8,290.1h.85M263.5,286.3h.85M285.3,288.3h.85M273.4,283.1h.85M282.7,285.0h.85M276.0,289.5h.85M284.9,283.7h.85M270.8,289.0h.85M270.2,286.1h.85M277.8,287.7h.85M270.0,289.6h.85M273.4,285.8h.85M271.7,288.9h.85M265.9,293.4h.85M262.3,291.4h.85M291.8,278.1h.85M271.6,288.3h.85M269.0,288.1h.85M281.3,288.8h.85M259.8,286.0h.85M264.4,287.0h.85M264.8,285.0h.85M265.2,286.4h.85M276.0,287.6h.85M258.9,285.3h.85M264.8,290.4h.85M275.5,294.6h.85M269.7,288.4h.85M289.7,289.0h.85M247.8,293.8h.85M275.3,288.5h.85M271.6,292.2h.85M271.0,297.9h.85M263.4,287.8h.85M262.8,293.2h.85M282.6,288.5h.85M266.4,287.3h.85M280.0,288.6h.85M264.2,291.1h.85M271.9,283.6h.85M269.4,281.4h.85M276.5,288.1h.85M272.6,286.2h.85M266.4,292.1h.85M267.9,291.1h.85M263.1,282.2h.85M276.2,284.6h.85M282.7,293.2h.85M275.7,285.7h.85M281.7,285.3h.85M265.9,286.0h.85M264.4,290.9h.85M264.5,291.6h.85M281.4,285.1h.85M282.1,287.1h.85M278.2,281.4h.85M248.5,297.2h.85M276.4,281.8h.85M265.9,294.3h.85M272.0,286.2h.85M272.4,293.1h.85M270.6,294.1h.85M274.5,284.1h.85M278.5,289.2h.85M268.6,278.6h.85M258.5,288.0h.85M256.5,285.2h.85M281.0,287.3h.85M240.9,287.7h.85M249.6,293.3h.85M258.4,290.0h.85M269.7,292.0h.85M281.4,285.9h.85M277.9,280.2h.85M242.8,296.1h.85M261.9,295.4h.85M259.1,285.0h.85M279.1,280.5h.85M280.0,286.0h.85M282.5,289.4h.85M266.5,287.3h.85M252.7,292.9h.85M277.4,288.2h.85M268.0,289.5h.85M284.6,292.1h.85M272.0,287.3h.85M270.0,291.2h.85M276.0,285.4h.85M267.3,290.3h.85M286.2,282.7h.85M277.3,288.6h.85M275.2,283.4h.85M272.8,291.4h.85M261.4,287.9h.85M272.0,287.0h.85M288.2,288.7h.85M263.8,286.6h.85M268.8,282.0h.85M261.2,293.0h.85M260.3,283.5h.85M276.4,285.2h.85M279.5,289.0h.85M271.0,282.5h.85M278.5,286.5h.85M284.7,285.5h.85M272.6,283.6h.85M268.2,286.5h.85M264.8,284.9h.85M260.1,288.6h.85M276.6,286.4h.85M286.8,293.3h.85M278.9,294.0h.85M279.5,288.2h.85M274.3,284.0h.85M268.7,282.9h.85M269.0,286.4h.85M262.1,291.4h.85M288.4,283.7h.85M267.8,291.5h.85M276.2,289.9h.85M274.6,296.1h.85M262.8,291.5h.85M273.9,285.8h.85M283.7,284.6h.85M283.4,292.5h.85M295.2,282.2h.85M276.4,280.3h.85M275.5,295.8h.85M279.3,279.3h.85M260.3,288.7h.85M258.0,288.4h.85M268.6,291.2h.85M265.8,285.9h.85M271.9,287.5h.85M277.8,285.3h.85M269.1,285.3h.85M266.0,287.0h.85M267.1,293.3h.85M252.6,289.3h.85M275.2,283.2h.85M262.9,295.4h.85M250.5,293.6h.85M277.0,294.7h.85M294.2,294.1h.85M286.4,279.1h.85M283.1,283.7h.85M262.1,282.1h.85M263.7,280.7h.85M246.9,291.5h.85M255.7,290.4h.85M266.9,283.5h.85M276.9,282.3h.85M277.5,288.4h.85M259.8,290.4h.85M257.3,298.2h.85M290.7,282.4h.85M266.4,290.0h.85M269.9,281.3h.85M272.1,285.6h.85M260.0,299.8h.85M272.9,285.6h.85M259.2,289.8h.85M269.2,286.8h.85M270.2,292.1h.85M292.8,283.8h.85M262.7,283.0h.85M256.4,285.1h.85M265.5,298.9h.85M278.3,277.5h.85M276.3,290.0h.85M271.1,297.1h.85M260.3,293.0h.85M264.4,289.8h.85M259.6,287.0h.85M276.2,284.9h.85M277.9,282.7h.85M281.9,282.9h.85M281.8,280.2h.85M258.6,283.0h.85M286.4,286.9h.85M279.6,289.2h.85M284.7,280.8h.85M274.7,289.8h.85M278.4,287.1h.85M272.2,296.2h.85M271.3,281.7h.85M285.5,281.0h.85M267.9,286.9h.85M260.6,291.0h.85M270.4,289.4h.85M264.9,283.4h.85M271.8,290.5h.85M284.6,286.9h.85M285.9,285.6h.85M246.4,289.4h.85M261.2,289.1h.85M263.0,288.1h.85M268.8,283.2h.85M292.6,286.7h.85M267.6,289.1h.85M279.4,288.0h.85M272.3,286.0h.85M265.6,282.3h.85M279.8,282.9h.85M267.0,286.2h.85M283.0,286.7h.85M288.2,298.3h.85M281.8,290.6h.85M276.0,284.2h.85M267.1,285.2h.85M271.8,279.5h.85M269.7,283.5h.85M282.9,287.5h.85M272.2,291.7h.85M256.8,292.7h.85M271.8,282.5h.85M272.3,295.8h.85M275.7,287.8h.85M274.5,288.2h.85M274.0,287.5h.85M280.7,288.4h.85M255.8,294.5h.85M266.2,295.7h.85M277.6,286.0h.85M256.6,285.1h.85M278.9,293.8h.85M277.3,278.2h.85M282.3,286.7h.85M281.0,278.4h.85M269.0,286.5h.85M268.0,290.2h.85M276.1,292.4h.85M268.7,282.6h.85M278.3,282.8h.85M271.6,287.8h.85M263.9,280.9h.85M268.4,290.8h.85M278.0,290.1h.85M269.0,284.6h.85M254.2,286.0h.85M295.4,284.2h.85M261.6,283.7h.85M265.2,283.7h.85M278.6,283.6h.85M290.9,291.9h.85M268.4,294.0h.85M277.8,283.3h.85M268.9,286.4h.85M275.4,283.0h.85M283.3,287.5h.85M265.6,280.4h.85M262.0,290.0h.85M274.5,292.5h.85M257.6,284.1h.85M275.5,287.8h.85M281.0,288.9h.85M271.3,284.3h.85M275.1,281.2h.85M277.7,281.3h.85M287.2,286.7h.85M276.3,289.8h.85M264.2,289.4h.85M284.3,291.9h.85M282.4,279.6h.85M279.6,295.5h.85M278.1,285.9h.85M278.0,285.2h.85M282.7,283.7h.85M266.9,286.9h.85M276.3,297.0h.85M267.5,297.5h.85M271.0,287.3h.85M289.9,288.7h.85M284.8,292.4h.85M271.1,288.5h.85M276.8,286.2h.85M278.0,294.6h.85M272.0,287.8h.85M271.0,287.1h.85M263.0,282.9h.85M277.5,290.1h.85M281.4,287.0h.85M271.2,300.6h.85M289.6,284.9h.85M262.6,283.3h.85M263.4,282.9h.85M268.4,286.0h.85M280.9,292.7h.85M268.8,284.7h.85M265.1,291.8h.85M283.1,286.6h.85M271.8,289.2h.85M260.3,290.2h.85M266.2,289.5h.85M273.3,281.4h.85M270.8,281.2h.85M285.8,284.9h.85M272.7,284.9h.85M275.3,284.5h.85M265.7,282.4h.85M263.7,290.1h.85M277.9,280.8h.85M277.9,287.9h.85M279.0,277.4h.85M263.0,288.4h.85M297.4,281.7h.85M268.7,281.9h.85M282.5,293.3h.85M268.7,291.4h.85M267.1,277.4h.85M298.1,285.4h.85M269.4,283.7h.85M266.1,286.9h.85M278.4,285.0h.85M280.1,287.7h.85M260.5,284.8h.85M272.9,278.6h.85M285.7,281.6h.85M295.7,284.7h.85M262.3,292.3h.85M290.3,286.8h.85M279.4,278.7h.85M268.9,291.9h.85M273.3,287.9h.85M273.1,292.3h.85M276.8,288.8h.85M267.3,292.1h.85M278.6,285.8h.85M273.8,286.5h.85M266.2,288.4h.85M263.9,290.0h.85M275.7,284.2h.85M263.8,288.8h.85M270.7,289.1h.85M268.3,282.7h.85M265.6,286.8h.85M269.2,284.4h.85M253.9,293.0h.85M268.8,289.0h.85M259.3,283.0h.85M260.4,291.2h.85M274.3,283.3h.85M278.2,288.2h.85M267.2,286.9h.85M277.9,286.8h.85M288.6,281.1h.85M272.5,285.8h.85M264.0,287.5h.85M277.5,287.3h.85M269.3,289.2h.85M278.5,292.4h.85M271.5,282.3h.85M273.9,286.2h.85M269.9,287.1h.85M293.2,280.4h.85M274.5,282.2h.85M260.4,290.1h.85M269.6,282.6h.85M266.8,285.1h.85M293.3,296.4h.85M278.4,292.1h.85M255.6,283.5h.85M270.9,286.4h.85M289.6,292.5h.85M277.3,288.9h.85M290.2,285.1h.85M268.7,291.7h.85M278.8,285.1h.85M283.0,286.0h.85M275.5,281.5h.85M263.6,294.4h.85M268.2,295.1h.85M287.2,281.4h.85M280.4,285.3h.85M269.5,289.2h.85M255.9,285.5h.85M263.8,288.9h.85M277.5,285.4h.85M285.1,284.8h.85M284.1,285.4h.85M252.4,288.1h.85M263.6,288.2h.85M249.3,291.2h.85M268.9,288.6h.85M270.4,292.5h.85M272.3,283.3h.85M263.2,284.9h.85M262.4,280.2h.85M274.5,292.6h.85M284.2,283.1h.85M280.9,282.8h.85M274.6,294.0h.85M251.7,292.1h.85M260.0,281.5h.85M279.8,283.3h.85M262.7,289.6h.85M271.4,281.1h.85M273.2,286.3h.85M277.8,285.0h.85M281.4,285.4h.85M259.1,288.7h.85M277.8,290.2h.85M274.6,291.0h.85M265.4,284.4h.85M260.0,288.6h.85M277.3,292.4h.85M261.4,287.3h.85M265.6,289.8h.85M266.1,289.3h.85M293.7,287.2h.85M259.6,290.8h.85M283.9,287.8h.85M278.4,287.5h.85M268.2,289.1h.85M273.9,280.3h.85M279.0,289.1h.85M258.4,295.1h.85M268.1,289.0h.85M260.1,288.0h.85M269.9,285.4h.85M275.2,288.0h.85M282.1,287.8h.85M275.3,290.9h.85M250.2,290.2h.85M267.6,292.2h.85M259.4,286.5h.85M267.6,290.3h.85M267.5,294.3h.85M280.4,281.9h.85M265.1,292.7h.85M251.8,292.7h.85M263.7,277.8h.85M267.0,286.4h.85M257.4,290.2h.85M270.8,292.3h.85M278.7,289.8h.85M275.9,289.4h.85M260.1,286.2h.85M269.4,282.0h.85M265.3,276.7h.85M278.3,281.9h.85M257.6,295.8h.85M280.5,293.2h.85M280.9,286.3h.85M279.7,291.5h.85M277.6,286.8h.85M272.7,284.4h.85M257.9,282.5h.85M281.9,288.0h.85M279.4,291.3h.85M274.7,286.8h.85M264.7,299.1h.85M260.2,285.4h.85M278.3,283.0h.85M274.4,300.6h.85M262.3,293.5h.85M275.5,294.4h.85M295.4,279.1h.85M266.7,281.2h.85M282.8,293.7h.85M272.1,283.8h.85M261.0,294.8h.85M286.5,286.9h.85M262.1,281.3h.85M271.7,295.5h.85M264.2,284.4h.85M280.5,285.9h.85M290.2,293.2h.85M272.0,280.8h.85M277.1,285.5h.85M279.4,289.8h.85M264.6,287.7h.85M269.3,288.0h.85M279.0,288.8h.85M280.7,282.8h.85M278.6,288.7h.85M288.2,286.9h.85M282.4,291.2h.85M255.7,291.5h.85M259.0,285.3h.85M271.8,291.4h.85M270.6,285.5h.85M274.5,285.2h.85M284.6,293.6h.85M265.7,281.4h.85M268.9,284.4h.85M269.7,291.4h.85M266.8,296.9h.85M281.3,283.3h.85M274.1,284.9h.85M281.5,289.3h.85M274.5,278.3h.85M272.4,279.2h.85M280.7,287.5h.85M269.7,287.0h.85M273.5,289.7h.85M256.7,289.1h.85M288.1,283.4h.85M276.3,285.2h.85M280.3,284.0h.85M268.5,284.1h.85M276.9,292.0h.85M266.7,285.9h.85M276.7,288.0h.85M265.6,280.7h.85M272.4,291.5h.85M267.8,291.4h.85M283.7,290.4h.85M273.5,285.1h.85M280.0,283.7h.85M278.0,291.0h.85M258.2,291.5h.85M266.5,286.0h.85M268.9,281.0h.85M264.1,289.3h.85M271.4,288.1h.85M264.6,285.1h.85M262.4,291.6h.85M268.6,290.7h.85M265.8,288.6h.85M264.8,283.9h.85M270.6,286.3h.85M272.7,285.5h.85M272.1,289.2h.85M271.0,289.7h.85M279.5,281.3h.85M263.6,282.0h.85M275.7,281.5h.85M269.2,284.6h.85M262.9,280.3h.85M259.3,287.5h.85M275.9,288.1h.85M274.6,285.9h.85M261.7,282.4h.85M282.6,294.0h.85M269.9,294.3h.85M281.0,286.9h.85M279.5,290.3h.85M265.8,289.7h.85M267.0,292.2h.85M289.0,284.3h.85M280.5,282.1h.85M288.3,286.1h.85M285.8,286.2h.85M278.4,292.1h.85M269.6,292.3h.85M255.1,289.9h.85M272.7,285.4h.85M271.9,295.0h.85M257.3,289.3h.85M282.1,289.2h.85M270.5,289.3h.85M270.2,288.0h.85M271.2,292.3h.85M274.5,295.9h.85M259.7,289.9h.85M274.8,293.8h.85M266.4,289.9h.85M274.4,289.5h.85M267.6,283.1h.85M264.7,296.7h.85M276.6,291.0h.85M274.9,281.9h.85M281.4,290.1h.85M261.2,290.4h.85M291.3,286.1h.85M265.6,288.1h.85M264.4,284.7h.85M278.2,281.4h.85M268.8,293.5h.85M264.7,289.7h.85M269.7,285.9h.85M273.8,279.4h.85M280.7,282.1h.85M279.6,284.5h.85M281.8,289.3h.85M281.7,281.8h.85M267.2,290.3h.85M270.9,282.2h.85M278.6,291.7h.85M254.3,288.0h.85M251.9,292.0h.85M260.0,276.7h.85M269.3,291.3h.85M283.8,289.6h.85M259.0,289.8h.85M274.9,283.5h.85M281.5,292.6h.85M264.3,294.1h.85M266.7,281.2h.85M264.3,287.8h.85M253.3,290.6h.85M264.9,289.4h.85M267.5,283.6h.85M267.9,291.5h.85M276.7,295.3h.85M261.4,296.4h.85M268.9,286.4h.85M258.1,279.6h.85M288.5,284.0h.85M260.2,291.4h.85M288.9,280.9h.85M280.2,289.9h.85M272.8,284.1h.85M269.1,283.8h.85M269.3,284.6h.85M262.0,289.0h.85M271.1,287.6h.85M265.7,292.0h.85M285.3,287.6h.85M278.0,284.5h.85M277.9,280.7h.85M284.4,278.4h.85M270.8,284.1h.85M271.2,286.7h.85M258.0,292.0h.85M259.3,286.7h.85M288.0,282.4h.85M263.3,287.7h.85M278.0,289.5h.85M268.0,288.0h.85M261.1,287.2h.85M276.2,291.4h.85M278.2,289.8h.85M273.0,289.3h.85M283.9,286.7h.85M272.9,288.4h.85M273.9,292.1h.85M274.9,287.6h.85M278.8,295.6h.85M274.9,286.6h.85M281.3,284.5h.85M267.6,292.0h.85M258.1,287.6h.85M267.3,285.3h.85M285.7,282.9h.85M264.6,279.5h.85M264.9,287.7h.85M273.8,293.2h.85M260.8,291.2h.85M266.6,289.3h.85M274.4,292.1h.85M275.3,284.5h.85M264.0,291.1h.85M279.5,296.7h.85M263.5,283.7h.85M261.6,294.5h.85M269.5,281.2h.85M272.9,289.1h.85M269.1,287.5h.85M278.1,287.4h.85M261.4,284.1h.85M271.4,287.9h.85M293.9,284.1h.85M278.6,283.5h.85M277.2,287.1h.85M282.7,280.7h.85M274.0,290.7h.85M262.0,286.7h.85M267.9,289.2h.85M272.0,283.2h.85M276.1,277.8h.85M274.7,288.9h.85M264.7,287.6h.85M259.1,286.9h.85M267.6,286.8h.85M265.6,287.4h.85M265.2,280.2h.85M272.3,283.6h.85M265.3,282.7h.85M279.0,292.1h.85M277.6,281.9h.85M289.5,302.6h.85M271.7,280.7h.85M277.2,290.7h.85M270.0,295.1h.85M284.4,283.2h.85M270.3,289.2h.85M271.5,293.4h.85M272.5,290.3h.85M276.5,290.1h.85M265.9,288.3h.85M276.6,284.1h.85M270.5,288.5h.85M276.3,283.1h.85M290.0,286.0h.85M260.5,290.6h.85M274.3,289.9h.85M290.1,293.1h.85M262.9,284.1h.85M260.3,286.8h.85M269.9,287.6h.85M254.4,282.1h.85M255.1,291.2h.85M269.4,289.7h.85M281.5,286.2h.85M267.5,291.8h.85M271.7,280.7h.85M272.7,291.5h.85M264.6,292.9h.85M258.5,291.0h.85M267.6,279.6h.85M269.6,286.5h.85M264.7,288.5h.85M267.9,285.8h.85M280.8,290.1h.85M275.4,280.1h.85M268.9,285.3h.85M278.5,286.0h.85M284.1,285.8h.85M273.5,280.7h.85M264.3,287.0h.85M266.3,289.8h.85M264.1,289.6h.85M274.8,285.2h.85M286.9,286.4h.85M271.4,286.2h.85M266.5,286.9h.85M263.5,284.7h.85M290.0,285.5h.85M262.3,287.0h.85M282.9,291.1h.85M287.9,293.9h.85M267.2,281.8h.85M267.6,286.5h.85M276.4,291.0h.85M277.8,289.7h.85M266.3,286.4h.85M272.4,286.8h.85M270.1,288.2h.85M264.9,282.5h.85M281.3,285.6h.85M268.1,285.9h.85M270.1,292.5h.85M269.0,296.3h.85M283.9,286.1h.85M281.1,283.4h.85M274.0,285.0h.85M267.6,294.8h.85M271.4,288.3h.85M258.8,294.2h.85M269.5,286.7h.85M270.0,287.4h.85M261.8,289.4h.85M275.2,283.0h.85M287.5,285.7h.85M279.8,289.6h.85M272.3,287.5h.85M271.6,283.4h.85M261.3,288.5h.85M275.5,285.6h.85M261.7,290.2h.85M272.9,282.8h.85M270.9,282.2h.85M260.0,277.0h.85M272.9,283.9h.85M270.1,286.3h.85M279.4,284.0h.85M262.8,287.8h.85M280.4,282.0h.85M274.7,292.1h.85M276.9,279.9h.85M274.8,289.2h.85M262.2,286.7h.85M269.3,288.7h.85M284.0,287.4h.85M263.8,296.0h.85M283.6,289.2h.85M269.8,287.8h.85M286.1,286.7h.85M273.3,278.4h.85M270.1,291.7h.85M281.1,294.0h.85M282.0,287.1h.85M265.7,290.5h.85M275.3,296.5h.85M252.4,284.6h.85M271.8,292.0h.85M288.3,280.9h.85M273.8,279.7h.85M265.4,294.3h.85M271.9,284.9h.85M271.7,290.8h.85M292.0,284.5h.85M277.3,288.1h.85M278.6,285.2h.85M285.6,288.9h.85M276.0,280.8h.85M263.0,293.0h.85M271.1,288.2h.85M271.4,291.2h.85M271.1,294.3h.85M275.2,292.9h.85M266.6,298.8h.85M259.4,290.5h.85M270.4,289.4h.85M277.5,280.9h.85M279.4,288.3h.85M279.2,286.8h.85M274.7,288.9h.85M280.6,287.8h.85M285.5,278.1h.85M270.0,281.2h.85M268.7,280.5h.85M264.2,288.2h.85M257.3,284.6h.85M278.2,287.0h.85M276.8,291.8h.85M269.6,292.3h.85M284.3,284.4h.85M262.3,279.0h.85M266.3,295.3h.85M270.9,286.4h.85M264.9,293.8h.85M272.3,286.3h.85M260.7,279.4h.85M303.0,286.5h.85M282.3,291.7h.85M273.3,289.4h.85M266.5,282.4h.85M272.4,288.4h.85M287.1,285.5h.85M265.6,281.5h.85M258.0,283.1h.85M266.0,290.9h.85M273.7,289.9h.85M263.9,286.9h.85M266.0,286.2h.85M274.3,284.7h.85M264.4,293.1h.85M270.8,283.1h.85M268.8,286.3h.85M275.2,280.0h.85M274.2,290.2h.85M268.8,292.5h.85M263.0,289.8h.85M281.7,290.1h.85M270.3,291.4h.85M283.5,291.5h.85M278.9,290.8h.85M276.4,284.0h.85M252.8,291.5h.85M270.3,291.5h.85M262.3,294.8h.85M271.7,285.9h.85M275.4,282.3h.85M273.8,281.4h.85M273.6,287.7h.85M280.0,282.5h.85M267.4,284.9h.85M281.2,290.9h.85M262.5,283.6h.85M263.3,288.0h.85M290.6,284.9h.85M268.4,289.2h.85M267.9,287.9h.85M257.8,287.0h.85M264.9,284.7h.85M293.9,284.8h.85M273.1,281.7h.85M276.3,287.4h.85M284.0,277.2h.85M285.2,289.5h.85M273.6,287.8h.85M269.0,289.1h.85M273.4,284.5h.85M267.1,284.4h.85M268.7,291.5h.85M275.4,288.1h.85M272.3,279.0h.85M294.3,286.0h.85M279.2,278.3h.85M255.8,284.5h.85M271.9,288.8h.85M254.7,289.0h.85M287.9,284.3h.85M273.8,280.8h.85M271.8,284.9h.85M277.8,296.2h.85M258.8,284.4h.85M284.6,283.6h.85M271.6,291.5h.85M281.2,292.9h.85M292.1,283.0h.85M268.0,284.2h.85M270.0,296.5h.85M271.7,288.8h.85M269.3,289.8h.85M266.6,287.1h.85M270.3,291.1h.85M252.4,296.0h.85M263.2,288.4h.85M271.4,294.0h.85M283.2,286.0h.85M272.0,289.8h.85M266.5,288.7h.85M255.3,295.0h.85M263.1,296.4h.85M267.7,291.8h.85M275.1,295.3h.85M260.7,286.9h.85M268.3,290.9h.85M282.1,283.5h.85M277.8,284.0h.85M277.4,281.1h.85M276.6,285.8h.85M272.9,282.8h.85M266.6,283.3h.85M272.1,292.2h.85M289.9,282.9h.85M262.8,289.1h.85M264.6,296.0h.85M268.4,289.2h.85M272.0,285.8h.85M294.4,287.6h.85M269.8,290.1h.85M266.8,293.5h.85M256.4,287.7h.85M265.2,289.4h.85M277.2,286.4h.85M280.3,286.9h.85M275.2,289.4h.85M257.7,293.0h.85M269.7,292.2h.85M288.0,283.4h.85M277.3,284.9h.85M287.3,289.5h.85M271.0,290.3h.85M279.2,277.9h.85M265.6,278.2h.85M260.8,286.7h.85M266.0,286.2h.85M276.0,280.9h.85M269.4,295.2h.85M273.0,290.7h.85M260.7,283.9h.85M278.0,287.7h.85M268.5,291.7h.85M281.5,289.3h.85M261.4,285.0h.85M285.9,281.0h.85M275.0,288.4h.85M277.9,284.0h.85M271.8,277.4h.85M274.0,288.4h.85M255.7,289.4h.85M274.1,283.2h.85M264.5,291.8h.85M274.1,294.1h.85M273.2,285.8h.85M269.2,283.2h.85M273.0,292.3h.85M283.4,279.1h.85M288.8,285.5h.85M267.3,291.9h.85M290.4,287.0h.85M275.9,300.0h.85M263.8,287.8h.85M254.0,287.3h.85M263.1,287.2h.85M274.7,290.3h.85M267.3,288.2h.85M265.4,287.9h.85M274.3,281.2h.85M284.3,284.6h.85M257.6,280.4h.85M261.0,287.8h.85M266.4,285.0h.85M269.8,290.6h.85M262.7,283.1h.85M269.3,285.9h.85M273.2,288.6h.85M267.2,279.8h.85M275.2,286.0h.85M270.2,294.3h.85M274.9,284.5h.85M263.0,287.8h.85M277.2,288.3h.85M280.6,289.6h.85M286.0,284.0h.85M272.4,294.3h.85M262.6,295.3h.85M277.5,277.9h.85M262.3,286.6h.85M276.2,286.7h.85M261.5,288.7h.85M269.0,287.4h.85M286.0,279.2h.85M280.5,288.2h.85M273.8,285.7h.85M291.2,291.7h.85M262.4,288.7h.85M286.1,291.8h.85M280.3,285.1h.85M259.4,288.0h.85M264.9,288.9h.85M273.8,291.9h.85M275.1,290.2h.85M267.3,287.1h.85M270.0,291.4h.85M281.0,281.6h.85M263.7,282.7h.85M274.3,291.0h.85M277.8,286.8h.85M258.9,286.7h.85M285.3,284.8h.85M271.4,287.8h.85M257.8,288.5h.85M275.3,283.7h.85M266.6,284.0h.85M262.7,291.4h.85M271.7,287.9h.85M263.0,285.6h.85M261.8,291.6h.85M279.8,288.7h.85M271.7,283.3h.85M275.3,281.9h.85M278.0,288.6h.85M266.0,293.5h.85M271.9,286.3h.85M269.3,290.5h.85M265.3,292.8h.85M282.3,281.9h.85M279.3,293.4h.85M259.5,291.9h.85M273.1,289.6h.85M281.2,281.5h.85M282.9,285.4h.85M271.7,296.3h.85M293.7,282.2h.85M250.1,296.7h.85M269.6,288.4h.85M289.0,283.0h.85M288.8,289.0h.85M303.4,281.4h.85M286.2,297.5h.85M288.2,286.1h.85M289.0,291.4h.85M291.6,287.1h.85M288.0,283.0h.85M286.1,283.2h.85M292.6,286.9h.85M294.5,285.9h.85M286.7,282.1h.85M284.7,288.4h.85M290.8,285.5h.85M291.7,282.0h.85M282.2,283.7h.85M290.5,287.3h.85M289.2,281.9h.85M285.0,284.8h.85M290.0,280.2h.85M289.9,290.4h.85M291.4,285.7h.85M282.8,278.2h.85M283.0,280.7h.85M284.6,286.3h.85M296.3,284.1h.85M294.0,277.1h.85M294.9,284.6h.85M290.7,291.1h.85M279.8,289.7h.85M283.9,287.3h.85M284.8,281.0h.85M288.4,280.3h.85M293.0,280.1h.85M284.7,280.2h.85M292.3,289.9h.85M295.2,274.2h.85M296.1,283.6h.85M291.5,284.7h.85M291.3,279.6h.85M291.1,285.2h.85M296.5,278.9h.85M291.9,278.2h.85M295.8,288.0h.85M286.5,286.8h.85M286.7,285.9h.85M291.8,289.9h.85M295.8,287.7h.85M283.6,284.7h.85M292.3,282.7h.85M295.5,288.8h.85M289.2,286.7h.85M278.6,284.0h.85M294.5,286.3h.85M297.8,282.0h.85M290.4,282.5h.85M288.9,280.3h.85M276.3,284.1h.85M297.2,289.7h.85M292.5,280.0h.85M280.6,282.3h.85M283.1,284.3h.85M286.6,287.7h.85M285.5,281.3h.85M293.8,280.2h.85M292.4,283.0h.85M290.8,279.7h.85M292.7,281.4h.85M289.7,282.7h.85M285.1,283.1h.85M284.4,286.6h.85M296.3,284.3h.85M286.0,291.0h.85M286.7,283.3h.85M289.9,280.1h.85M295.7,281.9h.85M289.4,282.1h.85M294.5,280.7h.85M285.9,285.8h.85M283.6,289.8h.85M296.1,282.3h.85M289.0,282.7h.85M293.7,288.8h.85M298.1,283.7h.85M290.5,284.7h.85M283.4,285.6h.85M287.0,278.7h.85M291.7,284.0h.85M285.9,283.1h.85M289.5,287.8h.85M286.7,289.4h.85M288.4,282.0h.85M288.6,282.5h.85M286.8,283.9h.85M286.3,279.1h.85M299.8,281.1h.85M285.8,279.2h.85M292.4,287.2h.85M297.1,282.4h.85M293.9,285.9h.85M287.5,286.0h.85M297.3,277.4h.85M291.8,281.9h.85M300.4,284.5h.85M297.3,287.3h.85M294.4,286.6h.85M288.5,284.4h.85M291.9,285.3h.85M287.1,287.1h.85M285.5,279.8h.85M284.5,285.3h.85M288.8,290.1h.85M294.5,280.9h.85M286.3,289.7h.85M296.0,284.1h.85M284.1,285.1h.85M282.1,286.5h.85M283.2,284.8h.85M281.3,290.2h.85M287.9,288.5h.85M287.6,281.7h.85M287.9,286.2h.85M288.3,284.8h.85M290.0,289.8h.85M281.3,283.9h.85M296.1,291.8h.85M286.1,286.2h.85M290.1,291.2h.85M286.4,281.1h.85M289.3,282.1h.85M297.8,288.3h.85M288.0,281.0h.85M293.0,281.0h.85M294.2,277.3h.85M294.5,283.5h.85M285.1,286.5h.85M288.4,286.5h.85M290.1,279.8h.85M285.9,283.3h.85M287.0,282.2h.85M294.9,290.3h.85M297.9,282.5h.85M289.3,277.9h.85M279.9,292.2h.85M283.3,285.8h.85M292.3,278.8h.85M281.0,291.3h.85M295.3,277.6h.85M297.9,279.1h.85M286.3,283.3h.85M290.6,283.8h.85M290.3,287.3h.85M286.3,297.2h.85M278.5,287.9h.85M286.9,284.6h.85M288.8,281.2h.85M285.8,293.9h.85M296.0,285.3h.85M291.0,293.5h.85M292.7,279.2h.85M290.4,289.0h.85M295.9,282.2h.85M289.4,286.9h.85M284.4,286.6h.85M294.7,286.6h.85M287.9,287.1h.85M286.6,288.6h.85M291.5,281.6h.85M291.1,282.9h.85M293.9,283.9h.85M289.1,288.0h.85M298.0,288.3h.85M290.4,281.7h.85M293.9,282.4h.85M293.2,281.2h.85M289.9,284.8h.85M293.6,280.0h.85M296.3,282.1h.85M291.2,287.9h.85M297.3,288.2h.85M290.2,281.9h.85M290.1,286.7h.85M296.8,294.5h.85M293.0,281.6h.85M289.0,288.4h.85M290.4,286.8h.85M286.2,288.3h.85M285.6,277.9h.85M292.5,283.5h.85M296.3,278.4h.85M294.1,285.5h.85M291.8,280.8h.85M282.1,294.8h.85M300.3,286.2h.85M289.0,280.8h.85M291.8,284.1h.85M294.4,284.1h.85M288.6,288.4h.85M283.7,286.9h.85M286.9,290.7h.85M295.9,289.1h.85M292.3,280.2h.85M293.0,288.9h.85M282.9,285.7h.85M292.0,279.8h.85M278.5,284.0h.85M300.1,287.0h.85M287.0,283.6h.85M286.2,288.9h.85M278.1,289.0h.85M290.6,284.0h.85M290.0,287.5h.85M296.9,286.0h.85M290.2,288.2h.85M297.1,277.5h.85M281.3,289.3h.85M284.6,278.1h.85M290.9,286.2h.85M287.2,282.1h.85M288.4,286.8h.85M296.7,288.6h.85M291.7,286.6h.85M295.6,287.0h.85M285.5,277.6h.85M290.2,284.7h.85M286.5,279.3h.85M291.2,279.9h.85M287.1,281.6h.85M289.4,288.3h.85M289.2,281.3h.85M298.4,280.1h.85M285.8,292.3h.85M287.3,288.0h.85M284.0,283.7h.85M290.4,288.6h.85M291.0,285.0h.85M281.9,286.5h.85M293.4,286.7h.85M292.4,283.3h.85M287.6,290.1h.85M290.2,292.4h.85M294.7,288.3h.85M296.9,285.1h.85M290.4,275.9h.85M283.5,284.3h.85M277.7,289.4h.85M297.0,281.1h.85M289.1,286.1h.85M287.9,284.7h.85M293.6,282.3h.85M280.2,292.4h.85M289.5,286.1h.85M295.3,290.2h.85M292.4,278.9h.85M292.5,290.5h.85M296.5,287.9h.85M292.1,283.3h.85M293.2,280.8h.85M294.9,283.6h.85M275.5,284.3h.85M287.1,281.0h.85M294.7,284.9h.85M293.3,282.0h.85M291.5,280.2h.85M289.6,279.7h.85M298.9,287.2h.85M294.6,283.9h.85M277.7,293.3h.85M291.8,284.1h.85M282.5,279.9h.85M292.5,288.2h.85M291.1,279.7h.85M294.6,282.0h.85M282.0,287.6h.85M290.1,292.3h.85M291.8,288.6h.85M278.1,287.8h.85M293.2,280.3h.85M283.9,289.7h.85M290.8,278.8h.85M285.3,286.9h.85M299.5,286.2h.85M290.9,287.9h.85M289.8,286.7h.85M298.2,288.8h.85M294.7,283.8h.85M290.2,289.2h.85M288.8,276.8h.85M283.1,288.1h.85M293.9,287.1h.85M287.3,287.4h.85M298.5,278.8h.85M288.5,286.9h.85M286.3,292.4h.85M290.9,289.7h.85M293.0,283.9h.85M291.0,294.4h.85M290.7,290.0h.85M289.5,293.4h.85M284.3,287.3h.85M292.4,284.0h.85M283.4,282.8h.85M291.5,290.4h.85M287.2,285.3h.85M291.6,291.8h.85M284.5,281.4h.85M283.2,284.0h.85M282.4,283.6h.85M289.3,280.8h.85M287.3,280.8h.85M286.1,291.6h.85M292.6,288.9h.85M293.9,287.1h.85M287.9,286.0h.85M289.3,287.5h.85M297.2,281.7h.85M291.0,287.0h.85M297.3,279.4h.85M284.5,289.8h.85M297.6,286.2h.85M296.0,285.9h.85M293.8,285.1h.85M289.5,283.3h.85M291.3,287.6h.85M283.3,276.2h.85M288.6,282.0h.85M290.8,290.6h.85M283.0,282.6h.85M295.4,288.9h.85M297.9,289.5h.85M285.9,281.0h.85M296.7,283.2h.85M278.8,283.2h.85M292.1,291.0h.85M298.2,278.8h.85M289.6,283.5h.85M295.0,287.8h.85M290.7,288.3h.85M291.3,280.1h.85M286.9,283.2h.85M296.2,293.7h.85M287.0,277.7h.85M280.4,285.8h.85M283.9,280.1h.85M291.3,284.2h.85M287.1,284.0h.85M291.1,282.8h.85M286.0,290.6h.85M290.8,277.7h.85M301.5,281.0h.85M297.8,286.3h.85M285.8,280.8h.85M292.6,285.2h.85M282.5,292.9h.85M298.2,286.1h.85M299.4,284.3h.85M290.1,292.2h.85M296.5,282.3h.85M295.9,280.6h.85M291.0,281.8h.85M294.0,277.6h.85M295.9,286.6h.85M291.2,282.1h.85M288.8,282.6h.85M282.2,288.0h.85M298.6,285.2h.85M290.4,295.8h.85M293.7,281.7h.85M291.6,291.3h.85M296.3,282.8h.85M287.0,285.1h.85M290.9,282.4h.85M291.6,289.4h.85M290.0,283.7h.85M290.8,286.7h.85M294.4,283.8h.85M288.7,289.9h.85M287.8,282.7h.85M284.4,289.8h.85M286.4,291.7h.85M294.1,284.5h.85M291.4,284.1h.85M289.8,282.4h.85M292.1,290.1h.85M283.4,286.8h.85M289.4,286.2h.85M288.9,285.6h.85M290.6,285.6h.85M296.5,284.0h.85M295.7,284.0h.85M292.6,288.6h.85M291.7,285.1h.85M288.1,290.4h.85M294.1,290.9h.85M289.6,279.7h.85M289.8,291.0h.85M281.0,282.0h.85M291.5,286.1h.85M292.4,286.6h.85M292.3,282.7h.85M295.6,280.2h.85M286.0,292.4h.85M291.3,285.7h.85M284.3,285.2h.85M292.4,283.9h.85M279.2,279.5h.85M289.2,284.1h.85M298.2,284.0h.85M283.0,286.7h.85M284.4,290.9h.85M286.5,280.7h.85M290.4,289.8h.85M294.0,290.1h.85M291.8,284.2h.85M287.7,280.6h.85M281.0,282.7h.85M299.8,279.3h.85M295.5,287.5h.85M292.0,288.9h.85M287.4,283.2h.85M290.9,289.5h.85M292.8,284.8h.85M281.3,286.2h.85M292.4,279.9h.85M290.9,291.2h.85M287.8,286.0h.85M289.5,279.8h.85M282.1,286.5h.85M293.6,288.8h.85M291.4,276.8h.85M288.8,285.9h.85M285.1,290.8h.85M300.1,280.0h.85M286.3,287.0h.85M289.4,291.8h.85M281.0,282.2h.85M297.5,284.9h.85M285.8,279.0h.85M293.1,283.3h.85M290.1,284.3h.85M291.5,283.9h.85M289.8,285.8h.85M296.6,283.8h.85M299.3,287.2h.85M290.7,280.3h.85M284.6,278.0h.85M296.4,293.4h.85M287.2,285.2h.85M294.4,288.6h.85M296.1,280.3h.85M288.4,285.4h.85M286.5,291.5h.85M282.6,280.5h.85M288.1,285.7h.85M284.3,288.9h.85M293.6,286.1h.85M292.6,285.7h.85M285.6,288.7h.85M289.4,281.7h.85M293.7,285.4h.85M286.9,281.4h.85M289.4,284.8h.85M282.5,280.6h.85M290.8,288.0h.85M284.2,296.4h.85M296.3,281.8h.85M287.8,278.3h.85M290.5,282.6h.85M292.5,287.8h.85M297.6,283.9h.85M283.2,287.3h.85M287.2,284.4h.85M292.7,284.0h.85M282.8,293.8h.85M294.8,282.7h.85M290.8,287.4h.85M287.1,283.5h.85M288.0,285.7h.85M289.8,280.7h.85M292.6,288.7h.85M289.5,288.2h.85M290.4,290.3h.85M293.8,281.0h.85M285.6,283.3h.85M290.4,285.0h.85M289.2,286.2h.85M291.9,287.9h.85M284.6,285.2h.85M293.0,287.1h.85M293.5,284.5h.85M290.9,289.2h.85M291.4,288.8h.85M288.4,288.1h.85M296.2,281.4h.85M292.0,285.0h.85M288.7,289.3h.85M293.1,286.3h.85M279.4,279.6h.85M297.3,278.8h.85M288.4,282.8h.85M282.3,283.2h.85M292.5,290.3h.85M295.0,286.7h.85M281.4,290.3h.85M293.9,285.0h.85M292.1,290.9h.85M292.8,284.1h.85M291.5,281.3h.85M284.1,289.0h.85M288.7,282.6h.85M296.5,279.9h.85M288.1,288.0h.85M290.8,279.4h.85M290.5,289.7h.85M297.6,285.4h.85M288.0,290.8h.85M294.6,280.7h.85M287.7,284.4h.85M277.5,291.2h.85M291.7,281.8h.85M283.7,285.8h.85M289.7,292.6h.85M297.5,285.5h.85M281.6,276.5h.85M295.7,287.3h.85M294.2,280.1h.85M288.0,285.9h.85M283.6,288.0h.85M286.9,288.5h.85M297.4,278.8h.85M282.0,285.2h.85M288.0,286.1h.85M284.4,280.8h.85M290.0,283.3h.85M286.9,282.0h.85M291.2,277.8h.85M289.6,285.8h.85M296.9,285.8h.85M288.7,281.8h.85M298.5,279.5h.85M292.3,279.8h.85M286.5,289.7h.85M289.6,281.7h.85M297.6,284.8h.85M297.9,280.5h.85M285.6,287.0h.85M295.5,284.5h.85M291.2,289.3h.85M291.4,282.1h.85M277.0,285.3h.85M295.6,281.8h.85M293.1,288.3h.85M290.5,285.0h.85M287.4,290.8h.85M291.5,287.6h.85M287.7,283.7h.85M288.7,285.1h.85M285.8,284.8h.85M287.9,286.1h.85M285.8,282.4h.85M289.2,290.0h.85M292.0,279.9h.85M290.4,286.7h.85M286.8,288.9h.85M286.7,284.2h.85M289.4,288.8h.85M293.5,284.1h.85M292.1,286.7h.85M299.7,281.5h.85M278.6,286.4h.85M284.8,284.6h.85M291.1,283.2h.85M278.7,291.5h.85M285.8,283.5h.85M282.2,281.9h.85M283.5,291.7h.85M298.4,282.4h.85M283.9,285.2h.85M282.3,283.9h.85M298.7,283.2h.85M282.8,286.6h.85M292.5,284.6h.85M294.3,290.9h.85M278.2,286.8h.85M284.5,283.8h.85M297.2,285.8h.85M287.1,282.8h.85M286.6,279.0h.85M287.8,277.6h.85M286.2,290.5h.85M288.7,293.5h.85M300.3,283.8h.85M285.5,287.1h.85M290.6,283.1h.85M283.9,281.1h.85M284.4,282.8h.85M296.1,285.9h.85M293.6,286.7h.85M296.0,285.8h.85M292.9,283.1h.85M283.0,279.1h.85M291.1,281.5h.85M291.0,289.2h.85M284.1,284.6h.85M297.8,285.7h.85M283.4,287.6h.85M298.1,273.3h.85M293.2,286.5h.85M293.0,285.8h.85M286.6,284.6h.85M289.2,283.7h.85M300.0,294.3h.85M289.2,291.0h.85M285.4,278.5h.85M298.8,283.0h.85M296.6,288.0h.85M286.3,284.6h.85M293.7,284.1h.85M287.7,284.0h.85M291.9,283.1h.85M284.1,290.5h.85M290.7,288.1h.85M294.7,284.5h.85M290.4,286.0h.85M282.9,281.1h.85M299.6,290.9h.85M285.4,281.4h.85M291.4,279.3h.85M300.1,286.1h.85M287.5,292.1h.85M294.7,283.6h.85M295.7,283.5h.85M290.1,289.5h.85M287.9,279.3h.85M287.8,287.7h.85M289.3,285.1h.85M282.6,296.2h.85M296.6,277.2h.85M295.7,284.4h.85M294.5,287.2h.85M287.3,281.1h.85M292.4,285.6h.85M287.2,280.7h.85M289.9,281.9h.85M297.2,286.2h.85M282.8,279.9h.85M288.7,284.4h.85M292.0,289.6h.85M287.3,285.6h.85M295.8,289.6h.85M290.1,280.2h.85M295.7,292.9h.85M289.0,278.0h.85M285.0,292.8h.85M288.5,285.6h.85M290.7,286.2h.85M298.6,280.4h.85M289.1,283.2h.85M282.4,288.6h.85M287.6,279.2h.85M283.2,286.7h.85M289.9,283.2h.85M293.7,287.7h.85M294.0,285.1h.85M289.5,288.0h.85M288.1,278.7h.85M285.5,285.0h.85M289.9,290.4h.85M284.2,286.5h.85M292.9,286.7h.85M299.7,282.4h.85M284.7,289.1h.85M288.2,283.4h.85M286.1,283.0h.85M301.9,290.7h.85M294.3,286.2h.85M286.9,278.8h.85M293.0,290.4h.85M292.9,281.6h.85M290.2,292.2h.85M282.2,277.0h.85M281.5,280.9h.85M284.2,288.6h.85M295.1,279.3h.85M285.6,283.4h.85M292.8,282.3h.85M282.6,279.5h.85M294.0,284.8h.85M285.2,286.5h.85M296.2,280.2h.85M289.7,283.0h.85M289.6,286.5h.85M289.4,286.3h.85M289.1,290.4h.85M285.1,285.3h.85M298.2,277.3h.85M284.8,289.7h.85M292.3,294.3h.85M290.1,287.9h.85M293.2,291.0h.85M292.4,289.0h.85M294.9,285.4h.85M294.9,286.6h.85M284.0,287.9h.85M290.1,280.9h.85M289.5,278.2h.85M284.6,289.5h.85M283.2,284.7h.85M281.1,287.1h.85M293.2,278.5h.85M286.7,283.7h.85M299.2,289.5h.85M288.4,282.4h.85M291.5,289.6h.85M289.2,287.6h.85M298.9,289.5h.85M289.9,283.2h.85M287.8,282.4h.85M294.3,280.7h.85M289.6,279.3h.85M297.9,284.3h.85M287.5,286.0h.85M287.6,280.9h.85M296.3,280.0h.85M291.0,288.2h.85M289.8,284.4h.85M298.2,284.7h.85M291.5,284.1h.85M287.5,285.2h.85M295.4,282.4h.85M294.1,288.6h.85M294.0,277.8h.85M290.2,278.8h.85M288.3,287.5h.85M303.2,283.1h.85M286.3,286.0h.85M295.6,278.3h.85M292.7,282.5h.85M284.2,287.8h.85M288.4,285.8h.85M285.9,286.9h.85M293.0,285.2h.85M298.2,283.1h.85M299.3,283.8h.85M291.1,284.9h.85M290.8,283.8h.85M282.0,290.0h.85M288.6,292.1h.85M289.9,287.3h.85M295.8,283.4h.85M287.8,292.6h.85M285.5,283.5h.85M286.1,284.0h.85M287.4,291.0h.85M282.5,288.3h.85M286.7,286.4h.85M282.7,281.9h.85M286.5,283.7h.85M294.2,287.2h.85M284.5,283.1h.85M283.2,291.7h.85M296.1,287.3h.85M291.6,288.3h.85M291.1,290.4h.85M293.4,279.5h.85M293.8,285.9h.85M281.9,290.3h.85M281.5,289.6h.85M295.3,282.0h.85M292.6,284.2h.85M288.2,286.4h.85M284.5,283.3h.85M295.8,291.7h.85M283.0,287.7h.85M284.2,283.9h.85M297.6,288.1h.85M297.9,280.3h.85M288.4,281.9h.85M298.4,286.8h.85M287.9,280.6h.85M293.6,289.1h.85M296.3,277.3h.85M284.2,290.0h.85M287.9,284.2h.85M299.1,285.1h.85M296.5,281.4h.85M290.8,288.4h.85M293.2,279.4h.85M295.5,278.5h.85M288.1,283.7h.85M285.1,289.1h.85M288.4,288.1h.85M288.0,285.0h.85M295.6,282.9h.85M292.1,286.6h.85M284.4,280.6h.85M296.0,285.4h.85M293.9,282.7h.85M290.3,286.4h.85M287.2,282.4h.85M291.5,277.7h.85M280.8,286.7h.85M297.3,276.8h.85M296.9,280.8h.85M288.8,278.4h.85M296.5,288.5h.85M290.6,290.9h.85M286.4,294.1h.85M285.1,285.7h.85M282.2,286.2h.85M299.1,283.5h.85M289.6,287.4h.85M288.8,290.0h.85M290.8,292.6h.85M279.9,289.5h.85M299.4,279.0h.85M290.0,284.6h.85M296.9,291.5h.85M293.2,277.0h.85M288.8,279.3h.85M291.3,290.0h.85M294.1,287.0h.85M285.1,286.3h.85M289.7,286.1h.85M299.8,284.3h.85M289.1,292.1h.85M300.0,280.5h.85M293.0,290.2h.85M289.5,285.7h.85M291.0,291.5h.85M295.0,281.4h.85M290.3,287.6h.85M286.3,284.9h.85M292.8,289.8h.85M298.4,279.5h.85M290.2,282.4h.85M282.5,285.2h.85M279.7,288.7h.85M281.7,288.7h.85M285.6,286.7h.85M286.5,284.7h.85M282.4,283.6h.85M298.4,277.9h.85M284.7,286.6h.85M284.4,284.5h.85M289.5,284.0h.85M293.6,278.5h.85M291.6,289.7h.85M298.6,286.0h.85M289.4,280.3h.85M284.9,285.0h.85M292.8,289.4h.85M285.9,283.7h.85M292.0,277.5h.85M280.5,279.3h.85M293.6,285.9h.85M292.0,281.7h.85M289.6,288.5h.85M295.2,289.9h.85M292.3,288.5h.85M298.9,279.1h.85M290.8,279.7h.85M291.5,294.1h.85M296.9,288.2h.85M291.1,292.4h.85M290.4,295.1h.85M290.0,287.0h.85M289.4,283.3h.85M291.5,280.7h.85M284.8,289.2h.85M293.8,279.2h.85M282.8,288.2h.85M288.5,288.4h.85M291.4,282.7h.85M294.7,280.8h.85M285.7,288.9h.85M286.4,287.4h.85M297.0,281.4h.85M285.6,283.8h.85M299.9,277.9h.85M294.9,279.2h.85M294.8,287.7h.85M287.8,283.0h.85M278.7,283.1h.85M275.5,281.0h.85M288.3,284.8h.85M292.9,285.2h.85M296.8,284.8h.85M298.4,291.1h.85M287.0,279.0h.85M290.6,293.3h.85M291.2,283.6h.85M285.5,281.7h.85M283.5,282.0h.85M289.7,289.0h.85M277.4,287.5h.85M290.4,287.9h.85M293.7,287.2h.85M286.0,283.7h.85M289.6,289.1h.85M283.5,289.5h.85M292.4,288.7h.85M292.1,278.4h.85M284.8,289.4h.85M294.4,280.9h.85M291.1,285.7h.85M291.0,279.6h.85M295.0,279.0h.85M300.1,281.8h.85M295.6,285.7h.85M298.4,287.7h.85M285.3,292.9h.85M282.4,283.1h.85M292.9,284.2h.85M296.3,286.0h.85M289.3,281.9h.85M285.6,287.6h.85M293.2,284.1h.85M291.7,283.8h.85M290.1,285.4h.85M286.9,285.7h.85M297.3,278.9h.85M287.9,277.4h.85M294.0,284.8h.85M288.6,284.3h.85M296.9,287.7h.85M283.5,283.6h.85M291.4,288.4h.85M282.4,288.2h.85M284.8,284.0h.85M285.0,285.4h.85M296.3,280.5h.85M291.2,282.4h.85M289.8,281.0h.85M284.9,278.8h.85M296.7,285.0h.85M283.3,289.0h.85M286.8,281.4h.85M288.8,285.4h.85M286.6,283.3h.85M289.7,285.1h.85M294.8,288.1h.85M292.1,289.7h.85M288.4,277.0h.85M292.1,285.6h.85M299.9,281.0h.85M284.2,287.1h.85M286.9,285.6h.85M292.3,289.2h.85M296.4,286.2h.85M294.9,280.1h.85M285.7,288.9h.85M279.8,284.8h.85M286.4,288.5h.85M294.8,286.7h.85M289.5,283.6h.85M294.4,281.5h.85M297.6,281.1h.85M287.7,279.0h.85M289.5,289.9h.85M295.6,287.7h.85M286.0,286.5h.85M294.0,283.5h.85M290.9,279.3h.85M287.6,286.5h.85M288.5,289.4h.85M292.6,283.0h.85M278.1,285.9h.85M298.0,285.0h.85M294.2,288.9h.85M297.0,286.0h.85M293.8,282.4h.85M295.9,281.3h.85M286.5,289.7h.85M298.3,285.7h.85M297.5,292.5h.85M293.2,285.7h.85M293.1,287.7h.85M282.0,283.1h.85M287.9,280.6h.85M282.5,285.7h.85M291.5,283.1h.85M281.2,278.4h.85M292.1,285.6h.85M300.2,281.1h.85M298.0,288.1h.85M286.4,286.6h.85M292.0,282.2h.85M294.7,284.3h.85M292.1,291.1h.85M290.8,288.1h.85M289.8,284.2h.85M284.9,284.4h.85M290.1,284.9h.85M292.4,289.4h.85M292.5,276.1h.85M293.3,281.1h.85M280.1,280.9h.85M289.1,284.0h.85M279.9,285.4h.85M283.5,281.3h.85M296.1,281.7h.85M291.5,284.0h.85M287.9,290.6h.85M288.9,283.9h.85M284.7,283.1h.85M286.1,285.8h.85M292.6,291.3h.85M292.0,285.1h.85M298.9,285.5h.85M290.8,290.1h.85M294.5,278.0h.85M289.0,289.0h.85M287.6,285.1h.85M274.5,282.1h.85M283.2,283.9h.85M299.9,281.3h.85M277.2,285.2h.85M288.7,285.2h.85M282.6,282.4h.85M290.1,286.1h.85M292.5,284.1h.85M290.8,280.2h.85M291.0,278.2h.85M284.8,285.2h.85M288.3,286.7h.85M288.1,279.7h.85M293.1,284.6h.85M294.8,284.3h.85M287.0,288.0h.85M296.3,285.0h.85M279.9,291.0h.85M287.6,285.0h.85M289.1,283.5h.85M291.3,278.1h.85M289.6,287.1h.85M286.0,278.8h.85M299.6,281.9h.85M295.4,280.8h.85M282.2,298.4h.85M290.7,278.7h.85M298.3,304.4h.85M281.9,283.3h.85M263.7,284.2h.85M301.0,277.9h.85M294.5,283.7h.85M276.7,299.7h.85M290.7,290.0h.85M281.0,300.2h.85M264.8,280.3h.85M265.2,294.1h.85M277.4,296.0h.85M299.0,281.3h.85M247.3,292.8h.85M280.5,278.4h.85M280.4,292.5h.85M264.9,301.1h.85M300.0,302.3h.85M282.2,295.1h.85M260.3,296.4h.85M283.7,295.5h.85M271.9,293.9h.85M270.1,289.4h.85M260.9,290.5h.85M257.9,302.3h.85M290.8,298.8h.85M258.4,302.5h.85M264.1,281.2h.85M275.0,293.2h.85M286.7,293.8h.85M296.7,289.2h.85M283.6,292.3h.85M297.4,297.0h.85M256.6,300.4h.85M268.4,296.0h.85M250.8,303.4h.85M281.0,298.2h.85M267.5,277.5h.85M280.3,297.6h.85M300.3,283.6h.85M268.0,284.3h.85M281.1,293.8h.85M292.2,291.2h.85M278.2,280.9h.85M285.3,285.0h.85M257.3,288.7h.85M292.9,288.4h.85M253.5,294.6h.85M295.6,291.9h.85M299.4,301.0h.85M297.9,292.4h.85M283.8,299.4h.85M248.8,295.4h.85M287.7,303.0h.85M291.2,294.7h.85M291.5,286.9h.85M268.8,292.9h.85M285.6,292.0h.85M287.6,296.6h.85M279.4,290.0h.85M294.1,279.3h.85M260.9,304.5h.85M264.6,288.3h.85M284.0,297.0h.85M270.9,280.2h.85M287.3,284.8h.85M293.9,295.6h.85M276.0,305.3h.85M258.4,293.8h.85M249.1,295.5h.85M258.1,286.6h.85M281.8,286.6h.85M280.9,288.2h.85M293.4,286.6h.85M287.2,299.0h.85M274.1,301.9h.85M299.1,299.5h.85M271.7,287.0h.85M262.5,292.4h.85M265.1,284.8h.85M299.4,285.5h.85M300.3,283.1h.85M252.6,297.3h.85M273.7,292.9h.85M259.7,289.2h.85M282.7,286.7h.85M290.9,305.5h.85M252.3,295.0h.85M274.2,298.1h.85M293.2,297.7h.85M291.2,289.9h.85M269.8,290.1h.85M287.0,300.9h.85M266.3,296.9h.85M282.9,284.6h.85M284.0,292.1h.85M264.7,299.7h.85M260.6,303.1h.85M268.6,300.0h.85M251.5,289.6h.85M277.7,287.8h.85M273.0,294.5h.85M252.0,284.1h.85M274.3,289.8h.85M286.9,287.0h.85M257.3,283.4h.85M264.6,301.3h.85M289.5,307.1h.85M264.0,292.7h.85M280.5,296.4h.85M274.3,283.3h.85M279.2,286.7h.85M261.3,296.7h.85M252.9,288.6h.85M262.8,298.8h.85M264.2,283.3h.85M263.9,294.1h.85M291.9,289.5h.85M261.2,288.3h.85M289.8,297.3h.85M287.1,285.7h.85M251.1,292.9h.85M284.9,281.7h.85M281.1,295.6h.85M280.5,277.7h.85M269.9,305.3h.85M295.4,281.7h.85M282.6,295.0h.85M286.4,295.3h.85M290.6,288.7h.85M276.8,289.4h.85M286.5,289.8h.85M293.9,293.1h.85M286.1,296.6h.85M288.4,286.7h.85M272.0,286.1h.85M259.3,279.9h.85M266.4,281.8h.85M294.0,291.8h.85M279.4,292.9h.85M264.4,288.6h.85M244.5,289.7h.85M274.1,295.6h.85M274.3,284.7h.85M275.1,300.8h.85M278.6,286.8h.85M265.3,291.0h.85M280.5,290.3h.85M293.5,297.9h.85M292.5,289.6h.85M286.8,300.3h.85M273.9,291.4h.85M295.9,299.1h.85M294.8,288.4h.85M264.4,281.4h.85M279.3,304.8h.85M259.7,292.5h.85M271.7,291.9h.85M278.8,296.8h.85M278.8,294.7h.85M290.7,280.5h.85M299.9,287.1h.85M281.0,289.4h.85M252.5,290.0h.85M258.7,289.8h.85M283.6,277.6h.85M293.8,296.2h.85M264.8,289.6h.85M290.0,281.4h.85M299.4,285.0h.85M262.5,301.4h.85M280.6,292.6h.85M270.0,297.7h.85M256.4,284.8h.85M285.4,281.7h.85M269.5,287.4h.85M263.5,298.0h.85M278.3,298.4h.85M268.6,299.8h.85M257.9,282.8h.85M299.1,297.3h.85M288.1,287.9h.85M269.3,295.5h.85M275.3,297.6h.85M281.1,293.7h.85M297.4,293.9h.85M293.2,299.7h.85M297.9,288.3h.85M289.1,297.7h.85M275.6,287.6h.85M277.4,287.8h.85M284.5,287.2h.85M278.9,300.8h.85M263.2,284.6h.85M287.7,286.2h.85M279.7,282.3h.85M269.8,297.3h.85M295.4,294.5h.85M286.4,280.8h.85M296.5,294.4h.85M298.7,299.8h.85M281.3,293.0h.85M294.1,298.3h.85M299.9,285.5h.85M281.1,309.7h.85M291.0,286.7h.85M282.5,295.4h.85M288.9,294.5h.85M266.0,288.6h.85M288.6,293.0h.85M260.6,306.3h.85M278.6,298.8h.85M290.2,289.1h.85M271.0,287.9h.85M277.0,290.6h.85M278.9,292.2h.85M264.3,295.7h.85M289.6,288.6h.85M278.9,292.3h.85M288.2,287.3h.85M271.6,293.9h.85M269.5,303.1h.85M279.4,286.0h.85M267.9,298.0h.85M281.6,281.0h.85M283.0,279.4h.85M275.7,282.7h.85M297.0,292.7h.85M252.6,298.3h.85M283.0,285.4h.85M285.9,294.2h.85M263.8,290.0h.85M292.3,292.3h.85M261.4,291.6h.85M281.4,279.8h.85M278.1,289.8h.85M276.8,294.9h.85M300.0,285.0h.85M268.7,294.9h.85M287.9,287.4h.85M272.3,291.8h.85M291.7,301.8h.85M254.4,291.2h.85M280.0,282.7h.85M291.9,299.2h.85M289.8,280.8h.85M285.3,297.8h.85M296.3,287.4h.85M263.2,290.8h.85M299.4,297.1h.85M278.3,290.0h.85M266.5,282.1h.85M254.8,284.7h.85M271.0,289.7h.85M292.7,283.3h.85M280.4,289.9h.85M270.7,303.5h.85M265.4,290.6h.85M274.6,299.5h.85M298.3,299.7h.85M252.5,293.3h.85M285.4,283.6h.85M266.8,296.8h.85M294.0,278.6h.85M258.5,285.9h.85M250.1,295.0h.85M276.6,299.3h.85M284.2,301.6h.85M287.6,292.3h.85M280.6,293.8h.85M248.2,296.9h.85M259.8,294.0h.85M287.2,288.2h.85M255.1,297.3h.85M264.7,289.4h.85M286.4,295.1h.85M296.6,284.4h.85M300.4,300.3h.85M286.0,291.5h.85M283.6,281.0h.85M256.3,297.6h.85M272.7,294.7h.85M284.0,278.1h.85M286.9,281.4h.85M283.0,278.9h.85M273.8,289.7h.85M254.3,283.5h.85M282.9,304.4h.85M249.2,291.1h.85M285.6,290.6h.85M282.7,300.5h.85M268.2,281.7h.85M282.7,289.7h.85M279.6,278.4h.85M271.6,281.5h.85M262.5,282.6h.85M287.7,296.5h.85M282.9,284.9h.85M288.8,278.8h.85M278.7,290.1h.85M281.0,292.0h.85M270.5,295.6h.85M273.6,293.8h.85M267.1,279.8h.85M248.6,290.4h.85M281.0,292.4h.85M269.3,299.6h.85M258.5,289.8h.85M277.3,295.3h.85M285.8,288.5h.85M300.4,297.3h.85M285.7,282.0h.85M274.8,292.8h.85M270.5,289.5h.85M277.3,281.4h.85M286.5,294.5h.85M273.3,311.1h.85M278.3,291.7h.85M287.2,284.5h.85M254.2,289.5h.85M291.8,280.8h.85M269.8,288.4h.85M277.9,300.4h.85M272.8,294.6h.85M259.9,293.8h.85M276.7,284.6h.85M287.4,289.1h.85M264.7,294.2h.85M272.7,301.7h.85M298.3,283.9h.85M294.7,280.5h.85M271.5,286.9h.85M274.4,293.7h.85M262.5,291.3h.85M292.5,287.2h.85M250.8,294.0h.85M294.4,298.5h.85M278.1,295.5h.85M281.0,289.3h.85M274.2,284.3h.85M250.4,297.6h.85M296.7,300.6h.85M267.3,297.9h.85M272.4,288.6h.85M295.0,299.9h.85M271.9,291.5h.85M281.8,291.4h.85M279.1,292.2h.85M267.4,280.3h.85M273.5,288.0h.85M283.8,294.0h.85M291.9,298.4h.85M287.2,280.2h.85M272.6,284.8h.85M296.4,296.3h.85M298.3,296.7h.85M283.5,287.3h.85M283.0,285.1h.85M276.0,295.7h.85M243.5,293.0h.85M272.4,284.1h.85M297.3,285.0h.85M269.6,288.5h.85M283.7,292.3h.85M266.9,287.0h.85M287.3,301.9h.85M284.4,281.9h.85M289.2,279.3h.85M275.3,295.6h.85M247.7,279.6h.85M268.4,301.2h.85M284.9,294.7h.85M284.7,278.6h.85M283.9,298.5h.85M286.1,305.0h.85M278.9,297.6h.85M296.6,300.9h.85M274.7,297.8h.85M296.8,289.6h.85M270.7,296.8h.85M290.5,297.7h.85M281.5,302.5h.85M293.7,291.6h.85M285.2,290.2h.85M264.1,288.4h.85M287.6,290.0h.85M252.7,301.8h.85M280.9,293.7h.85M264.2,290.5h.85M250.3,288.8h.85M279.2,282.5h.85M297.0,294.7h.85M278.4,296.0h.85M278.0,295.7h.85M295.7,299.8h.85M296.3,293.6h.85M276.4,293.0h.85M263.4,294.9h.85M272.2,290.6h.85M288.7,290.2h.85M267.7,288.2h.85M290.4,292.3h.85M276.3,288.7h.85M243.3,299.6h.85M291.0,293.9h.85M287.9,292.4h.85M280.0,291.2h.85M256.4,281.1h.85M270.5,284.3h.85M278.0,292.3h.85M268.7,286.3h.85M256.2,284.4h.85M270.7,286.8h.85M268.4,309.4h.85M271.3,284.4h.85M279.6,288.3h.85M295.3,289.1h.85M244.4,292.2h.85M300.0,293.3h.85M285.7,306.8h.85M255.8,298.7h.85M251.1,287.3h.85M293.0,282.7h.85M296.8,288.8h.85M299.6,293.5h.85M253.7,294.8h.85M275.4,293.7h.85M252.4,305.1h.85M288.5,300.1h.85M265.3,279.3h.85M282.8,285.6h.85M270.9,312.0h.85M292.3,287.7h.85M260.0,288.6h.85M277.2,283.6h.85M248.1,294.4h.85M290.4,303.7h.85M286.7,290.6h.85M287.1,302.6h.85M269.5,282.9h.85M253.9,287.3h.85M289.2,284.1h.85M277.6,284.6h.85M277.6,290.9h.85M278.4,297.2h.85M265.9,295.2h.85M290.4,286.7h.85M268.9,285.3h.85M271.9,284.9h.85M276.4,287.4h.85M280.0,279.1h.85M274.0,290.6h.85M263.5,294.8h.85M262.8,292.4h.85M281.7,291.2h.85M293.5,298.4h.85M276.8,292.3h.85M295.3,296.8h.85M251.2,288.6h.85M278.1,285.8h.85M263.5,306.2h.85M272.2,296.9h.85M262.6,291.0h.85M267.4,283.9h.85M282.3,302.2h.85M279.3,286.6h.85M280.1,297.2h.85M284.3,278.2h.85M269.6,285.5h.85M282.6,300.8h.85M276.0,278.9h.85M285.5,301.9h.85M281.5,285.2h.85M293.6,290.8h.85M306.3,291.0h.85M247.1,293.6h.85M287.3,288.7h.85M286.6,291.6h.85M273.2,299.8h.85M261.9,299.1h.85M262.7,291.3h.85M283.3,287.8h.85M286.0,281.9h.85M278.5,289.3h.85M272.4,299.8h.85M279.5,300.2h.85M291.3,282.7h.85M279.8,277.8h.85M298.0,292.4h.85M289.1,301.7h.85M273.9,294.7h.85M297.0,284.3h.85M270.2,300.2h.85M280.8,295.6h.85M278.9,298.7h.85M277.9,298.1h.85M269.2,295.8h.85M289.4,290.0h.85M280.2,293.7h.85M252.8,295.6h.85M292.6,283.8h.85M276.5,290.6h.85M268.3,287.4h.85M289.8,285.2h.85M276.0,285.0h.85M275.2,302.5h.85M267.6,287.7h.85M289.3,282.0h.85M286.9,285.2h.85M277.6,294.6h.85M265.7,287.5h.85M301.1,290.9h.85M280.1,284.7h.85M286.3,292.3h.85M265.7,296.6h.85M280.7,282.5h.85M261.2,289.3h.85M273.9,293.9h.85M255.7,284.9h.85M292.3,292.8h.85M269.0,286.8h.85M278.7,285.7h.85M265.2,302.8h.85M295.5,280.7h.85M268.1,286.4h.85M288.3,288.2h.85M279.9,303.4h.85M280.5,279.4h.85M289.4,282.1h.85M283.8,301.0h.85M290.8,293.7h.85M267.0,289.1h.85M268.9,288.7h.85M284.2,295.9h.85M298.5,286.2h.85M283.0,286.5h.85M272.8,288.3h.85M262.4,280.1h.85M284.4,283.6h.85M257.1,297.8h.85M280.0,298.1h.85M297.3,288.1h.85M279.1,300.1h.85M274.0,298.8h.85M258.1,286.3h.85M297.4,287.4h.85M278.9,289.0h.85M275.9,297.0h.85M286.5,280.9h.85M282.1,295.3h.85M268.9,286.6h.85M269.9,293.3h.85M270.2,285.2h.85M298.9,296.2h.85M267.2,285.3h.85M273.5,309.0h.85M264.6,296.7h.85M265.0,284.5h.85M265.5,286.1h.85M269.1,284.4h.85M288.8,291.3h.85M271.4,288.9h.85M274.4,294.6h.85M275.7,302.3h.85M282.9,282.8h.85M266.8,291.5h.85M274.2,292.0h.85M287.5,278.6h.85M280.0,297.5h.85M300.1,289.9h.85M273.2,284.6h.85M292.8,281.2h.85M284.3,285.0h.85M281.4,287.0h.85M268.6,290.1h.85M272.5,284.1h.85M300.0,297.3h.85M270.6,290.3h.85M278.6,294.5h.85M269.3,289.7h.85M270.4,278.0h.85M285.8,283.2h.85M278.5,287.7h.85M265.7,291.7h.85M295.1,301.9h.85M254.3,295.9h.85M293.4,295.7h.85M269.6,293.5h.85M277.4,283.7h.85M284.5,286.2h.85M293.6,288.8h.85M280.8,285.4h.85M270.5,295.0h.85M284.1,285.7h.85M264.5,284.5h.85M257.1,309.5h.85M273.1,293.9h.85M287.6,300.3h.85M264.6,290.4h.85M280.0,282.5h.85M275.6,292.2h.85M289.5,292.0h.85M291.0,306.8h.85M283.6,283.8h.85M289.0,285.8h.85M256.4,283.2h.85M262.8,301.8h.85M286.0,279.1h.85M295.7,309.5h.85M292.6,278.6h.85M281.9,301.4h.85M297.9,283.3h.85M275.8,281.9h.85M274.8,294.6h.85M258.1,288.9h.85M292.2,285.5h.85M285.0,284.1h.85M296.5,291.8h.85M281.5,288.7h.85M271.3,295.2h.85M286.9,290.4h.85M268.3,280.5h.85M273.7,284.7h.85M264.5,298.1h.85M290.9,290.9h.85M281.8,290.4h.85M244.7,296.1h.85M263.2,298.7h.85M290.1,282.4h.85M296.6,281.6h.85M274.3,299.6h.85M297.8,291.2h.85M247.4,294.2h.85M269.1,278.9h.85M268.7,293.6h.85M291.7,297.6h.85M280.9,288.4h.85M266.3,286.0h.85M267.9,291.7h.85M270.1,299.7h.85M292.4,307.6h.85M276.0,286.2h.85M276.2,298.0h.85M294.5,312.9h.85M269.8,292.2h.85M279.3,292.1h.85M267.4,282.3h.85M283.5,280.9h.85M275.1,300.6h.85M239.9,300.7h.85M271.3,302.4h.85M262.9,306.2h.85M292.4,292.8h.85M276.7,301.4h.85M263.8,314.5h.85M293.0,290.4h.85M287.1,283.3h.85M282.2,293.1h.85M274.1,297.4h.85M287.5,300.7h.85M266.4,288.2h.85M299.2,278.1h.85M290.3,283.6h.85M268.7,285.8h.85M266.4,295.3h.85M284.3,286.4h.85M268.6,291.2h.85M296.6,291.8h.85M278.8,298.7h.85M268.9,285.9h.85M285.7,293.0h.85M299.5,285.6h.85M293.4,292.7h.85M283.0,285.0h.85M252.7,305.4h.85M266.7,295.5h.85M270.2,284.4h.85M275.6,288.2h.85M274.5,309.3h.85M292.0,296.7h.85M283.9,292.8h.85M279.3,298.2h.85M269.2,288.5h.85M271.4,299.1h.85M294.6,285.7h.85M277.4,290.9h.85M257.1,289.8h.85M263.6,285.3h.85M262.6,278.8h.85M294.5,292.7h.85M296.1,288.3h.85M282.0,280.0h.85M284.7,288.8h.85M259.5,293.4h.85M277.2,295.1h.85M276.6,288.9h.85M288.3,283.3h.85M295.2,289.8h.85M289.8,289.0h.85M290.5,293.6h.85M293.0,280.0h.85M288.6,283.3h.85M298.2,278.3h.85M286.0,292.1h.85M268.0,291.1h.85M294.3,291.5h.85M297.0,291.5h.85M289.3,286.1h.85M269.6,297.3h.85M292.4,281.3h.85M259.8,295.9h.85M288.3,298.7h.85M285.6,302.2h.85M263.0,293.2h.85M292.3,285.6h.85M264.0,291.5h.85M292.7,284.7h.85M240.8,293.7h.85M269.0,289.5h.85M293.1,291.3h.85M258.0,281.4h.85M276.3,295.5h.85M288.6,294.3h.85M274.6,294.9h.85M269.2,283.9h.85M279.5,309.5h.85M256.5,295.3h.85M279.9,291.8h.85M294.8,311.8h.85M292.0,298.1h.85M298.1,309.2h.85M259.7,288.8h.85M289.5,289.3h.85M263.5,281.2h.85M281.3,304.5h.85M269.2,279.3h.85M250.1,294.1h.85M282.5,282.7h.85M261.1,289.2h.85M278.7,296.3h.85M253.8,285.1h.85M284.1,284.0h.85M287.8,297.5h.85M251.3,287.2h.85M270.7,288.3h.85M292.3,287.7h.85M272.1,289.3h.85M275.5,286.9h.85M292.9,287.8h.85M275.9,283.6h.85M288.4,288.9h.85M276.0,290.9h.85M265.7,295.2h.85M245.4,292.3h.85M261.9,307.5h.85M278.3,282.2h.85M285.9,285.5h.85M254.5,297.2h.85M278.8,285.4h.85M285.9,281.6h.85M269.0,303.6h.85M282.9,293.8h.85M241.7,301.5h.85M256.7,284.9h.85M296.3,286.7h.85M292.8,282.6h.85M288.0,294.9h.85M272.1,278.0h.85M273.8,301.6h.85M268.6,302.7h.85M295.4,285.4h.85M287.7,288.4h.85M296.1,287.4h.85M294.4,290.0h.85M270.8,284.0h.85M280.1,285.7h.85M277.9,288.9h.85M283.5,288.1h.85M264.2,300.6h.85M266.3,289.6h.85M257.5,291.5h.85M283.0,283.0h.85M280.1,286.4h.85M285.9,292.6h.85M285.1,301.6h.85M292.8,282.3h.85M280.9,284.4h.85M292.4,280.4h.85M269.8,306.2h.85M270.9,301.3h.85M261.8,282.9h.85M262.0,303.1h.85M268.6,291.8h.85M266.9,308.8h.85M272.2,289.9h.85M253.1,300.3h.85M291.5,296.0h.85M268.5,291.1h.85M291.2,298.8h.85M272.4,294.6h.85M277.8,301.0h.85M264.5,285.1h.85M273.5,286.8h.85M263.4,285.9h.85M264.6,295.7h.85M269.9,290.4h.85M276.1,300.6h.85M291.1,282.8h.85M274.7,289.9h.85M262.6,279.8h.85M285.2,287.0h.85M280.6,297.0h.85M291.0,292.2h.85M264.8,287.2h.85M305.2,299.8h.85M259.4,296.9h.85M271.2,296.9h.85M276.5,285.5h.85M279.7,277.6h.85M286.0,303.7h.85M276.5,286.7h.85M306.6,282.0h.85M276.6,291.6h.85M282.5,288.2h.85M299.3,281.4h.85M288.3,300.6h.85M251.5,292.9h.85M254.9,278.1h.85M242.8,299.7h.85M285.0,299.5h.85M295.0,278.1h.85M294.0,287.5h.85M278.1,293.0h.85M264.7,291.2h.85M281.1,288.4h.85M257.9,302.8h.85M265.5,286.8h.85M271.9,288.8h.85M271.0,290.0h.85M293.0,291.8h.85M262.9,302.8h.85M285.7,286.6h.85M282.9,284.2h.85M296.0,309.0h.85M277.2,296.0h.85M290.8,300.7h.85M260.2,288.8h.85M295.8,285.5h.85M247.3,284.7h.85M288.7,284.1h.85M248.1,304.6h.85M288.6,280.3h.85M281.5,290.6h.85M280.1,287.4h.85M278.7,294.0h.85M300.0,286.2h.85M285.7,289.8h.85M264.5,285.4h.85M280.8,297.9h.85M263.1,292.6h.85M251.6,294.5h.85M287.1,280.9h.85M283.3,290.3h.85M293.2,295.9h.85M286.0,290.2h.85M274.4,290.3h.85M279.7,293.7h.85M277.1,279.1h.85M268.5,296.0h.85M286.1,284.9h.85M262.0,283.9h.85M287.2,293.5h.85M293.4,293.9h.85M290.0,291.0h.85M284.8,286.6h.85M299.3,277.6h.85M267.5,297.7h.85M275.5,297.1h.85M282.3,283.9h.85M289.0,282.3h.85M247.1,294.7h.85M259.3,294.1h.85M273.4,300.6h.85M289.7,283.7h.85M264.7,289.6h.85M279.2,290.7h.85M268.1,293.7h.85M266.2,285.0h.85M261.4,284.2h.85M274.5,304.3h.85M267.0,281.0h.85M298.9,290.9h.85M278.3,292.1h.85M278.1,286.4h.85M260.7,279.9h.85M253.2,298.4h.85M275.2,292.4h.85M288.9,298.9h.85M263.0,301.4h.85M269.0,277.5h.85M233.3,288.1h.85M279.9,289.7h.85M289.7,291.2h.85M279.5,291.9h.85M276.2,295.9h.85M294.5,290.2h.85M261.7,295.4h.85M269.3,293.0h.85M299.5,292.2h.85M279.3,280.2h.85M280.9,290.8h.85M288.1,296.7h.85M274.1,285.9h.85M287.4,293.8h.85M269.8,300.6h.85M251.2,297.8h.85M288.3,298.0h.85M264.1,279.8h.85M288.2,294.5h.85M267.9,288.7h.85M296.2,295.2h.85M256.2,304.4h.85M284.2,290.0h.85M263.4,296.9h.85M281.6,280.8h.85M289.8,306.1h.85M293.9,301.3h.85M283.3,295.4h.85M287.8,303.7h.85M290.7,302.4h.85M296.8,301.3h.85M280.7,305.2h.85M285.3,302.7h.85M284.8,302.6h.85M290.2,304.5h.85M286.3,300.3h.85M290.7,307.3h.85M287.1,293.1h.85M293.8,300.0h.85M292.2,300.3h.85M284.0,302.1h.85M281.0,292.8h.85M294.3,296.4h.85M288.2,299.1h.85M282.9,294.9h.85M289.7,300.5h.85M279.7,299.2h.85M285.7,298.8h.85M298.3,293.2h.85M289.5,307.3h.85M275.9,301.8h.85M300.0,296.9h.85M296.6,302.2h.85M290.6,292.5h.85M296.9,299.1h.85M287.0,308.9h.85M290.4,304.8h.85M289.7,299.6h.85M298.8,297.4h.85M288.6,292.5h.85M294.7,301.2h.85M293.2,297.9h.85M293.9,313.2h.85M275.1,294.5h.85M290.0,299.5h.85M294.0,308.6h.85M283.1,298.1h.85M287.7,304.3h.85M285.6,299.6h.85M294.6,298.4h.85M287.7,299.2h.85M293.7,290.3h.85M288.0,301.8h.85M287.3,302.9h.85M283.7,301.9h.85M286.1,296.5h.85M285.3,304.2h.85M287.4,305.1h.85M283.6,301.0h.85M289.2,295.2h.85M288.6,295.8h.85M280.4,296.9h.85M292.9,301.5h.85M289.8,302.6h.85M279.2,307.4h.85M297.9,307.3h.85M283.8,297.0h.85M287.4,298.0h.85M285.8,298.1h.85M293.3,300.2h.85M288.9,296.0h.85M288.7,296.9h.85M283.2,298.3h.85M295.2,300.9h.85M290.3,299.3h.85M293.8,292.0h.85M293.4,290.7h.85M282.7,291.4h.85M288.5,297.3h.85M289.7,308.0h.85M288.9,298.6h.85M288.3,297.6h.85M286.3,291.3h.85M279.8,299.5h.85M290.9,300.8h.85M291.4,297.5h.85M289.3,299.1h.85M296.2,302.3h.85M287.1,304.9h.85M293.0,306.5h.85M287.8,301.4h.85M296.0,306.6h.85M293.7,302.9h.85M288.1,299.7h.85M284.6,300.6h.85M291.6,297.3h.85M280.2,287.8h.85M283.6,300.9h.85M281.5,302.2h.85M292.0,304.8h.85M286.7,302.6h.85M289.4,295.5h.85M287.5,298.2h.85M285.8,299.3h.85M287.5,293.1h.85M286.4,302.9h.85M285.1,298.5h.85M290.2,291.8h.85M288.9,296.6h.85M285.8,305.0h.85M289.0,297.0h.85M281.3,302.4h.85M290.8,304.0h.85M297.0,310.8h.85M284.1,312.6h.85M286.9,292.7h.85M278.9,301.6h.85M289.9,302.0h.85M288.9,303.7h.85M285.4,302.9h.85M295.1,302.2h.85M294.7,293.5h.85M282.4,305.5h.85M286.8,304.8h.85M295.6,295.7h.85M292.6,307.2h.85M285.8,302.3h.85M279.8,295.4h.85M298.3,295.2h.85M283.9,293.9h.85M290.8,298.2h.85M296.0,304.9h.85M293.6,300.3h.85M285.6,300.6h.85M291.3,302.0h.85M294.4,297.3h.85M279.6,307.9h.85M287.1,295.9h.85M291.1,293.5h.85M289.3,300.9h.85M283.5,301.7h.85M285.7,298.7h.85M287.1,300.3h.85M287.4,306.5h.85M283.4,298.3h.85M285.2,296.4h.85M276.2,288.9h.85M296.3,293.9h.85M283.4,298.6h.85M297.8,300.3h.85M290.4,300.9h.85M286.3,299.6h.85M295.1,298.1h.85M281.6,291.0h.85M286.6,301.5h.85M285.4,294.4h.85M285.5,303.4h.85M291.0,299.5h.85M282.7,297.6h.85M283.4,299.9h.85M283.0,293.5h.85M293.8,301.5h.85M296.7,297.0h.85M291.8,299.1h.85M287.5,303.7h.85M290.3,292.1h.85M283.2,300.0h.85M298.1,295.0h.85M296.0,297.8h.85M284.1,297.3h.85M285.3,296.2h.85M294.6,298.4h.85M288.8,299.0h.85M285.2,306.1h.85M280.7,299.7h.85M292.0,295.7h.85M284.6,298.7h.85M283.6,305.3h.85M286.2,299.1h.85M288.1,307.5h.85M281.6,304.4h.85M287.7,301.3h.85M280.1,297.4h.85M291.1,299.9h.85M284.2,297.1h.85M287.4,304.1h.85M290.6,300.3h.85M285.4,308.6h.85M289.4,300.1h.85M278.6,296.0h.85M285.1,301.3h.85M283.4,302.0h.85M291.2,300.9h.85M288.9,299.0h.85M298.2,302.6h.85M290.4,307.4h.85M291.9,298.4h.85M290.5,302.5h.85M287.0,304.7h.85M288.0,294.0h.85M291.4,292.3h.85M289.0,304.1h.85M288.8,304.4h.85M282.0,293.9h.85M277.9,295.6h.85M291.0,304.6h.85M296.6,301.9h.85M281.3,304.3h.85M279.8,298.7h.85M284.8,303.2h.85M286.8,306.3h.85M286.1,300.8h.85M283.4,297.9h.85M278.9,300.6h.85M289.9,306.5h.85M290.9,305.1h.85M290.0,291.9h.85M285.8,302.0h.85M281.4,293.3h.85M295.1,304.7h.85M290.6,296.2h.85M284.8,301.4h.85M284.6,302.5h.85M288.8,303.2h.85M234.4,300.7h.85M246.7,290.8h.85M246.4,294.9h.85M235.8,298.2h.85M224.7,307.9h.85M255.4,285.8h.85M227.1,305.6h.85M251.8,289.6h.85M252.0,287.0h.85M234.3,298.5h.85M250.6,288.1h.85M223.8,308.5h.85M244.6,292.5h.85M256.7,287.5h.85M249.5,287.4h.85M257.7,286.0h.85M248.1,292.1h.85M224.8,312.1h.85M228.2,305.3h.85M256.5,284.4h.85M230.3,305.3h.85M234.0,305.3h.85M241.1,292.1h.85M231.3,300.9h.85M248.8,288.1h.85M258.6,284.3h.85M236.5,296.9h.85M225.7,307.1h.85M237.6,293.3h.85M237.1,294.9h.85M244.9,293.6h.85M226.9,311.2h.85M251.9,289.0h.85M222.3,311.0h.85M231.0,299.8h.85M247.8,291.0h.85M231.5,297.5h.85M253.4,287.4h.85M238.5,295.6h.85M245.7,289.0h.85M242.9,296.3h.85M256.1,286.2h.85M240.9,293.1h.85M225.2,308.9h.85M240.5,294.2h.85M253.0,286.6h.85M228.4,300.7h.85M229.0,306.1h.85M223.3,310.9h.85M228.0,305.3h.85M243.3,297.0h.85M241.0,298.4h.85M231.2,302.7h.85M222.1,307.0h.85M235.2,301.0h.85M252.9,291.4h.85M246.9,292.7h.85M226.4,306.6h.85M242.7,296.5h.85M250.7,287.3h.85M226.3,305.3h.85M252.8,289.3h.85M232.5,299.0h.85M222.5,309.7h.85M229.7,305.6h.85M248.3,291.9h.85M223.2,311.9h.85M241.4,297.9h.85M248.5,287.8h.85M227.9,305.4h.85M227.2,302.1h.85M256.0,283.6h.85M252.7,287.4h.85M249.2,288.4h.85M243.8,291.3h.85M237.0,294.8h.85M236.6,298.0h.85M227.2,305.1h.85M241.7,294.2h.85M251.8,285.6h.85M234.0,301.3h.85M245.8,293.8h.85M242.2,297.2h.85M248.5,291.8h.85M256.8,284.6h.85M227.3,308.2h.85M223.2,307.2h.85M233.6,303.5h.85M232.7,298.0h.85M229.0,304.6h.85M240.5,296.6h.85M243.9,293.9h.85M220.9,312.1h.85M223.7,308.2h.85M230.1,302.7h.85M222.4,308.4h.85M237.6,298.1h.85M256.9,285.3h.85M243.8,292.8h.85M232.8,301.5h.85M237.0,295.3h.85M240.6,293.7h.85M249.9,289.0h.85M245.6,291.1h.85M247.5,289.8h.85M243.4,291.2h.85M235.0,299.5h.85M249.6,292.0h.85M228.0,306.1h.85M232.4,303.2h.85M235.1,298.6h.85M251.7,290.3h.85M234.6,298.3h.85M255.7,288.2h.85M252.1,286.9h.85M250.5,289.8h.85M231.8,301.9h.85M252.3,287.5h.85M240.4,296.9h.85M248.3,290.8h.85M227.0,313.8h.85M232.9,301.0h.85M233.9,298.7h.85M251.3,291.9h.85M226.5,306.4h.85M223.6,313.6h.85M232.2,302.7h.85M240.9,292.9h.85M257.2,284.0h.85M236.0,297.0h.85M239.6,294.8h.85M249.0,288.8h.85M224.6,309.2h.85M224.0,305.9h.85M256.7,286.1h.85M252.2,290.7h.85M225.6,308.9h.85M259.5,282.4h.85M239.0,293.2h.85M227.6,308.1h.85M244.1,291.8h.85M230.4,303.2h.85M232.9,304.2h.85M225.4,312.6h.85M251.5,288.2h.85M224.7,310.3h.85M242.5,294.1h.85M247.0,293.5h.85M226.7,306.0h.85M238.3,300.7h.85M222.0,310.9h.85M225.5,307.4h.85M245.7,293.8h.85M234.4,296.7h.85M244.2,292.2h.85M252.8,288.4h.85M245.0,291.6h.85M237.8,297.0h.85M250.5,288.3h.85M247.5,288.5h.85M247.6,289.4h.85M244.5,293.0h.85M255.3,288.7h.85M252.9,287.9h.85M252.0,291.7h.85M254.6,288.2h.85M222.6,312.8h.85M226.8,306.7h.85M225.4,312.1h.85M234.2,298.1h.85M231.4,300.0h.85M245.0,292.8h.85M238.4,297.5h.85M230.3,308.3h.85M226.8,309.5h.85M240.0,295.2h.85M244.1,289.3h.85M225.9,309.2h.85M223.9,314.0h.85M242.6,292.1h.85M250.0,289.8h.85M225.9,306.2h.85M237.1,296.3h.85M220.9,315.2h.85M227.5,303.3h.85M276.4,340.2h.85M285.8,338.3h.85M285.2,328.1h.85M285.6,333.1h.85M285.1,332.8h.85M288.2,338.3h.85M281.8,336.1h.85M290.6,330.4h.85M290.7,337.1h.85M287.2,330.9h.85M287.7,330.5h.85M286.6,338.0h.85M282.7,341.2h.85M282.9,335.8h.85M283.6,332.8h.85M285.7,330.6h.85M284.4,335.6h.85M289.6,337.1h.85M281.3,340.2h.85M294.0,335.8h.85M288.1,336.1h.85M286.1,330.7h.85M289.5,334.8h.85M287.0,332.0h.85M283.3,332.7h.85M280.3,338.4h.85M289.3,326.5h.85M287.8,328.8h.85M287.9,327.6h.85M282.1,341.1h.85M286.6,330.5h.85M283.9,334.0h.85M284.7,340.4h.85M291.2,329.0h.85M288.1,331.2h.85M283.8,333.7h.85M288.1,332.7h.85M289.4,331.5h.85M279.3,337.1h.85M285.2,335.8h.85M280.9,341.5h.85M281.4,341.8h.85M280.5,340.4h.85M285.2,333.6h.85M285.7,333.7h.85M278.8,341.0h.85M284.9,335.4h.85M283.4,342.4h.85M285.4,329.6h.85M284.3,332.9h.85M280.6,337.2h.85M290.3,327.6h.85M287.9,329.3h.85M284.0,339.3h.85M294.5,332.5h.85M284.3,337.3h.85M280.3,340.0h.85M291.0,330.6h.85M280.9,335.1h.85M289.9,338.9h.85M281.7,341.2h.85M280.9,339.0h.85M284.5,332.1h.85M284.6,335.0h.85M284.5,336.7h.85M280.3,343.7h.85M290.9,326.7h.85M282.0,343.0h.85M282.8,337.0h.85M287.3,337.9h.85M276.0,341.2h.85M275.9,329.4h.85M291.9,336.1h.85M289.2,333.6h.85M300.1,332.9h.85M286.0,332.9h.85M291.5,339.8h.85M269.7,356.8h.85M279.9,316.3h.85M300.0,327.9h.85M292.6,344.0h.85M278.3,347.6h.85M281.7,319.9h.85M277.4,346.4h.85M293.2,326.1h.85M256.1,322.5h.85M276.1,353.4h.85M271.6,323.1h.85M242.1,353.5h.85M293.8,355.2h.85M281.8,317.1h.85M280.2,336.1h.85M289.8,325.5h.85M274.4,326.1h.85M292.7,325.7h.85M279.4,337.3h.85M282.9,309.0h.85M276.0,336.7h.85M299.7,325.4h.85M260.5,344.8h.85M286.6,341.3h.85M280.1,343.4h.85M293.9,321.1h.85M286.5,348.5h.85M287.2,337.1h.85M288.8,333.6h.85M287.6,346.4h.85M277.0,354.8h.85M277.5,347.4h.85M296.3,330.4h.85M297.6,341.4h.85M281.4,339.7h.85M278.5,350.3h.85M287.1,306.6h.85M290.6,326.5h.85M276.4,354.7h.85M268.7,330.9h.85M280.5,322.5h.85M275.6,344.6h.85M287.2,320.4h.85M263.0,321.6h.85M282.4,319.6h.85M298.3,329.7h.85M279.3,349.0h.85M235.8,284.5h.85M234.1,294.8h.85M236.7,265.8h.85M219.4,309.1h.85M252.3,294.2h.85M251.1,298.3h.85M227.9,308.5h.85M222.1,306.2h.85" stroke="#111" stroke-width="0.85" fill="none"/>
</g>
<rect x="197.6" y="259.4" width="109.79999999999998" height="110.90000000000003" fill="none" stroke="#222" stroke-width="1.1"/>
<line x1="260.3" y1="259.4" x2="260.3" y2="370.3" stroke="#111" stroke-width="2.1"/>
<line x1="197.6" y1="313.2" x2="307.4" y2="313.2" stroke="#111" stroke-width="1.9"/>
<text x="252.3" y="253.8" font-size="10.4" text-anchor="middle" textLength="50.43" lengthAdjust="spacingAndGlyphs" fill="#1c1c1c">Atuveciclib</text>
<text x="199.1" y="268.79999999999995" font-size="8.2" textLength="27.16" lengthAdjust="spacingAndGlyphs" fill="#1c1c1c">5.10537</text>
<text x="305.2" y="268.79999999999995" font-size="8.2" text-anchor="end" textLength="31.66" lengthAdjust="spacingAndGlyphs" fill="#1c1c1c">63.48742</text>
<text x="198.9" y="368.1" font-size="8.2" textLength="31.66" lengthAdjust="spacingAndGlyphs" fill="#1c1c1c">30.57784</text>
<text x="305.4" y="368.1" font-size="8.2" text-anchor="end" textLength="28.16" lengthAdjust="spacingAndGlyphs" fill="#1c1c1c">0.82937</text>
<path d="M197.6,270.3h-3M197.6,294.7h-3M197.6,319.6h-3M197.6,347.2h-3M197.6,358.5h-3M222,370.3v3.6M249,370.3v3.6M275,370.3v3.6M299.5,370.3v3.6M209.5,370.3v3.6" stroke="#1a1a1a" stroke-width="1.25" fill="none"/>
<path d="M197.6,287.4h-1.7M197.6,283.1h-1.7M197.6,280.0h-1.7M197.6,277.6h-1.7M197.6,275.7h-1.7M197.6,274.1h-1.7M197.6,272.7h-1.7M197.6,271.4h-1.7M197.6,312.1h-1.7M197.6,307.7h-1.7M197.6,304.6h-1.7M197.6,302.2h-1.7M197.6,300.2h-1.7M197.6,298.6h-1.7M197.6,297.1h-1.7M197.6,295.8h-1.7M197.6,338.9h-1.7M197.6,334.0h-1.7M197.6,330.6h-1.7M197.6,327.9h-1.7M197.6,325.7h-1.7M197.6,323.9h-1.7M197.6,322.3h-1.7M197.6,320.9h-1.7M197.6,361.0h-1.7M197.6,363.5h-1.7M197.6,356.0h-1.7M197.6,353.5h-1.7M230.1,370.3v2.2M234.9,370.3v2.2M238.3,370.3v2.2M240.9,370.3v2.2M243.0,370.3v2.2M244.8,370.3v2.2M246.4,370.3v2.2M247.8,370.3v2.2M256.8,370.3v2.2M261.4,370.3v2.2M264.7,370.3v2.2M267.2,370.3v2.2M269.2,370.3v2.2M271.0,370.3v2.2M272.5,370.3v2.2M273.8,370.3v2.2M282.4,370.3v2.2M286.7,370.3v2.2M289.8,370.3v2.2M292.1,370.3v2.2M294.1,370.3v2.2M295.7,370.3v2.2M297.1,370.3v2.2M298.4,370.3v2.2M201.5,370.3v2.2M203.5,370.3v2.2M205.5,370.3v2.2M207.5,370.3v2.2M211.5,370.3v2.2M213.5,370.3v2.2M215.5,370.3v2.2M217.5,370.3v2.2" stroke="#1a1a1a" stroke-width="0.85" fill="none"/>
<text x="178.2" y="273.6" font-size="8.6" text-anchor="start" fill="#1c1c1c" textLength="12.2" lengthAdjust="spacingAndGlyphs">10<tspan font-size="5.5" dy="-3.4">5</tspan></text>
<text x="178.2" y="298.0" font-size="8.6" text-anchor="start" fill="#1c1c1c" textLength="12.2" lengthAdjust="spacingAndGlyphs">10<tspan font-size="5.5" dy="-3.4">4</tspan></text>
<text x="178.2" y="322.90000000000003" font-size="8.6" text-anchor="start" fill="#1c1c1c" textLength="12.2" lengthAdjust="spacingAndGlyphs">10<tspan font-size="5.5" dy="-3.4">3</tspan></text>
<text x="178.2" y="350.5" font-size="8.6" text-anchor="start" fill="#1c1c1c" textLength="12.2" lengthAdjust="spacingAndGlyphs">10<tspan font-size="5.5" dy="-3.4">2</tspan></text>
<text x="189.8" y="362" font-size="8.6" text-anchor="end" fill="#1c1c1c">0</text>
<text x="213.2" y="385" font-size="8.6" text-anchor="start" fill="#1c1c1c" textLength="12.2" lengthAdjust="spacingAndGlyphs">10<tspan font-size="5.5" dy="-3.4">2</tspan></text>
<text x="240.4" y="385" font-size="8.6" text-anchor="start" fill="#1c1c1c" textLength="12.2" lengthAdjust="spacingAndGlyphs">10<tspan font-size="5.5" dy="-3.4">3</tspan></text>
<text x="266.8" y="385" font-size="8.6" text-anchor="start" fill="#1c1c1c" textLength="12.2" lengthAdjust="spacingAndGlyphs">10<tspan font-size="5.5" dy="-3.4">4</tspan></text>
<text x="291.2" y="385" font-size="8.6" text-anchor="start" fill="#1c1c1c" textLength="12.2" lengthAdjust="spacingAndGlyphs">10<tspan font-size="5.5" dy="-3.4">5</tspan></text>
<text x="207.5" y="385" font-size="8.6" text-anchor="middle" fill="#1c1c1c">0</text>
<line x1="22.7" y1="329.5" x2="22.7" y2="262" stroke="#222" stroke-width="1.3"/>
<path d="M22.7,254.5L28,266.5L22.7,263.9L17.4,266.5Z" fill="#111"/>
<text x="26.3" y="355.5" font-size="10.2" text-anchor="middle" transform="rotate(-90 26.3 355.5)" textLength="47.32" lengthAdjust="spacingAndGlyphs" fill="#1c1c1c">Annexin V</text>
<text x="56.8" y="399" font-size="10.2" textLength="8.42" lengthAdjust="spacingAndGlyphs" fill="#1c1c1c">PI</text>
<line x1="68.7" y1="396.6" x2="297" y2="396.6" stroke="#222" stroke-width="1.3"/>
<path d="M305,396.6L293,401.9L295.6,396.6L293,391.3Z" fill="#111"/>
<line x1="362.3" y1="229.6" x2="362.3" y2="293.5" stroke="#1a1a1a" stroke-width="1.45"/>
<line x1="362.3" y1="303" x2="362.3" y2="365.3" stroke="#1a1a1a" stroke-width="1.45"/>
<line x1="359.3" y1="293" x2="362.3" y2="293" stroke="#222" stroke-width="1.0"/>
<line x1="359.0" y1="232.7" x2="362.3" y2="232.7" stroke="#222" stroke-width="1.0"/>
<text x="355.90000000000003" y="235.79999999999998" font-size="8.6" text-anchor="end" textLength="13.34" lengthAdjust="spacingAndGlyphs" fill="#1c1c1c">100</text>
<line x1="359.0" y1="250" x2="362.3" y2="250" stroke="#222" stroke-width="1.0"/>
<text x="355.90000000000003" y="253.1" font-size="8.6" text-anchor="end" textLength="8.90" lengthAdjust="spacingAndGlyphs" fill="#1c1c1c">80</text>
<line x1="359.0" y1="267.3" x2="362.3" y2="267.3" stroke="#222" stroke-width="1.0"/>
<text x="355.90000000000003" y="270.40000000000003" font-size="8.6" text-anchor="end" textLength="8.90" lengthAdjust="spacingAndGlyphs" fill="#1c1c1c">60</text>
<line x1="359.0" y1="284.6" x2="362.3" y2="284.6" stroke="#222" stroke-width="1.0"/>
<text x="355.90000000000003" y="287.70000000000005" font-size="8.6" text-anchor="end" textLength="8.90" lengthAdjust="spacingAndGlyphs" fill="#1c1c1c">40</text>
<line x1="359.0" y1="303.8" x2="362.3" y2="303.8" stroke="#222" stroke-width="1.0"/>
<text x="355.90000000000003" y="306.90000000000003" font-size="8.6" text-anchor="end" textLength="8.90" lengthAdjust="spacingAndGlyphs" fill="#1c1c1c">10</text>
<line x1="359.0" y1="316.2" x2="362.3" y2="316.2" stroke="#222" stroke-width="1.0"/>
<text x="355.90000000000003" y="319.3" font-size="8.6" text-anchor="end" textLength="4.45" lengthAdjust="spacingAndGlyphs" fill="#1c1c1c">8</text>
<line x1="359.0" y1="328.5" x2="362.3" y2="328.5" stroke="#222" stroke-width="1.0"/>
<text x="355.90000000000003" y="331.6" font-size="8.6" text-anchor="end" textLength="4.45" lengthAdjust="spacingAndGlyphs" fill="#1c1c1c">6</text>
<line x1="359.0" y1="340.4" x2="362.3" y2="340.4" stroke="#222" stroke-width="1.0"/>
<text x="355.90000000000003" y="343.5" font-size="8.6" text-anchor="end" textLength="4.45" lengthAdjust="spacingAndGlyphs" fill="#1c1c1c">4</text>
<line x1="359.0" y1="352.7" x2="362.3" y2="352.7" stroke="#222" stroke-width="1.0"/>
<text x="355.90000000000003" y="355.8" font-size="8.6" text-anchor="end" textLength="4.45" lengthAdjust="spacingAndGlyphs" fill="#1c1c1c">2</text>
<line x1="359.0" y1="364.6" x2="362.3" y2="364.6" stroke="#222" stroke-width="1.0"/>
<text x="355.90000000000003" y="367.70000000000005" font-size="8.6" text-anchor="end" textLength="4.45" lengthAdjust="spacingAndGlyphs" fill="#1c1c1c">0</text>
<line x1="361.6" y1="364.6" x2="511.3" y2="364.6" stroke="#1a1a1a" stroke-width="1.45"/>
<rect x="367.30" y="356.50" width="26.90" height="8.10" fill="#A33249"/>
<rect x="404.60" y="334.60" width="26.90" height="30.00" fill="#47607F"/>
<path d="M418,334.6V326.5M411,326.5h14" stroke="#222" stroke-width="1.1" fill="none"/>
<rect x="442.30" y="349.20" width="26.50" height="15.40" fill="#77AB59"/>
<path d="M455.5,349.2V348M449,348h13" stroke="#222" stroke-width="1.1" fill="none"/>
<rect x="478.80" y="303.80" width="27.20" height="60.80" fill="#6A4568"/>
<rect x="478.80" y="269.20" width="27.20" height="23.50" fill="#6A4568"/>
<path d="M492.5,269.2V257M486,257h13.5" stroke="#222" stroke-width="1.1" fill="none"/>
<text x="492.5" y="255.4" font-size="8.4" text-anchor="middle" fill="#1c1c1c">*</text>
<line x1="380.8" y1="364.6" x2="380.8" y2="368.3" stroke="#222" stroke-width="1.0"/>
<line x1="418" y1="364.6" x2="418" y2="368.3" stroke="#222" stroke-width="1.0"/>
<line x1="455.4" y1="364.6" x2="455.4" y2="368.3" stroke="#222" stroke-width="1.0"/>
<line x1="492.3" y1="364.6" x2="492.3" y2="368.3" stroke="#222" stroke-width="1.0"/>
<text x="335" y="297" font-size="10" text-anchor="middle" transform="rotate(-90 335 297)" textLength="81.80" lengthAdjust="spacingAndGlyphs" fill="#1c1c1c">% of positive cells</text>
<text x="385.3" y="375.6" font-size="8.8" text-anchor="end" transform="rotate(-45 385.3 375.6)" textLength="29.20" lengthAdjust="spacingAndGlyphs" fill="#1c1c1c">Control</text>
<text x="422.6" y="375.6" font-size="8.8" text-anchor="end" transform="rotate(-45 422.6 375.6)" textLength="43.70" lengthAdjust="spacingAndGlyphs" fill="#1c1c1c">Atuveciclib</text>
<text x="459.8" y="375.6" font-size="8.8" text-anchor="end" transform="rotate(-45 459.8 375.6)" textLength="29.20" lengthAdjust="spacingAndGlyphs" fill="#1c1c1c">Control</text>
<text x="497.1" y="375.6" font-size="8.8" text-anchor="end" transform="rotate(-45 497.1 375.6)" textLength="43.70" lengthAdjust="spacingAndGlyphs" fill="#1c1c1c">Atuveciclib</text>
<line x1="353.5" y1="415.9" x2="412.2" y2="415.9" stroke="#1a1a1a" stroke-width="1.5"/>
<line x1="439.8" y1="415.9" x2="498.2" y2="415.9" stroke="#1a1a1a" stroke-width="1.5"/>
<text x="383" y="428" font-size="8.9" text-anchor="middle" textLength="58.71" lengthAdjust="spacingAndGlyphs" fill="#1c1c1c">Early Apoptosis</text>
<text x="383" y="439.2" font-size="8.9" text-anchor="middle" textLength="57.71" lengthAdjust="spacingAndGlyphs" fill="#1c1c1c">AnnexinV+, PI -</text>
<text x="469" y="428" font-size="8.9" text-anchor="middle" textLength="55.71" lengthAdjust="spacingAndGlyphs" fill="#1c1c1c">Late Apoptosis</text>
<text x="469" y="439.2" font-size="8.9" text-anchor="middle" textLength="60.71" lengthAdjust="spacingAndGlyphs" fill="#1c1c1c">AnnexinV+, PI +</text>
<text x="7.8" y="434.2" font-size="12.2" fill="#1c1c1c">C</text>
<text x="21.2" y="446.3" font-size="9" textLength="59.92" lengthAdjust="spacingAndGlyphs" fill="#1c1c1c">Atuveciclib(µM)</text>
<text x="105" y="446.3" font-size="8.6" text-anchor="middle" textLength="4.45" lengthAdjust="spacingAndGlyphs" fill="#1c1c1c">0</text>
<text x="130.8" y="446.3" font-size="8.6" text-anchor="middle" textLength="11.12" lengthAdjust="spacingAndGlyphs" fill="#1c1c1c">0.5</text>
<text x="158.8" y="446.3" font-size="8.6" text-anchor="middle" textLength="4.45" lengthAdjust="spacingAndGlyphs" fill="#1c1c1c">1</text>
<filter id="bl" x="-20%" y="-60%" width="140%" height="220%"><feGaussianBlur stdDeviation="1.1 0.9"/></filter>
<filter id="bl2" x="-20%" y="-60%" width="140%" height="220%"><feGaussianBlur stdDeviation="2.2 1.8"/></filter>
<filter id="bl3" x="-20%" y="-100%" width="140%" height="300%"><feGaussianBlur stdDeviation="1.2 0.6"/></filter>
<rect x="86.40" y="452.00" width="87.20" height="30.00" fill="#D2D2D2"/>
<clipPath id="cb1"><rect x="86.4" y="452" width="87.2" height="30"/></clipPath><g clip-path="url(#cb1)">
<rect x="82.4" y="447" width="95.2" height="8" fill="#E0E0E0" filter="url(#bl2)"/>
<rect x="82.4" y="463" width="95.2" height="14" fill="#C6C6C6" filter="url(#bl2)"/>
<rect x="94" y="451" width="20" height="8" fill="#E6E6E6" filter="url(#bl2)"/>
<rect x="123" y="451" width="17" height="8" fill="#E6E6E6" filter="url(#bl2)"/>
<rect x="151" y="451" width="17" height="8" fill="#E6E6E6" filter="url(#bl2)"/>
<rect x="151" y="465.5" width="17" height="7" fill="#E2E2E2" filter="url(#bl2)"/>
<rect x="92" y="471.5" width="50" height="4.5" fill="#B4B4B4" filter="url(#bl2)"/>
<g filter="url(#bl)" opacity="1">
<rect x="91.1" y="454.2" width="2.4" height="9.1" rx="1" fill="#707070"/>
<rect x="114.49999999999999" y="454.2" width="2.4" height="9.1" rx="1" fill="#707070"/>
<path d="M91.3,458.2 C95.4,460.6 112.6,460.6 116.69999999999999,458.2 L116.69999999999999,465.6 Q104.0,467.8 91.3,465.6 Z" fill="#1f1f1f"/>
</g>
<g filter="url(#bl)" opacity="1">
<rect x="119.6" y="455.4" width="2.4" height="8.1" rx="1" fill="#747474"/>
<rect x="140.4" y="455.4" width="2.4" height="8.1" rx="1" fill="#747474"/>
<path d="M119.8,459.0 C123.4,461.1 139.0,461.1 142.6,459.0 L142.6,465.4 Q131.2,467.6 119.8,465.4 Z" fill="#242424"/>
</g>
<g filter="url(#bl)" opacity="1">
<rect x="148.20000000000002" y="458.1" width="2.4" height="4.0" rx="1" fill="#5a5a5a"/>
<rect x="168.00000000000003" y="458.1" width="2.4" height="4.0" rx="1" fill="#5a5a5a"/>
<path d="M148.4,459.5 C151.9,460.7 166.7,460.7 170.20000000000002,459.5 L170.20000000000002,462.7 Q159.3,464.9 148.4,462.7 Z" fill="#333"/>
</g>
<g filter="url(#bl)" opacity="1">
<rect x="148.4" y="471.0" width="2.4" height="5.3" rx="1" fill="#8a8a8a"/>
<rect x="168.20000000000002" y="471.0" width="2.4" height="5.3" rx="1" fill="#8a8a8a"/>
<path d="M148.6,473.4 C152.1,474.3 166.9,474.3 170.4,473.4 L170.4,477.4 Q159.5,479.6 148.6,477.4 Z" fill="#262626"/>
</g>
</g>
<text x="129.8" y="490.5" font-size="8.3" text-anchor="middle" textLength="53.66" lengthAdjust="spacingAndGlyphs" fill="#1c1c1c">IB: anti-PARP1</text>
<linearGradient id="g2" x1="0" y1="0" x2="0" y2="1"><stop offset="0" stop-color="#CBCBCB"/><stop offset="0.45" stop-color="#CECECE"/><stop offset="1" stop-color="#D8D8D8"/></linearGradient>
<rect x="86.40" y="494.80" width="87.20" height="47.20" fill="url(#g2)"/>
<clipPath id="cb2"><rect x="86.4" y="494.8" width="87.2" height="47.2"/></clipPath><g clip-path="url(#cb2)">
<g filter="url(#bl)" opacity="1">
<rect x="89.2" y="498.4" width="28" height="10.2" rx="4.2" ry="5.1" fill="#141414"/>
</g>
<g filter="url(#bl)" opacity="1">
<rect x="116" y="498.6" width="27.5" height="10.8" rx="4.2" ry="5.4" fill="#161616"/>
</g>
<g filter="url(#bl)" opacity="1">
<rect x="142.6" y="499.6" width="24.6" height="7.6" rx="3.8" ry="3.8" fill="#222"/>
</g>
<g filter="url(#bl3)" opacity="1">
<rect x="145.4" y="532.7" width="23" height="3.2" rx="1.6" ry="1.6" fill="#7a7a7a"/>
</g>
<g filter="url(#bl3)" opacity="0.7">
<rect x="150" y="533.6" width="14" height="1.2" rx="0.6" ry="0.6" fill="#666"/>
</g>
</g>
<text x="129.3" y="554.4" font-size="8.3" text-anchor="middle" textLength="64.06" lengthAdjust="spacingAndGlyphs" fill="#1c1c1c">IB: anti-Caspase3</text>
<rect x="86.40" y="558.30" width="87.20" height="21.20" fill="#CDCDCD"/>
<clipPath id="cb3"><rect x="86.4" y="558.3" width="87.2" height="21.2"/></clipPath><g clip-path="url(#cb3)">
<rect x="82.4" y="565" width="95.2" height="11" fill="#C2C2C2" filter="url(#bl2)"/>
<g filter="url(#bl)" opacity="1">
<rect x="89.39999999999999" y="560.7" width="2.4" height="10.6" rx="1" fill="#505050"/>
<rect x="113.39999999999999" y="560.7" width="2.4" height="10.6" rx="1" fill="#505050"/>
<path d="M89.6,566.8 C93.8,568.9 111.4,568.9 115.6,566.8 L115.6,573.2 Q102.6,575.4 89.6,573.2 Z" fill="#1c1c1c"/>
</g>
<g filter="url(#bl)" opacity="1">
<rect x="118.3" y="561.4" width="2.4" height="10.1" rx="1" fill="#525252"/>
<rect x="141.3" y="561.4" width="2.4" height="10.1" rx="1" fill="#525252"/>
<path d="M118.5,567.2 C122.5,569.0 139.5,569.0 143.5,567.2 L143.5,573.4 Q131.0,575.6 118.5,573.4 Z" fill="#1e1e1e"/>
</g>
<g filter="url(#bl)" opacity="1">
<rect x="146.10000000000002" y="563.8" width="2.4" height="7.6" rx="1" fill="#5c5c5c"/>
<rect x="167.10000000000002" y="563.8" width="2.4" height="7.6" rx="1" fill="#5c5c5c"/>
<path d="M146.3,567.8 C150.0,569.3 165.6,569.3 169.3,567.8 L169.3,572.8 Q157.8,575.0 146.3,572.8 Z" fill="#262626"/>
</g>
</g>
<text x="129" y="588.2" font-size="8.3" text-anchor="middle" textLength="52.36" lengthAdjust="spacingAndGlyphs" fill="#1c1c1c">IB: anti-HSP90</text>
<line x1="192.3" y1="461.3" x2="179" y2="461.3" stroke="#222" stroke-width="1.3"/>
<path d="M174.6,461.3L181.4,457.90000000000003L180,461.3L181.4,464.7Z" fill="#111"/>
<text x="195.6" y="464.3" font-size="8.6" textLength="20.69" lengthAdjust="spacingAndGlyphs" fill="#1c1c1c">PARP</text>
<line x1="192.3" y1="474.2" x2="179" y2="474.2" stroke="#222" stroke-width="1.3"/>
<path d="M174.6,474.2L181.4,470.8L180,474.2L181.4,477.59999999999997Z" fill="#111"/>
<text x="195.6" y="477.2" font-size="8.6" textLength="52.69" lengthAdjust="spacingAndGlyphs" fill="#1c1c1c">Cleaved PARP</text>
<line x1="192.3" y1="501.5" x2="179" y2="501.5" stroke="#222" stroke-width="1.3"/>
<path d="M174.6,501.5L181.4,498.1L180,501.5L181.4,504.9Z" fill="#111"/>
<text x="195.6" y="504.5" font-size="8.6" textLength="37.89" lengthAdjust="spacingAndGlyphs" fill="#1c1c1c">Caspase 3</text>
<line x1="192.3" y1="533.4" x2="179" y2="533.4" stroke="#222" stroke-width="1.3"/>
<path d="M174.6,533.4L181.4,530.0L180,533.4L181.4,536.8Z" fill="#111"/>
<text x="195.6" y="536.4" font-size="8.6" textLength="70.09" lengthAdjust="spacingAndGlyphs" fill="#1c1c1c">Cleaved Caspase 3</text>
<line x1="192.3" y1="571.2" x2="179" y2="571.2" stroke="#222" stroke-width="1.3"/>
<path d="M174.6,571.2L181.4,567.8000000000001L180,571.2L181.4,574.6Z" fill="#111"/>
<text x="195.6" y="574.2" font-size="8.6" textLength="25.69" lengthAdjust="spacingAndGlyphs" fill="#1c1c1c">HSP90</text>
<text x="7.8" y="620" font-size="12.2" fill="#1c1c1c">D</text>
<line x1="55" y1="627.5" x2="55" y2="733.9000000000001" stroke="#1a1a1a" stroke-width="1.45"/>
<line x1="54.3" y1="733.2" x2="237.6" y2="733.2" stroke="#1a1a1a" stroke-width="1.45"/>
<line x1="51.7" y1="631.2" x2="55" y2="631.2" stroke="#222" stroke-width="1.0"/>
<text x="48.4" y="634.3000000000001" font-size="8.6" text-anchor="end" textLength="13.34" lengthAdjust="spacingAndGlyphs" fill="#1c1c1c">150</text>
<line x1="51.7" y1="665.2" x2="55" y2="665.2" stroke="#222" stroke-width="1.0"/>
<text x="48.4" y="668.3000000000001" font-size="8.6" text-anchor="end" textLength="13.34" lengthAdjust="spacingAndGlyphs" fill="#1c1c1c">100</text>
<line x1="51.7" y1="699.2" x2="55" y2="699.2" stroke="#222" stroke-width="1.0"/>
<text x="48.4" y="702.3000000000001" font-size="8.6" text-anchor="end" textLength="8.90" lengthAdjust="spacingAndGlyphs" fill="#1c1c1c">50</text>
<line x1="51.7" y1="733.2" x2="55" y2="733.2" stroke="#222" stroke-width="1.0"/>
<text x="48.4" y="736.3000000000001" font-size="8.6" text-anchor="end" textLength="4.45" lengthAdjust="spacingAndGlyphs" fill="#1c1c1c">0</text>
<rect x="64.25" y="664.32" width="43.30" height="68.88" fill="#A33249"/>
<line x1="85.9" y1="733.2" x2="85.9" y2="736.8000000000001" stroke="#222" stroke-width="1.0"/>
<rect x="124.80" y="682.00" width="43.60" height="51.20" fill="#47607F"/>
<line x1="146.6" y1="733.2" x2="146.6" y2="736.8000000000001" stroke="#222" stroke-width="1.0"/>
<path d="M146.6,682.0V677.4M135.1,677.4h23" stroke="#222" stroke-width="1.1" fill="none"/>
<rect x="185.40" y="719.12" width="43.60" height="14.08" fill="#77AB59"/>
<line x1="207.20000000000002" y1="733.2" x2="207.20000000000002" y2="736.8000000000001" stroke="#222" stroke-width="1.0"/>
<path d="M207.2,719.1V716.1M195.7,716.1h23" stroke="#222" stroke-width="1.1" fill="none"/>
<text x="207.20000000000002" y="715.1320000000001" font-size="9.2" text-anchor="middle" textLength="10.74" lengthAdjust="spacingAndGlyphs" fill="#1c1c1c">***</text>
<text x="85.9" y="748" font-size="8.8" text-anchor="middle" textLength="29.20" lengthAdjust="spacingAndGlyphs" fill="#1c1c1c">Control</text>
<text x="146.6" y="748" font-size="8.6" text-anchor="middle" textLength="11.12" lengthAdjust="spacingAndGlyphs" fill="#1c1c1c">0.5</text>
<text x="207.2" y="748" font-size="8.6" text-anchor="middle" textLength="4.45" lengthAdjust="spacingAndGlyphs" fill="#1c1c1c">1</text>
<text x="146.8" y="762.4" font-size="10.2" text-anchor="middle" textLength="71.72" lengthAdjust="spacingAndGlyphs" fill="#1c1c1c">Atuveciclib(µM)</text>
<text x="26.5" y="680.9" font-size="9.8" text-anchor="middle" transform="rotate(-90 26.5 680.9)" textLength="72.78" lengthAdjust="spacingAndGlyphs" fill="#1c1c1c">% control CFU-L</text>
<text x="254.6" y="620" font-size="12.2" fill="#1c1c1c">E</text>
<line x1="300.6" y1="624.2" x2="300.6" y2="733.5" stroke="#1a1a1a" stroke-width="1.45"/>
<line x1="299.90000000000003" y1="732.8" x2="470.8" y2="732.8" stroke="#1a1a1a" stroke-width="1.45"/>
<line x1="297.3" y1="627.005" x2="300.6" y2="627.005" stroke="#222" stroke-width="1.0"/>
<text x="294.0" y="630.105" font-size="8.6" text-anchor="end" textLength="13.34" lengthAdjust="spacingAndGlyphs" fill="#1c1c1c">150</text>
<line x1="297.3" y1="662.27" x2="300.6" y2="662.27" stroke="#222" stroke-width="1.0"/>
<text x="294.0" y="665.37" font-size="8.6" text-anchor="end" textLength="13.34" lengthAdjust="spacingAndGlyphs" fill="#1c1c1c">100</text>
<line x1="297.3" y1="697.535" x2="300.6" y2="697.535" stroke="#222" stroke-width="1.0"/>
<text x="294.0" y="700.635" font-size="8.6" text-anchor="end" textLength="8.90" lengthAdjust="spacingAndGlyphs" fill="#1c1c1c">50</text>
<line x1="297.3" y1="732.8" x2="300.6" y2="732.8" stroke="#222" stroke-width="1.0"/>
<text x="294.0" y="735.9" font-size="8.6" text-anchor="end" textLength="4.45" lengthAdjust="spacingAndGlyphs" fill="#1c1c1c">0</text>
<rect x="307.40" y="661.42" width="43.60" height="71.38" fill="#A33249"/>
<line x1="329.2" y1="732.8" x2="329.2" y2="736.4" stroke="#222" stroke-width="1.0"/>
<rect x="364.20" y="696.97" width="43.40" height="35.83" fill="#47607F"/>
<line x1="385.9" y1="732.8" x2="385.9" y2="736.4" stroke="#222" stroke-width="1.0"/>
<path d="M385.9,697.0V693.1M374.4,693.1h23" stroke="#222" stroke-width="1.1" fill="none"/>
<text x="385.9" y="692.09161" font-size="9.2" text-anchor="middle" textLength="7.16" lengthAdjust="spacingAndGlyphs" fill="#1c1c1c">**</text>
<rect x="420.80" y="716.44" width="43.60" height="16.36" fill="#77AB59"/>
<line x1="442.6" y1="732.8" x2="442.6" y2="736.4" stroke="#222" stroke-width="1.0"/>
<path d="M442.6,716.4V715.0M431.1,715.0h23" stroke="#222" stroke-width="1.1" fill="none"/>
<text x="442.6" y="714.02644" font-size="9.2" text-anchor="middle" textLength="14.32" lengthAdjust="spacingAndGlyphs" fill="#1c1c1c">****</text>
<text x="329.2" y="748" font-size="8.8" text-anchor="middle" textLength="29.20" lengthAdjust="spacingAndGlyphs" fill="#1c1c1c">Control</text>
<text x="386" y="748" font-size="8.6" text-anchor="middle" textLength="11.12" lengthAdjust="spacingAndGlyphs" fill="#1c1c1c">0.5</text>
<text x="442.6" y="748" font-size="8.6" text-anchor="middle" textLength="4.45" lengthAdjust="spacingAndGlyphs" fill="#1c1c1c">1</text>
<text x="386.3" y="762.4" font-size="10.2" text-anchor="middle" textLength="70.82" lengthAdjust="spacingAndGlyphs" fill="#1c1c1c">Atuveciclib(µM)</text>
<text x="272.4" y="678.9" font-size="9.8" text-anchor="middle" transform="rotate(-90 272.4 678.9)" textLength="72.78" lengthAdjust="spacingAndGlyphs" fill="#1c1c1c">% control CFU-L</text>
<rect x="0" y="0" width="520" height="1.8" fill="#505050"/><rect x="518" y="0" width="2" height="774" fill="#555"/><rect x="0" y="772.3" width="520" height="1.7" fill="#555"/><rect x="0" y="0" width="1" height="774" fill="#050505"/>
</svg>
</body></html>
